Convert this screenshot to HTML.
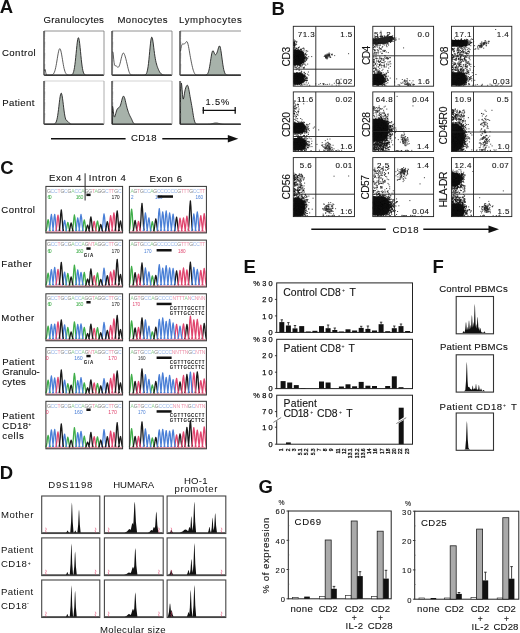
<!DOCTYPE html>
<html><head><meta charset="utf-8"><style>
html,body{margin:0;padding:0;background:#fff;}
body{width:520px;height:633px;overflow:hidden;}
svg{display:block;font-family:"Liberation Sans",sans-serif;filter:blur(0.3px);}
</style></head><body>
<svg width="520" height="633" viewBox="0 0 520 633" fill="#111">
<defs><clipPath id="cb00"><rect x="293.3" y="26.3" width="61.2" height="59.9"/></clipPath><clipPath id="cb01"><rect x="372.8" y="26.3" width="60.8" height="59.9"/></clipPath><clipPath id="cb02"><rect x="451.5" y="26.3" width="60.3" height="59.9"/></clipPath><clipPath id="cb10"><rect x="293.3" y="91.9" width="61.2" height="59.6"/></clipPath><clipPath id="cb11"><rect x="372.8" y="91.9" width="60.8" height="59.6"/></clipPath><clipPath id="cb12"><rect x="451.5" y="91.9" width="60.3" height="59.6"/></clipPath><clipPath id="cb20"><rect x="293.3" y="157.6" width="61.2" height="59"/></clipPath><clipPath id="cb21"><rect x="372.8" y="157.6" width="60.8" height="59"/></clipPath><clipPath id="cb22"><rect x="451.5" y="157.6" width="60.3" height="59"/></clipPath></defs>
<text x="-0.3" y="12.7" font-size="18.5" font-weight="bold">A</text><text x="43.4" y="22.8" font-size="9.6" textLength="60.5" stroke="#111" stroke-width="0.1">Granulocytes</text><text x="117.4" y="22.8" font-size="9.6" textLength="50.2" stroke="#111" stroke-width="0.1">Monocytes</text><text x="179" y="22.8" font-size="9.6" textLength="62.8" stroke="#111" stroke-width="0.1">Lymphocytes</text><text x="1.9" y="56.1" font-size="9.6" textLength="33.7" stroke="#111" stroke-width="0.1">Control</text><text x="2.2" y="105.8" font-size="9.6" textLength="32.2" stroke="#111" stroke-width="0.1">Patient</text><path d="M44.5 75.2 L44.5 75.2 L44.9 75.2 L45.3 75.2 L45.7 75.2 L46.1 75.2 L46.5 75.2 L46.9 75.2 L47.3 75.2 L47.7 75.2 L48.1 75.2 L48.5 75.2 L48.9 75.2 L49.3 75.2 L49.7 75.2 L50.1 75.2 L50.5 75.2 L50.9 75.2 L51.3 75.2 L51.7 75.2 L52.1 75.2 L52.5 75.2 L52.9 75.2 L53.3 75.2 L53.7 75.2 L54.1 75.2 L54.5 75.2 L54.9 75.2 L55.3 75.2 L55.7 75.2 L56.1 75.2 L56.5 75.2 L56.9 75.2 L57.3 75.2 L57.7 75.2 L58.1 75.2 L58.5 75.2 L58.9 75.2 L59.3 75.2 L59.7 75.2 L60.1 75.2 L60.5 75.2 L60.9 75.2 L61.3 75.2 L61.7 75.2 L62.1 75.2 L62.5 75.2 L62.9 75.2 L63.3 75.2 L63.7 75.2 L64.1 75.2 L64.5 75.2 L64.9 75.2 L65.3 75.2 L65.7 75.2 L66.1 75.2 L66.5 75.2 L66.9 75.2 L67.3 75.2 L67.7 75.2 L68.1 75.2 L68.5 75.2 L68.9 75.2 L69.3 75.2 L69.7 75.2 L70.1 75.2 L70.5 75.1 L70.9 75.1 L71.3 75 L71.7 74.8 L72.1 74.6 L72.5 74.2 L72.9 73.6 L73.3 72.6 L73.7 71.4 L74.1 69.6 L74.5 67.4 L74.9 64.6 L75.3 61.3 L75.7 57.5 L76.1 53.5 L76.5 49.4 L76.9 45.5 L77.3 42.1 L77.7 39.6 L78.1 38 L78.5 37.7 L78.9 38.7 L79.3 40.7 L79.7 43.7 L80.1 47.4 L80.5 51.4 L80.9 55.5 L81.3 59.5 L81.7 63 L82.1 66.1 L82.5 68.6 L82.9 70.6 L83.3 72.1 L83.7 73.1 L84.1 73.9 L84.5 74.4 L84.9 74.7 L85.3 74.9 L85.7 75 L86.1 75.1 L86.5 75.2 L86.9 75.2 L87.3 75.2 L87.7 75.2 L88.1 75.2 L88.5 75.2 L88.9 75.2 L89.3 75.2 L89.7 75.2 L90.1 75.2 L90.5 75.2 L90.9 75.2 L91.3 75.2 L91.7 75.2 L92.1 75.2 L92.5 75.2 L92.9 75.2 L93.3 75.2 L93.7 75.2 L94.1 75.2 L94.5 75.2 L94.9 75.2 L95.3 75.2 L95.7 75.2 L96.1 75.2 L96.5 75.2 L96.9 75.2 L97.3 75.2 L97.7 75.2 L98.1 75.2 L98.5 75.2 L98.9 75.2 L99.3 75.2 L99.7 75.2 L100.1 75.2 L100.5 75.2 L100.9 75.2 L101.3 75.2 L101.7 75.2 L102.1 75.2 L102.5 75.2 L102.9 75.2 L103.3 75.2 L103.3 75.2Z" fill="#a7b2aa" stroke="#222" stroke-width="0.9"/><path d="M44.5 71 L44.9 69.3 L45.3 69.9 L45.7 72.2 L46.1 74.1 L46.5 74.9 L46.9 75.2 L47.3 75.2 L47.7 75.2 L48.1 75.2 L48.5 75.2 L48.9 75.2 L49.3 75.2 L49.7 75.2 L50.1 75.2 L50.5 75.2 L50.9 75.1 L51.3 75.1 L51.7 75 L52.1 74.9 L52.5 74.7 L52.9 74.4 L53.3 74 L53.7 73.5 L54.1 72.8 L54.5 71.9 L54.9 70.7 L55.3 69.3 L55.7 67.6 L56.1 65.6 L56.5 63.4 L56.9 61 L57.3 58.5 L57.7 56.1 L58.1 53.8 L58.5 51.8 L58.9 50.2 L59.3 49.2 L59.7 48.7 L60.1 48.9 L60.5 49.6 L60.9 51 L61.3 52.8 L61.7 54.9 L62.1 57.3 L62.5 59.7 L62.9 62.2 L63.3 64.5 L63.7 66.6 L64.1 68.5 L64.5 70 L64.9 71.3 L65.3 72.4 L65.7 73.2 L66.1 73.8 L66.5 74.2 L66.9 74.6 L67.3 74.8 L67.7 74.9 L68.1 75 L68.5 75.1 L68.9 75.1 L69.3 75.2 L69.7 75.2 L70.1 75.2 L70.5 75.2 L70.9 75.2 L71.3 75.2 L71.7 75.2 L72.1 75.2 L72.5 75.2 L72.9 75.2 L73.3 75.2 L73.7 75.2 L74.1 75.2 L74.5 75.2 L74.9 75.2 L75.3 75.2 L75.7 75.2 L76.1 75.2 L76.5 75.2 L76.9 75.2 L77.3 75.2 L77.7 75.2 L78.1 75.2 L78.5 75.2 L78.9 75.2 L79.3 75.2 L79.7 75.2 L80.1 75.2 L80.5 75.2 L80.9 75.2 L81.3 75.2 L81.7 75.2 L82.1 75.2 L82.5 75.2 L82.9 75.2 L83.3 75.2 L83.7 75.2 L84.1 75.2 L84.5 75.2 L84.9 75.2 L85.3 75.2 L85.7 75.2 L86.1 75.2 L86.5 75.2 L86.9 75.2 L87.3 75.2 L87.7 75.2 L88.1 75.2 L88.5 75.2 L88.9 75.2 L89.3 75.2 L89.7 75.2 L90.1 75.2 L90.5 75.2 L90.9 75.2 L91.3 75.2 L91.7 75.2 L92.1 75.2 L92.5 75.2 L92.9 75.2 L93.3 75.2 L93.7 75.2 L94.1 75.2 L94.5 75.2 L94.9 75.2 L95.3 75.2 L95.7 75.2 L96.1 75.2 L96.5 75.2 L96.9 75.2 L97.3 75.2 L97.7 75.2 L98.1 75.2 L98.5 75.2 L98.9 75.2 L99.3 75.2 L99.7 75.2 L100.1 75.2 L100.5 75.2 L100.9 75.2 L101.3 75.2 L101.7 75.2 L102.1 75.2 L102.5 75.2 L102.9 75.2 L103.3 75.2" fill="none" stroke="#333" stroke-width="0.8"/><line x1="44" y1="31" x2="104" y2="31" stroke="#777" stroke-width="0.8"/><line x1="104" y1="31" x2="104" y2="75.2" stroke="#777" stroke-width="0.8"/><line x1="44" y1="75.2" x2="104" y2="75.2" stroke="#333" stroke-width="1.0"/><line x1="44" y1="31" x2="44" y2="75.2" stroke="#222" stroke-width="1.2"/><line x1="44" y1="75.2" x2="45.2" y2="75.2" stroke="#666" stroke-width="0.4"/><line x1="44" y1="71.9" x2="45.2" y2="71.9" stroke="#666" stroke-width="0.4"/><line x1="44" y1="69.9" x2="45.2" y2="69.9" stroke="#666" stroke-width="0.4"/><line x1="44" y1="68.6" x2="45.2" y2="68.6" stroke="#666" stroke-width="0.4"/><line x1="44" y1="67.5" x2="45.2" y2="67.5" stroke="#666" stroke-width="0.4"/><line x1="44" y1="66.6" x2="45.2" y2="66.6" stroke="#666" stroke-width="0.4"/><line x1="44" y1="65.8" x2="45.2" y2="65.8" stroke="#666" stroke-width="0.4"/><line x1="44" y1="65.3" x2="45.2" y2="65.3" stroke="#666" stroke-width="0.4"/><line x1="44" y1="64.7" x2="45.2" y2="64.7" stroke="#666" stroke-width="0.4"/><line x1="44" y1="64.2" x2="45.2" y2="64.2" stroke="#666" stroke-width="0.4"/><line x1="44" y1="60.8" x2="45.2" y2="60.8" stroke="#666" stroke-width="0.4"/><line x1="44" y1="58.8" x2="45.2" y2="58.8" stroke="#666" stroke-width="0.4"/><line x1="44" y1="57.5" x2="45.2" y2="57.5" stroke="#666" stroke-width="0.4"/><line x1="44" y1="56.4" x2="45.2" y2="56.4" stroke="#666" stroke-width="0.4"/><line x1="44" y1="55.5" x2="45.2" y2="55.5" stroke="#666" stroke-width="0.4"/><line x1="44" y1="54.8" x2="45.2" y2="54.8" stroke="#666" stroke-width="0.4"/><line x1="44" y1="54.2" x2="45.2" y2="54.2" stroke="#666" stroke-width="0.4"/><line x1="44" y1="53.7" x2="45.2" y2="53.7" stroke="#666" stroke-width="0.4"/><line x1="44" y1="53.1" x2="45.2" y2="53.1" stroke="#666" stroke-width="0.4"/><line x1="44" y1="49.8" x2="45.2" y2="49.8" stroke="#666" stroke-width="0.4"/><line x1="44" y1="47.8" x2="45.2" y2="47.8" stroke="#666" stroke-width="0.4"/><line x1="44" y1="46.5" x2="45.2" y2="46.5" stroke="#666" stroke-width="0.4"/><line x1="44" y1="45.4" x2="45.2" y2="45.4" stroke="#666" stroke-width="0.4"/><line x1="44" y1="44.5" x2="45.2" y2="44.5" stroke="#666" stroke-width="0.4"/><line x1="44" y1="43.7" x2="45.2" y2="43.7" stroke="#666" stroke-width="0.4"/><line x1="44" y1="43.2" x2="45.2" y2="43.2" stroke="#666" stroke-width="0.4"/><line x1="44" y1="42.6" x2="45.2" y2="42.6" stroke="#666" stroke-width="0.4"/><line x1="44" y1="42" x2="45.2" y2="42" stroke="#666" stroke-width="0.4"/><line x1="44" y1="38.7" x2="45.2" y2="38.7" stroke="#666" stroke-width="0.4"/><line x1="44" y1="36.7" x2="45.2" y2="36.7" stroke="#666" stroke-width="0.4"/><line x1="44" y1="35.4" x2="45.2" y2="35.4" stroke="#666" stroke-width="0.4"/><line x1="44" y1="34.3" x2="45.2" y2="34.3" stroke="#666" stroke-width="0.4"/><line x1="44" y1="33.4" x2="45.2" y2="33.4" stroke="#666" stroke-width="0.4"/><line x1="44" y1="32.7" x2="45.2" y2="32.7" stroke="#666" stroke-width="0.4"/><line x1="44" y1="32.1" x2="45.2" y2="32.1" stroke="#666" stroke-width="0.4"/><line x1="44" y1="31.6" x2="45.2" y2="31.6" stroke="#666" stroke-width="0.4"/><path d="M112.5 75.2 L112.5 75.2 L112.9 75.2 L113.3 75.2 L113.7 75.2 L114.1 75.2 L114.5 75.2 L114.9 75.2 L115.3 75.2 L115.7 75.2 L116.1 75.2 L116.5 75.2 L116.9 75.2 L117.3 75.2 L117.7 75.2 L118.1 75.2 L118.5 75.2 L118.9 75.2 L119.3 75.2 L119.7 75.2 L120.1 75.2 L120.5 75.2 L120.9 75.2 L121.3 75.2 L121.7 75.2 L122.1 75.2 L122.5 75.2 L122.9 75.2 L123.3 75.2 L123.7 75.2 L124.1 75.2 L124.5 75.2 L124.9 75.2 L125.3 75.2 L125.7 75.2 L126.1 75.2 L126.5 75.2 L126.9 75.2 L127.3 75.2 L127.7 75.2 L128.1 75.2 L128.5 75.2 L128.9 75.2 L129.3 75.2 L129.7 75.2 L130.1 75.2 L130.5 75.2 L130.9 75.2 L131.3 75.2 L131.7 75.2 L132.1 75.2 L132.5 75.2 L132.9 75.2 L133.3 75.2 L133.7 75.2 L134.1 75.2 L134.5 75.2 L134.9 75.2 L135.3 75.2 L135.7 75.2 L136.1 75.2 L136.5 75.2 L136.9 75.2 L137.3 75.2 L137.7 75.2 L138.1 75.2 L138.5 75.2 L138.9 75.2 L139.3 75.2 L139.7 75.2 L140.1 75.2 L140.5 75.2 L140.9 75.2 L141.3 75.2 L141.7 75.2 L142.1 75.2 L142.5 75.2 L142.9 75.2 L143.3 75.2 L143.7 75.1 L144.1 75.1 L144.5 75 L144.9 74.9 L145.3 74.8 L145.7 74.5 L146.1 74 L146.5 73.4 L146.9 72.4 L147.3 70.9 L147.7 69 L148.1 66.5 L148.5 63.4 L148.9 59.7 L149.3 55.6 L149.7 51.3 L150.1 47.1 L150.5 43.2 L150.9 40.1 L151.3 38.1 L151.7 37.2 L152.1 37.5 L152.5 38.9 L152.9 41.1 L153.3 44 L153.7 47.2 L154.1 50.4 L154.5 53.5 L154.9 56.2 L155.3 58.6 L155.7 60.7 L156.1 62.5 L156.5 64 L156.9 65.4 L157.3 66.6 L157.7 67.7 L158.1 68.7 L158.5 69.6 L158.9 70.5 L159.3 71.3 L159.7 72 L160.1 72.6 L160.5 73.1 L160.9 73.6 L161.3 73.9 L161.7 74.2 L162.1 74.5 L162.5 74.7 L162.9 74.8 L163.3 74.9 L163.7 75 L164.1 75.1 L164.5 75.1 L164.9 75.1 L165.3 75.2 L165.7 75.2 L166.1 75.2 L166.5 75.2 L166.9 75.2 L167.3 75.2 L167.7 75.2 L168.1 75.2 L168.5 75.2 L168.9 75.2 L169.3 75.2 L169.7 75.2 L170.1 75.2 L170.5 75.2 L170.9 75.2 L171.3 75.2 L171.3 75.2Z" fill="#a7b2aa" stroke="#222" stroke-width="0.9"/><path d="M112.5 51.8 L112.9 51.8 L113.3 54.9 L113.7 59.2 L114.1 62.8 L114.5 64.8 L114.9 65.6 L115.3 65.7 L115.7 65.8 L116.1 65.9 L116.5 66.2 L116.9 66.5 L117.3 66.9 L117.7 67.2 L118.1 67.3 L118.5 67.1 L118.9 66.6 L119.3 65.8 L119.7 64.7 L120.1 63.3 L120.5 61.7 L120.9 59.9 L121.3 58.2 L121.7 56.6 L122.1 55.2 L122.5 54.1 L122.9 53.3 L123.3 53 L123.7 53.2 L124.1 53.7 L124.5 54.5 L124.9 55.6 L125.3 56.9 L125.7 58.3 L126.1 59.8 L126.5 61.5 L126.9 63.2 L127.3 64.9 L127.7 66.7 L128.1 68.4 L128.5 69.9 L128.9 71.3 L129.3 72.4 L129.7 73.3 L130.1 73.9 L130.5 74.4 L130.9 74.7 L131.3 74.9 L131.7 75 L132.1 75.1 L132.5 75.1 L132.9 75.2 L133.3 75.2 L133.7 75.2 L134.1 75.2 L134.5 75.2 L134.9 75.2 L135.3 75.2 L135.7 75.2 L136.1 75.2 L136.5 75.2 L136.9 75.2 L137.3 75.2 L137.7 75.2 L138.1 75.2 L138.5 75.2 L138.9 75.2 L139.3 75.2 L139.7 75.2 L140.1 75.2 L140.5 75.2 L140.9 75.2 L141.3 75.2 L141.7 75.2 L142.1 75.2 L142.5 75.2 L142.9 75.2 L143.3 75.2 L143.7 75.2 L144.1 75.2 L144.5 75.2 L144.9 75.2 L145.3 75.2 L145.7 75.2 L146.1 75.2 L146.5 75.2 L146.9 75.2 L147.3 75.2 L147.7 75.2 L148.1 75.2 L148.5 75.2 L148.9 75.2 L149.3 75.2 L149.7 75.2 L150.1 75.2 L150.5 75.2 L150.9 75.2 L151.3 75.2 L151.7 75.2 L152.1 75.2 L152.5 75.2 L152.9 75.2 L153.3 75.2 L153.7 75.2 L154.1 75.2 L154.5 75.2 L154.9 75.2 L155.3 75.2 L155.7 75.2 L156.1 75.2 L156.5 75.2 L156.9 75.2 L157.3 75.2 L157.7 75.2 L158.1 75.2 L158.5 75.2 L158.9 75.2 L159.3 75.2 L159.7 75.2 L160.1 75.2 L160.5 75.2 L160.9 75.2 L161.3 75.2 L161.7 75.2 L162.1 75.2 L162.5 75.2 L162.9 75.2 L163.3 75.2 L163.7 75.2 L164.1 75.2 L164.5 75.2 L164.9 75.2 L165.3 75.2 L165.7 75.2 L166.1 75.2 L166.5 75.2 L166.9 75.2 L167.3 75.2 L167.7 75.2 L168.1 75.2 L168.5 75.2 L168.9 75.2 L169.3 75.2 L169.7 75.2 L170.1 75.2 L170.5 75.2 L170.9 75.2 L171.3 75.2" fill="none" stroke="#333" stroke-width="0.8"/><line x1="112" y1="31" x2="172" y2="31" stroke="#777" stroke-width="0.8"/><line x1="172" y1="31" x2="172" y2="75.2" stroke="#777" stroke-width="0.8"/><line x1="112" y1="75.2" x2="172" y2="75.2" stroke="#333" stroke-width="1.0"/><line x1="112" y1="31" x2="112" y2="75.2" stroke="#222" stroke-width="1.2"/><line x1="112" y1="75.2" x2="113.2" y2="75.2" stroke="#666" stroke-width="0.4"/><line x1="112" y1="71.9" x2="113.2" y2="71.9" stroke="#666" stroke-width="0.4"/><line x1="112" y1="69.9" x2="113.2" y2="69.9" stroke="#666" stroke-width="0.4"/><line x1="112" y1="68.6" x2="113.2" y2="68.6" stroke="#666" stroke-width="0.4"/><line x1="112" y1="67.5" x2="113.2" y2="67.5" stroke="#666" stroke-width="0.4"/><line x1="112" y1="66.6" x2="113.2" y2="66.6" stroke="#666" stroke-width="0.4"/><line x1="112" y1="65.8" x2="113.2" y2="65.8" stroke="#666" stroke-width="0.4"/><line x1="112" y1="65.3" x2="113.2" y2="65.3" stroke="#666" stroke-width="0.4"/><line x1="112" y1="64.7" x2="113.2" y2="64.7" stroke="#666" stroke-width="0.4"/><line x1="112" y1="64.2" x2="113.2" y2="64.2" stroke="#666" stroke-width="0.4"/><line x1="112" y1="60.8" x2="113.2" y2="60.8" stroke="#666" stroke-width="0.4"/><line x1="112" y1="58.8" x2="113.2" y2="58.8" stroke="#666" stroke-width="0.4"/><line x1="112" y1="57.5" x2="113.2" y2="57.5" stroke="#666" stroke-width="0.4"/><line x1="112" y1="56.4" x2="113.2" y2="56.4" stroke="#666" stroke-width="0.4"/><line x1="112" y1="55.5" x2="113.2" y2="55.5" stroke="#666" stroke-width="0.4"/><line x1="112" y1="54.8" x2="113.2" y2="54.8" stroke="#666" stroke-width="0.4"/><line x1="112" y1="54.2" x2="113.2" y2="54.2" stroke="#666" stroke-width="0.4"/><line x1="112" y1="53.7" x2="113.2" y2="53.7" stroke="#666" stroke-width="0.4"/><line x1="112" y1="53.1" x2="113.2" y2="53.1" stroke="#666" stroke-width="0.4"/><line x1="112" y1="49.8" x2="113.2" y2="49.8" stroke="#666" stroke-width="0.4"/><line x1="112" y1="47.8" x2="113.2" y2="47.8" stroke="#666" stroke-width="0.4"/><line x1="112" y1="46.5" x2="113.2" y2="46.5" stroke="#666" stroke-width="0.4"/><line x1="112" y1="45.4" x2="113.2" y2="45.4" stroke="#666" stroke-width="0.4"/><line x1="112" y1="44.5" x2="113.2" y2="44.5" stroke="#666" stroke-width="0.4"/><line x1="112" y1="43.7" x2="113.2" y2="43.7" stroke="#666" stroke-width="0.4"/><line x1="112" y1="43.2" x2="113.2" y2="43.2" stroke="#666" stroke-width="0.4"/><line x1="112" y1="42.6" x2="113.2" y2="42.6" stroke="#666" stroke-width="0.4"/><line x1="112" y1="42" x2="113.2" y2="42" stroke="#666" stroke-width="0.4"/><line x1="112" y1="38.7" x2="113.2" y2="38.7" stroke="#666" stroke-width="0.4"/><line x1="112" y1="36.7" x2="113.2" y2="36.7" stroke="#666" stroke-width="0.4"/><line x1="112" y1="35.4" x2="113.2" y2="35.4" stroke="#666" stroke-width="0.4"/><line x1="112" y1="34.3" x2="113.2" y2="34.3" stroke="#666" stroke-width="0.4"/><line x1="112" y1="33.4" x2="113.2" y2="33.4" stroke="#666" stroke-width="0.4"/><line x1="112" y1="32.7" x2="113.2" y2="32.7" stroke="#666" stroke-width="0.4"/><line x1="112" y1="32.1" x2="113.2" y2="32.1" stroke="#666" stroke-width="0.4"/><line x1="112" y1="31.6" x2="113.2" y2="31.6" stroke="#666" stroke-width="0.4"/><path d="M180.5 75.2 L180.5 75.2 L180.9 75.2 L181.3 75.2 L181.7 75.2 L182.1 75.2 L182.5 75.2 L182.9 75.2 L183.3 75.2 L183.7 75.2 L184.1 75.2 L184.5 75.2 L184.9 75.2 L185.3 75.2 L185.7 75.2 L186.1 75.2 L186.5 75.2 L186.9 75.2 L187.3 75.2 L187.7 75.2 L188.1 75.2 L188.5 75.2 L188.9 75.2 L189.3 75.2 L189.7 75.2 L190.1 75.2 L190.5 75.2 L190.9 75.2 L191.3 75.2 L191.7 75.2 L192.1 75.2 L192.5 75.2 L192.9 75.2 L193.3 75.2 L193.7 75.2 L194.1 75.2 L194.5 75.2 L194.9 75.2 L195.3 75.2 L195.7 75.2 L196.1 75.2 L196.5 75.2 L196.9 75.2 L197.3 75.2 L197.7 75.2 L198.1 75.2 L198.5 75.2 L198.9 75.2 L199.3 75.2 L199.7 75.2 L200.1 75.2 L200.5 75.2 L200.9 75.2 L201.3 75.2 L201.7 75.2 L202.1 75.2 L202.5 75.2 L202.9 75.2 L203.3 75.2 L203.7 75.2 L204.1 75.2 L204.5 75.2 L204.9 75.2 L205.3 75.1 L205.7 75.1 L206.1 75 L206.5 74.8 L206.9 74.5 L207.3 74.1 L207.7 73.6 L208.1 72.8 L208.5 71.6 L208.9 70.2 L209.3 68.4 L209.7 66.3 L210.1 63.9 L210.5 61.3 L210.9 58.6 L211.3 56.1 L211.7 53.9 L212.1 52.2 L212.5 51.1 L212.9 50.7 L213.3 51 L213.7 51.7 L214.1 52.6 L214.5 53.6 L214.9 54.4 L215.3 54.7 L215.7 54.7 L216.1 54.4 L216.5 53.7 L216.9 52.9 L217.3 51.8 L217.7 50.5 L218.1 49.1 L218.5 47.8 L218.9 46.6 L219.3 46 L219.7 46 L220.1 46.8 L220.5 48.3 L220.9 50.5 L221.3 53.1 L221.7 56.1 L222.1 59.1 L222.5 62.1 L222.9 64.8 L223.3 67.2 L223.7 69.3 L224.1 70.9 L224.5 72.2 L224.9 73.2 L225.3 73.9 L225.7 74.3 L226.1 74.7 L226.5 74.9 L226.9 75 L227.3 75.1 L227.7 75.1 L228.1 75.2 L228.5 75.2 L228.9 75.2 L229.3 75.2 L229.7 75.2 L230.1 75.2 L230.5 75.2 L230.9 75.2 L231.3 75.2 L231.7 75.2 L232.1 75.2 L232.5 75.2 L232.9 75.2 L233.3 75.2 L233.7 75.2 L234.1 75.2 L234.5 75.2 L234.9 75.2 L235.3 75.2 L235.7 75.2 L236.1 75.2 L236.5 75.2 L236.9 75.2 L237.3 75.2 L237.7 75.2 L238.1 75.2 L238.5 75.2 L238.9 75.2 L239.3 75.2 L239.7 75.2 L240.1 75.2 L240.5 75.2 L240.5 75.2Z" fill="#a7b2aa" stroke="#222" stroke-width="0.9"/><path d="M180.5 51.3 L180.9 48.7 L181.3 46.7 L181.7 45.3 L182.1 44.4 L182.5 44 L182.9 43.9 L183.3 44 L183.7 44 L184.1 44 L184.5 43.9 L184.9 43.5 L185.3 43.1 L185.7 42.5 L186.1 42 L186.5 41.6 L186.9 41.6 L187.3 42.1 L187.7 43.1 L188.1 44.5 L188.5 46.4 L188.9 48.5 L189.3 50.8 L189.7 53.1 L190.1 55.5 L190.5 57.7 L190.9 59.8 L191.3 61.9 L191.7 63.8 L192.1 65.7 L192.5 67.4 L192.9 69 L193.3 70.3 L193.7 71.5 L194.1 72.5 L194.5 73.3 L194.9 73.9 L195.3 74.4 L195.7 74.7 L196.1 74.9 L196.5 75 L196.9 75.1 L197.3 75.1 L197.7 75.2 L198.1 75.2 L198.5 75.2 L198.9 75.2 L199.3 75.2 L199.7 75.2 L200.1 75.2 L200.5 75.2 L200.9 75.2 L201.3 75.2 L201.7 75.2 L202.1 75.2 L202.5 75.2 L202.9 75.2 L203.3 75.2 L203.7 75.2 L204.1 75.2 L204.5 75.2 L204.9 75.2 L205.3 75.2 L205.7 75.2 L206.1 75.2 L206.5 75.2 L206.9 75.2 L207.3 75.2 L207.7 75.2 L208.1 75.2 L208.5 75.2 L208.9 75.2 L209.3 75.2 L209.7 75.2 L210.1 75.2 L210.5 75.2 L210.9 75.2 L211.3 75.2 L211.7 75.2 L212.1 75.2 L212.5 75.2 L212.9 75.2 L213.3 75.2 L213.7 75.2 L214.1 75.2 L214.5 75.2 L214.9 75.2 L215.3 75.2 L215.7 75.2 L216.1 75.2 L216.5 75.2 L216.9 75.2 L217.3 75.2 L217.7 75.2 L218.1 75.2 L218.5 75.2 L218.9 75.2 L219.3 75.2 L219.7 75.2 L220.1 75.2 L220.5 75.2 L220.9 75.2 L221.3 75.2 L221.7 75.2 L222.1 75.2 L222.5 75.2 L222.9 75.2 L223.3 75.2 L223.7 75.2 L224.1 75.2 L224.5 75.2 L224.9 75.2 L225.3 75.2 L225.7 75.2 L226.1 75.2 L226.5 75.2 L226.9 75.2 L227.3 75.2 L227.7 75.2 L228.1 75.2 L228.5 75.2 L228.9 75.2 L229.3 75.2 L229.7 75.2 L230.1 75.2 L230.5 75.2 L230.9 75.2 L231.3 75.2 L231.7 75.2 L232.1 75.2 L232.5 75.2 L232.9 75.2 L233.3 75.2 L233.7 75.2 L234.1 75.2 L234.5 75.2 L234.9 75.2 L235.3 75.2 L235.7 75.2 L236.1 75.2 L236.5 75.2 L236.9 75.2 L237.3 75.2 L237.7 75.2 L238.1 75.2 L238.5 75.2 L238.9 75.2 L239.3 75.2 L239.7 75.2 L240.1 75.2 L240.5 75.2" fill="none" stroke="#333" stroke-width="0.8"/><line x1="180" y1="31" x2="241" y2="31" stroke="#777" stroke-width="0.8"/><line x1="180" y1="75.2" x2="241" y2="75.2" stroke="#333" stroke-width="1.0"/><line x1="180" y1="31" x2="180" y2="75.2" stroke="#222" stroke-width="1.2"/><line x1="180" y1="75.2" x2="181.2" y2="75.2" stroke="#666" stroke-width="0.4"/><line x1="180" y1="71.9" x2="181.2" y2="71.9" stroke="#666" stroke-width="0.4"/><line x1="180" y1="69.9" x2="181.2" y2="69.9" stroke="#666" stroke-width="0.4"/><line x1="180" y1="68.6" x2="181.2" y2="68.6" stroke="#666" stroke-width="0.4"/><line x1="180" y1="67.5" x2="181.2" y2="67.5" stroke="#666" stroke-width="0.4"/><line x1="180" y1="66.6" x2="181.2" y2="66.6" stroke="#666" stroke-width="0.4"/><line x1="180" y1="65.8" x2="181.2" y2="65.8" stroke="#666" stroke-width="0.4"/><line x1="180" y1="65.3" x2="181.2" y2="65.3" stroke="#666" stroke-width="0.4"/><line x1="180" y1="64.7" x2="181.2" y2="64.7" stroke="#666" stroke-width="0.4"/><line x1="180" y1="64.2" x2="181.2" y2="64.2" stroke="#666" stroke-width="0.4"/><line x1="180" y1="60.8" x2="181.2" y2="60.8" stroke="#666" stroke-width="0.4"/><line x1="180" y1="58.8" x2="181.2" y2="58.8" stroke="#666" stroke-width="0.4"/><line x1="180" y1="57.5" x2="181.2" y2="57.5" stroke="#666" stroke-width="0.4"/><line x1="180" y1="56.4" x2="181.2" y2="56.4" stroke="#666" stroke-width="0.4"/><line x1="180" y1="55.5" x2="181.2" y2="55.5" stroke="#666" stroke-width="0.4"/><line x1="180" y1="54.8" x2="181.2" y2="54.8" stroke="#666" stroke-width="0.4"/><line x1="180" y1="54.2" x2="181.2" y2="54.2" stroke="#666" stroke-width="0.4"/><line x1="180" y1="53.7" x2="181.2" y2="53.7" stroke="#666" stroke-width="0.4"/><line x1="180" y1="53.1" x2="181.2" y2="53.1" stroke="#666" stroke-width="0.4"/><line x1="180" y1="49.8" x2="181.2" y2="49.8" stroke="#666" stroke-width="0.4"/><line x1="180" y1="47.8" x2="181.2" y2="47.8" stroke="#666" stroke-width="0.4"/><line x1="180" y1="46.5" x2="181.2" y2="46.5" stroke="#666" stroke-width="0.4"/><line x1="180" y1="45.4" x2="181.2" y2="45.4" stroke="#666" stroke-width="0.4"/><line x1="180" y1="44.5" x2="181.2" y2="44.5" stroke="#666" stroke-width="0.4"/><line x1="180" y1="43.7" x2="181.2" y2="43.7" stroke="#666" stroke-width="0.4"/><line x1="180" y1="43.2" x2="181.2" y2="43.2" stroke="#666" stroke-width="0.4"/><line x1="180" y1="42.6" x2="181.2" y2="42.6" stroke="#666" stroke-width="0.4"/><line x1="180" y1="42" x2="181.2" y2="42" stroke="#666" stroke-width="0.4"/><line x1="180" y1="38.7" x2="181.2" y2="38.7" stroke="#666" stroke-width="0.4"/><line x1="180" y1="36.7" x2="181.2" y2="36.7" stroke="#666" stroke-width="0.4"/><line x1="180" y1="35.4" x2="181.2" y2="35.4" stroke="#666" stroke-width="0.4"/><line x1="180" y1="34.3" x2="181.2" y2="34.3" stroke="#666" stroke-width="0.4"/><line x1="180" y1="33.4" x2="181.2" y2="33.4" stroke="#666" stroke-width="0.4"/><line x1="180" y1="32.7" x2="181.2" y2="32.7" stroke="#666" stroke-width="0.4"/><line x1="180" y1="32.1" x2="181.2" y2="32.1" stroke="#666" stroke-width="0.4"/><line x1="180" y1="31.6" x2="181.2" y2="31.6" stroke="#666" stroke-width="0.4"/><path d="M44.5 124.2 L44.5 124.2 L44.9 124.2 L45.3 124.2 L45.7 124.2 L46.1 124.2 L46.5 124.2 L46.9 124.2 L47.3 124.2 L47.7 124.2 L48.1 124.2 L48.5 124.2 L48.9 124.2 L49.3 124.2 L49.7 124.2 L50.1 124.2 L50.5 124.2 L50.9 124.2 L51.3 124.2 L51.7 124.2 L52.1 124.2 L52.5 124.2 L52.9 124.2 L53.3 124.2 L53.7 124.1 L54.1 124 L54.5 123.9 L54.9 123.7 L55.3 123.3 L55.7 122.8 L56.1 122.1 L56.5 121 L56.9 119.6 L57.3 117.8 L57.7 115.5 L58.1 112.7 L58.5 109.6 L58.9 106.3 L59.3 102.8 L59.7 99.6 L60.1 96.8 L60.5 94.7 L60.9 93.5 L61.3 93.2 L61.7 94 L62.1 95.7 L62.5 98.2 L62.9 101.2 L63.3 104.5 L63.7 107.8 L64.1 111 L64.5 113.8 L64.9 116.1 L65.3 117.9 L65.7 119.2 L66.1 120 L66.5 120.5 L66.9 120.8 L67.3 121.1 L67.7 121.3 L68.1 121.7 L68.5 122.1 L68.9 122.5 L69.3 122.9 L69.7 123.3 L70.1 123.6 L70.5 123.9 L70.9 124 L71.3 124.1 L71.7 124.2 L72.1 124.2 L72.5 124.2 L72.9 124.2 L73.3 124.2 L73.7 124.2 L74.1 124.2 L74.5 124.2 L74.9 124.2 L75.3 124.2 L75.7 124.2 L76.1 124.2 L76.5 124.2 L76.9 124.2 L77.3 124.2 L77.7 124.2 L78.1 124.2 L78.5 124.2 L78.9 124.2 L79.3 124.2 L79.7 124.2 L80.1 124.2 L80.5 124.2 L80.9 124.2 L81.3 124.2 L81.7 124.2 L82.1 124.2 L82.5 124.2 L82.9 124.2 L83.3 124.2 L83.7 124.2 L84.1 124.2 L84.5 124.2 L84.9 124.2 L85.3 124.2 L85.7 124.2 L86.1 124.2 L86.5 124.2 L86.9 124.2 L87.3 124.2 L87.7 124.2 L88.1 124.2 L88.5 124.2 L88.9 124.2 L89.3 124.2 L89.7 124.2 L90.1 124.2 L90.5 124.2 L90.9 124.2 L91.3 124.2 L91.7 124.2 L92.1 124.2 L92.5 124.2 L92.9 124.2 L93.3 124.2 L93.7 124.2 L94.1 124.2 L94.5 124.2 L94.9 124.2 L95.3 124.2 L95.7 124.2 L96.1 124.2 L96.5 124.2 L96.9 124.2 L97.3 124.2 L97.7 124.2 L98.1 124.2 L98.5 124.2 L98.9 124.2 L99.3 124.2 L99.7 124.2 L100.1 124.2 L100.5 124.2 L100.9 124.2 L101.3 124.2 L101.7 124.2 L102.1 124.2 L102.5 124.2 L102.9 124.2 L103.3 124.2 L103.3 124.2Z" fill="#a7b2aa" stroke="#222" stroke-width="0.9"/><line x1="44" y1="81" x2="104" y2="81" stroke="#c8c8c8" stroke-width="0.8"/><line x1="104" y1="81" x2="104" y2="124.2" stroke="#999" stroke-width="0.8"/><line x1="44" y1="124.2" x2="104" y2="124.2" stroke="#333" stroke-width="1.0"/><line x1="44" y1="81" x2="44" y2="124.2" stroke="#222" stroke-width="1.2"/><line x1="44" y1="124.2" x2="45.2" y2="124.2" stroke="#666" stroke-width="0.4"/><line x1="44" y1="121" x2="45.2" y2="121" stroke="#666" stroke-width="0.4"/><line x1="44" y1="119" x2="45.2" y2="119" stroke="#666" stroke-width="0.4"/><line x1="44" y1="117.7" x2="45.2" y2="117.7" stroke="#666" stroke-width="0.4"/><line x1="44" y1="116.6" x2="45.2" y2="116.6" stroke="#666" stroke-width="0.4"/><line x1="44" y1="115.8" x2="45.2" y2="115.8" stroke="#666" stroke-width="0.4"/><line x1="44" y1="115" x2="45.2" y2="115" stroke="#666" stroke-width="0.4"/><line x1="44" y1="114.5" x2="45.2" y2="114.5" stroke="#666" stroke-width="0.4"/><line x1="44" y1="113.9" x2="45.2" y2="113.9" stroke="#666" stroke-width="0.4"/><line x1="44" y1="113.4" x2="45.2" y2="113.4" stroke="#666" stroke-width="0.4"/><line x1="44" y1="110.2" x2="45.2" y2="110.2" stroke="#666" stroke-width="0.4"/><line x1="44" y1="108.2" x2="45.2" y2="108.2" stroke="#666" stroke-width="0.4"/><line x1="44" y1="106.9" x2="45.2" y2="106.9" stroke="#666" stroke-width="0.4"/><line x1="44" y1="105.8" x2="45.2" y2="105.8" stroke="#666" stroke-width="0.4"/><line x1="44" y1="105" x2="45.2" y2="105" stroke="#666" stroke-width="0.4"/><line x1="44" y1="104.2" x2="45.2" y2="104.2" stroke="#666" stroke-width="0.4"/><line x1="44" y1="103.7" x2="45.2" y2="103.7" stroke="#666" stroke-width="0.4"/><line x1="44" y1="103.1" x2="45.2" y2="103.1" stroke="#666" stroke-width="0.4"/><line x1="44" y1="102.6" x2="45.2" y2="102.6" stroke="#666" stroke-width="0.4"/><line x1="44" y1="99.4" x2="45.2" y2="99.4" stroke="#666" stroke-width="0.4"/><line x1="44" y1="97.4" x2="45.2" y2="97.4" stroke="#666" stroke-width="0.4"/><line x1="44" y1="96.1" x2="45.2" y2="96.1" stroke="#666" stroke-width="0.4"/><line x1="44" y1="95" x2="45.2" y2="95" stroke="#666" stroke-width="0.4"/><line x1="44" y1="94.2" x2="45.2" y2="94.2" stroke="#666" stroke-width="0.4"/><line x1="44" y1="93.4" x2="45.2" y2="93.4" stroke="#666" stroke-width="0.4"/><line x1="44" y1="92.9" x2="45.2" y2="92.9" stroke="#666" stroke-width="0.4"/><line x1="44" y1="92.3" x2="45.2" y2="92.3" stroke="#666" stroke-width="0.4"/><line x1="44" y1="91.8" x2="45.2" y2="91.8" stroke="#666" stroke-width="0.4"/><line x1="44" y1="88.6" x2="45.2" y2="88.6" stroke="#666" stroke-width="0.4"/><line x1="44" y1="86.6" x2="45.2" y2="86.6" stroke="#666" stroke-width="0.4"/><line x1="44" y1="85.3" x2="45.2" y2="85.3" stroke="#666" stroke-width="0.4"/><line x1="44" y1="84.2" x2="45.2" y2="84.2" stroke="#666" stroke-width="0.4"/><line x1="44" y1="83.4" x2="45.2" y2="83.4" stroke="#666" stroke-width="0.4"/><line x1="44" y1="82.6" x2="45.2" y2="82.6" stroke="#666" stroke-width="0.4"/><line x1="44" y1="82.1" x2="45.2" y2="82.1" stroke="#666" stroke-width="0.4"/><line x1="44" y1="81.5" x2="45.2" y2="81.5" stroke="#666" stroke-width="0.4"/><path d="M112.5 124.2 L112.5 106 L112.9 107.7 L113.3 111.2 L113.7 114.6 L114.1 116.6 L114.5 117.1 L114.9 116.4 L115.3 115.1 L115.7 113.7 L116.1 112.2 L116.5 110.9 L116.9 109.8 L117.3 109 L117.7 108.4 L118.1 108 L118.5 107.8 L118.9 107.6 L119.3 107.3 L119.7 106.8 L120.1 106.1 L120.5 105.1 L120.9 103.8 L121.3 102.3 L121.7 100.7 L122.1 99.1 L122.5 97.8 L122.9 96.8 L123.3 96.2 L123.7 96.2 L124.1 96.7 L124.5 97.6 L124.9 98.9 L125.3 100.5 L125.7 102.3 L126.1 104.1 L126.5 105.8 L126.9 107.3 L127.3 108.8 L127.7 110.1 L128.1 111.3 L128.5 112.5 L128.9 113.5 L129.3 114.5 L129.7 115.4 L130.1 116.2 L130.5 117 L130.9 117.7 L131.3 118.5 L131.7 119.3 L132.1 120.3 L132.5 121.2 L132.9 122.1 L133.3 122.8 L133.7 123.3 L134.1 123.7 L134.5 123.9 L134.9 124 L135.3 124.1 L135.7 124.2 L136.1 124.2 L136.5 124.2 L136.9 124.2 L137.3 124.2 L137.7 124.2 L138.1 124.2 L138.5 124.2 L138.9 124.2 L139.3 124.2 L139.7 124.2 L140.1 124.2 L140.5 124.2 L140.9 124.2 L141.3 124.2 L141.7 124.2 L142.1 124.2 L142.5 124.2 L142.9 124.2 L143.3 124.2 L143.7 124.2 L144.1 124.2 L144.5 124.2 L144.9 124.2 L145.3 124.2 L145.7 124.2 L146.1 124.2 L146.5 124.2 L146.9 124.2 L147.3 124.2 L147.7 124.2 L148.1 124.2 L148.5 124.2 L148.9 124.2 L149.3 124.2 L149.7 124.2 L150.1 124.2 L150.5 124.2 L150.9 124.2 L151.3 124.2 L151.7 124.2 L152.1 124.2 L152.5 124.2 L152.9 124.2 L153.3 124.2 L153.7 124.2 L154.1 124.2 L154.5 124.2 L154.9 124.2 L155.3 124.2 L155.7 124.2 L156.1 124.2 L156.5 124.2 L156.9 124.2 L157.3 124.2 L157.7 124.2 L158.1 124.2 L158.5 124.2 L158.9 124.2 L159.3 124.2 L159.7 124.2 L160.1 124.2 L160.5 124.2 L160.9 124.2 L161.3 124.2 L161.7 124.2 L162.1 124.2 L162.5 124.2 L162.9 124.2 L163.3 124.2 L163.7 124.2 L164.1 124.2 L164.5 124.2 L164.9 124.2 L165.3 124.2 L165.7 124.2 L166.1 124.2 L166.5 124.2 L166.9 124.2 L167.3 124.2 L167.7 124.2 L168.1 124.2 L168.5 124.2 L168.9 124.2 L169.3 124.2 L169.7 124.2 L170.1 124.2 L170.5 124.2 L170.9 124.2 L171.3 124.2 L171.3 124.2Z" fill="#a7b2aa" stroke="#222" stroke-width="0.9"/><line x1="112" y1="81" x2="172" y2="81" stroke="#c8c8c8" stroke-width="0.8"/><line x1="172" y1="81" x2="172" y2="124.2" stroke="#999" stroke-width="0.8"/><line x1="112" y1="124.2" x2="172" y2="124.2" stroke="#333" stroke-width="1.0"/><line x1="112" y1="81" x2="112" y2="124.2" stroke="#222" stroke-width="1.2"/><line x1="112" y1="124.2" x2="113.2" y2="124.2" stroke="#666" stroke-width="0.4"/><line x1="112" y1="121" x2="113.2" y2="121" stroke="#666" stroke-width="0.4"/><line x1="112" y1="119" x2="113.2" y2="119" stroke="#666" stroke-width="0.4"/><line x1="112" y1="117.7" x2="113.2" y2="117.7" stroke="#666" stroke-width="0.4"/><line x1="112" y1="116.6" x2="113.2" y2="116.6" stroke="#666" stroke-width="0.4"/><line x1="112" y1="115.8" x2="113.2" y2="115.8" stroke="#666" stroke-width="0.4"/><line x1="112" y1="115" x2="113.2" y2="115" stroke="#666" stroke-width="0.4"/><line x1="112" y1="114.5" x2="113.2" y2="114.5" stroke="#666" stroke-width="0.4"/><line x1="112" y1="113.9" x2="113.2" y2="113.9" stroke="#666" stroke-width="0.4"/><line x1="112" y1="113.4" x2="113.2" y2="113.4" stroke="#666" stroke-width="0.4"/><line x1="112" y1="110.2" x2="113.2" y2="110.2" stroke="#666" stroke-width="0.4"/><line x1="112" y1="108.2" x2="113.2" y2="108.2" stroke="#666" stroke-width="0.4"/><line x1="112" y1="106.9" x2="113.2" y2="106.9" stroke="#666" stroke-width="0.4"/><line x1="112" y1="105.8" x2="113.2" y2="105.8" stroke="#666" stroke-width="0.4"/><line x1="112" y1="105" x2="113.2" y2="105" stroke="#666" stroke-width="0.4"/><line x1="112" y1="104.2" x2="113.2" y2="104.2" stroke="#666" stroke-width="0.4"/><line x1="112" y1="103.7" x2="113.2" y2="103.7" stroke="#666" stroke-width="0.4"/><line x1="112" y1="103.1" x2="113.2" y2="103.1" stroke="#666" stroke-width="0.4"/><line x1="112" y1="102.6" x2="113.2" y2="102.6" stroke="#666" stroke-width="0.4"/><line x1="112" y1="99.4" x2="113.2" y2="99.4" stroke="#666" stroke-width="0.4"/><line x1="112" y1="97.4" x2="113.2" y2="97.4" stroke="#666" stroke-width="0.4"/><line x1="112" y1="96.1" x2="113.2" y2="96.1" stroke="#666" stroke-width="0.4"/><line x1="112" y1="95" x2="113.2" y2="95" stroke="#666" stroke-width="0.4"/><line x1="112" y1="94.2" x2="113.2" y2="94.2" stroke="#666" stroke-width="0.4"/><line x1="112" y1="93.4" x2="113.2" y2="93.4" stroke="#666" stroke-width="0.4"/><line x1="112" y1="92.9" x2="113.2" y2="92.9" stroke="#666" stroke-width="0.4"/><line x1="112" y1="92.3" x2="113.2" y2="92.3" stroke="#666" stroke-width="0.4"/><line x1="112" y1="91.8" x2="113.2" y2="91.8" stroke="#666" stroke-width="0.4"/><line x1="112" y1="88.6" x2="113.2" y2="88.6" stroke="#666" stroke-width="0.4"/><line x1="112" y1="86.6" x2="113.2" y2="86.6" stroke="#666" stroke-width="0.4"/><line x1="112" y1="85.3" x2="113.2" y2="85.3" stroke="#666" stroke-width="0.4"/><line x1="112" y1="84.2" x2="113.2" y2="84.2" stroke="#666" stroke-width="0.4"/><line x1="112" y1="83.4" x2="113.2" y2="83.4" stroke="#666" stroke-width="0.4"/><line x1="112" y1="82.6" x2="113.2" y2="82.6" stroke="#666" stroke-width="0.4"/><line x1="112" y1="82.1" x2="113.2" y2="82.1" stroke="#666" stroke-width="0.4"/><line x1="112" y1="81.5" x2="113.2" y2="81.5" stroke="#666" stroke-width="0.4"/><path d="M180.5 124.2 L180.5 92 L180.9 85.6 L181.3 83.1 L181.7 84.9 L182.1 89.5 L182.5 94.5 L182.9 98 L183.3 99.1 L183.7 98 L184.1 95.8 L184.5 93.2 L184.9 91 L185.3 89.2 L185.7 87.8 L186.1 86.8 L186.5 86 L186.9 85.4 L187.3 85.2 L187.7 85.5 L188.1 86.3 L188.5 87.8 L188.9 89.7 L189.3 91.9 L189.7 94.3 L190.1 96.7 L190.5 98.9 L190.9 101.1 L191.3 103.2 L191.7 105.4 L192.1 107.7 L192.5 110.2 L192.9 112.8 L193.3 115.3 L193.7 117.6 L194.1 119.5 L194.5 121.1 L194.9 122.2 L195.3 123 L195.7 123.5 L196.1 123.8 L196.5 124 L196.9 124.1 L197.3 124.1 L197.7 124.2 L198.1 124.2 L198.5 124.2 L198.9 124.2 L199.3 124.2 L199.7 124.2 L200.1 124.2 L200.5 124.2 L200.9 124.2 L201.3 124.2 L201.7 124.2 L202.1 124.2 L202.5 124.2 L202.9 124.2 L203.3 124.2 L203.7 124.2 L204.1 124.2 L204.5 124.2 L204.9 124.2 L205.3 124.2 L205.7 124.2 L206.1 124.2 L206.5 124.2 L206.9 124.2 L207.3 124.2 L207.7 124.2 L208.1 124.2 L208.5 124.1 L208.9 124.1 L209.3 124.1 L209.7 124.1 L210.1 124 L210.5 124 L210.9 123.9 L211.3 123.8 L211.7 123.8 L212.1 123.7 L212.5 123.6 L212.9 123.5 L213.3 123.4 L213.7 123.3 L214.1 123.2 L214.5 123.1 L214.9 123.1 L215.3 123 L215.7 123 L216.1 123 L216.5 123 L216.9 123.1 L217.3 123.1 L217.7 123.2 L218.1 123.3 L218.5 123.4 L218.9 123.4 L219.3 123.5 L219.7 123.6 L220.1 123.7 L220.5 123.8 L220.9 123.9 L221.3 123.9 L221.7 124 L222.1 124 L222.5 124.1 L222.9 124.1 L223.3 124.1 L223.7 124.2 L224.1 124.2 L224.5 124.2 L224.9 124.2 L225.3 124.2 L225.7 124.2 L226.1 124.2 L226.5 124.2 L226.9 124.2 L227.3 124.2 L227.7 124.2 L228.1 124.2 L228.5 124.2 L228.9 124.2 L229.3 124.2 L229.7 124.2 L230.1 124.2 L230.5 124.2 L230.9 124.2 L231.3 124.2 L231.7 124.2 L232.1 124.2 L232.5 124.2 L232.9 124.2 L233.3 124.2 L233.7 124.2 L234.1 124.2 L234.5 124.2 L234.9 124.2 L235.3 124.2 L235.7 124.2 L236.1 124.2 L236.5 124.2 L236.9 124.2 L237.3 124.2 L237.7 124.2 L238.1 124.2 L238.5 124.2 L238.9 124.2 L239.3 124.2 L239.7 124.2 L240.1 124.2 L240.5 124.2 L240.5 124.2Z" fill="#a7b2aa" stroke="#222" stroke-width="0.9"/><line x1="180" y1="124.2" x2="241" y2="124.2" stroke="#333" stroke-width="1.0"/><line x1="180" y1="81" x2="180" y2="124.2" stroke="#222" stroke-width="1.2"/><line x1="180" y1="124.2" x2="181.2" y2="124.2" stroke="#666" stroke-width="0.4"/><line x1="180" y1="121" x2="181.2" y2="121" stroke="#666" stroke-width="0.4"/><line x1="180" y1="119" x2="181.2" y2="119" stroke="#666" stroke-width="0.4"/><line x1="180" y1="117.7" x2="181.2" y2="117.7" stroke="#666" stroke-width="0.4"/><line x1="180" y1="116.6" x2="181.2" y2="116.6" stroke="#666" stroke-width="0.4"/><line x1="180" y1="115.8" x2="181.2" y2="115.8" stroke="#666" stroke-width="0.4"/><line x1="180" y1="115" x2="181.2" y2="115" stroke="#666" stroke-width="0.4"/><line x1="180" y1="114.5" x2="181.2" y2="114.5" stroke="#666" stroke-width="0.4"/><line x1="180" y1="113.9" x2="181.2" y2="113.9" stroke="#666" stroke-width="0.4"/><line x1="180" y1="113.4" x2="181.2" y2="113.4" stroke="#666" stroke-width="0.4"/><line x1="180" y1="110.2" x2="181.2" y2="110.2" stroke="#666" stroke-width="0.4"/><line x1="180" y1="108.2" x2="181.2" y2="108.2" stroke="#666" stroke-width="0.4"/><line x1="180" y1="106.9" x2="181.2" y2="106.9" stroke="#666" stroke-width="0.4"/><line x1="180" y1="105.8" x2="181.2" y2="105.8" stroke="#666" stroke-width="0.4"/><line x1="180" y1="105" x2="181.2" y2="105" stroke="#666" stroke-width="0.4"/><line x1="180" y1="104.2" x2="181.2" y2="104.2" stroke="#666" stroke-width="0.4"/><line x1="180" y1="103.7" x2="181.2" y2="103.7" stroke="#666" stroke-width="0.4"/><line x1="180" y1="103.1" x2="181.2" y2="103.1" stroke="#666" stroke-width="0.4"/><line x1="180" y1="102.6" x2="181.2" y2="102.6" stroke="#666" stroke-width="0.4"/><line x1="180" y1="99.4" x2="181.2" y2="99.4" stroke="#666" stroke-width="0.4"/><line x1="180" y1="97.4" x2="181.2" y2="97.4" stroke="#666" stroke-width="0.4"/><line x1="180" y1="96.1" x2="181.2" y2="96.1" stroke="#666" stroke-width="0.4"/><line x1="180" y1="95" x2="181.2" y2="95" stroke="#666" stroke-width="0.4"/><line x1="180" y1="94.2" x2="181.2" y2="94.2" stroke="#666" stroke-width="0.4"/><line x1="180" y1="93.4" x2="181.2" y2="93.4" stroke="#666" stroke-width="0.4"/><line x1="180" y1="92.9" x2="181.2" y2="92.9" stroke="#666" stroke-width="0.4"/><line x1="180" y1="92.3" x2="181.2" y2="92.3" stroke="#666" stroke-width="0.4"/><line x1="180" y1="91.8" x2="181.2" y2="91.8" stroke="#666" stroke-width="0.4"/><line x1="180" y1="88.6" x2="181.2" y2="88.6" stroke="#666" stroke-width="0.4"/><line x1="180" y1="86.6" x2="181.2" y2="86.6" stroke="#666" stroke-width="0.4"/><line x1="180" y1="85.3" x2="181.2" y2="85.3" stroke="#666" stroke-width="0.4"/><line x1="180" y1="84.2" x2="181.2" y2="84.2" stroke="#666" stroke-width="0.4"/><line x1="180" y1="83.4" x2="181.2" y2="83.4" stroke="#666" stroke-width="0.4"/><line x1="180" y1="82.6" x2="181.2" y2="82.6" stroke="#666" stroke-width="0.4"/><line x1="180" y1="82.1" x2="181.2" y2="82.1" stroke="#666" stroke-width="0.4"/><line x1="180" y1="81.5" x2="181.2" y2="81.5" stroke="#666" stroke-width="0.4"/><text x="205.4" y="104.8" font-size="9.3" textLength="23.8" stroke="#111" stroke-width="0.1">1.5%</text><line x1="202.7" y1="110.4" x2="235.8" y2="110.4" stroke="#111" stroke-width="1.3"/><line x1="203.3" y1="107" x2="203.3" y2="113.8" stroke="#111" stroke-width="1.3"/><line x1="235.2" y1="107" x2="235.2" y2="113.8" stroke="#111" stroke-width="1.3"/><line x1="51" y1="138.7" x2="125.6" y2="138.7" stroke="#111" stroke-width="1.5"/><text x="131" y="141.3" font-size="9.6" textLength="25.5" stroke="#111" stroke-width="0.1">CD18</text><line x1="162.3" y1="138.7" x2="228.8" y2="138.7" stroke="#111" stroke-width="1.5"/><path d="M227.8 135 L238.3 138.7 L227.8 142.4Z" fill="#111"/><text x="271.4" y="14.6" font-size="18.5" font-weight="bold">B</text><rect x="281.5" y="50.1" width="22.8" height="15.1" rx="6.1" fill="#111" clip-path="url(#cb00)"/><rect x="282" y="72.8" width="21.8" height="11.6" rx="4.7" fill="#111" clip-path="url(#cb00)"/><path transform="scale(.1)" stroke="#111" stroke-width="7.5" stroke-linecap="square" d="M2943 400h1M2950 408h1M2950 412h1M2967 414h1M2949 415h1M2942 417h1M2966 422h1M2939 423h1M2943 424h1M2942 425h1M2942 426h1M2945 429h1M2962 430h1M2938 432h1M2946 432h1M2940 435h1M2944 436h1M2944 437h1M2951 439h1M2941 441h1M2940 443h1M2941 444h1M2965 446h1M2942 448h1M2940 449h1M2954 449h1M2954 449h1M2943 453h1M2939 455h1M2944 455h1M2940 456h1M2946 459h1M2946 462h1M2944 468h1M2993 470h1M2943 472h1M2986 475h1M2958 477h1M2983 477h1M2941 479h1M2939 480h1M2940 481h1M3033 481h1M2967 483h1M3038 483h1M2959 485h1M2967 485h1M3022 486h1M2967 488h1M2967 489h1M2983 490h1M3007 491h1M3041 492h1M2941 493h1M2949 493h1M2939 494h1M2987 494h1M3006 495h1M3014 495h1M2955 496h1M2978 496h1M2956 499h1M2972 500h1M2939 501h1M2999 502h1M3002 502h1M2945 503h1M2958 503h1M2950 504h1M2979 505h1M3062 505h1M2965 506h1M3015 506h1M2988 507h1M2993 507h1M2951 509h1M3039 509h1M2962 510h1M2990 510h1M2976 511h1M2979 511h1M3019 511h1M3028 512h1M3076 512h1M2973 513h1M2998 513h1M2997 514h1M2999 514h1M2944 515h1M2961 515h1M3003 515h1M3016 515h1M2975 516h1M2991 516h1M3017 516h1M2975 517h1M3006 517h1M3006 517h1M2988 518h1M3022 519h1M3062 519h1M2944 520h1M2955 520h1M2990 520h1M3015 520h1M2979 521h1M3017 521h1M2943 522h1M2989 522h1M2998 522h1M2939 523h1M3019 523h1M2982 524h1M3029 525h1M3032 525h1M2989 526h1M3022 526h1M2951 527h1M3003 527h1M3030 527h1M2987 528h1M2993 528h1M2946 529h1M2949 529h1M2954 529h1M2959 529h1M3026 529h1M3031 529h1M3018 530h1M3020 530h1M2948 531h1M2985 531h1M3009 531h1M3019 531h1M2947 532h1M2949 532h1M2955 532h1M2958 532h1M2959 533h1M2993 533h1M3025 533h1M3050 533h1M2995 534h1M3004 534h1M2975 535h1M2954 536h1M2961 536h1M2962 536h1M3002 536h1M3003 536h1M3013 536h1M3023 536h1M3030 536h1M2940 537h1M2978 537h1M2995 537h1M3485 537h1M2944 538h1M2949 538h1M2972 538h1M3013 538h1M3015 538h1M3015 538h1M2990 539h1M2997 539h1M2997 539h1M3003 539h1M3030 539h1M3034 539h1M3051 539h1M3056 539h1M2946 540h1M2981 540h1M3007 540h1M2956 541h1M2982 541h1M2986 541h1M3009 541h1M2957 542h1M2960 542h1M2966 542h1M2990 542h1M3020 542h1M3026 542h1M2972 543h1M2982 543h1M2992 544h1M3049 544h1M2940 545h1M2970 545h1M2993 545h1M3002 545h1M3002 545h1M3034 545h1M2940 546h1M2985 546h1M2995 546h1M3009 546h1M3068 546h1M2940 547h1M2962 547h1M2986 547h1M2986 547h1M2994 547h1M3003 547h1M3009 547h1M3009 547h1M3026 547h1M2944 548h1M2972 548h1M2984 548h1M2990 548h1M3002 548h1M3010 548h1M3012 548h1M3018 548h1M3050 548h1M2984 549h1M2995 549h1M2995 549h1M3027 549h1M2951 550h1M2953 550h1M2993 550h1M2998 550h1M3005 550h1M3013 550h1M3020 550h1M3047 550h1M2939 551h1M2960 551h1M2993 551h1M3011 551h1M3016 551h1M3028 551h1M2943 552h1M3064 552h1M2972 553h1M3024 553h1M2979 554h1M2985 554h1M2989 554h1M2994 554h1M2998 554h1M3001 554h1M3021 554h1M3022 554h1M2951 555h1M2979 555h1M2991 555h1M2998 555h1M3002 555h1M2948 556h1M2970 556h1M2994 556h1M2995 556h1M2997 556h1M2998 556h1M3011 556h1M3025 556h1M3028 556h1M3037 556h1M3040 556h1M2939 557h1M2966 557h1M2992 557h1M2993 557h1M3011 557h1M2976 558h1M2979 558h1M2981 558h1M3027 558h1M2944 559h1M2987 559h1M2995 559h1M3015 559h1M2941 560h1M2955 560h1M2967 560h1M2997 560h1M3000 560h1M2945 561h1M2945 561h1M2962 561h1M2966 561h1M2970 561h1M2971 561h1M2979 561h1M2984 561h1M2994 561h1M3041 561h1M2965 562h1M2966 562h1M2974 562h1M2976 562h1M2978 562h1M2998 562h1M3002 562h1M3006 562h1M3025 562h1M2947 563h1M2984 563h1M2988 563h1M2999 563h1M3022 563h1M3036 563h1M2973 564h1M2974 564h1M2984 564h1M3023 564h1M3033 564h1M2943 565h1M2950 565h1M2954 565h1M2977 565h1M3013 565h1M2943 566h1M2958 566h1M2972 566h1M2977 566h1M2978 566h1M2991 566h1M2999 566h1M3116 566h1M2941 567h1M2960 567h1M2975 567h1M2985 567h1M2986 567h1M2988 567h1M2995 567h1M2997 567h1M3024 567h1M3031 567h1M3052 567h1M3086 567h1M2943 568h1M2965 568h1M2983 568h1M2984 568h1M2993 568h1M3001 568h1M3009 568h1M2944 569h1M2969 569h1M2992 569h1M3007 569h1M3053 569h1M2976 570h1M2986 570h1M2994 570h1M3032 570h1M2952 571h1M2965 571h1M2966 571h1M2973 571h1M2992 571h1M3010 571h1M3013 571h1M3023 571h1M2994 572h1M3000 572h1M3014 572h1M3027 572h1M3049 572h1M3052 572h1M3067 572h1M2939 573h1M2952 573h1M2952 573h1M2956 573h1M2957 573h1M2968 573h1M2985 573h1M2993 573h1M3014 573h1M3036 573h1M3043 573h1M3045 573h1M2941 574h1M2950 574h1M2968 574h1M2970 574h1M2974 574h1M2988 574h1M2989 574h1M3000 574h1M3006 574h1M2940 575h1M2967 575h1M2969 575h1M2989 575h1M3019 575h1M3020 575h1M3036 575h1M3063 575h1M2945 576h1M2997 576h1M3001 576h1M2959 577h1M2991 577h1M2996 577h1M2997 577h1M3001 577h1M3018 577h1M3027 577h1M3033 577h1M2964 578h1M2976 578h1M2983 578h1M2984 578h1M3035 578h1M2945 579h1M2973 579h1M2993 579h1M3004 579h1M3008 579h1M3013 579h1M3044 579h1M3050 579h1M2945 580h1M2957 580h1M2964 580h1M2968 580h1M2984 580h1M2988 580h1M3040 580h1M2981 581h1M2996 581h1M3016 581h1M3026 581h1M3030 581h1M3050 581h1M2946 582h1M2981 582h1M3030 582h1M3068 582h1M2942 583h1M2960 583h1M2988 583h1M2989 583h1M2994 583h1M2995 583h1M3041 583h1M3076 583h1M2940 584h1M2993 584h1M3036 584h1M3048 584h1M2941 585h1M2946 585h1M2954 585h1M2957 585h1M2960 585h1M2993 585h1M3004 585h1M3008 585h1M3021 585h1M3032 585h1M3043 585h1M2990 586h1M2994 586h1M3029 586h1M2957 587h1M2959 587h1M2960 587h1M2986 587h1M3003 587h1M3020 587h1M3034 587h1M2972 588h1M3000 588h1M3043 588h1M3048 588h1M3065 588h1M2967 589h1M2968 589h1M2977 589h1M2991 589h1M2996 589h1M3001 589h1M3003 589h1M3050 589h1M2971 590h1M3019 590h1M3024 590h1M3026 590h1M3058 590h1M2943 591h1M2945 591h1M2961 591h1M2963 591h1M2977 591h1M2981 591h1M2993 591h1M2996 591h1M2999 591h1M3012 591h1M3018 591h1M2987 592h1M2998 592h1M3002 592h1M3017 592h1M2941 593h1M2964 593h1M2974 593h1M2984 593h1M2994 593h1M3002 593h1M3043 593h1M3067 593h1M2988 594h1M2988 594h1M3016 594h1M3016 594h1M2993 595h1M2998 595h1M3025 595h1M2963 596h1M2989 596h1M2999 596h1M3020 596h1M2978 597h1M2997 597h1M3016 597h1M2991 598h1M3013 598h1M3016 598h1M3017 598h1M3062 598h1M2945 599h1M2946 599h1M2971 599h1M2982 599h1M2993 599h1M2964 600h1M2964 600h1M2983 600h1M3015 600h1M3034 600h1M3034 600h1M2956 601h1M3004 601h1M3019 601h1M2960 602h1M2963 602h1M2989 602h1M3004 602h1M3005 602h1M3007 602h1M3046 602h1M3065 602h1M2947 603h1M2956 603h1M2975 603h1M2989 603h1M3004 603h1M3009 603h1M3012 603h1M3024 603h1M3037 603h1M2943 604h1M2947 604h1M2987 604h1M2940 605h1M2958 605h1M2963 605h1M2971 605h1M2997 605h1M3007 605h1M3013 605h1M3040 605h1M2971 606h1M2986 606h1M3004 606h1M3009 606h1M2953 607h1M2955 607h1M2958 607h1M2983 607h1M3001 607h1M3028 607h1M2941 608h1M2941 608h1M2945 608h1M2961 608h1M2972 608h1M2982 608h1M2984 608h1M3023 608h1M2995 609h1M3037 609h1M3055 609h1M2992 610h1M3006 610h1M3006 610h1M2982 611h1M2940 612h1M2962 612h1M2993 612h1M2994 612h1M3007 612h1M3009 612h1M3013 612h1M3035 612h1M3048 612h1M2990 613h1M2991 613h1M2999 613h1M3008 613h1M3045 613h1M2942 614h1M2968 614h1M2981 614h1M2982 614h1M3005 614h1M2964 615h1M2977 615h1M3050 615h1M2960 616h1M2973 617h1M2983 617h1M3026 617h1M2983 618h1M2989 618h1M3003 618h1M3027 618h1M2957 619h1M2960 619h1M2968 619h1M2988 619h1M2993 619h1M3008 619h1M3016 619h1M3030 619h1M3009 620h1M2994 621h1M3003 622h1M3027 622h1M2942 623h1M2942 623h1M2942 623h1M2943 623h1M2976 623h1M3033 623h1M2964 624h1M2980 624h1M2994 624h1M2999 624h1M2941 625h1M2960 625h1M2970 625h1M2978 625h1M2992 625h1M3014 625h1M2966 626h1M2982 626h1M2994 626h1M3006 626h1M2973 627h1M3030 627h1M2973 628h1M3031 628h1M3032 628h1M3037 628h1M2994 629h1M2990 630h1M2995 630h1M3047 630h1M2978 631h1M2993 631h1M2985 632h1M2950 633h1M2981 633h1M2994 633h1M3009 633h1M3013 634h1M2940 635h1M2942 635h1M2978 635h1M2988 635h1M2981 636h1M2988 637h1M2959 638h1M2941 639h1M2980 640h1M2994 640h1M2940 641h1M3034 641h1M3076 641h1M2947 642h1M2991 642h1M3025 643h1M2940 646h1M2949 646h1M3011 646h1M3048 646h1M3003 647h1M2988 648h1M2997 648h1M2956 649h1M2987 649h1M2990 649h1M3023 650h1M2993 652h1M3057 652h1M2954 653h1M2946 655h1M2974 657h1M3019 657h1M2997 658h1M2999 659h1M3003 659h1M3004 659h1M2939 660h1M3008 660h1M2975 662h1M2949 669h1M3018 670h1M2941 671h1M2963 671h1M3044 671h1M2954 672h1M2997 676h1M2962 677h1M3034 677h1M2990 678h1M2981 679h1M3043 680h1M3035 681h1M2971 687h1M2991 692h1M2962 697h1M2991 705h1M3012 711h1M3016 716h1M3084 720h1M3042 722h1M2973 725h1M2965 726h1M2999 726h1M3015 726h1M3042 726h1M2990 727h1M3004 731h1M3007 731h1M2942 733h1M3008 733h1M2946 734h1M2977 735h1M3054 735h1M2944 736h1M2996 736h1M3000 737h1M3018 737h1M3008 738h1M2983 739h1M2979 740h1M3003 740h1M3046 740h1M2970 741h1M2973 741h1M3020 741h1M3029 741h1M2945 742h1M2958 742h1M2991 742h1M2993 742h1M3019 742h1M3026 742h1M3074 742h1M2944 743h1M2950 743h1M3018 743h1M2945 744h1M2989 744h1M2974 745h1M2969 746h1M2973 746h1M2987 746h1M2975 747h1M2982 748h1M3009 748h1M3023 748h1M2957 749h1M2968 749h1M2995 749h1M2997 749h1M3041 749h1M2952 750h1M2953 750h1M2960 750h1M3033 750h1M2950 751h1M2961 751h1M3011 751h1M3086 751h1M2951 752h1M2966 752h1M3004 752h1M3044 752h1M3052 752h1M2943 753h1M2959 753h1M2989 753h1M3013 753h1M3019 753h1M3033 753h1M2978 754h1M2997 754h1M3026 754h1M2945 755h1M2988 755h1M2990 755h1M3005 755h1M3012 755h1M2943 756h1M3016 756h1M3026 756h1M3032 756h1M3044 756h1M2941 757h1M2968 757h1M2987 757h1M3002 757h1M3003 757h1M3015 757h1M2978 758h1M2983 758h1M2990 758h1M2963 759h1M2993 759h1M2949 760h1M3015 760h1M3028 760h1M2941 761h1M2944 761h1M2949 761h1M2970 761h1M2999 761h1M3016 761h1M3018 761h1M3049 761h1M2948 762h1M2949 762h1M2956 762h1M2973 762h1M2992 762h1M3003 762h1M3003 762h1M3028 762h1M3032 762h1M3041 762h1M2971 763h1M2980 763h1M3016 763h1M3036 763h1M3044 763h1M3047 763h1M2940 764h1M2940 764h1M2942 764h1M2975 764h1M2981 764h1M3004 764h1M3007 764h1M3034 764h1M3035 764h1M2971 765h1M2989 765h1M3022 765h1M3032 765h1M3036 765h1M3047 765h1M2981 766h1M2998 766h1M2969 767h1M3022 767h1M3031 767h1M2946 768h1M2947 768h1M2979 768h1M3004 768h1M3005 768h1M3056 768h1M3058 768h1M2979 769h1M2980 769h1M2998 769h1M3003 769h1M3018 769h1M2956 770h1M2985 770h1M2986 770h1M3002 770h1M3007 770h1M3020 770h1M2999 771h1M3019 771h1M2968 772h1M2983 772h1M2989 772h1M2990 772h1M3025 772h1M3044 772h1M2939 773h1M2963 773h1M2974 773h1M2983 773h1M3017 773h1M3070 773h1M2952 774h1M2961 774h1M2967 774h1M2984 774h1M2984 774h1M2992 774h1M3020 774h1M3021 774h1M3025 774h1M3028 774h1M2955 775h1M2980 775h1M2992 775h1M2993 775h1M3001 775h1M3010 775h1M3017 775h1M3043 775h1M2967 776h1M2975 776h1M3022 776h1M3028 776h1M3062 776h1M2943 777h1M2959 777h1M2966 777h1M2986 777h1M2988 777h1M3003 777h1M3008 777h1M3012 777h1M3016 777h1M2959 778h1M2960 778h1M2964 778h1M2964 778h1M2985 778h1M2989 778h1M2991 778h1M2997 778h1M2997 778h1M3003 778h1M3013 778h1M3021 778h1M2938 779h1M2943 779h1M2968 779h1M2985 779h1M2987 779h1M3041 779h1M2971 780h1M2980 780h1M3017 780h1M3031 780h1M3067 780h1M2944 781h1M2952 781h1M2966 781h1M2979 781h1M2980 781h1M2986 781h1M2988 781h1M2996 781h1M2947 782h1M2966 782h1M2979 782h1M2989 782h1M2993 782h1M3055 782h1M3068 782h1M2968 783h1M3015 783h1M3015 783h1M2956 784h1M2995 784h1M2995 784h1M3000 784h1M3020 784h1M3055 784h1M3023 785h1M3031 785h1M2953 786h1M2979 786h1M2987 786h1M2990 786h1M2998 786h1M3018 786h1M3070 786h1M2939 787h1M2941 787h1M2945 787h1M2963 787h1M2977 787h1M2987 787h1M2990 787h1M2967 788h1M2978 788h1M2982 788h1M3018 788h1M3034 788h1M3047 788h1M2961 789h1M2963 789h1M2975 789h1M2982 789h1M2996 789h1M3001 789h1M3006 789h1M3008 789h1M3028 789h1M3040 789h1M2945 790h1M2991 790h1M3003 790h1M3009 790h1M3068 790h1M2942 791h1M2943 791h1M2948 791h1M2960 791h1M2962 791h1M2992 791h1M3002 791h1M3029 791h1M3033 791h1M3035 791h1M2990 792h1M3016 792h1M3028 792h1M3410 792h1M2982 793h1M3000 793h1M3051 793h1M2961 794h1M2965 794h1M2973 794h1M3005 794h1M3017 794h1M3041 794h1M2957 795h1M2974 795h1M2984 795h1M3007 795h1M3009 795h1M3022 795h1M3023 795h1M3027 795h1M2961 796h1M2990 796h1M3028 796h1M2958 797h1M2975 797h1M2980 797h1M2993 797h1M3038 797h1M3050 797h1M2950 798h1M2951 798h1M2964 798h1M2984 798h1M3004 798h1M3005 798h1M3008 798h1M3028 798h1M2952 799h1M2977 799h1M2998 799h1M3035 799h1M2973 801h1M2980 801h1M2992 801h1M3015 801h1M3031 801h1M3039 801h1M3047 801h1M3068 801h1M2941 802h1M2955 802h1M2977 802h1M3000 802h1M3023 802h1M2977 803h1M2979 803h1M2988 803h1M3002 803h1M3013 803h1M3021 803h1M2974 804h1M2997 804h1M3063 804h1M2978 805h1M3001 805h1M3006 805h1M3007 805h1M3051 805h1M3061 805h1M2960 806h1M2995 806h1M3004 806h1M3007 806h1M3045 806h1M3052 806h1M3074 806h1M3010 807h1M3011 807h1M3027 807h1M2947 808h1M2954 808h1M2956 808h1M2985 808h1M2989 808h1M2996 808h1M2941 809h1M2968 809h1M2975 809h1M3044 809h1M2939 810h1M2968 810h1M3030 810h1M3063 810h1M2943 811h1M2997 811h1M3007 811h1M3018 811h1M2953 812h1M2968 812h1M3013 812h1M3034 812h1M2958 813h1M2978 813h1M2999 813h1M2970 814h1M2982 814h1M2997 814h1M3003 814h1M2940 815h1M2962 815h1M3000 815h1M2942 816h1M2952 816h1M2958 816h1M3002 816h1M3005 816h1M3010 816h1M2944 817h1M2961 817h1M3031 817h1M3037 817h1M3043 817h1M2954 818h1M2983 818h1M2969 819h1M2976 819h1M2987 819h1M2961 820h1M2964 820h1M2978 820h1M3005 821h1M3033 821h1M2955 822h1M2964 822h1M2964 822h1M2977 822h1M2957 823h1M2970 823h1M2996 823h1M2996 823h1M3031 823h1M2940 824h1M2980 824h1M2984 824h1M2962 825h1M2953 826h1M3002 826h1M2950 827h1M2970 827h1M2984 827h1M3023 827h1M2982 828h1M3062 828h1M2976 829h1M2990 830h1M2996 830h1M2957 831h1M2977 831h1M3084 831h1M2943 832h1M2960 832h1M2969 832h1M2975 832h1M2977 832h1M2983 832h1M2998 833h1M2987 834h1M3013 834h1M2944 835h1M2945 835h1M2972 835h1M2960 836h1M2962 836h1M2989 837h1M2993 838h1M2986 839h1M2969 840h1M3018 840h1M3038 841h1M3000 842h1M3049 843h1M2948 844h1M2975 844h1M2956 845h1M2970 845h1M2994 845h1M3016 846h1M2976 847h1M3071 848h1M2943 849h1M2950 852h1M3006 852h1M3020 852h1M3096 853h1"/><path transform="scale(.1)" stroke="#262626" stroke-width="7.5" stroke-linecap="square" d="M3291 529h1M3282 537h1M3297 538h1M3270 541h1M3322 541h1M3295 542h1M3288 544h1M3316 544h1M3289 545h1M3277 548h1M3285 548h1M3291 548h1M3316 548h1M3270 549h1M3271 549h1M3293 549h1M3323 549h1M3253 550h1M3263 551h1M3280 551h1M3290 551h1M3293 551h1M3289 552h1M3293 552h1M3252 553h1M3271 556h1M3274 556h1M3292 556h1M3346 556h1M3267 557h1M3290 558h1M3255 559h1M3258 559h1M3288 559h1M3289 559h1M3245 560h1M3300 560h1M3268 561h1M3250 562h1M3282 562h1M3260 564h1M3271 564h1M3242 565h1M3257 566h1M3258 567h1M3260 568h1M3299 568h1M3270 570h1M3273 570h1M3267 571h1M3290 571h1M3267 572h1M3303 572h1M3255 574h1M3262 574h1M3306 575h1M3257 576h1M3259 578h1M3276 579h1M3269 581h1M3270 583h1M3260 584h1M3270 590h1M3397 824h1M3393 832h1M3343 833h1M3204 836h1M3229 837h1M3401 837h1M3459 837h1M3389 838h1M3157 839h1M3233 839h1M3241 839h1M3235 840h1M3295 841h1M3188 844h1M3275 844h1M3258 845h1M3236 846h1M3320 850h1M3363 852h1M3389 852h1"/><rect x="293.3" y="26.3" width="61.2" height="59.9" fill="none" stroke="#222" stroke-width="0.9"/><line x1="315.8" y1="26.3" x2="315.8" y2="86.2" stroke="#222" stroke-width="0.9"/><line x1="293.3" y1="69.2" x2="354.5" y2="69.2" stroke="#222" stroke-width="0.9"/><text transform="translate(290.1,66.4) rotate(-90)" font-size="10.3" textLength="19.6" stroke="#111" stroke-width="0.1">CD3</text><text x="297.8" y="36.5" font-size="8" textLength="16.8" stroke="#111" stroke-width="0.1">71.3</text><text x="352.3" y="36.5" font-size="8" text-anchor="end" textLength="12.0" stroke="#111" stroke-width="0.1">1.5</text><text x="352.3" y="83.5" font-size="8" text-anchor="end" textLength="16.8" stroke="#111" stroke-width="0.1">0.02</text><path d="M370.8 38.5 L383 38 L392 35.8 L393.5 37.5 L392 41.5 L383 43.8 L370.8 44.5Z" fill="#111" clip-path="url(#cb01)"/><rect x="360.5" y="73.9" width="23.8" height="11.4" rx="4.7" fill="#111" clip-path="url(#cb01)"/><path transform="scale(.1)" stroke="#111" stroke-width="7.5" stroke-linecap="square" d="M3809 312h1M3796 436h1M3873 436h1M3773 440h1M3759 447h1M3756 448h1M3764 449h1M3752 450h1M3780 450h1M3843 450h1M3885 451h1M3793 452h1M3804 452h1M3864 457h1M3760 462h1M3826 464h1M3743 465h1M3748 467h1M3869 467h1M3773 471h1M3793 471h1M3750 473h1M3736 474h1M3821 474h1M3734 478h1M4035 479h1M3794 480h1M3805 485h1M3792 490h1M3814 490h1M3735 493h1M3809 494h1M3747 495h1M3772 497h1M3777 502h1M3830 503h1M3848 503h1M3748 504h1M3749 504h1M3852 506h1M3785 508h1M3747 509h1M3830 511h1M3841 512h1M3842 512h1M3843 512h1M3807 519h1M3862 520h1M3776 522h1M3786 522h1M3752 523h1M3744 526h1M3883 526h1M3764 528h1M3763 530h1M3823 533h1M3817 536h1M3781 538h1M3741 539h1M3751 539h1M3738 540h1M3761 546h1M3848 556h1M3851 561h1M3759 565h1M3798 567h1M3737 568h1M3738 570h1M3866 573h1M3848 575h1M3872 575h1M3899 576h1M3901 577h1M3797 578h1M3760 579h1M3881 580h1M3801 583h1M3812 583h1M3867 583h1M3771 584h1M3816 584h1M3759 585h1M3831 585h1M3851 585h1M3767 587h1M3868 587h1M3880 587h1M3883 587h1M3875 589h1M3790 590h1M3811 590h1M3740 592h1M3736 594h1M3818 594h1M3739 595h1M3839 595h1M3742 602h1M3766 602h1M3831 603h1M3838 604h1M3808 607h1M3785 608h1M3733 609h1M3778 612h1M3805 612h1M3736 613h1M3785 613h1M3902 613h1M3740 615h1M3850 616h1M3803 617h1M3793 618h1M3764 619h1M3788 620h1M3880 620h1M3897 620h1M3737 622h1M3838 623h1M3735 624h1M3792 624h1M3815 624h1M3746 626h1M3824 626h1M3841 630h1M3755 635h1M3867 638h1M3907 638h1M3736 640h1M3772 640h1M3805 640h1M3889 641h1M3749 642h1M3755 643h1M3799 643h1M3795 644h1M3791 646h1M3795 646h1M3843 648h1M3867 649h1M3883 649h1M3812 651h1M3844 653h1M3738 654h1M3818 654h1M3796 655h1M3831 655h1M3798 657h1M3734 659h1M3740 659h1M3765 659h1M3843 662h1M3903 664h1M3781 668h1M3839 669h1M3863 669h1M3786 670h1M3816 671h1M3848 671h1M3749 679h1M3742 680h1M3764 681h1M3886 681h1M3737 683h1M3755 684h1M3736 685h1M3797 686h1M3754 692h1M3829 693h1M3764 697h1M3759 698h1M3779 699h1M3768 703h1M3751 704h1M3791 704h1M3877 705h1M3820 706h1M3741 712h1M3772 712h1M3794 714h1M3785 715h1M3735 716h1M3743 718h1M3784 718h1M3802 718h1M3770 720h1M3876 720h1M3748 723h1M3771 723h1M3883 723h1M3793 725h1M3810 725h1M3784 726h1M3786 726h1M3800 727h1M3831 728h1M3812 729h1M3774 731h1M3861 731h1M3747 732h1M3803 732h1M3814 732h1M3815 732h1M3798 733h1M3746 734h1M3784 735h1M3801 735h1M3865 735h1M3778 736h1M3762 737h1M3793 738h1M3809 738h1M3775 739h1M3782 740h1M3797 740h1M3807 740h1M3760 741h1M3792 741h1M3809 741h1M3850 741h1M3803 742h1M3820 742h1M3750 743h1M3804 743h1M3844 743h1M3734 745h1M3832 746h1M3761 747h1M3841 747h1M3781 748h1M3843 748h1M3859 748h1M3841 749h1M3858 749h1M3749 750h1M3783 750h1M3807 750h1M3784 751h1M3788 751h1M3790 751h1M3820 751h1M3799 752h1M3810 752h1M3783 753h1M3830 753h1M3783 754h1M3793 754h1M3824 754h1M3848 754h1M3764 755h1M3824 755h1M3805 756h1M3809 757h1M3744 758h1M3759 758h1M3771 758h1M3792 758h1M3829 758h1M3785 759h1M3786 759h1M3795 759h1M3797 759h1M3816 759h1M3848 759h1M3771 760h1M3774 760h1M3803 760h1M3810 760h1M3851 760h1M3737 761h1M3741 761h1M3760 761h1M3761 761h1M3769 761h1M3772 761h1M3785 761h1M3744 762h1M3757 762h1M3814 762h1M3821 762h1M3881 762h1M3767 763h1M3824 763h1M3862 763h1M3757 764h1M3818 764h1M3754 765h1M3773 765h1M3776 765h1M3816 765h1M3736 766h1M3770 766h1M3809 766h1M3836 766h1M3856 766h1M3735 767h1M3749 767h1M3755 767h1M3775 767h1M3807 767h1M3807 767h1M3814 767h1M3775 768h1M3793 768h1M3793 768h1M3794 768h1M3861 768h1M3764 769h1M3778 769h1M3783 769h1M3789 769h1M3781 770h1M3831 770h1M3858 770h1M3743 771h1M3780 771h1M3798 771h1M3818 771h1M3738 772h1M3783 772h1M3814 772h1M3827 772h1M3769 773h1M3809 773h1M3832 773h1M3734 774h1M3754 774h1M3776 774h1M3778 774h1M3824 774h1M3825 774h1M3773 775h1M3775 775h1M3784 775h1M3751 776h1M3756 776h1M3762 776h1M3793 776h1M3773 777h1M3808 777h1M3739 778h1M3766 778h1M3790 778h1M3813 778h1M3809 779h1M3811 779h1M3811 779h1M3813 779h1M3840 779h1M3853 779h1M3765 780h1M3797 780h1M3807 780h1M3818 780h1M3819 780h1M3848 780h1M3784 781h1M3822 781h1M3828 781h1M3902 781h1M3747 782h1M3773 782h1M3778 782h1M3782 782h1M3793 782h1M3799 782h1M3799 782h1M3819 782h1M3870 782h1M3754 783h1M3780 783h1M3791 783h1M3814 783h1M3840 783h1M3842 783h1M3740 784h1M3763 784h1M3772 784h1M3783 784h1M3797 784h1M3805 784h1M3816 784h1M3820 784h1M3821 784h1M3826 784h1M3826 784h1M3827 784h1M3827 784h1M3835 784h1M3741 785h1M3769 785h1M3816 785h1M3821 785h1M3764 786h1M3764 786h1M3765 786h1M3773 786h1M3779 786h1M3782 786h1M3805 786h1M3812 786h1M3820 786h1M3845 786h1M3856 786h1M3735 787h1M3800 787h1M3734 788h1M3738 788h1M3779 788h1M3818 788h1M3836 788h1M3873 788h1M3734 789h1M3735 789h1M3783 789h1M3783 789h1M3786 789h1M3814 789h1M3832 789h1M3837 789h1M3966 789h1M3757 790h1M3770 790h1M3792 790h1M3825 790h1M3829 790h1M3778 791h1M3791 791h1M3810 791h1M3871 791h1M3734 792h1M3764 792h1M3815 792h1M3836 792h1M3843 792h1M3762 793h1M3770 793h1M3781 793h1M3791 793h1M3804 793h1M3812 793h1M3738 794h1M3740 794h1M3740 794h1M3761 794h1M3763 794h1M3770 794h1M3782 794h1M3784 794h1M3807 794h1M3821 794h1M3829 794h1M3834 794h1M3851 794h1M3752 795h1M3806 795h1M3816 795h1M3819 795h1M3827 795h1M3737 796h1M3769 796h1M3783 796h1M3802 796h1M3808 796h1M3826 796h1M3831 796h1M3837 796h1M3879 796h1M3738 797h1M3741 797h1M3782 797h1M3789 797h1M3806 797h1M3836 797h1M3837 797h1M3742 798h1M3773 798h1M3855 798h1M3739 799h1M3751 799h1M3769 799h1M3787 799h1M3793 799h1M3804 799h1M3804 799h1M3831 799h1M3855 799h1M3738 800h1M3751 800h1M3771 800h1M3786 800h1M3818 800h1M3849 800h1M3747 801h1M3753 801h1M3759 801h1M3786 801h1M3795 801h1M3810 801h1M3833 801h1M3747 802h1M3789 802h1M3799 802h1M3811 802h1M3747 803h1M3776 803h1M3782 803h1M3828 803h1M3838 803h1M3765 804h1M3776 804h1M3779 804h1M3792 804h1M3795 804h1M3797 804h1M3809 804h1M3837 804h1M3840 804h1M3752 805h1M3756 805h1M3770 805h1M3801 805h1M3801 805h1M3878 805h1M3736 806h1M3738 806h1M3757 806h1M3762 806h1M3778 806h1M3785 806h1M3798 806h1M3807 806h1M3824 806h1M3831 806h1M3835 806h1M3880 806h1M3780 807h1M3782 807h1M3847 807h1M3760 808h1M3765 808h1M3802 808h1M3824 808h1M3741 809h1M3776 809h1M3782 809h1M3791 809h1M3796 809h1M3821 809h1M3849 809h1M3747 810h1M3763 810h1M3790 810h1M3806 810h1M3822 810h1M3825 810h1M3745 811h1M3758 811h1M3762 811h1M3764 811h1M3806 811h1M3814 811h1M3817 811h1M3832 811h1M3838 811h1M3860 811h1M3777 812h1M3793 812h1M3800 812h1M3821 812h1M3850 812h1M3733 813h1M3740 813h1M3740 813h1M3766 813h1M3767 813h1M3772 813h1M3783 813h1M3808 813h1M3816 813h1M3821 813h1M3835 813h1M3848 813h1M3858 813h1M3860 813h1M3862 813h1M3736 814h1M3737 814h1M3739 814h1M3748 814h1M3759 814h1M3796 814h1M3766 815h1M3787 815h1M3742 816h1M3798 816h1M3816 816h1M3853 816h1M3734 817h1M3781 817h1M3819 817h1M3740 818h1M3770 818h1M3788 818h1M3839 818h1M3845 818h1M3750 819h1M3751 819h1M3784 819h1M3794 819h1M3802 819h1M3816 819h1M3821 819h1M3828 819h1M3832 819h1M3757 820h1M3776 820h1M3784 820h1M3795 820h1M3839 820h1M3945 820h1M3784 821h1M3814 821h1M3815 821h1M3816 821h1M3830 821h1M3782 822h1M3788 822h1M3812 822h1M3815 822h1M3817 822h1M3818 822h1M3827 822h1M3845 822h1M3768 823h1M3778 823h1M3786 823h1M3794 823h1M3794 823h1M3796 823h1M3804 823h1M3807 823h1M3763 824h1M3770 824h1M3777 824h1M3847 824h1M3753 825h1M3753 825h1M3758 825h1M3802 825h1M3773 827h1M3776 827h1M3783 827h1M3784 827h1M3791 827h1M3743 828h1M3777 828h1M3778 828h1M3877 828h1M3753 829h1M3781 829h1M3833 829h1M3821 830h1M3795 831h1M3807 831h1M3761 832h1M3788 832h1M3794 832h1M3826 832h1M3779 833h1M3796 833h1M3800 833h1M3861 833h1M3735 834h1M3740 834h1M3746 834h1M3777 834h1M3787 834h1M3804 835h1M3841 835h1M3749 836h1M3769 836h1M3771 836h1M3811 836h1M3789 837h1M3812 837h1M3733 838h1M3734 838h1M3813 838h1M3816 838h1M3739 839h1M3741 839h1M3800 839h1M3774 841h1M3775 841h1M3760 842h1M3767 842h1M3752 843h1M3760 843h1M3836 843h1M3808 844h1M3846 844h1M3761 845h1M3837 845h1M3745 846h1M3734 847h1M3820 847h1M3735 848h1M3846 848h1M3786 849h1M3802 849h1M3777 850h1M3817 850h1M3823 850h1M3767 851h1M3783 851h1M3825 851h1M4132 851h1M3772 853h1M3782 853h1M3858 853h1M3843 854h1"/><path transform="scale(.1)" stroke="#262626" stroke-width="7.5" stroke-linecap="square" d="M3878 347h1M3882 351h1M3875 353h1M3872 355h1M3842 357h1M3926 357h1M3809 360h1M3823 361h1M3859 363h1M3804 364h1M3820 364h1M3903 364h1M3772 365h1M3843 365h1M3826 366h1M3893 366h1M3780 367h1M3824 367h1M3862 368h1M3900 368h1M3867 369h1M3910 371h1M3919 371h1M3803 372h1M3896 372h1M3746 373h1M3810 373h1M3870 373h1M3875 373h1M3876 373h1M3882 373h1M3772 374h1M3823 374h1M3854 374h1M3942 375h1M3756 376h1M3813 376h1M3831 376h1M3843 376h1M3844 376h1M3851 376h1M3776 377h1M3852 377h1M3874 377h1M3841 378h1M3843 378h1M3851 378h1M3854 378h1M3779 379h1M3785 379h1M3844 379h1M3850 379h1M3856 379h1M3858 379h1M3861 379h1M3878 379h1M3892 379h1M3826 380h1M3849 380h1M3924 380h1M3959 380h1M3820 381h1M3839 381h1M3844 381h1M3864 381h1M3877 381h1M3757 382h1M3823 382h1M3824 382h1M3879 382h1M3739 383h1M3829 383h1M3883 383h1M3934 383h1M3936 383h1M3809 384h1M3816 384h1M3823 384h1M3830 384h1M3893 384h1M3815 385h1M3823 385h1M3858 385h1M3875 385h1M3803 386h1M3831 386h1M3897 386h1M3920 386h1M3756 387h1M3790 387h1M3841 387h1M3933 387h1M3815 388h1M3821 388h1M3864 388h1M3873 388h1M3873 388h1M3912 388h1M3920 388h1M3931 388h1M3797 389h1M3826 389h1M3830 389h1M3840 389h1M3859 389h1M3907 389h1M3801 390h1M3805 390h1M3816 390h1M3845 390h1M3857 390h1M3866 390h1M3882 390h1M3953 390h1M3990 390h1M3812 391h1M3817 391h1M3819 391h1M3855 391h1M3866 391h1M3876 391h1M3888 391h1M3890 391h1M3902 391h1M3769 392h1M3769 392h1M3793 392h1M3795 392h1M3797 392h1M3841 392h1M3849 392h1M3851 392h1M3879 392h1M3879 392h1M3928 392h1M3757 393h1M3760 393h1M3833 393h1M3838 393h1M3847 393h1M3850 393h1M3877 393h1M3938 393h1M3736 394h1M3764 394h1M3767 394h1M3795 394h1M3817 394h1M3822 394h1M3833 394h1M3896 394h1M3819 395h1M3828 395h1M3832 395h1M3834 395h1M3844 395h1M3856 395h1M3859 395h1M3860 395h1M3892 395h1M3934 395h1M3780 396h1M3810 396h1M3814 396h1M3816 396h1M3818 396h1M3825 396h1M3843 396h1M3856 396h1M3870 396h1M3873 396h1M3877 396h1M3960 396h1M3773 397h1M3812 397h1M3875 397h1M3880 397h1M3889 397h1M3773 398h1M3804 398h1M3850 398h1M3851 398h1M3854 398h1M3865 398h1M3873 398h1M3874 398h1M3792 399h1M3794 399h1M3815 399h1M3878 399h1M3879 399h1M3888 399h1M3926 399h1M3745 400h1M3798 400h1M3805 400h1M3826 400h1M3839 400h1M3860 400h1M3793 401h1M3805 401h1M3831 401h1M3883 401h1M3898 401h1M3747 402h1M3807 402h1M3817 402h1M3825 402h1M3829 402h1M3837 402h1M3857 402h1M3868 402h1M3876 402h1M3795 403h1M3821 403h1M3841 403h1M3869 403h1M3881 403h1M3798 404h1M3805 404h1M3825 404h1M3831 404h1M3863 404h1M3881 404h1M3957 404h1M3745 405h1M3802 405h1M3811 405h1M3812 405h1M3826 405h1M3835 405h1M3865 405h1M3911 405h1M3788 406h1M3800 406h1M3816 406h1M3821 406h1M3831 406h1M3831 406h1M3833 406h1M3840 406h1M3854 406h1M3861 406h1M3775 407h1M3780 407h1M3785 407h1M3789 408h1M3838 408h1M3839 408h1M3765 409h1M3799 409h1M3832 409h1M3840 409h1M3877 409h1M3755 410h1M3789 410h1M3819 410h1M3829 410h1M3829 410h1M3847 410h1M3868 410h1M3878 410h1M3918 410h1M3835 411h1M3854 411h1M3885 411h1M3766 412h1M3774 412h1M3809 412h1M3810 412h1M3819 412h1M3831 412h1M3849 412h1M3760 413h1M3782 413h1M3798 413h1M3813 413h1M3844 413h1M3857 413h1M3866 413h1M3933 413h1M3738 414h1M3771 414h1M3794 414h1M3797 414h1M3821 414h1M3831 414h1M3838 414h1M3921 414h1M3747 415h1M3784 415h1M3868 415h1M3797 416h1M3800 416h1M3802 416h1M3807 416h1M3910 416h1M3912 416h1M3739 417h1M3758 417h1M3819 417h1M3840 417h1M3868 417h1M3873 417h1M3779 418h1M3793 418h1M3871 418h1M3794 419h1M3797 419h1M3838 419h1M3862 419h1M3739 420h1M3759 420h1M3799 420h1M3815 420h1M3846 420h1M3848 420h1M3855 420h1M3858 420h1M3738 421h1M3797 421h1M3797 421h1M3846 421h1M3760 422h1M3776 423h1M3846 423h1M3905 423h1M3737 424h1M3841 425h1M3871 425h1M3904 425h1M3824 426h1M3836 426h1M3851 426h1M3865 426h1M3878 426h1M3740 427h1M3763 427h1M3815 427h1M3803 428h1M3818 428h1M3834 428h1M3858 428h1M3764 429h1M3774 429h1M3822 429h1M3844 429h1M3763 430h1M3776 430h1M3826 430h1M3737 431h1M3833 431h1M3872 431h1M3791 432h1M3827 432h1M3838 432h1M3854 434h1M3736 435h1M3848 435h1M3868 435h1M3754 436h1M3796 436h1M3807 436h1M3834 436h1M3842 436h1M3740 437h1M3767 438h1M3806 438h1M3852 438h1M3884 439h1M3766 440h1M3777 441h1M3830 445h1M3868 445h1M3736 449h1M3767 450h1M3734 457h1M3775 458h1M4071 785h1M4023 795h1M4047 800h1M4074 801h1M4046 803h1M4097 806h1M4049 807h1M4130 808h1M4041 809h1M4065 809h1M4051 812h1M4060 812h1M4042 816h1M4074 819h1M4027 823h1M4056 824h1M4008 829h1M4074 829h1M4083 830h1M4117 830h1M4041 832h1M4072 834h1M4018 835h1M4088 835h1M4075 838h1M4097 839h1M4067 840h1M4046 842h1M4056 842h1M4059 842h1M4066 842h1M4135 842h1M4052 843h1M4069 844h1M4103 844h1M4083 846h1M4131 846h1M4144 846h1M3981 847h1M4099 847h1M4087 848h1M4129 848h1M4074 849h1M4089 849h1M3992 850h1M3997 851h1M4074 852h1M4088 852h1M4108 852h1M4084 853h1M4103 853h1"/><rect x="372.8" y="26.3" width="60.8" height="59.9" fill="none" stroke="#222" stroke-width="0.9"/><line x1="394.6" y1="26.3" x2="394.6" y2="86.2" stroke="#222" stroke-width="0.9"/><line x1="372.8" y1="55.8" x2="433.6" y2="55.8" stroke="#222" stroke-width="0.9"/><text transform="translate(369.6,65) rotate(-90)" font-size="10.3" textLength="19.3" stroke="#111" stroke-width="0.1">CD4</text><text x="374" y="36.5" font-size="8" textLength="16.8" stroke="#111" stroke-width="0.1">51.2</text><text x="429.4" y="36.5" font-size="8" text-anchor="end" textLength="12.0" stroke="#111" stroke-width="0.1">0.0</text><text x="429.8" y="83.5" font-size="8" text-anchor="end" textLength="12.0" stroke="#111" stroke-width="0.1">1.6</text><rect x="435" y="40" width="32.3" height="6.6" rx="2.7" fill="#111" clip-path="url(#cb02)"/><rect x="436.5" y="72.2" width="29.4" height="13.2" rx="5.4" fill="#111" clip-path="url(#cb02)"/><path transform="scale(.1)" stroke="#111" stroke-width="7.5" stroke-linecap="square" d="M4956 295h1M4545 380h1M4716 389h1M4615 391h1M4613 392h1M4614 392h1M4664 393h1M4676 395h1M4726 395h1M4554 397h1M4646 398h1M4669 398h1M4708 398h1M4560 399h1M4649 399h1M4521 401h1M4586 401h1M4606 401h1M4608 401h1M4642 401h1M4528 402h1M4577 403h1M4580 403h1M4586 403h1M4672 403h1M4575 404h1M4600 404h1M4623 404h1M4658 404h1M4543 405h1M4648 405h1M4650 405h1M4663 405h1M4667 405h1M4645 406h1M4522 407h1M4619 407h1M4659 407h1M4671 407h1M4531 408h1M4553 408h1M4559 408h1M4575 408h1M4576 408h1M4616 408h1M4537 409h1M4550 409h1M4573 409h1M4596 409h1M4611 409h1M4585 410h1M4609 410h1M4682 410h1M4698 410h1M4685 411h1M4573 412h1M4629 412h1M4635 412h1M4573 413h1M4576 413h1M4661 413h1M4662 413h1M4700 413h1M4520 414h1M4553 414h1M4560 414h1M4576 414h1M4600 414h1M4616 414h1M4618 414h1M4555 415h1M4602 415h1M4630 415h1M4674 415h1M4594 416h1M4605 416h1M4661 416h1M4674 416h1M4735 416h1M4594 417h1M4603 417h1M4619 417h1M4626 417h1M4630 417h1M4652 417h1M4548 418h1M4551 418h1M4582 418h1M4587 418h1M4595 418h1M4613 418h1M4617 418h1M4623 418h1M4629 418h1M4527 419h1M4536 419h1M4568 419h1M4599 419h1M4618 419h1M4623 419h1M4626 419h1M4642 419h1M4644 419h1M4575 420h1M4581 420h1M4584 420h1M4585 420h1M4593 420h1M4606 420h1M4612 420h1M4625 420h1M4627 420h1M4642 420h1M4563 421h1M4601 421h1M4608 421h1M4617 421h1M4637 421h1M4699 421h1M4549 422h1M4553 422h1M4560 422h1M4589 422h1M4594 422h1M4600 422h1M4603 422h1M4608 422h1M4612 422h1M4627 422h1M4658 422h1M4561 423h1M4569 423h1M4577 423h1M4579 423h1M4587 423h1M4600 423h1M4611 423h1M4614 423h1M4625 423h1M4632 423h1M4667 423h1M4672 423h1M4536 424h1M4552 424h1M4559 424h1M4567 424h1M4583 424h1M4591 424h1M4612 424h1M4618 424h1M4625 424h1M4628 424h1M4710 424h1M4714 424h1M4528 425h1M4598 425h1M4645 425h1M4645 425h1M4679 425h1M4525 426h1M4537 426h1M4609 426h1M4707 426h1M4718 426h1M4533 427h1M4539 427h1M4550 427h1M4568 427h1M4579 427h1M4585 427h1M4607 427h1M4619 427h1M4620 427h1M4621 427h1M4639 427h1M4644 427h1M4662 427h1M4525 428h1M4567 428h1M4568 428h1M4602 428h1M4620 428h1M4674 428h1M4679 428h1M4698 428h1M4526 429h1M4562 429h1M4581 429h1M4608 429h1M4615 429h1M4621 429h1M4631 429h1M4636 429h1M4654 429h1M4687 429h1M4561 430h1M4568 430h1M4588 430h1M4591 430h1M4608 430h1M4625 430h1M4641 430h1M4521 431h1M4527 431h1M4551 431h1M4565 431h1M4590 431h1M4609 431h1M4613 431h1M4617 431h1M4654 431h1M4542 432h1M4595 432h1M4614 432h1M4629 432h1M4630 432h1M4657 432h1M4675 432h1M4525 433h1M4542 433h1M4557 433h1M4558 433h1M4572 433h1M4574 433h1M4595 433h1M4597 433h1M4614 433h1M4623 433h1M4688 433h1M4581 434h1M4622 434h1M4634 434h1M4643 434h1M4661 434h1M4522 435h1M4522 435h1M4591 435h1M4592 435h1M4605 435h1M4609 435h1M4616 435h1M4621 435h1M4626 435h1M4648 435h1M4654 435h1M4700 435h1M4523 436h1M4527 436h1M4612 436h1M4620 436h1M4657 436h1M4662 436h1M4667 436h1M4669 436h1M4707 436h1M4571 437h1M4595 437h1M4596 437h1M4603 437h1M4619 437h1M4631 437h1M4632 437h1M4653 437h1M4653 437h1M4668 437h1M4525 438h1M4594 438h1M4604 438h1M4614 438h1M4617 438h1M4627 438h1M4631 438h1M4668 438h1M4552 439h1M4559 439h1M4583 439h1M4590 439h1M4627 439h1M4632 439h1M4658 439h1M4528 440h1M4544 440h1M4565 440h1M4566 440h1M4592 440h1M4599 440h1M4607 440h1M4615 440h1M4628 440h1M4666 440h1M4526 441h1M4544 441h1M4547 441h1M4580 441h1M4586 441h1M4588 441h1M4590 441h1M4592 441h1M4614 441h1M4616 441h1M4687 441h1M4523 442h1M4536 442h1M4584 442h1M4602 442h1M4608 442h1M4629 442h1M4644 442h1M4554 443h1M4585 443h1M4593 443h1M4612 443h1M4621 443h1M4691 443h1M4524 444h1M4529 444h1M4540 444h1M4579 444h1M4582 444h1M4582 444h1M4585 444h1M4630 444h1M4663 444h1M4688 444h1M4526 445h1M4588 445h1M4603 445h1M4606 445h1M4621 445h1M4625 445h1M4637 445h1M4639 445h1M4649 445h1M4652 445h1M4670 445h1M4588 446h1M4598 446h1M4602 446h1M4606 446h1M4612 446h1M4617 446h1M4650 446h1M4523 447h1M4547 447h1M4552 447h1M4571 447h1M4587 447h1M4587 447h1M4663 447h1M4694 447h1M4598 448h1M4640 448h1M4640 448h1M4650 448h1M4695 448h1M4523 449h1M4548 449h1M4559 449h1M4569 449h1M4609 449h1M4681 449h1M4530 450h1M4534 450h1M4541 450h1M4602 450h1M4553 451h1M4564 451h1M4577 451h1M4592 451h1M4619 451h1M4678 451h1M4523 452h1M4553 452h1M4557 452h1M4588 452h1M4623 452h1M4627 452h1M4660 452h1M4666 452h1M4561 453h1M4565 453h1M4602 453h1M4670 453h1M4526 454h1M4526 454h1M4585 454h1M4600 454h1M4631 454h1M4664 454h1M4526 455h1M4551 455h1M4627 455h1M4574 456h1M4545 457h1M4629 457h1M4642 457h1M4658 457h1M4707 457h1M4745 457h1M4545 458h1M4629 458h1M4656 458h1M4615 459h1M4659 459h1M4532 460h1M4560 460h1M4576 460h1M4588 461h1M4611 461h1M4657 461h1M4616 462h1M4595 463h1M4600 463h1M4609 463h1M4621 463h1M4562 464h1M4604 464h1M4625 464h1M4615 465h1M4527 466h1M4594 469h1M4620 470h1M4577 472h1M4592 473h1M4609 473h1M4609 474h1M4668 474h1M4639 475h1M4652 479h1M4586 480h1M4619 482h1M4646 482h1M4689 482h1M4545 483h1M4576 483h1M4608 484h1M4522 486h1M4521 487h1M4525 487h1M4573 488h1M4621 488h1M4688 488h1M4585 489h1M4535 490h1M4532 491h1M4619 491h1M4635 492h1M4528 493h1M4674 493h1M4589 494h1M4651 494h1M4522 496h1M4573 496h1M4700 496h1M4537 497h1M4657 501h1M4525 502h1M4574 502h1M4590 502h1M4626 503h1M4540 504h1M4582 504h1M4605 506h1M4599 507h1M4625 508h1M4568 509h1M4581 510h1M4538 511h1M4589 512h1M4635 512h1M4684 512h1M4686 513h1M4692 513h1M4640 514h1M4676 514h1M4616 515h1M4544 516h1M4534 518h1M4625 518h1M4614 519h1M4638 521h1M4655 521h1M4581 522h1M4617 522h1M4632 522h1M4587 523h1M4605 523h1M4693 523h1M4582 525h1M4632 526h1M4576 527h1M4601 527h1M4651 528h1M4665 528h1M4591 530h1M4573 531h1M4674 532h1M4547 534h1M4652 534h1M4665 534h1M4679 536h1M4663 537h1M4601 538h1M4576 539h1M4687 539h1M4542 540h1M4632 540h1M4556 541h1M4595 542h1M4610 542h1M4609 543h1M4624 543h1M4668 543h1M4525 545h1M4592 546h1M4609 546h1M4550 548h1M4521 551h1M4576 552h1M4528 553h1M4616 553h1M4577 556h1M4673 557h1M4628 558h1M4572 559h1M4651 559h1M4523 560h1M4607 560h1M4612 560h1M4564 562h1M4579 562h1M4653 562h1M4537 563h1M4635 563h1M4586 564h1M4605 566h1M4536 567h1M4574 567h1M4662 567h1M4541 568h1M4557 568h1M4531 569h1M4697 569h1M4607 570h1M4656 571h1M4607 572h1M4646 572h1M4689 573h1M4647 574h1M4668 574h1M4537 575h1M4602 575h1M4520 576h1M4524 577h1M4529 577h1M4566 578h1M4522 579h1M4589 581h1M4520 583h1M4585 583h1M4604 583h1M4648 583h1M4587 585h1M4644 585h1M4692 585h1M4559 586h1M4644 586h1M4562 587h1M4563 587h1M4644 587h1M4586 590h1M4630 590h1M4523 592h1M4526 592h1M4581 592h1M4597 592h1M4607 592h1M4614 592h1M4537 593h1M4647 593h1M4545 594h1M4623 595h1M4607 596h1M4658 596h1M4553 597h1M4585 597h1M4648 598h1M4700 598h1M4563 599h1M4600 599h1M4643 599h1M4618 600h1M4521 601h1M4552 601h1M4562 601h1M4602 605h1M4653 605h1M4664 607h1M4625 608h1M4525 610h1M4630 611h1M4637 613h1M4590 616h1M4686 616h1M4612 617h1M4528 618h1M4655 618h1M4613 619h1M4666 619h1M4674 620h1M4604 622h1M4548 625h1M4610 627h1M4661 628h1M4531 629h1M4581 629h1M4592 629h1M4686 629h1M4671 630h1M4603 631h1M4682 632h1M4579 633h1M4695 633h1M4673 634h1M4555 635h1M4592 636h1M4527 637h1M4547 638h1M4572 640h1M4545 641h1M4593 641h1M4609 642h1M4690 642h1M4537 643h1M4652 643h1M4660 643h1M4708 643h1M4544 644h1M4556 645h1M4583 646h1M4606 647h1M4633 647h1M4697 648h1M4596 649h1M4598 649h1M4693 650h1M4533 651h1M4589 651h1M4635 651h1M4660 651h1M4656 652h1M4523 657h1M4565 657h1M4594 657h1M4538 658h1M4592 658h1M4675 658h1M4652 660h1M4520 661h1M4564 662h1M4618 662h1M4581 665h1M4666 665h1M4741 665h1M4600 666h1M4615 666h1M4655 666h1M4708 666h1M4605 667h1M4656 667h1M4527 668h1M4638 668h1M4553 669h1M4669 670h1M4673 670h1M4568 671h1M4521 673h1M4529 673h1M4582 673h1M4522 674h1M4623 674h1M4524 676h1M4558 676h1M4551 677h1M4553 677h1M4661 677h1M4555 678h1M4562 678h1M4533 680h1M4575 680h1M4627 684h1M4652 685h1M4578 687h1M4614 687h1M4698 687h1M4561 688h1M4537 689h1M4604 689h1M4616 692h1M4667 692h1M4602 693h1M4525 694h1M4603 694h1M4671 694h1M4526 696h1M4540 696h1M4575 696h1M4636 696h1M4550 697h1M4584 697h1M4612 697h1M4620 697h1M4525 698h1M4552 699h1M4608 699h1M4640 699h1M4563 700h1M4703 700h1M4550 701h1M4605 701h1M4633 701h1M4635 701h1M4529 702h1M4563 702h1M4621 702h1M4557 703h1M4622 705h1M4606 706h1M4734 706h1M4580 707h1M4581 707h1M4584 709h1M4639 709h1M4663 709h1M4688 709h1M4680 710h1M4578 711h1M4588 711h1M4679 711h1M4520 712h1M4579 712h1M4675 712h1M4595 713h1M4613 714h1M4619 714h1M4630 715h1M4533 717h1M4588 719h1M4602 719h1M4631 719h1M4671 719h1M4523 720h1M4601 720h1M4540 722h1M4586 723h1M4524 724h1M4687 724h1M4615 725h1M4651 725h1M4679 725h1M4594 727h1M4632 727h1M4685 727h1M4722 727h1M4610 728h1M4629 728h1M4525 729h1M4578 729h1M4576 730h1M4665 730h1M4526 731h1M4597 731h1M4527 732h1M4606 732h1M4618 732h1M4671 732h1M4590 733h1M4598 733h1M4611 733h1M4635 733h1M4649 733h1M4591 734h1M4631 735h1M4644 735h1M4555 736h1M4578 736h1M4612 736h1M4632 736h1M4660 736h1M4663 736h1M4527 737h1M4544 737h1M4678 737h1M4535 739h1M4549 739h1M4589 739h1M4639 739h1M4541 740h1M4609 740h1M4645 740h1M4538 741h1M4643 741h1M4545 742h1M4570 742h1M4586 742h1M4690 743h1M4540 744h1M4558 744h1M4592 744h1M4592 744h1M4602 744h1M4613 744h1M4528 745h1M4530 745h1M4550 745h1M4604 745h1M4615 745h1M4759 745h1M4521 746h1M4528 746h1M4550 746h1M4632 746h1M4613 747h1M4616 747h1M4635 747h1M4641 747h1M4541 748h1M4573 748h1M4577 748h1M4578 748h1M4580 748h1M4582 748h1M4614 748h1M4627 748h1M4659 748h1M4536 749h1M4585 749h1M4611 749h1M4527 750h1M4607 750h1M4550 751h1M4635 751h1M4647 751h1M4541 752h1M4566 752h1M4572 752h1M4583 752h1M4588 752h1M4601 752h1M4613 752h1M4633 752h1M4546 753h1M4559 753h1M4584 753h1M4615 753h1M4520 754h1M4524 754h1M4579 754h1M4591 754h1M4614 754h1M4617 754h1M4576 755h1M4604 755h1M4729 755h1M4523 756h1M4601 756h1M4612 756h1M4612 756h1M4656 756h1M4521 757h1M4627 757h1M4667 757h1M4551 758h1M4568 758h1M4573 758h1M4588 758h1M4590 758h1M4650 758h1M4527 759h1M4548 759h1M4584 759h1M4604 759h1M4628 759h1M4637 759h1M4650 759h1M4520 760h1M4523 760h1M4547 760h1M4549 760h1M4624 760h1M4563 761h1M4563 761h1M4572 761h1M4580 761h1M4586 761h1M4605 761h1M4608 761h1M4628 761h1M4647 761h1M4552 762h1M4587 762h1M4589 762h1M4631 762h1M4647 762h1M4528 763h1M4530 763h1M4574 763h1M4579 763h1M4584 763h1M4590 763h1M4592 763h1M4620 763h1M4644 763h1M4539 764h1M4556 764h1M4564 764h1M4571 764h1M4593 764h1M4604 764h1M4615 764h1M4629 764h1M4533 765h1M4562 765h1M4618 765h1M4628 765h1M4641 765h1M4565 766h1M4571 766h1M4590 766h1M4602 766h1M4611 766h1M4611 766h1M4614 766h1M4663 766h1M4683 766h1M4548 767h1M4578 767h1M4581 767h1M4643 767h1M4664 767h1M4713 767h1M4526 768h1M4537 768h1M4555 768h1M4577 768h1M4584 768h1M4590 768h1M4590 768h1M4592 768h1M4593 768h1M4597 768h1M4679 768h1M4521 769h1M4585 769h1M4609 769h1M4628 769h1M4705 769h1M4547 770h1M4570 770h1M4606 770h1M4610 770h1M4616 770h1M4639 770h1M4538 771h1M4626 771h1M4630 771h1M4632 771h1M4655 771h1M4523 772h1M4523 772h1M4550 772h1M4603 772h1M4641 772h1M4578 773h1M4582 773h1M4609 773h1M4610 773h1M4546 774h1M4575 774h1M4606 774h1M4623 774h1M4634 774h1M4635 774h1M4645 774h1M4539 775h1M4610 775h1M4615 775h1M4616 775h1M4630 775h1M4650 775h1M4660 775h1M4696 775h1M4556 776h1M4562 776h1M4566 776h1M4568 776h1M4583 776h1M4583 776h1M4594 776h1M4604 776h1M4619 776h1M4671 776h1M4540 777h1M4568 777h1M4588 777h1M4589 777h1M4617 777h1M4619 777h1M4640 777h1M4523 778h1M4525 778h1M4557 778h1M4568 778h1M4570 778h1M4590 778h1M4594 778h1M4597 778h1M4598 778h1M4696 778h1M4527 779h1M4554 779h1M4572 779h1M4575 779h1M4583 779h1M4607 779h1M4610 779h1M4621 779h1M4622 779h1M4658 779h1M4524 780h1M4527 780h1M4528 780h1M4566 780h1M4580 780h1M4594 780h1M4594 780h1M4597 780h1M4598 780h1M4622 780h1M4631 780h1M4569 781h1M4576 781h1M4604 781h1M4616 781h1M4638 781h1M4638 781h1M4703 781h1M4535 782h1M4572 782h1M4607 782h1M4611 782h1M4619 782h1M4621 782h1M4623 782h1M4642 782h1M4649 782h1M4659 782h1M4662 782h1M4711 782h1M4540 783h1M4568 783h1M4584 783h1M4588 783h1M4590 783h1M4620 783h1M4676 783h1M4679 783h1M4539 784h1M4558 784h1M4564 784h1M4604 784h1M4606 784h1M4627 784h1M4665 784h1M4665 784h1M4551 785h1M4556 785h1M4556 785h1M4578 785h1M4602 785h1M4627 785h1M4527 786h1M4532 786h1M4574 786h1M4594 786h1M4600 786h1M4617 786h1M4643 786h1M4652 786h1M4524 787h1M4592 787h1M4622 787h1M4628 787h1M4634 787h1M4642 787h1M4655 787h1M4567 788h1M4611 788h1M4626 788h1M4699 788h1M4718 788h1M4582 789h1M4587 789h1M4599 789h1M4600 789h1M4639 789h1M4528 790h1M4574 790h1M4579 790h1M4582 790h1M4600 790h1M4626 790h1M4641 790h1M4528 791h1M4583 791h1M4586 791h1M4590 791h1M4591 791h1M4601 791h1M4610 791h1M4569 792h1M4577 792h1M4579 792h1M4592 792h1M4593 792h1M4597 792h1M4598 792h1M4606 792h1M4608 792h1M4628 792h1M4637 792h1M4523 793h1M4569 793h1M4578 793h1M4588 793h1M4591 793h1M4593 793h1M4599 793h1M4602 793h1M4604 793h1M4605 793h1M4618 793h1M4620 793h1M4631 793h1M4640 793h1M4645 793h1M4646 793h1M4647 793h1M4657 793h1M4691 793h1M4695 793h1M4521 794h1M4536 794h1M4564 794h1M4578 794h1M4701 794h1M4525 795h1M4533 795h1M4567 795h1M4579 795h1M4586 795h1M4592 795h1M4612 795h1M4613 795h1M4625 795h1M4644 795h1M4543 796h1M4550 796h1M4576 796h1M4577 796h1M4593 796h1M4604 796h1M4619 796h1M4634 796h1M4643 796h1M4648 796h1M4655 796h1M4674 796h1M4522 797h1M4537 797h1M4565 797h1M4578 797h1M4611 797h1M4641 797h1M4661 797h1M4661 797h1M4535 798h1M4585 798h1M4586 798h1M4602 798h1M4626 798h1M4632 798h1M4632 798h1M4667 798h1M4523 799h1M4561 799h1M4584 799h1M4585 799h1M4585 799h1M4586 799h1M4587 799h1M4589 799h1M4595 799h1M4606 799h1M4608 799h1M4618 799h1M4651 799h1M4660 799h1M4666 799h1M4526 800h1M4535 800h1M4565 800h1M4595 800h1M4605 800h1M4621 800h1M4545 801h1M4567 801h1M4596 801h1M4602 801h1M4606 801h1M4606 801h1M4609 801h1M4619 801h1M4624 801h1M4632 801h1M4641 801h1M4665 801h1M4691 801h1M4526 802h1M4539 802h1M4561 802h1M4587 802h1M4598 802h1M4627 802h1M4630 802h1M4656 802h1M4532 803h1M4536 803h1M4537 803h1M4574 803h1M4608 803h1M4621 803h1M4630 803h1M4747 803h1M4523 804h1M4565 804h1M4570 804h1M4615 804h1M4628 804h1M4653 804h1M4551 805h1M4599 805h1M4601 805h1M4606 805h1M4629 805h1M4537 806h1M4562 806h1M4620 806h1M4622 806h1M4636 806h1M4527 807h1M4531 807h1M4556 807h1M4577 807h1M4591 807h1M4600 807h1M4605 807h1M4606 807h1M4619 807h1M4665 807h1M4523 808h1M4543 808h1M4610 808h1M4617 808h1M4631 808h1M4636 808h1M4716 808h1M4580 809h1M4582 809h1M4590 809h1M4598 809h1M4652 809h1M4657 809h1M4562 810h1M4566 810h1M4575 810h1M4598 810h1M4601 810h1M4616 810h1M4620 810h1M4624 810h1M4667 810h1M4679 810h1M4532 811h1M4577 811h1M4592 811h1M4619 811h1M4625 811h1M4627 811h1M4647 811h1M4648 811h1M4656 811h1M4685 811h1M4577 812h1M4580 812h1M4595 812h1M4597 812h1M4638 812h1M4655 812h1M4588 813h1M4611 813h1M4622 813h1M4627 813h1M4531 814h1M4532 814h1M4533 814h1M4559 814h1M4562 814h1M4573 814h1M4628 814h1M4560 815h1M4588 815h1M4616 815h1M4648 815h1M4521 816h1M4546 816h1M4552 816h1M4587 816h1M4590 816h1M4602 816h1M4608 816h1M4647 816h1M4524 817h1M4546 817h1M4556 817h1M4580 817h1M4522 818h1M4527 818h1M4536 818h1M4557 818h1M4582 818h1M4583 818h1M4593 818h1M4619 818h1M4627 818h1M4644 818h1M4525 819h1M4526 819h1M4540 819h1M4559 819h1M4572 819h1M4580 819h1M4584 819h1M4601 819h1M4606 819h1M4614 819h1M4636 819h1M4652 819h1M4561 820h1M4573 820h1M4583 820h1M4590 820h1M4621 820h1M4621 820h1M4643 820h1M4657 820h1M4569 821h1M4649 821h1M4650 821h1M4599 822h1M4605 822h1M4624 822h1M4634 822h1M4580 823h1M4583 823h1M4603 823h1M4608 823h1M4615 823h1M4662 823h1M4662 823h1M4665 823h1M4552 824h1M4525 825h1M4526 825h1M4527 825h1M4561 825h1M4582 825h1M4593 825h1M4597 825h1M4601 825h1M4525 826h1M4526 826h1M4597 826h1M4598 826h1M4607 826h1M4520 827h1M4526 827h1M4527 827h1M4616 827h1M4625 827h1M4648 827h1M4525 828h1M4536 828h1M4558 828h1M4561 828h1M4650 828h1M4657 828h1M4561 829h1M4645 829h1M4526 830h1M4559 830h1M4562 830h1M4607 830h1M4625 830h1M4647 830h1M4523 831h1M4569 831h1M4573 831h1M4651 831h1M4605 832h1M4612 832h1M4559 833h1M4564 833h1M4594 833h1M4635 833h1M4545 834h1M4559 834h1M4566 834h1M4587 834h1M4624 834h1M4687 834h1M4546 835h1M4629 835h1M4555 836h1M4572 836h1M4634 836h1M4524 837h1M4569 837h1M4606 837h1M4638 837h1M4526 838h1M4535 839h1M4565 839h1M4611 839h1M4648 839h1M4660 839h1M4688 839h1M4556 840h1M4594 840h1M4643 840h1M4621 841h1M4665 841h1M4580 842h1M4592 842h1M4593 842h1M4604 842h1M4658 842h1M4557 843h1M4593 843h1M4568 844h1M4575 844h1M4636 844h1M4695 844h1M4522 845h1M4645 846h1M4645 846h1M4521 847h1M4538 847h1M4556 847h1M4567 847h1M4579 847h1M4600 847h1M4688 847h1M4653 848h1M4613 849h1M4617 850h1M4641 850h1M4527 851h1M4551 851h1M4563 852h1M4630 852h1M4568 853h1M4570 853h1M4595 854h1M4584 856h1M4591 856h1M4607 856h1M4632 856h1"/><path transform="scale(.1)" stroke="#262626" stroke-width="7.5" stroke-linecap="square" d="M4855 407h1M4848 409h1M4888 411h1M4889 415h1M4888 418h1M4817 419h1M4860 420h1M4879 421h1M4849 422h1M4859 422h1M4843 425h1M4837 427h1M4845 427h1M4818 428h1M4859 429h1M4837 430h1M4858 431h1M4826 433h1M4844 433h1M4885 433h1M4803 434h1M4814 434h1M4836 435h1M4842 435h1M4835 436h1M4842 436h1M4863 436h1M4868 436h1M4837 440h1M4840 440h1M4861 441h1M4831 442h1M4837 442h1M4847 443h1M4812 446h1M4812 447h1M4832 448h1M4809 450h1M4820 450h1M4835 450h1M4820 451h1M4792 453h1M4784 454h1M4806 454h1M4808 454h1M4819 456h1M4787 457h1M4794 457h1M4812 457h1M4815 457h1M4861 457h1M4864 457h1M4802 459h1M4805 459h1M4816 459h1M4775 463h1M4796 464h1M4817 464h1M4802 465h1M4821 467h1M4813 468h1M4804 470h1M4794 473h1M4816 474h1M4776 477h1M4808 477h1M4836 482h1M4757 488h1M4778 489h1M4787 490h1M4752 491h1M4740 494h1M4900 841h1M4981 841h1M4824 843h1M4773 845h1M5025 848h1M4753 850h1M4913 850h1M4728 852h1M4814 852h1M4956 852h1M4876 853h1M4922 853h1M4970 854h1M4819 855h1M5009 856h1"/><rect x="451.5" y="26.3" width="60.3" height="59.9" fill="none" stroke="#222" stroke-width="0.9"/><line x1="473.5" y1="26.3" x2="473.5" y2="86.2" stroke="#222" stroke-width="0.9"/><line x1="451.5" y1="55.8" x2="511.8" y2="55.8" stroke="#222" stroke-width="0.9"/><text transform="translate(447.8,66) rotate(-90)" font-size="10.3" textLength="19.5" stroke="#111" stroke-width="0.1">CD8</text><text x="454.6" y="36.5" font-size="8" textLength="16.8" stroke="#111" stroke-width="0.1">17.1</text><text x="508.8" y="36.5" font-size="8" text-anchor="end" textLength="12.0" stroke="#111" stroke-width="0.1">1.4</text><text x="509.6" y="83.5" font-size="8" text-anchor="end" textLength="16.8" stroke="#111" stroke-width="0.1">0.03</text><rect x="281" y="122.7" width="23.8" height="10.7" rx="4.3" fill="#111" clip-path="url(#cb10)"/><rect x="280" y="138.1" width="25.6" height="12.1" rx="4.9" fill="#111" clip-path="url(#cb10)"/><path transform="scale(.1)" stroke="#111" stroke-width="7.5" stroke-linecap="square" d="M2991 998h1M2946 1009h1M2955 1011h1M2945 1020h1M2941 1032h1M3036 1038h1M2952 1041h1M2976 1042h1M2980 1046h1M2983 1047h1M2959 1049h1M2980 1049h1M2950 1055h1M2953 1062h1M2942 1065h1M2984 1068h1M2939 1073h1M2967 1076h1M2959 1077h1M2939 1081h1M2947 1085h1M2952 1088h1M2949 1089h1M2962 1089h1M2989 1091h1M2944 1101h1M2940 1110h1M2982 1110h1M2986 1114h1M2941 1116h1M2954 1116h1M2978 1117h1M2964 1127h1M2984 1128h1M2944 1132h1M2938 1134h1M2943 1134h1M2942 1135h1M2971 1143h1M2947 1144h1M2971 1147h1M2980 1152h1M2951 1157h1M2964 1164h1M2939 1165h1M2964 1166h1M2957 1171h1M3006 1185h1M2960 1187h1M2975 1187h1M2940 1193h1M2950 1196h1M3020 1198h1M2960 1205h1M2975 1213h1M3012 1217h1M2981 1219h1M2941 1220h1M2991 1220h1M3038 1220h1M2952 1223h1M3022 1223h1M2943 1224h1M3030 1224h1M3019 1226h1M3044 1226h1M3004 1227h1M3021 1228h1M2986 1229h1M3013 1229h1M3038 1229h1M2947 1230h1M2958 1230h1M2945 1231h1M2989 1232h1M3020 1232h1M2949 1233h1M2992 1233h1M3001 1233h1M3022 1234h1M3029 1235h1M2962 1236h1M3019 1236h1M3096 1237h1M2973 1238h1M3004 1238h1M3009 1238h1M3030 1238h1M3031 1239h1M2966 1240h1M2997 1240h1M3000 1240h1M2939 1242h1M2999 1242h1M2999 1242h1M2939 1243h1M2977 1243h1M3023 1243h1M3029 1243h1M3038 1243h1M3067 1243h1M3019 1244h1M3031 1244h1M2982 1245h1M2946 1246h1M2974 1246h1M2996 1246h1M3017 1246h1M2975 1247h1M3004 1247h1M3035 1247h1M3067 1247h1M3001 1248h1M3021 1248h1M3033 1248h1M3087 1248h1M2991 1249h1M2991 1249h1M2955 1250h1M2995 1250h1M3015 1250h1M3025 1250h1M3033 1250h1M3074 1250h1M2975 1251h1M2979 1251h1M3009 1251h1M3014 1251h1M3044 1251h1M3047 1251h1M3010 1252h1M2942 1253h1M2984 1253h1M3002 1253h1M3020 1253h1M2954 1254h1M3024 1254h1M2979 1255h1M2952 1256h1M2954 1256h1M2957 1256h1M2977 1256h1M2981 1256h1M3000 1256h1M3018 1256h1M2992 1257h1M2996 1257h1M2988 1258h1M2994 1258h1M3026 1258h1M3045 1258h1M2979 1259h1M2981 1259h1M3008 1259h1M3010 1259h1M3036 1259h1M3041 1259h1M3050 1259h1M2960 1260h1M2982 1260h1M2989 1260h1M3003 1260h1M3042 1260h1M2962 1261h1M2985 1261h1M3018 1261h1M3030 1261h1M3067 1261h1M2940 1262h1M2981 1262h1M3017 1262h1M2946 1263h1M2955 1263h1M3001 1263h1M3004 1263h1M3026 1263h1M2941 1264h1M2976 1264h1M2980 1264h1M2990 1264h1M2997 1264h1M2999 1264h1M3027 1264h1M3047 1264h1M3056 1264h1M2939 1265h1M3053 1265h1M2948 1266h1M2996 1266h1M3009 1266h1M3014 1266h1M3022 1266h1M3030 1266h1M2943 1267h1M2943 1267h1M2970 1267h1M2978 1267h1M2983 1267h1M2985 1267h1M2990 1267h1M3023 1267h1M3031 1267h1M3033 1267h1M3083 1267h1M2988 1268h1M2997 1268h1M3036 1268h1M3037 1268h1M3045 1268h1M2940 1269h1M2943 1269h1M2948 1269h1M2950 1269h1M2963 1269h1M2966 1269h1M2981 1269h1M2995 1269h1M3015 1269h1M3027 1269h1M2967 1270h1M2987 1270h1M3012 1270h1M3018 1270h1M3144 1270h1M2941 1271h1M2952 1271h1M2971 1271h1M2973 1271h1M2980 1271h1M2983 1271h1M3007 1271h1M3011 1271h1M3024 1271h1M3035 1271h1M3042 1271h1M3047 1271h1M2942 1272h1M2972 1272h1M2978 1272h1M2982 1272h1M2988 1272h1M3001 1272h1M3003 1272h1M3014 1272h1M3019 1272h1M3021 1272h1M3077 1272h1M2941 1273h1M2972 1273h1M2980 1273h1M2985 1273h1M3006 1273h1M3048 1273h1M3071 1273h1M2945 1274h1M2950 1274h1M2972 1274h1M2974 1274h1M2992 1274h1M2993 1274h1M3015 1274h1M3019 1274h1M3050 1274h1M3062 1274h1M2941 1275h1M2977 1275h1M2978 1275h1M2987 1275h1M2990 1275h1M2995 1275h1M3000 1275h1M3000 1275h1M3019 1275h1M3044 1275h1M3048 1275h1M2942 1276h1M2961 1276h1M2964 1276h1M2970 1276h1M2984 1276h1M2997 1276h1M3012 1276h1M3030 1276h1M2938 1277h1M2976 1277h1M2996 1277h1M3014 1277h1M3041 1277h1M2968 1278h1M2971 1278h1M2987 1278h1M3002 1278h1M3002 1278h1M3036 1278h1M3038 1278h1M3058 1278h1M3006 1279h1M3017 1279h1M3044 1279h1M3046 1279h1M3054 1279h1M2974 1280h1M3040 1280h1M3040 1280h1M3054 1280h1M2949 1281h1M2954 1281h1M2971 1281h1M2972 1281h1M2980 1281h1M3046 1281h1M3133 1281h1M2996 1282h1M3008 1282h1M3009 1282h1M3011 1282h1M3024 1282h1M3025 1282h1M2942 1283h1M2953 1283h1M2954 1283h1M2958 1283h1M2962 1283h1M2979 1283h1M2982 1283h1M2990 1283h1M2942 1284h1M2986 1284h1M2997 1284h1M3018 1284h1M3023 1284h1M2944 1285h1M2944 1285h1M2965 1285h1M2975 1285h1M2992 1285h1M3002 1285h1M3017 1285h1M3020 1285h1M3023 1285h1M3025 1285h1M3039 1285h1M3044 1285h1M3077 1285h1M2976 1286h1M2980 1286h1M2989 1286h1M3022 1286h1M3038 1286h1M3044 1286h1M3048 1286h1M3053 1286h1M3088 1286h1M2942 1287h1M2973 1287h1M2998 1287h1M3027 1287h1M3033 1287h1M2940 1288h1M2942 1288h1M2986 1288h1M2993 1288h1M2996 1288h1M2997 1288h1M3007 1288h1M3008 1288h1M3046 1288h1M3062 1288h1M2990 1289h1M3049 1289h1M3064 1289h1M2943 1290h1M2969 1290h1M2969 1290h1M2979 1290h1M2984 1290h1M3008 1290h1M3025 1290h1M3040 1290h1M2971 1291h1M2979 1291h1M2997 1291h1M2999 1291h1M3006 1291h1M3024 1291h1M3043 1291h1M2941 1292h1M2951 1292h1M2960 1292h1M2962 1292h1M2967 1292h1M2995 1292h1M2998 1292h1M3007 1292h1M3024 1292h1M3028 1292h1M2972 1293h1M2979 1293h1M2994 1293h1M3013 1293h1M3014 1293h1M3019 1293h1M3065 1293h1M2945 1294h1M2949 1294h1M3000 1294h1M3002 1294h1M2939 1295h1M2959 1295h1M2974 1295h1M2991 1295h1M2992 1295h1M3010 1295h1M3080 1295h1M2985 1296h1M3000 1296h1M3010 1296h1M3013 1296h1M3052 1296h1M3066 1296h1M2939 1297h1M2942 1297h1M2995 1297h1M3018 1297h1M3057 1297h1M3016 1298h1M3044 1298h1M3082 1298h1M2989 1299h1M2989 1299h1M3005 1299h1M3025 1299h1M3186 1299h1M2946 1300h1M2968 1300h1M2996 1300h1M2949 1301h1M2987 1301h1M3021 1301h1M3061 1301h1M2941 1302h1M2948 1302h1M2951 1302h1M3007 1302h1M3016 1302h1M3006 1303h1M3018 1304h1M3032 1304h1M2943 1305h1M2945 1305h1M2946 1305h1M2949 1305h1M2964 1305h1M2991 1305h1M2998 1305h1M3029 1305h1M2943 1306h1M2952 1306h1M2989 1306h1M3028 1306h1M3047 1306h1M3066 1306h1M2982 1307h1M3004 1307h1M3048 1307h1M3093 1307h1M2971 1308h1M2984 1308h1M2967 1309h1M2987 1309h1M3002 1309h1M3029 1309h1M3031 1309h1M2945 1310h1M2970 1310h1M2977 1310h1M3002 1310h1M3020 1311h1M3021 1311h1M3050 1311h1M3062 1311h1M3069 1311h1M3017 1312h1M2950 1313h1M2976 1313h1M2982 1313h1M3047 1313h1M2976 1314h1M2996 1314h1M3000 1314h1M3034 1314h1M3037 1314h1M3048 1314h1M2940 1315h1M2958 1315h1M2972 1315h1M3009 1315h1M3059 1315h1M2959 1316h1M2989 1316h1M3031 1316h1M3047 1316h1M2986 1317h1M3067 1317h1M2939 1318h1M2964 1318h1M2975 1318h1M2997 1318h1M3003 1318h1M3015 1318h1M2989 1319h1M3006 1320h1M2940 1321h1M2966 1321h1M2972 1321h1M2975 1321h1M3001 1321h1M2997 1322h1M3003 1322h1M2959 1323h1M2960 1323h1M2984 1323h1M2990 1323h1M2945 1324h1M2988 1324h1M3006 1324h1M3026 1324h1M3046 1324h1M2976 1325h1M3018 1325h1M2992 1326h1M3059 1326h1M3065 1327h1M3067 1327h1M3014 1328h1M3026 1328h1M2989 1329h1M2993 1329h1M3083 1329h1M3002 1330h1M2995 1331h1M3016 1331h1M2983 1332h1M2970 1334h1M3025 1334h1M3048 1334h1M2981 1335h1M2957 1336h1M2942 1339h1M2957 1339h1M2944 1341h1M2957 1341h1M3011 1341h1M2972 1344h1M3003 1344h1M3084 1345h1M2982 1350h1M2963 1352h1M3042 1353h1M3042 1355h1M3067 1355h1M2980 1356h1M3038 1356h1M3033 1362h1M3002 1363h1M3007 1363h1M2974 1364h1M2952 1366h1M3026 1366h1M3042 1366h1M2973 1367h1M2991 1367h1M2990 1369h1M3063 1369h1M2977 1370h1M2979 1370h1M2987 1370h1M2989 1370h1M3012 1372h1M3050 1373h1M2998 1374h1M2997 1375h1M2999 1375h1M3015 1375h1M2978 1377h1M3021 1377h1M3006 1379h1M3016 1379h1M2984 1380h1M2989 1380h1M3092 1380h1M3058 1381h1M2991 1382h1M3042 1382h1M2975 1384h1M2949 1385h1M3018 1387h1M3061 1387h1M3075 1387h1M2976 1388h1M3010 1388h1M3110 1388h1M2940 1389h1M2946 1389h1M2972 1389h1M2990 1389h1M3035 1389h1M3045 1389h1M2957 1390h1M3026 1390h1M2957 1391h1M2963 1391h1M3043 1391h1M2939 1392h1M2989 1392h1M3000 1393h1M3034 1393h1M2992 1394h1M2966 1395h1M3010 1395h1M3016 1395h1M3026 1395h1M2976 1396h1M2996 1396h1M3004 1396h1M3010 1396h1M2978 1397h1M2982 1397h1M2990 1397h1M3026 1397h1M3028 1397h1M2943 1398h1M2996 1399h1M2946 1400h1M3000 1400h1M3003 1400h1M3008 1400h1M3036 1400h1M3038 1400h1M3060 1400h1M2986 1401h1M2997 1401h1M3057 1401h1M3008 1402h1M3014 1402h1M3016 1402h1M3060 1402h1M2952 1403h1M2985 1403h1M3000 1403h1M3045 1403h1M2959 1404h1M2965 1404h1M3048 1404h1M2964 1405h1M3000 1405h1M2951 1406h1M2955 1406h1M2975 1406h1M2977 1406h1M2979 1406h1M3038 1406h1M2971 1407h1M3011 1407h1M2992 1408h1M3023 1408h1M3048 1408h1M3052 1408h1M2998 1409h1M3050 1409h1M2955 1410h1M2965 1410h1M2978 1410h1M2987 1410h1M2993 1410h1M3006 1410h1M2944 1411h1M3005 1411h1M3052 1411h1M2950 1412h1M2982 1412h1M3014 1412h1M3032 1412h1M3040 1412h1M3118 1412h1M2951 1413h1M2969 1413h1M2998 1413h1M3019 1413h1M2981 1414h1M2990 1414h1M3001 1414h1M3074 1414h1M3088 1414h1M2942 1415h1M2990 1415h1M3012 1415h1M3019 1415h1M3027 1415h1M3029 1415h1M3029 1415h1M3056 1415h1M2946 1416h1M2968 1416h1M2970 1416h1M2995 1416h1M3007 1416h1M3012 1416h1M3023 1416h1M3037 1416h1M2941 1417h1M2944 1417h1M2961 1417h1M2983 1417h1M2992 1417h1M3023 1417h1M3036 1417h1M3069 1417h1M2954 1418h1M3002 1418h1M3018 1418h1M2938 1419h1M2947 1419h1M2978 1419h1M3011 1419h1M3011 1419h1M3029 1419h1M3045 1419h1M3087 1419h1M2940 1420h1M2951 1420h1M2996 1420h1M3007 1420h1M3024 1420h1M3063 1420h1M2964 1421h1M2994 1421h1M2994 1421h1M3015 1421h1M2984 1422h1M2999 1422h1M3009 1422h1M3015 1422h1M3026 1422h1M3041 1422h1M3092 1422h1M2938 1423h1M2985 1423h1M2993 1423h1M3005 1423h1M3036 1423h1M3049 1423h1M3049 1423h1M2968 1424h1M2993 1424h1M3036 1424h1M2963 1425h1M2971 1425h1M2991 1425h1M2994 1425h1M3027 1425h1M3035 1425h1M2942 1426h1M2956 1426h1M2957 1426h1M2973 1426h1M2974 1426h1M2990 1426h1M3015 1426h1M3023 1426h1M3032 1426h1M2964 1427h1M2974 1427h1M2976 1427h1M3020 1427h1M3034 1427h1M3047 1427h1M3061 1427h1M2965 1428h1M3001 1428h1M3007 1428h1M3012 1428h1M3018 1428h1M3018 1428h1M3060 1428h1M2945 1429h1M3001 1429h1M3019 1429h1M3051 1429h1M2941 1430h1M2962 1430h1M2962 1430h1M2968 1430h1M2971 1430h1M2978 1430h1M2986 1430h1M2987 1430h1M3063 1430h1M2945 1431h1M2949 1431h1M2973 1431h1M3022 1431h1M2941 1432h1M2947 1432h1M2949 1432h1M2968 1432h1M2985 1432h1M2992 1432h1M2994 1432h1M2998 1432h1M3033 1432h1M3058 1432h1M2940 1433h1M2954 1433h1M2956 1433h1M2983 1433h1M3001 1433h1M3013 1433h1M3013 1433h1M3016 1433h1M3028 1433h1M2940 1434h1M2954 1434h1M2969 1434h1M2973 1434h1M2980 1434h1M2981 1434h1M2995 1434h1M3014 1434h1M3046 1434h1M3076 1434h1M2981 1435h1M3000 1435h1M3001 1435h1M3032 1435h1M3039 1435h1M3063 1435h1M2968 1436h1M2971 1436h1M2974 1436h1M2992 1436h1M3006 1436h1M3032 1436h1M3055 1436h1M2944 1437h1M2973 1437h1M2981 1437h1M2996 1437h1M3012 1437h1M3030 1437h1M3115 1437h1M2979 1438h1M2994 1438h1M3000 1438h1M3059 1438h1M2943 1439h1M2966 1439h1M3026 1439h1M3043 1439h1M3026 1440h1M2940 1441h1M2973 1441h1M3004 1441h1M3012 1441h1M3014 1441h1M3037 1441h1M3038 1441h1M3043 1441h1M2940 1442h1M2945 1442h1M3017 1442h1M3025 1442h1M3052 1442h1M3083 1442h1M2950 1443h1M2971 1443h1M3004 1443h1M3019 1443h1M3027 1443h1M3030 1443h1M3046 1443h1M3062 1443h1M3065 1443h1M3096 1443h1M2939 1444h1M2947 1444h1M2968 1444h1M2982 1444h1M3009 1444h1M3011 1444h1M3075 1444h1M3169 1444h1M2971 1445h1M2971 1445h1M2973 1445h1M2992 1445h1M3010 1445h1M3035 1445h1M2959 1446h1M2985 1446h1M2985 1446h1M2990 1446h1M2992 1446h1M2992 1446h1M3008 1446h1M3026 1446h1M3028 1446h1M2939 1447h1M2955 1447h1M2960 1447h1M2991 1447h1M2992 1447h1M3032 1447h1M3071 1447h1M2939 1448h1M2940 1448h1M2959 1448h1M2983 1448h1M2984 1448h1M2986 1448h1M3039 1448h1M2965 1449h1M2979 1449h1M2992 1449h1M2994 1449h1M3010 1449h1M3011 1449h1M3013 1449h1M3021 1449h1M3022 1449h1M3037 1449h1M3039 1449h1M3052 1449h1M3062 1449h1M2940 1450h1M2958 1450h1M3007 1450h1M3035 1450h1M3050 1450h1M3082 1450h1M2942 1451h1M2975 1451h1M3031 1451h1M3033 1451h1M3096 1451h1M2944 1452h1M2945 1452h1M2948 1452h1M2958 1452h1M2979 1452h1M2982 1452h1M2983 1452h1M3011 1452h1M3025 1452h1M3039 1452h1M3043 1452h1M3049 1452h1M3216 1452h1M2977 1453h1M2983 1453h1M2984 1453h1M2985 1453h1M2997 1453h1M2999 1453h1M3000 1453h1M3049 1453h1M3072 1453h1M2962 1454h1M2977 1454h1M3004 1454h1M3007 1454h1M3019 1454h1M3036 1454h1M2996 1455h1M3009 1455h1M3047 1455h1M3056 1455h1M2945 1456h1M2967 1456h1M2986 1456h1M2986 1456h1M3007 1456h1M3088 1456h1M2944 1457h1M3005 1457h1M3042 1457h1M3043 1457h1M3087 1457h1M2940 1458h1M2943 1458h1M3012 1458h1M3079 1458h1M2945 1459h1M2998 1459h1M3009 1459h1M2955 1460h1M2985 1460h1M2987 1460h1M2992 1460h1M3018 1460h1M3019 1460h1M3020 1460h1M3026 1460h1M2942 1461h1M2982 1461h1M2985 1461h1M3001 1461h1M3003 1461h1M3064 1461h1M2954 1462h1M2986 1462h1M2992 1462h1M3021 1462h1M3021 1462h1M2942 1463h1M2997 1463h1M3012 1463h1M3047 1463h1M2961 1464h1M2985 1464h1M3022 1464h1M3024 1464h1M2966 1465h1M2967 1465h1M2984 1465h1M2991 1465h1M2995 1465h1M3012 1465h1M3018 1465h1M3036 1465h1M2975 1466h1M2987 1466h1M3020 1466h1M3041 1466h1M3119 1466h1M2986 1467h1M3004 1467h1M3012 1467h1M3018 1467h1M3026 1467h1M3099 1467h1M2940 1468h1M2972 1468h1M2986 1468h1M2986 1468h1M3017 1468h1M2992 1469h1M3003 1469h1M3006 1469h1M3015 1469h1M3031 1469h1M3036 1469h1M3054 1469h1M2959 1470h1M3025 1470h1M3027 1470h1M3051 1470h1M2970 1471h1M3018 1471h1M3027 1471h1M2960 1472h1M2989 1472h1M3003 1472h1M3048 1472h1M3072 1472h1M3083 1472h1M2942 1473h1M2978 1473h1M2978 1473h1M2985 1473h1M3004 1473h1M3025 1474h1M3042 1474h1M3075 1474h1M2955 1475h1M2980 1475h1M2995 1475h1M3016 1475h1M3018 1475h1M2991 1476h1M2997 1476h1M3008 1476h1M3008 1477h1M3032 1477h1M2970 1478h1M2973 1478h1M2994 1478h1M2998 1478h1M3007 1478h1M3072 1478h1M3082 1478h1M2939 1479h1M2939 1479h1M2997 1479h1M3037 1479h1M2939 1480h1M2959 1480h1M2963 1480h1M3025 1480h1M3033 1480h1M3052 1480h1M3000 1481h1M3013 1481h1M3019 1481h1M3023 1481h1M3043 1481h1M2945 1482h1M2941 1483h1M2944 1483h1M2984 1483h1M3015 1483h1M2987 1484h1M3002 1484h1M3037 1484h1M2943 1485h1M2968 1485h1M3004 1485h1M2997 1486h1M3045 1486h1M3059 1486h1M2957 1487h1M2957 1487h1M3015 1487h1M3038 1487h1M3051 1487h1M2946 1488h1M2963 1488h1M2979 1488h1M3027 1488h1M3004 1489h1M3017 1489h1M3003 1490h1M3007 1490h1M3042 1490h1M3061 1490h1M2965 1491h1M2979 1492h1M3034 1492h1M2979 1494h1M2989 1496h1M3014 1496h1M3030 1496h1M2938 1497h1M3006 1497h1M2963 1498h1M2948 1499h1M3013 1499h1M3021 1499h1M3063 1499h1M2960 1500h1M3045 1500h1M3062 1500h1M2944 1502h1M2983 1502h1M3043 1502h1M3053 1502h1M3022 1503h1M3046 1503h1M2980 1504h1M3110 1505h1M3020 1506h1M2958 1507h1M2982 1507h1M3011 1507h1M2953 1508h1M3008 1509h1"/><path transform="scale(.1)" stroke="#262626" stroke-width="7.5" stroke-linecap="square" d="M3299 1390h1M3274 1392h1M3253 1406h1M3283 1423h1M3274 1424h1M3222 1426h1M3261 1431h1M3287 1434h1M3260 1436h1M3298 1438h1M3280 1439h1M3294 1439h1M3288 1440h1M3250 1446h1M3305 1446h1M3228 1447h1M3269 1449h1M3255 1450h1M3283 1450h1M3291 1450h1M3274 1453h1M3330 1453h1M3222 1455h1M3275 1456h1M3269 1457h1M3296 1459h1M3254 1460h1M3281 1460h1M3307 1460h1M3284 1462h1M3265 1464h1M3278 1464h1M3292 1464h1M3227 1466h1M3237 1468h1M3297 1469h1M3248 1471h1M3261 1471h1M3270 1471h1M3296 1472h1M3291 1473h1M3239 1474h1M3292 1474h1M3259 1475h1M3320 1476h1M3284 1477h1M3312 1477h1M3263 1478h1M3274 1480h1M3287 1480h1M3249 1481h1M3258 1481h1M3304 1481h1M3254 1482h1M3262 1482h1M3256 1483h1M3269 1484h1M3296 1484h1M3248 1486h1M3273 1486h1M3288 1486h1M3295 1486h1M3298 1488h1M3340 1488h1M3306 1490h1M3285 1491h1M3297 1491h1M3326 1491h1M3302 1492h1M3258 1493h1M3291 1494h1M3271 1495h1M3320 1495h1M3298 1498h1M3284 1500h1M3380 1501h1M3194 1502h1M3235 1502h1M3276 1502h1M3243 1503h1M3416 1504h1M3281 1505h1M3319 1505h1M3358 1505h1M3296 1507h1M3311 1507h1M3332 1507h1M3366 1507h1M3392 1507h1M3251 1508h1M3271 1508h1M3299 1508h1"/><rect x="293.3" y="91.9" width="61.2" height="59.6" fill="none" stroke="#222" stroke-width="0.9"/><line x1="315.8" y1="91.9" x2="315.8" y2="151.5" stroke="#222" stroke-width="0.9"/><line x1="293.3" y1="136.5" x2="354.5" y2="136.5" stroke="#222" stroke-width="0.9"/><text transform="translate(290.1,137) rotate(-90)" font-size="10.3" textLength="25.0" stroke="#111" stroke-width="0.1">CD20</text><text x="297" y="102.1" font-size="8" textLength="16.2" stroke="#111" stroke-width="0.1">11.6</text><text x="352.3" y="102.1" font-size="8" text-anchor="end" textLength="16.8" stroke="#111" stroke-width="0.1">0.02</text><text x="352.3" y="148.8" font-size="8" text-anchor="end" textLength="12.0" stroke="#111" stroke-width="0.1">1.6</text><rect x="357" y="118.8" width="31.3" height="23" rx="9.4" fill="#111" clip-path="url(#cb11)"/><path transform="scale(.1)" stroke="#111" stroke-width="7.5" stroke-linecap="square" d="M3971 964h1M4131 1020h1M4129 1059h1M3792 1060h1M3852 1062h1M3736 1068h1M3735 1070h1M3841 1070h1M3746 1071h1M3740 1074h1M3781 1074h1M3764 1076h1M3792 1077h1M3792 1081h1M3734 1083h1M3753 1083h1M3806 1086h1M3739 1087h1M3777 1087h1M3822 1087h1M3740 1088h1M3800 1091h1M3867 1091h1M3812 1092h1M3736 1099h1M3738 1100h1M3793 1100h1M3742 1102h1M3771 1102h1M3756 1103h1M3835 1103h1M3761 1105h1M3789 1106h1M3790 1110h1M3769 1112h1M3776 1112h1M3778 1112h1M3772 1113h1M3758 1118h1M3734 1120h1M3839 1120h1M3778 1123h1M3799 1124h1M3768 1125h1M3751 1127h1M3840 1128h1M3820 1129h1M3829 1132h1M3843 1133h1M3794 1136h1M3735 1138h1M3841 1139h1M3763 1140h1M3882 1141h1M3801 1142h1M3814 1142h1M3854 1143h1M3876 1143h1M3804 1146h1M3798 1150h1M3855 1150h1M3783 1151h1M3854 1154h1M3736 1155h1M3796 1155h1M3848 1156h1M3881 1158h1M3816 1159h1M3857 1159h1M3743 1161h1M3767 1161h1M3842 1161h1M3818 1162h1M3832 1163h1M3861 1165h1M3804 1166h1M3874 1167h1M3747 1169h1M3805 1169h1M3790 1174h1M3809 1175h1M3815 1177h1M3813 1178h1M3857 1178h1M3865 1178h1M3781 1179h1M3812 1179h1M3830 1180h1M3762 1181h1M3877 1181h1M3788 1182h1M3839 1182h1M3796 1184h1M3798 1184h1M3816 1185h1M3851 1186h1M3875 1186h1M3754 1187h1M3799 1188h1M3842 1188h1M3785 1189h1M3807 1189h1M3817 1189h1M3857 1189h1M3875 1189h1M3781 1190h1M3792 1191h1M3824 1191h1M3819 1192h1M3819 1192h1M3759 1193h1M3814 1193h1M3815 1193h1M3819 1194h1M3769 1195h1M3775 1195h1M3817 1195h1M3858 1195h1M3824 1196h1M3812 1197h1M3787 1198h1M3798 1198h1M3815 1199h1M3841 1199h1M3880 1199h1M3825 1200h1M3780 1201h1M3831 1201h1M3840 1202h1M3756 1203h1M3797 1204h1M3876 1204h1M3739 1205h1M3777 1205h1M3811 1205h1M3819 1205h1M3841 1205h1M3754 1206h1M3765 1206h1M3848 1207h1M3854 1207h1M3769 1208h1M3778 1208h1M3815 1208h1M3838 1208h1M3805 1210h1M3838 1210h1M3841 1210h1M3855 1211h1M3863 1211h1M3863 1211h1M3864 1211h1M3829 1213h1M3829 1213h1M3841 1214h1M3875 1214h1M3851 1215h1M3868 1215h1M3916 1215h1M3772 1216h1M3836 1216h1M3860 1217h1M3873 1217h1M3873 1217h1M3883 1217h1M3869 1218h1M3833 1219h1M3862 1219h1M3878 1219h1M3771 1220h1M3798 1220h1M3779 1221h1M3806 1221h1M3850 1221h1M3862 1221h1M3882 1221h1M3734 1222h1M3800 1222h1M3806 1222h1M3897 1222h1M3737 1223h1M3822 1223h1M3888 1223h1M3793 1224h1M3817 1224h1M3826 1224h1M3837 1224h1M3739 1225h1M3747 1225h1M3804 1225h1M3843 1225h1M3849 1225h1M3868 1225h1M3845 1226h1M3866 1226h1M3893 1226h1M3740 1227h1M3806 1227h1M3808 1227h1M3824 1227h1M3825 1227h1M3860 1227h1M3872 1227h1M3905 1227h1M3820 1228h1M3837 1228h1M3842 1228h1M3916 1228h1M3757 1229h1M3788 1229h1M3819 1229h1M3839 1229h1M3841 1229h1M3787 1230h1M3797 1230h1M3808 1230h1M3830 1230h1M3858 1230h1M3758 1231h1M3773 1231h1M3808 1231h1M3851 1231h1M3872 1231h1M3740 1232h1M3767 1232h1M3795 1232h1M3846 1232h1M3761 1233h1M3783 1233h1M3799 1233h1M3806 1233h1M3819 1233h1M3829 1233h1M3837 1233h1M3841 1233h1M3750 1234h1M3830 1234h1M3832 1234h1M3865 1234h1M3884 1234h1M3943 1234h1M3802 1235h1M3887 1235h1M3734 1236h1M3787 1236h1M3802 1236h1M3876 1236h1M3785 1237h1M3802 1237h1M3807 1237h1M3815 1237h1M3812 1238h1M3860 1238h1M3874 1238h1M3878 1238h1M3741 1239h1M3759 1239h1M3761 1239h1M3777 1239h1M3787 1239h1M3789 1239h1M3793 1239h1M3810 1239h1M3823 1239h1M3848 1239h1M3857 1239h1M3881 1239h1M3884 1239h1M3754 1240h1M3784 1240h1M3789 1240h1M3792 1240h1M3833 1240h1M3845 1240h1M3780 1241h1M3783 1241h1M3786 1241h1M3827 1241h1M3829 1241h1M3848 1241h1M3762 1242h1M3737 1243h1M3768 1243h1M3779 1243h1M3827 1243h1M3839 1243h1M3855 1243h1M3877 1243h1M3760 1244h1M3779 1244h1M3791 1244h1M3806 1244h1M3830 1244h1M3840 1244h1M3868 1244h1M3735 1245h1M3738 1245h1M3740 1245h1M3796 1245h1M3806 1245h1M3834 1245h1M3849 1245h1M3835 1246h1M3756 1247h1M3770 1247h1M3784 1247h1M3808 1247h1M3811 1247h1M3854 1247h1M3879 1247h1M3935 1247h1M3822 1248h1M3836 1248h1M3846 1248h1M3848 1248h1M3851 1248h1M3927 1248h1M3815 1249h1M3842 1249h1M3854 1249h1M3855 1249h1M3860 1249h1M3783 1250h1M3817 1250h1M3819 1250h1M3836 1250h1M3865 1250h1M3876 1250h1M3885 1250h1M3759 1251h1M3792 1251h1M3811 1251h1M3822 1251h1M3823 1251h1M3824 1251h1M3763 1252h1M3780 1252h1M3786 1252h1M3792 1252h1M3802 1252h1M3813 1252h1M3819 1252h1M3820 1252h1M3825 1252h1M3765 1253h1M3775 1253h1M3801 1253h1M3810 1253h1M3846 1253h1M3900 1253h1M3742 1254h1M3763 1254h1M3817 1254h1M3827 1254h1M3842 1254h1M3890 1254h1M3762 1255h1M3793 1255h1M3803 1255h1M3810 1255h1M3815 1255h1M3838 1255h1M3839 1255h1M3846 1255h1M3852 1255h1M3863 1255h1M3777 1256h1M3819 1256h1M3847 1256h1M3757 1257h1M3797 1257h1M3804 1257h1M3826 1257h1M3871 1257h1M3753 1258h1M3756 1258h1M3790 1258h1M3790 1258h1M3793 1258h1M3795 1258h1M3816 1258h1M3822 1258h1M3841 1258h1M3853 1258h1M3896 1258h1M3758 1259h1M3769 1259h1M3769 1259h1M3784 1259h1M3815 1259h1M3834 1259h1M3878 1259h1M3903 1259h1M3907 1259h1M3911 1259h1M3921 1259h1M3751 1260h1M3770 1260h1M3818 1260h1M3863 1260h1M3874 1260h1M3905 1260h1M3919 1260h1M3736 1261h1M3739 1261h1M3779 1261h1M3812 1261h1M3824 1261h1M3829 1261h1M3735 1262h1M3781 1262h1M3805 1262h1M3818 1262h1M3819 1262h1M3847 1262h1M3883 1262h1M3774 1263h1M3788 1263h1M3791 1263h1M3795 1263h1M3808 1263h1M3819 1263h1M3825 1263h1M3878 1263h1M3888 1263h1M3925 1263h1M3736 1264h1M3756 1264h1M3763 1264h1M3806 1264h1M3848 1264h1M3849 1264h1M3862 1264h1M3902 1264h1M3734 1265h1M3797 1265h1M3803 1265h1M3839 1265h1M3839 1265h1M3859 1265h1M3861 1265h1M3791 1266h1M3794 1266h1M3862 1266h1M3866 1266h1M3891 1266h1M3905 1266h1M3927 1266h1M3736 1267h1M3737 1267h1M3743 1267h1M3766 1267h1M3774 1267h1M3776 1267h1M3816 1267h1M3830 1267h1M3871 1267h1M3874 1267h1M3740 1268h1M3743 1268h1M3807 1268h1M3823 1268h1M3840 1268h1M3853 1268h1M3861 1268h1M3793 1269h1M3797 1269h1M3801 1269h1M3813 1269h1M3822 1269h1M3825 1269h1M3827 1269h1M3840 1269h1M3738 1270h1M3761 1270h1M3805 1270h1M3746 1271h1M3754 1271h1M3806 1271h1M3816 1271h1M3832 1271h1M3833 1271h1M3890 1271h1M3742 1272h1M3777 1272h1M3784 1272h1M3787 1272h1M3876 1272h1M3897 1272h1M3734 1273h1M3751 1273h1M3788 1273h1M3828 1273h1M3851 1273h1M3745 1274h1M3839 1274h1M3854 1274h1M3864 1274h1M3865 1274h1M3870 1274h1M3905 1274h1M3791 1275h1M3821 1275h1M3830 1275h1M3834 1275h1M3852 1275h1M3853 1275h1M3857 1275h1M3869 1275h1M3881 1275h1M3781 1276h1M3789 1276h1M3801 1276h1M3814 1276h1M3862 1276h1M3940 1276h1M3757 1277h1M3811 1277h1M3816 1277h1M3820 1277h1M3824 1277h1M3829 1277h1M3833 1277h1M3845 1277h1M3854 1277h1M3873 1277h1M3890 1277h1M3909 1277h1M3755 1278h1M3756 1278h1M3783 1278h1M3801 1278h1M3810 1278h1M3811 1278h1M3830 1278h1M3750 1279h1M3757 1279h1M3806 1279h1M3806 1279h1M3825 1279h1M3836 1279h1M3890 1279h1M3749 1280h1M3753 1280h1M3762 1280h1M3781 1280h1M3791 1280h1M3794 1280h1M3798 1280h1M3813 1280h1M3814 1280h1M3835 1280h1M3835 1280h1M3879 1280h1M3929 1280h1M3957 1280h1M3734 1281h1M3782 1281h1M3822 1281h1M3842 1281h1M3870 1281h1M3787 1282h1M3814 1282h1M3816 1282h1M3840 1282h1M3842 1282h1M3846 1282h1M3852 1282h1M3857 1282h1M3739 1283h1M3754 1283h1M3784 1283h1M3785 1283h1M3798 1283h1M3802 1283h1M3813 1283h1M3826 1283h1M3832 1283h1M3856 1283h1M3864 1283h1M3911 1283h1M3743 1284h1M3778 1284h1M3801 1284h1M3827 1284h1M3828 1284h1M3830 1284h1M3847 1284h1M3883 1284h1M3736 1285h1M3795 1285h1M3809 1285h1M3827 1285h1M3828 1285h1M3844 1285h1M3891 1285h1M3761 1286h1M3766 1286h1M3836 1286h1M3860 1286h1M3866 1286h1M3734 1287h1M3748 1287h1M3780 1287h1M3783 1287h1M3806 1287h1M3806 1287h1M3811 1287h1M3821 1287h1M3824 1287h1M3855 1287h1M3861 1287h1M3927 1287h1M3738 1288h1M3761 1288h1M3765 1288h1M3780 1288h1M3800 1288h1M3805 1288h1M3810 1288h1M3824 1288h1M3840 1288h1M3861 1288h1M3876 1288h1M3797 1289h1M3797 1289h1M3801 1289h1M3819 1289h1M3848 1289h1M3793 1290h1M3799 1290h1M3843 1290h1M3847 1290h1M3856 1290h1M3909 1290h1M3935 1290h1M3746 1291h1M3776 1291h1M3786 1291h1M3793 1291h1M3795 1291h1M3812 1291h1M3813 1291h1M3825 1291h1M3826 1291h1M3834 1291h1M3878 1291h1M3913 1291h1M3812 1292h1M3825 1292h1M3831 1292h1M3853 1292h1M3857 1292h1M3861 1292h1M3863 1292h1M3875 1292h1M3880 1292h1M3796 1293h1M3796 1293h1M3798 1293h1M3802 1293h1M3825 1293h1M3846 1293h1M3848 1293h1M3896 1293h1M3902 1293h1M3758 1294h1M3823 1294h1M3823 1294h1M3826 1294h1M3828 1294h1M3835 1294h1M3838 1294h1M3844 1294h1M3847 1294h1M3892 1294h1M3893 1294h1M3738 1295h1M3740 1295h1M3782 1295h1M3787 1295h1M3806 1295h1M3817 1295h1M3838 1295h1M3839 1295h1M3859 1295h1M3864 1295h1M3872 1295h1M3875 1295h1M3893 1295h1M3741 1296h1M3775 1296h1M3783 1296h1M3784 1296h1M3820 1296h1M3825 1296h1M3834 1296h1M3844 1296h1M3846 1296h1M3851 1296h1M3852 1296h1M3861 1296h1M3864 1296h1M3871 1296h1M3907 1296h1M3914 1296h1M3916 1296h1M3736 1297h1M3755 1297h1M3784 1297h1M3791 1297h1M3802 1297h1M3821 1297h1M3827 1297h1M3858 1297h1M3876 1297h1M3752 1298h1M3755 1298h1M3760 1298h1M3774 1298h1M3798 1298h1M3869 1298h1M3888 1298h1M3766 1299h1M3774 1299h1M3789 1299h1M3796 1299h1M3812 1299h1M3815 1299h1M3815 1299h1M3820 1299h1M3824 1299h1M3842 1299h1M3851 1299h1M3740 1300h1M3770 1300h1M3772 1300h1M3806 1300h1M3822 1300h1M3824 1300h1M3873 1300h1M3916 1300h1M3926 1300h1M3961 1300h1M3736 1301h1M3751 1301h1M3772 1301h1M3776 1301h1M3807 1301h1M3829 1301h1M3832 1301h1M3851 1301h1M3868 1301h1M3868 1301h1M3870 1301h1M3882 1301h1M3920 1301h1M3747 1302h1M3796 1302h1M3823 1302h1M3827 1302h1M3853 1302h1M3866 1302h1M3746 1303h1M3788 1303h1M3818 1303h1M3819 1303h1M3831 1303h1M3832 1303h1M3849 1303h1M3918 1303h1M3751 1304h1M3769 1304h1M3782 1304h1M3792 1304h1M3801 1304h1M3867 1304h1M3871 1304h1M3907 1304h1M3734 1305h1M3763 1305h1M3796 1305h1M3816 1305h1M3820 1305h1M3826 1305h1M3832 1305h1M3839 1305h1M3842 1305h1M3862 1305h1M3872 1305h1M3873 1305h1M3894 1305h1M3734 1306h1M3755 1306h1M3763 1306h1M3794 1306h1M3841 1306h1M3862 1306h1M3869 1306h1M3902 1306h1M3912 1306h1M3735 1307h1M3754 1307h1M3765 1307h1M3795 1307h1M3797 1307h1M3800 1307h1M3803 1307h1M3807 1307h1M3808 1307h1M3820 1307h1M3827 1307h1M3896 1307h1M3755 1308h1M3762 1308h1M3781 1308h1M3785 1308h1M3798 1308h1M3805 1308h1M3820 1308h1M3827 1308h1M3830 1308h1M3841 1308h1M3854 1308h1M3896 1308h1M3916 1308h1M3740 1309h1M3741 1309h1M3774 1309h1M3779 1309h1M3808 1309h1M3819 1309h1M3820 1309h1M3822 1309h1M3824 1309h1M3826 1309h1M3852 1309h1M3738 1310h1M3780 1310h1M3827 1310h1M3831 1310h1M3850 1310h1M3864 1310h1M3735 1311h1M3745 1311h1M3775 1311h1M3801 1311h1M3808 1311h1M3810 1311h1M3832 1311h1M3863 1311h1M3876 1311h1M3878 1311h1M3790 1312h1M3803 1312h1M3805 1312h1M3823 1312h1M3735 1313h1M3750 1313h1M3778 1313h1M3831 1313h1M3844 1313h1M3849 1313h1M3849 1313h1M3860 1313h1M3864 1313h1M3879 1313h1M3921 1313h1M3743 1314h1M3751 1314h1M3757 1314h1M3762 1314h1M3778 1314h1M3819 1314h1M3824 1314h1M3846 1314h1M3901 1314h1M3751 1315h1M3770 1315h1M3844 1315h1M3847 1315h1M3859 1315h1M3762 1316h1M3786 1316h1M3787 1316h1M3787 1316h1M3794 1316h1M3797 1316h1M3813 1316h1M3819 1316h1M3836 1316h1M3850 1316h1M3857 1316h1M3871 1316h1M3872 1316h1M3882 1316h1M3737 1317h1M3744 1317h1M3782 1317h1M3797 1317h1M3803 1317h1M3817 1317h1M3826 1317h1M3830 1317h1M3842 1317h1M3845 1317h1M3940 1317h1M3735 1318h1M3770 1318h1M3793 1318h1M3810 1318h1M3816 1318h1M3835 1318h1M3908 1318h1M3952 1318h1M3741 1319h1M3788 1319h1M3830 1319h1M3840 1319h1M3848 1319h1M3848 1319h1M3870 1319h1M3899 1319h1M3809 1320h1M3822 1320h1M3831 1320h1M3849 1320h1M3890 1320h1M3891 1320h1M3912 1320h1M3955 1320h1M3736 1321h1M3744 1321h1M3746 1321h1M3777 1321h1M3781 1321h1M3783 1321h1M3798 1321h1M3821 1321h1M3828 1321h1M3843 1321h1M3850 1321h1M3857 1321h1M3859 1321h1M3866 1321h1M3870 1321h1M3887 1321h1M3735 1322h1M3777 1322h1M3801 1322h1M3805 1322h1M3812 1322h1M3816 1322h1M3830 1322h1M3833 1322h1M3838 1322h1M3840 1322h1M3885 1322h1M3749 1323h1M3750 1323h1M3762 1323h1M3765 1323h1M3812 1323h1M3818 1323h1M3819 1323h1M3831 1323h1M3843 1323h1M3845 1323h1M3874 1323h1M3802 1324h1M3812 1324h1M3820 1324h1M3823 1324h1M3885 1324h1M3781 1325h1M3783 1325h1M3816 1325h1M3841 1325h1M3846 1325h1M3862 1325h1M3871 1325h1M3735 1326h1M3753 1326h1M3757 1326h1M3768 1326h1M3775 1326h1M3777 1326h1M3824 1326h1M3860 1326h1M3863 1326h1M3892 1326h1M3804 1327h1M3808 1327h1M3816 1327h1M3821 1327h1M3856 1327h1M3858 1327h1M3859 1327h1M3872 1327h1M3811 1328h1M3826 1328h1M3829 1328h1M3835 1328h1M3842 1328h1M3947 1328h1M3748 1329h1M3754 1329h1M3778 1329h1M3796 1329h1M3799 1329h1M3807 1329h1M3811 1329h1M3816 1329h1M3830 1329h1M3835 1329h1M3854 1329h1M3854 1329h1M3857 1329h1M3738 1330h1M3741 1330h1M3786 1330h1M3804 1330h1M3823 1330h1M3824 1330h1M3842 1330h1M3740 1331h1M3764 1331h1M3766 1331h1M3774 1331h1M3774 1331h1M3782 1331h1M3807 1331h1M3819 1331h1M3820 1331h1M3823 1331h1M3874 1331h1M3893 1331h1M3782 1332h1M3785 1332h1M3802 1332h1M3810 1332h1M3812 1332h1M3843 1332h1M3856 1332h1M3863 1332h1M3740 1333h1M3778 1333h1M3793 1333h1M3806 1333h1M3809 1333h1M3822 1333h1M3838 1333h1M3861 1333h1M3865 1333h1M3923 1333h1M3771 1334h1M3791 1334h1M3815 1334h1M3819 1334h1M3819 1334h1M3829 1334h1M3837 1334h1M3848 1334h1M3748 1335h1M3786 1335h1M3807 1335h1M3809 1335h1M3837 1335h1M3765 1336h1M3770 1336h1M3793 1336h1M3827 1336h1M3836 1336h1M3851 1336h1M3887 1336h1M3739 1337h1M3772 1337h1M3775 1337h1M3784 1337h1M3786 1337h1M3815 1337h1M3821 1337h1M3832 1337h1M3836 1337h1M3849 1337h1M3850 1337h1M3769 1338h1M3785 1338h1M3799 1338h1M3801 1338h1M3811 1338h1M3819 1338h1M3846 1338h1M3877 1338h1M3902 1338h1M3734 1339h1M3737 1339h1M3748 1339h1M3770 1339h1M3780 1339h1M3790 1339h1M3797 1339h1M3811 1339h1M3813 1339h1M3764 1340h1M3816 1340h1M3817 1340h1M3826 1340h1M3830 1340h1M3905 1340h1M3739 1341h1M3798 1341h1M3818 1341h1M3820 1341h1M3774 1342h1M3790 1342h1M3801 1342h1M3828 1342h1M3842 1342h1M3855 1342h1M3860 1342h1M3894 1342h1M3922 1342h1M3735 1343h1M3807 1343h1M3817 1343h1M3851 1343h1M3797 1344h1M3808 1344h1M3816 1344h1M3735 1345h1M3828 1345h1M3911 1345h1M3787 1346h1M3793 1346h1M3798 1346h1M3801 1346h1M3808 1346h1M3812 1346h1M3834 1346h1M3836 1346h1M3836 1346h1M3842 1346h1M3857 1346h1M3762 1347h1M3790 1347h1M3800 1347h1M3820 1347h1M3827 1347h1M3845 1347h1M3895 1347h1M3905 1347h1M3733 1348h1M3764 1348h1M3792 1348h1M3798 1348h1M3798 1348h1M3802 1348h1M3826 1348h1M3827 1348h1M3925 1348h1M3769 1349h1M3905 1349h1M3760 1350h1M3781 1350h1M3782 1350h1M3803 1350h1M3809 1350h1M3853 1350h1M3857 1350h1M3797 1351h1M3818 1351h1M3739 1352h1M3748 1352h1M3760 1352h1M3865 1352h1M3775 1353h1M3807 1353h1M3809 1353h1M3823 1353h1M3834 1353h1M3867 1353h1M3884 1353h1M3738 1354h1M3739 1354h1M3769 1354h1M3801 1354h1M3804 1354h1M3811 1354h1M3819 1354h1M3827 1354h1M3737 1355h1M3749 1355h1M3790 1355h1M3821 1355h1M3827 1355h1M3828 1355h1M3830 1355h1M3874 1355h1M3912 1355h1M3815 1356h1M3752 1357h1M3763 1357h1M3775 1357h1M3789 1357h1M3797 1357h1M3878 1357h1M3889 1357h1M3774 1358h1M3791 1358h1M3840 1358h1M3842 1358h1M3854 1358h1M3859 1358h1M3867 1358h1M3739 1359h1M3788 1359h1M3807 1359h1M3834 1359h1M3847 1359h1M3860 1359h1M3752 1360h1M3808 1360h1M3811 1360h1M3816 1360h1M3775 1361h1M3784 1361h1M3796 1361h1M3798 1361h1M3816 1361h1M3857 1361h1M3861 1361h1M3789 1362h1M3863 1362h1M3906 1362h1M3757 1363h1M3811 1363h1M3824 1363h1M3846 1363h1M3733 1364h1M3765 1364h1M3778 1364h1M3792 1364h1M3797 1364h1M3806 1364h1M3807 1364h1M3809 1364h1M3853 1364h1M3856 1364h1M3735 1365h1M3793 1365h1M3794 1365h1M3806 1365h1M3812 1365h1M3824 1365h1M3902 1365h1M3764 1366h1M3809 1366h1M3813 1366h1M3814 1366h1M3819 1366h1M3820 1366h1M3850 1366h1M3857 1366h1M3902 1366h1M3775 1367h1M3782 1367h1M3799 1367h1M3851 1367h1M3852 1367h1M3771 1368h1M3793 1368h1M3813 1368h1M3851 1368h1M3851 1368h1M3858 1368h1M3878 1368h1M3773 1369h1M3806 1369h1M3808 1369h1M3739 1370h1M3826 1370h1M3843 1370h1M3893 1370h1M3738 1371h1M3777 1371h1M3790 1371h1M3835 1371h1M3856 1371h1M3908 1371h1M3819 1372h1M3836 1372h1M3840 1372h1M3851 1372h1M3873 1372h1M3742 1373h1M3746 1373h1M3770 1373h1M3795 1373h1M3809 1373h1M3832 1373h1M3847 1373h1M3734 1374h1M3780 1374h1M3808 1374h1M3820 1374h1M3842 1374h1M3843 1374h1M3865 1374h1M3746 1375h1M3784 1375h1M3859 1375h1M3814 1376h1M3816 1376h1M3816 1376h1M3830 1377h1M3843 1377h1M3808 1378h1M3860 1378h1M3771 1379h1M3848 1379h1M3954 1379h1M3740 1380h1M3793 1380h1M3765 1381h1M3807 1381h1M3865 1381h1M3865 1381h1M3866 1381h1M3900 1381h1M3798 1382h1M3810 1382h1M3811 1382h1M3816 1382h1M3774 1383h1M3782 1383h1M3794 1383h1M3825 1383h1M3833 1383h1M3856 1383h1M3888 1383h1M3784 1384h1M3809 1384h1M3839 1384h1M3846 1384h1M3795 1385h1M3873 1385h1M3907 1385h1M3736 1386h1M3776 1386h1M3812 1386h1M3819 1386h1M3831 1386h1M3806 1387h1M3734 1388h1M3744 1388h1M3771 1388h1M3834 1388h1M3847 1388h1M3753 1389h1M3789 1389h1M3805 1389h1M3866 1389h1M3763 1390h1M3812 1390h1M3831 1390h1M3839 1390h1M3778 1391h1M3802 1391h1M3862 1391h1M3754 1392h1M3763 1392h1M3835 1392h1M3837 1392h1M3901 1392h1M3750 1393h1M3771 1393h1M3780 1393h1M3791 1393h1M3797 1393h1M3866 1394h1M3776 1395h1M3807 1395h1M3865 1395h1M3799 1396h1M3812 1396h1M3822 1396h1M3834 1396h1M3861 1396h1M3736 1397h1M3831 1397h1M3840 1397h1M3850 1397h1M3832 1398h1M3844 1399h1M3800 1400h1M3802 1400h1M3869 1400h1M3768 1401h1M3793 1401h1M3837 1401h1M3853 1401h1M3868 1401h1M3795 1402h1M3807 1402h1M3819 1402h1M3840 1402h1M3867 1402h1M3764 1403h1M3801 1403h1M3806 1403h1M3831 1403h1M3863 1403h1M3870 1403h1M3918 1403h1M3772 1404h1M3780 1404h1M3852 1405h1M3872 1405h1M3774 1407h1M3825 1407h1M3860 1407h1M3854 1408h1M3752 1409h1M3800 1409h1M3841 1409h1M3825 1410h1M3844 1410h1M3856 1410h1M3880 1410h1M3889 1410h1M3790 1411h1M3792 1411h1M3857 1411h1M3735 1412h1M3769 1412h1M3805 1412h1M3819 1412h1M3828 1412h1M3845 1412h1M3772 1413h1M3809 1413h1M3739 1414h1M3780 1415h1M3818 1415h1M3771 1417h1M3825 1417h1M3738 1418h1M3789 1418h1M3743 1419h1M3769 1419h1M3783 1419h1M3791 1420h1M3824 1420h1M3828 1420h1M3889 1420h1M3913 1421h1M3770 1422h1M3795 1422h1M3798 1422h1M3795 1423h1M3802 1423h1M3876 1423h1M3733 1424h1M3795 1424h1M3808 1424h1M3870 1424h1M3891 1424h1M3795 1425h1M3803 1425h1M3813 1425h1M3816 1425h1M3804 1426h1M3808 1426h1M3840 1426h1M3893 1426h1M3754 1427h1M3821 1427h1M3879 1427h1M3762 1428h1M3766 1428h1M3776 1428h1M3797 1428h1M3798 1428h1M3820 1428h1M3846 1428h1M3857 1428h1M3875 1428h1M3888 1428h1M3770 1429h1M3882 1429h1M3752 1430h1M3778 1430h1M3783 1430h1M3859 1430h1M3874 1430h1M3891 1430h1M3733 1431h1M3798 1431h1M3845 1431h1M3864 1431h1M3873 1431h1M3771 1432h1M3770 1433h1M3842 1433h1M3861 1433h1M3867 1433h1M3751 1434h1M3782 1434h1M3831 1434h1M3848 1434h1M3753 1435h1M3822 1435h1M3834 1435h1M3756 1436h1M3808 1436h1M3821 1436h1M3828 1436h1M3871 1436h1M3875 1436h1M3786 1437h1M3813 1437h1M3849 1437h1M3852 1437h1M3752 1438h1M3794 1438h1M3846 1438h1M3861 1438h1M3881 1439h1M3765 1440h1M3770 1440h1M3817 1440h1M3824 1440h1M3876 1440h1M3734 1441h1M3801 1441h1M3862 1441h1M3872 1441h1M3742 1442h1M3746 1442h1M3758 1442h1M3764 1442h1M3775 1442h1M3810 1442h1M3833 1442h1M3865 1442h1M3776 1443h1M3827 1443h1M3827 1443h1M3841 1443h1M3741 1444h1M3768 1444h1M3780 1444h1M3809 1444h1M3736 1445h1M3782 1445h1M3844 1445h1M3863 1445h1M3892 1445h1M3741 1446h1M3746 1446h1M3764 1446h1M3760 1447h1M3785 1447h1M3808 1447h1M3848 1447h1M3739 1448h1M3765 1448h1M3776 1448h1M3844 1448h1M3860 1448h1M3926 1448h1M3786 1449h1M3793 1449h1M3801 1449h1M3809 1449h1M3762 1450h1M3795 1450h1M3812 1450h1M3844 1450h1M3737 1451h1M3754 1451h1M3761 1451h1M3757 1452h1M3769 1452h1M3777 1453h1M3800 1453h1M3851 1453h1M3874 1453h1M3746 1454h1M3813 1454h1M3778 1455h1M3804 1455h1M3838 1455h1M3841 1455h1M3865 1455h1M3799 1456h1M3817 1456h1M3862 1456h1M3793 1457h1M3836 1457h1M3734 1458h1M3789 1458h1M3854 1458h1M3744 1459h1M3790 1459h1M3806 1459h1M3814 1459h1M3829 1459h1M3792 1460h1M3811 1460h1M3859 1460h1M3770 1461h1M3799 1461h1M3825 1461h1M3829 1461h1M3855 1461h1M3751 1462h1M3775 1462h1M3870 1462h1M3758 1463h1M3796 1463h1M3898 1463h1M3743 1464h1M3868 1464h1M3828 1465h1M3801 1466h1M3811 1466h1M3893 1466h1M3779 1467h1M3795 1467h1M3808 1467h1M3740 1468h1M3740 1468h1M3769 1468h1M3835 1468h1M3843 1469h1M3747 1470h1M3747 1470h1M3773 1470h1M3841 1470h1M3835 1471h1M3763 1472h1M3832 1472h1M3762 1473h1M3828 1473h1M3836 1473h1M3899 1473h1M3760 1474h1M3741 1475h1M3856 1475h1M3881 1475h1M3881 1475h1M3781 1476h1M3806 1476h1M3754 1477h1M3762 1477h1M3782 1477h1M3849 1477h1M3735 1478h1M3792 1478h1M3809 1478h1M3808 1479h1M3822 1479h1M3882 1479h1M3739 1480h1M3783 1480h1M3833 1480h1M3833 1481h1M3741 1482h1M3746 1482h1M3801 1482h1M3833 1482h1M3870 1482h1M3871 1482h1M3785 1484h1M3750 1485h1M3795 1485h1M3740 1486h1M3815 1486h1M3857 1486h1M3862 1486h1M3739 1487h1M3765 1487h1M3776 1488h1M3811 1488h1M3828 1488h1M3765 1489h1M3852 1489h1M3828 1490h1M3858 1490h1M3741 1491h1M3737 1492h1M3766 1492h1M3787 1492h1M3818 1492h1M3821 1492h1M3737 1493h1M3751 1493h1M3790 1493h1M3800 1493h1M3814 1493h1M3826 1493h1M3743 1494h1M3774 1494h1M3780 1494h1M3815 1494h1M3834 1494h1M3750 1495h1M3827 1495h1M3760 1496h1M3885 1496h1M3756 1497h1M3771 1497h1M3891 1497h1M3768 1498h1M3783 1498h1M3804 1499h1M3827 1499h1M3828 1499h1M3811 1500h1M3824 1500h1M3829 1500h1M3874 1500h1M3889 1500h1M3749 1501h1M3753 1501h1M3759 1501h1M3836 1502h1M3786 1503h1M3808 1504h1M3783 1505h1M3830 1505h1M3847 1505h1M3737 1507h1M3789 1507h1M3743 1508h1M3854 1508h1M3864 1508h1"/><path transform="scale(.1)" stroke="#262626" stroke-width="7.5" stroke-linecap="square" d="M4039 1321h1M4041 1340h1M4045 1343h1M4018 1346h1M4030 1352h1M4038 1356h1M4015 1358h1M4022 1359h1M4011 1361h1M4055 1365h1M4042 1371h1M4052 1371h1M4015 1374h1M4029 1374h1M4030 1376h1M4075 1377h1M4011 1378h1M4076 1378h1M4043 1380h1M4026 1381h1M4036 1381h1M4043 1384h1M4026 1387h1M4059 1387h1M4024 1391h1M4070 1391h1M4048 1392h1M4081 1392h1M4055 1394h1M3983 1396h1M4013 1397h1M4025 1397h1M4033 1398h1M4044 1398h1M4046 1398h1M4025 1399h1M4062 1399h1M4023 1400h1M4057 1401h1M4076 1402h1M4051 1403h1M4032 1405h1M4058 1405h1M4040 1408h1M4050 1410h1M4062 1410h1M4027 1412h1M4086 1412h1M4026 1414h1M4053 1414h1M4029 1415h1M4039 1416h1M4034 1419h1M4004 1421h1M4069 1421h1M4025 1423h1M4040 1425h1M4051 1426h1M4050 1427h1M4036 1430h1M4070 1431h1M4055 1433h1M4032 1434h1M4031 1436h1M4092 1436h1M4044 1439h1M4080 1441h1M4068 1447h1M4052 1448h1M4049 1450h1M4052 1457h1M4060 1457h1M4073 1502h1M4059 1503h1M4117 1504h1M3967 1505h1M4017 1506h1M4071 1506h1M3828 1507h1M3959 1507h1M3974 1507h1M4014 1507h1M4054 1507h1M4085 1507h1M3980 1508h1M3988 1508h1M4010 1508h1"/><rect x="372.8" y="91.9" width="60.8" height="59.6" fill="none" stroke="#222" stroke-width="0.9"/><line x1="394.6" y1="91.9" x2="394.6" y2="151.5" stroke="#222" stroke-width="0.9"/><line x1="372.8" y1="131.5" x2="433.6" y2="131.5" stroke="#222" stroke-width="0.9"/><text transform="translate(369.6,137) rotate(-90)" font-size="10.3" textLength="25.0" stroke="#111" stroke-width="0.1">CD28</text><text x="375.8" y="102.1" font-size="8" textLength="16.8" stroke="#111" stroke-width="0.1">64.8</text><text x="429" y="102.1" font-size="8" text-anchor="end" textLength="16.8" stroke="#111" stroke-width="0.1">0.04</text><text x="429" y="148.8" font-size="8" text-anchor="end" textLength="12.0" stroke="#111" stroke-width="0.1">1.4</text><rect x="438" y="123.2" width="25.6" height="28.5" rx="10.1" fill="#111" clip-path="url(#cb12)"/><path transform="scale(.1)" stroke="#111" stroke-width="7.5" stroke-linecap="square" d="M4553 1089h1M4552 1095h1M4531 1099h1M4524 1100h1M4526 1100h1M4525 1101h1M4532 1102h1M4542 1102h1M4575 1102h1M4634 1102h1M4641 1102h1M4919 1103h1M4535 1106h1M4560 1106h1M4626 1108h1M4533 1111h1M4596 1111h1M4535 1112h1M4601 1112h1M4594 1113h1M4549 1114h1M4572 1115h1M4606 1117h1M4533 1118h1M4643 1119h1M4525 1120h1M4521 1121h1M4525 1121h1M4597 1121h1M4566 1122h1M4646 1122h1M4525 1124h1M4531 1124h1M4533 1124h1M4596 1125h1M4598 1126h1M4596 1127h1M4620 1127h1M4570 1128h1M4583 1128h1M4525 1129h1M4532 1131h1M4619 1131h1M4640 1131h1M4541 1132h1M4525 1133h1M4528 1137h1M4551 1137h1M4590 1138h1M4636 1141h1M4575 1142h1M4531 1143h1M4568 1144h1M4525 1145h1M4564 1145h1M4533 1146h1M4556 1147h1M4563 1147h1M4610 1147h1M4614 1147h1M4561 1149h1M4584 1149h1M4559 1151h1M4537 1152h1M4575 1152h1M4555 1153h1M4559 1153h1M4562 1153h1M4596 1153h1M4611 1153h1M4580 1154h1M4618 1154h1M4638 1157h1M4639 1157h1M4555 1159h1M4644 1159h1M4542 1161h1M4628 1161h1M4543 1162h1M4620 1162h1M4522 1163h1M4589 1163h1M4599 1163h1M4557 1164h1M4523 1165h1M4552 1166h1M4572 1166h1M4606 1167h1M4631 1167h1M4550 1168h1M4638 1168h1M4563 1170h1M4608 1170h1M4577 1171h1M4622 1171h1M4541 1173h1M4531 1174h1M4532 1174h1M4553 1174h1M4524 1175h1M4535 1175h1M4684 1177h1M4527 1178h1M4536 1178h1M4557 1178h1M4562 1180h1M4556 1181h1M4592 1181h1M4612 1183h1M4537 1185h1M4540 1186h1M4589 1186h1M4562 1187h1M4526 1188h1M4639 1188h1M4536 1189h1M4560 1189h1M4570 1190h1M4585 1190h1M4579 1191h1M4592 1192h1M4553 1193h1M4601 1193h1M4536 1194h1M4536 1194h1M4567 1194h1M4599 1194h1M4607 1194h1M4604 1195h1M4603 1196h1M4614 1196h1M4523 1197h1M4528 1197h1M4590 1197h1M4607 1198h1M4522 1201h1M4529 1203h1M4600 1203h1M4630 1204h1M4635 1204h1M4623 1205h1M4565 1206h1M4588 1209h1M4654 1209h1M4626 1210h1M4649 1211h1M4599 1216h1M4632 1216h1M4619 1218h1M4583 1221h1M4591 1221h1M4537 1222h1M4575 1222h1M4527 1223h1M4556 1225h1M4557 1226h1M4597 1226h1M4540 1227h1M4562 1227h1M4626 1227h1M4600 1228h1M4526 1229h1M4568 1229h1M4588 1229h1M4590 1229h1M4594 1230h1M4589 1231h1M4653 1232h1M4594 1234h1M4600 1234h1M4556 1235h1M4609 1235h1M4615 1237h1M4523 1238h1M4575 1238h1M4571 1239h1M4564 1240h1M4537 1241h1M4563 1241h1M4557 1242h1M4587 1242h1M4609 1242h1M4533 1243h1M4541 1243h1M4617 1243h1M4606 1244h1M4630 1244h1M4682 1245h1M4556 1246h1M4574 1246h1M4580 1246h1M4591 1246h1M4614 1246h1M4664 1246h1M4615 1249h1M4635 1249h1M4578 1250h1M4635 1250h1M4532 1251h1M4615 1251h1M4543 1252h1M4544 1252h1M4564 1252h1M4571 1252h1M4598 1253h1M4520 1254h1M4529 1254h1M4537 1254h1M4558 1254h1M4560 1254h1M4623 1255h1M4522 1256h1M4538 1256h1M4630 1256h1M4655 1256h1M4606 1257h1M4615 1259h1M4577 1260h1M4617 1260h1M4625 1260h1M4520 1261h1M4521 1261h1M4622 1261h1M4633 1261h1M4562 1262h1M4586 1262h1M4637 1262h1M4521 1263h1M4548 1263h1M4620 1264h1M4646 1264h1M4577 1265h1M4522 1266h1M4577 1266h1M4608 1266h1M4528 1267h1M4555 1267h1M4560 1267h1M4586 1267h1M4630 1267h1M4572 1268h1M4619 1268h1M4534 1269h1M4648 1269h1M4588 1270h1M4607 1270h1M4587 1271h1M4593 1271h1M4603 1271h1M4522 1272h1M4534 1272h1M4542 1272h1M4569 1272h1M4572 1272h1M4587 1272h1M4610 1272h1M4522 1273h1M4566 1273h1M4589 1273h1M4595 1273h1M4603 1273h1M4571 1274h1M4633 1274h1M4656 1274h1M4527 1275h1M4565 1275h1M4582 1276h1M4596 1276h1M4542 1277h1M4553 1277h1M4556 1277h1M4563 1277h1M4568 1277h1M4568 1277h1M4616 1277h1M4539 1278h1M4569 1278h1M4575 1278h1M4580 1278h1M4587 1278h1M4588 1278h1M4606 1278h1M4541 1279h1M4556 1279h1M4560 1279h1M4616 1279h1M4629 1279h1M4652 1279h1M4564 1280h1M4613 1280h1M4565 1281h1M4597 1281h1M4563 1282h1M4584 1282h1M4591 1282h1M4522 1283h1M4553 1283h1M4555 1283h1M4590 1283h1M4635 1283h1M4558 1284h1M4589 1284h1M4605 1284h1M4613 1284h1M4582 1285h1M4587 1285h1M4593 1285h1M4605 1285h1M4550 1286h1M4564 1286h1M4549 1287h1M4548 1288h1M4584 1288h1M4637 1288h1M4689 1288h1M4543 1289h1M4554 1289h1M4589 1289h1M4590 1289h1M4599 1289h1M4604 1289h1M4618 1289h1M4639 1289h1M4522 1290h1M4559 1290h1M4575 1290h1M4577 1290h1M4601 1290h1M4623 1290h1M4666 1290h1M4522 1291h1M4533 1291h1M4595 1291h1M4619 1291h1M4624 1291h1M4625 1291h1M4540 1292h1M4560 1292h1M4571 1292h1M4599 1292h1M4624 1292h1M4626 1292h1M4522 1293h1M4588 1293h1M4594 1293h1M4544 1294h1M4598 1294h1M4605 1294h1M4524 1295h1M4564 1295h1M4594 1295h1M4598 1295h1M4524 1296h1M4556 1296h1M4557 1296h1M4561 1296h1M4565 1296h1M4622 1296h1M4647 1296h1M4572 1297h1M4580 1297h1M4596 1297h1M4605 1297h1M4553 1298h1M4566 1298h1M4617 1298h1M4547 1299h1M4571 1299h1M4583 1299h1M4589 1299h1M4599 1299h1M4620 1299h1M4523 1300h1M4524 1300h1M4548 1300h1M4565 1300h1M4576 1300h1M4617 1300h1M4631 1300h1M4555 1302h1M4573 1302h1M4592 1302h1M4597 1302h1M4601 1302h1M4601 1302h1M4624 1302h1M4526 1303h1M4553 1303h1M4602 1303h1M4628 1303h1M4520 1304h1M4547 1304h1M4555 1304h1M4565 1304h1M4568 1304h1M4572 1304h1M4590 1304h1M4593 1304h1M4592 1305h1M4640 1305h1M4540 1306h1M4555 1306h1M4520 1307h1M4563 1307h1M4567 1307h1M4591 1307h1M4592 1307h1M4593 1307h1M4619 1307h1M4627 1307h1M4636 1307h1M4522 1308h1M4576 1308h1M4601 1308h1M4615 1308h1M4624 1308h1M4651 1308h1M4527 1309h1M4573 1309h1M4583 1309h1M4589 1309h1M4598 1309h1M4610 1309h1M4623 1309h1M4627 1309h1M4653 1309h1M4537 1310h1M4588 1310h1M4623 1310h1M4639 1310h1M4565 1311h1M4570 1311h1M4583 1311h1M4612 1311h1M4628 1311h1M4543 1312h1M4594 1312h1M4620 1312h1M4622 1312h1M4544 1313h1M4553 1313h1M4558 1313h1M4576 1313h1M4653 1313h1M4544 1314h1M4572 1314h1M4573 1314h1M4540 1315h1M4547 1315h1M4661 1315h1M4689 1315h1M4522 1316h1M4576 1316h1M4616 1316h1M4548 1317h1M4552 1317h1M4577 1317h1M4585 1317h1M4586 1317h1M4589 1317h1M4597 1317h1M4559 1318h1M4577 1318h1M4579 1318h1M4636 1318h1M4563 1319h1M4575 1319h1M4578 1319h1M4552 1320h1M4580 1320h1M4605 1320h1M4619 1320h1M4631 1320h1M4644 1320h1M4535 1321h1M4552 1321h1M4628 1321h1M4641 1321h1M4647 1321h1M4534 1322h1M4562 1322h1M4568 1322h1M4571 1322h1M4571 1322h1M4576 1322h1M4580 1322h1M4587 1322h1M4622 1322h1M4641 1322h1M4652 1322h1M4525 1323h1M4528 1323h1M4579 1323h1M4583 1323h1M4586 1323h1M4593 1323h1M4613 1323h1M4620 1323h1M4635 1323h1M4640 1323h1M4660 1323h1M4569 1324h1M4572 1324h1M4579 1324h1M4597 1324h1M4620 1324h1M4521 1325h1M4521 1325h1M4526 1325h1M4582 1325h1M4591 1325h1M4600 1325h1M4605 1325h1M4662 1325h1M4528 1326h1M4553 1326h1M4573 1326h1M4593 1326h1M4596 1326h1M4613 1326h1M4547 1327h1M4572 1327h1M4573 1327h1M4599 1327h1M4602 1327h1M4616 1327h1M4535 1328h1M4563 1328h1M4569 1328h1M4569 1328h1M4581 1328h1M4586 1328h1M4587 1328h1M4596 1328h1M4598 1328h1M4609 1328h1M4610 1328h1M4632 1328h1M4537 1329h1M4543 1329h1M4572 1329h1M4576 1329h1M4589 1329h1M4633 1329h1M4570 1330h1M4587 1330h1M4596 1330h1M4598 1330h1M4635 1330h1M4640 1330h1M4555 1331h1M4605 1331h1M4618 1331h1M4643 1331h1M4549 1332h1M4558 1332h1M4524 1333h1M4589 1333h1M4599 1333h1M4639 1333h1M4644 1333h1M4556 1334h1M4570 1334h1M4575 1334h1M4581 1334h1M4586 1334h1M4617 1334h1M4628 1334h1M4632 1334h1M4520 1335h1M4528 1335h1M4530 1335h1M4567 1335h1M4607 1335h1M4628 1335h1M4707 1335h1M4529 1336h1M4543 1336h1M4545 1336h1M4554 1336h1M4556 1336h1M4560 1336h1M4561 1336h1M4566 1336h1M4571 1336h1M4592 1336h1M4593 1336h1M4595 1336h1M4615 1336h1M4615 1336h1M4559 1337h1M4574 1337h1M4593 1337h1M4599 1337h1M4623 1337h1M4628 1337h1M4632 1337h1M4647 1337h1M4544 1338h1M4554 1338h1M4555 1338h1M4599 1338h1M4608 1338h1M4613 1338h1M4623 1338h1M4637 1338h1M4523 1339h1M4527 1339h1M4535 1339h1M4548 1339h1M4549 1339h1M4557 1339h1M4584 1339h1M4595 1339h1M4622 1339h1M4548 1340h1M4553 1340h1M4556 1340h1M4569 1340h1M4580 1340h1M4612 1340h1M4532 1341h1M4550 1341h1M4607 1341h1M4533 1342h1M4539 1342h1M4555 1342h1M4569 1342h1M4575 1342h1M4603 1342h1M4610 1342h1M4650 1342h1M4528 1343h1M4576 1343h1M4603 1343h1M4616 1343h1M4619 1343h1M4641 1343h1M4529 1344h1M4546 1344h1M4556 1344h1M4572 1344h1M4574 1344h1M4588 1344h1M4589 1344h1M4591 1344h1M4607 1344h1M4626 1344h1M4630 1344h1M4631 1344h1M4632 1344h1M4651 1344h1M4651 1344h1M4523 1345h1M4553 1345h1M4563 1345h1M4573 1345h1M4609 1345h1M4522 1346h1M4585 1346h1M4588 1346h1M4627 1346h1M4526 1347h1M4535 1347h1M4586 1347h1M4592 1347h1M4595 1347h1M4596 1347h1M4598 1347h1M4611 1347h1M4670 1347h1M4520 1348h1M4523 1348h1M4534 1348h1M4550 1348h1M4555 1348h1M4577 1348h1M4584 1348h1M4594 1348h1M4608 1348h1M4545 1349h1M4553 1349h1M4569 1349h1M4570 1349h1M4584 1349h1M4596 1349h1M4619 1349h1M4566 1350h1M4575 1350h1M4580 1350h1M4616 1350h1M4633 1350h1M4718 1350h1M4558 1351h1M4560 1351h1M4570 1351h1M4636 1351h1M4532 1352h1M4538 1352h1M4588 1352h1M4588 1352h1M4591 1352h1M4603 1352h1M4604 1352h1M4620 1352h1M4621 1352h1M4529 1353h1M4546 1353h1M4552 1353h1M4558 1353h1M4559 1353h1M4565 1353h1M4567 1353h1M4575 1353h1M4580 1353h1M4593 1353h1M4648 1353h1M4651 1353h1M4520 1354h1M4545 1354h1M4554 1354h1M4556 1354h1M4560 1354h1M4561 1354h1M4632 1354h1M4539 1355h1M4572 1355h1M4578 1355h1M4586 1355h1M4598 1355h1M4602 1355h1M4612 1355h1M4629 1355h1M4526 1356h1M4570 1356h1M4603 1356h1M4631 1356h1M4658 1356h1M4523 1357h1M4569 1357h1M4578 1357h1M4580 1357h1M4594 1357h1M4599 1357h1M4607 1357h1M4622 1357h1M4545 1358h1M4551 1358h1M4562 1358h1M4564 1358h1M4591 1358h1M4595 1358h1M4620 1358h1M4630 1358h1M4647 1358h1M4657 1358h1M4521 1359h1M4523 1359h1M4525 1359h1M4532 1359h1M4533 1359h1M4560 1359h1M4605 1359h1M4607 1359h1M4616 1359h1M4625 1359h1M4524 1360h1M4551 1360h1M4576 1360h1M4582 1360h1M4600 1360h1M4635 1360h1M4639 1360h1M4645 1360h1M4521 1361h1M4576 1361h1M4577 1361h1M4588 1361h1M4598 1361h1M4598 1361h1M4600 1361h1M4650 1361h1M4535 1362h1M4573 1362h1M4611 1362h1M4563 1363h1M4585 1363h1M4585 1363h1M4598 1363h1M4651 1363h1M4522 1364h1M4534 1364h1M4557 1364h1M4569 1364h1M4585 1364h1M4610 1364h1M4657 1364h1M4566 1365h1M4572 1365h1M4579 1365h1M4592 1365h1M4620 1365h1M4652 1365h1M4529 1366h1M4532 1366h1M4561 1366h1M4593 1366h1M4598 1366h1M4631 1366h1M4652 1366h1M4555 1367h1M4633 1367h1M4680 1367h1M4560 1368h1M4575 1368h1M4594 1368h1M4612 1368h1M4521 1369h1M4538 1369h1M4539 1369h1M4556 1369h1M4567 1369h1M4571 1369h1M4581 1369h1M4581 1369h1M4591 1369h1M4594 1369h1M4596 1369h1M4599 1369h1M4621 1369h1M4669 1369h1M4547 1370h1M4549 1370h1M4578 1370h1M4611 1370h1M4523 1371h1M4525 1371h1M4528 1371h1M4555 1371h1M4560 1371h1M4564 1371h1M4574 1371h1M4599 1371h1M4623 1371h1M4633 1371h1M4637 1371h1M4564 1372h1M4567 1372h1M4571 1372h1M4602 1372h1M4637 1372h1M4525 1373h1M4528 1373h1M4550 1373h1M4581 1373h1M4593 1373h1M4604 1373h1M4620 1373h1M4627 1373h1M4645 1373h1M4648 1373h1M4527 1374h1M4572 1374h1M4572 1374h1M4575 1374h1M4594 1374h1M4639 1374h1M4575 1375h1M4587 1375h1M4600 1375h1M4601 1375h1M4609 1375h1M4646 1375h1M4542 1376h1M4561 1376h1M4573 1376h1M4588 1376h1M4598 1376h1M4609 1376h1M4615 1376h1M4634 1376h1M4525 1377h1M4556 1377h1M4585 1377h1M4594 1377h1M4628 1377h1M4541 1378h1M4547 1378h1M4617 1378h1M4648 1378h1M4521 1379h1M4528 1379h1M4549 1379h1M4551 1379h1M4590 1379h1M4600 1379h1M4605 1379h1M4688 1379h1M4693 1379h1M4532 1380h1M4541 1380h1M4542 1380h1M4582 1380h1M4583 1380h1M4600 1380h1M4668 1380h1M4581 1381h1M4598 1381h1M4600 1381h1M4609 1381h1M4618 1381h1M4641 1381h1M4526 1382h1M4548 1382h1M4585 1382h1M4599 1382h1M4609 1382h1M4614 1382h1M4528 1383h1M4559 1383h1M4561 1383h1M4570 1383h1M4571 1383h1M4607 1383h1M4614 1383h1M4621 1383h1M4633 1383h1M4636 1383h1M4641 1383h1M4649 1383h1M4546 1384h1M4548 1384h1M4549 1384h1M4550 1384h1M4568 1384h1M4575 1384h1M4578 1384h1M4605 1384h1M4617 1384h1M4645 1384h1M4682 1384h1M4531 1385h1M4559 1385h1M4562 1385h1M4583 1385h1M4599 1385h1M4607 1385h1M4610 1385h1M4610 1385h1M4619 1385h1M4521 1386h1M4533 1386h1M4549 1386h1M4564 1386h1M4582 1386h1M4585 1386h1M4587 1386h1M4616 1386h1M4565 1387h1M4571 1387h1M4587 1387h1M4589 1387h1M4603 1387h1M4615 1387h1M4663 1387h1M4526 1388h1M4560 1388h1M4569 1388h1M4570 1388h1M4583 1388h1M4622 1388h1M4642 1388h1M4656 1388h1M4535 1389h1M4565 1389h1M4595 1389h1M4622 1389h1M4627 1389h1M4631 1389h1M4696 1389h1M4539 1390h1M4568 1390h1M4570 1390h1M4571 1390h1M4521 1391h1M4571 1391h1M4573 1391h1M4592 1391h1M4595 1391h1M4611 1391h1M4616 1391h1M4672 1391h1M4528 1392h1M4530 1392h1M4564 1392h1M4583 1392h1M4588 1392h1M4603 1392h1M4605 1392h1M4632 1392h1M4552 1393h1M4567 1393h1M4569 1393h1M4606 1393h1M4618 1393h1M4624 1393h1M4544 1394h1M4546 1394h1M4574 1394h1M4574 1394h1M4583 1394h1M4617 1394h1M4628 1394h1M4521 1395h1M4526 1395h1M4574 1395h1M4581 1395h1M4627 1395h1M4631 1395h1M4552 1396h1M4563 1396h1M4569 1396h1M4609 1396h1M4611 1396h1M4615 1396h1M4641 1396h1M4521 1397h1M4534 1397h1M4535 1397h1M4536 1397h1M4556 1397h1M4556 1397h1M4559 1397h1M4584 1397h1M4592 1397h1M4603 1397h1M4617 1397h1M4633 1397h1M4638 1397h1M4652 1397h1M4527 1398h1M4543 1398h1M4557 1398h1M4566 1398h1M4587 1398h1M4612 1398h1M4636 1398h1M4526 1399h1M4578 1399h1M4591 1399h1M4527 1400h1M4548 1400h1M4555 1400h1M4567 1400h1M4578 1400h1M4585 1400h1M4602 1400h1M4605 1400h1M4612 1400h1M4576 1401h1M4577 1401h1M4592 1401h1M4595 1401h1M4603 1401h1M4629 1401h1M4631 1401h1M4635 1401h1M4578 1402h1M4581 1402h1M4583 1402h1M4608 1402h1M4610 1402h1M4621 1402h1M4629 1402h1M4524 1403h1M4526 1403h1M4548 1403h1M4574 1403h1M4574 1403h1M4577 1403h1M4644 1403h1M4527 1404h1M4530 1404h1M4584 1404h1M4641 1404h1M4641 1404h1M4644 1404h1M4646 1404h1M4523 1405h1M4535 1405h1M4553 1405h1M4528 1406h1M4534 1406h1M4558 1406h1M4574 1406h1M4574 1406h1M4579 1406h1M4524 1407h1M4538 1407h1M4544 1407h1M4560 1407h1M4562 1407h1M4583 1407h1M4588 1407h1M4599 1407h1M4613 1407h1M4634 1407h1M4635 1407h1M4670 1407h1M4551 1408h1M4561 1408h1M4565 1408h1M4566 1408h1M4568 1408h1M4594 1408h1M4595 1408h1M4596 1408h1M4602 1408h1M4589 1409h1M4590 1409h1M4600 1409h1M4606 1409h1M4637 1409h1M4643 1409h1M4590 1410h1M4591 1410h1M4593 1410h1M4600 1410h1M4607 1410h1M4612 1410h1M4619 1410h1M4636 1410h1M4536 1411h1M4539 1411h1M4600 1411h1M4613 1411h1M4522 1412h1M4550 1412h1M4570 1412h1M4571 1412h1M4577 1412h1M4582 1412h1M4593 1412h1M4602 1412h1M4621 1412h1M4521 1413h1M4579 1413h1M4585 1413h1M4594 1413h1M4606 1413h1M4524 1414h1M4524 1414h1M4525 1414h1M4527 1414h1M4539 1414h1M4529 1415h1M4536 1415h1M4557 1415h1M4575 1415h1M4585 1415h1M4588 1415h1M4641 1415h1M4524 1416h1M4525 1416h1M4553 1416h1M4604 1416h1M4606 1416h1M4618 1416h1M4654 1416h1M4561 1417h1M4569 1417h1M4575 1417h1M4579 1417h1M4584 1417h1M4603 1417h1M4619 1417h1M4652 1417h1M4661 1417h1M4521 1418h1M4522 1418h1M4539 1418h1M4548 1418h1M4569 1418h1M4600 1418h1M4612 1418h1M4569 1419h1M4573 1419h1M4579 1419h1M4592 1419h1M4604 1419h1M4613 1419h1M4694 1419h1M4527 1420h1M4576 1420h1M4601 1420h1M4643 1420h1M4644 1420h1M4550 1421h1M4576 1421h1M4587 1421h1M4612 1421h1M4526 1422h1M4544 1422h1M4548 1422h1M4552 1422h1M4571 1422h1M4601 1422h1M4526 1423h1M4533 1423h1M4537 1423h1M4538 1423h1M4555 1423h1M4572 1423h1M4594 1423h1M4597 1423h1M4616 1423h1M4525 1424h1M4557 1424h1M4564 1424h1M4596 1424h1M4642 1424h1M4646 1424h1M4524 1425h1M4526 1425h1M4570 1425h1M4583 1425h1M4521 1426h1M4522 1426h1M4525 1426h1M4533 1426h1M4539 1426h1M4549 1426h1M4562 1426h1M4569 1426h1M4575 1426h1M4594 1426h1M4629 1426h1M4636 1426h1M4520 1427h1M4550 1427h1M4582 1427h1M4520 1428h1M4540 1428h1M4583 1428h1M4613 1428h1M4617 1428h1M4632 1428h1M4523 1429h1M4547 1429h1M4589 1429h1M4647 1429h1M4526 1430h1M4531 1430h1M4554 1430h1M4561 1430h1M4581 1430h1M4617 1430h1M4646 1430h1M4588 1431h1M4589 1431h1M4604 1431h1M4611 1431h1M4559 1432h1M4580 1432h1M4591 1432h1M4548 1433h1M4549 1433h1M4577 1433h1M4599 1433h1M4548 1434h1M4567 1434h1M4597 1434h1M4639 1434h1M4642 1434h1M4652 1434h1M4562 1435h1M4587 1435h1M4561 1436h1M4564 1436h1M4594 1436h1M4614 1436h1M4615 1436h1M4525 1437h1M4544 1437h1M4578 1437h1M4585 1437h1M4612 1437h1M4622 1437h1M4528 1438h1M4529 1438h1M4537 1438h1M4539 1438h1M4561 1438h1M4573 1438h1M4603 1438h1M4673 1438h1M4526 1439h1M4528 1439h1M4569 1439h1M4600 1439h1M4604 1439h1M4641 1439h1M4556 1440h1M4559 1440h1M4560 1440h1M4567 1440h1M4568 1440h1M4569 1440h1M4582 1440h1M4593 1440h1M4638 1440h1M4546 1441h1M4557 1441h1M4562 1441h1M4570 1441h1M4606 1441h1M4656 1441h1M4532 1442h1M4581 1442h1M4625 1442h1M4522 1443h1M4529 1443h1M4553 1443h1M4563 1443h1M4586 1443h1M4597 1443h1M4650 1443h1M4528 1444h1M4549 1444h1M4553 1444h1M4568 1444h1M4583 1444h1M4598 1444h1M4599 1444h1M4618 1444h1M4619 1444h1M4627 1444h1M4523 1445h1M4523 1445h1M4542 1445h1M4552 1445h1M4565 1445h1M4616 1445h1M4643 1445h1M4652 1445h1M4659 1445h1M4552 1446h1M4554 1446h1M4557 1446h1M4598 1446h1M4607 1446h1M4616 1446h1M4526 1447h1M4548 1447h1M4600 1447h1M4610 1447h1M4571 1448h1M4609 1448h1M4625 1448h1M4577 1449h1M4581 1449h1M4594 1449h1M4619 1449h1M4535 1450h1M4570 1450h1M4623 1450h1M4551 1451h1M4566 1451h1M4574 1451h1M4590 1451h1M4595 1451h1M4595 1451h1M4608 1451h1M4634 1451h1M4558 1452h1M4559 1452h1M4585 1452h1M4606 1452h1M4663 1452h1M4674 1452h1M4547 1453h1M4550 1453h1M4550 1453h1M4597 1453h1M4600 1453h1M4536 1454h1M4540 1454h1M4567 1454h1M4578 1454h1M4613 1454h1M4615 1454h1M4535 1455h1M4541 1455h1M4602 1455h1M4550 1456h1M4583 1456h1M4599 1456h1M4554 1457h1M4577 1457h1M4630 1457h1M4525 1458h1M4583 1458h1M4560 1459h1M4568 1459h1M4585 1459h1M4626 1459h1M4921 1459h1M4527 1460h1M4580 1460h1M4595 1460h1M4633 1460h1M4524 1461h1M4609 1461h1M4635 1461h1M4549 1462h1M4551 1462h1M4573 1462h1M4648 1462h1M4662 1462h1M4552 1463h1M4616 1463h1M4632 1463h1M4521 1464h1M4539 1464h1M4545 1464h1M4558 1464h1M4559 1464h1M4576 1464h1M4619 1464h1M4649 1464h1M4551 1465h1M4567 1465h1M4611 1465h1M4552 1466h1M4579 1466h1M4581 1466h1M4586 1466h1M4568 1467h1M4574 1467h1M4590 1467h1M4619 1467h1M4636 1467h1M4591 1468h1M4674 1468h1M4681 1468h1M4559 1469h1M4583 1469h1M4611 1469h1M4624 1469h1M4560 1470h1M4565 1470h1M4587 1470h1M4607 1470h1M4614 1470h1M4537 1471h1M4583 1471h1M4555 1472h1M4567 1472h1M4595 1472h1M4525 1473h1M4548 1474h1M4552 1474h1M4562 1474h1M4582 1474h1M4594 1474h1M4609 1475h1M4568 1476h1M4597 1476h1M4626 1476h1M4520 1477h1M4526 1477h1M4562 1477h1M4663 1477h1M4529 1478h1M4587 1478h1M4574 1479h1M4591 1479h1M4602 1479h1M4667 1479h1M4542 1480h1M4554 1480h1M4612 1481h1M4629 1481h1M4525 1482h1M4554 1482h1M4568 1482h1M4605 1482h1M4554 1483h1M4600 1483h1M4528 1484h1M4536 1485h1M4603 1485h1M4535 1486h1M4602 1486h1M4586 1487h1M4615 1487h1M4550 1489h1M4521 1490h1M4548 1490h1M4608 1490h1M4641 1490h1M4532 1491h1M4543 1491h1M4618 1491h1M4569 1492h1M4618 1492h1M4618 1493h1M4632 1493h1M4572 1494h1M4588 1494h1M4539 1495h1M4628 1495h1M4633 1495h1M4542 1496h1M4556 1498h1M4587 1498h1M4538 1499h1M4582 1499h1M4606 1499h1M4627 1499h1M4605 1500h1M4627 1500h1M4533 1501h1M4548 1501h1M4550 1501h1M4573 1501h1M4614 1501h1M4628 1502h1M4611 1503h1M4611 1503h1M4565 1505h1M4587 1505h1M4566 1506h1M4524 1507h1M4560 1507h1M4652 1507h1M4562 1508h1M4588 1508h1M4597 1508h1M4624 1508h1M4565 1509h1"/><path transform="scale(.1)" stroke="#262626" stroke-width="7.5" stroke-linecap="square" d="M4850 1102h1M4861 1114h1M4816 1134h1M4815 1135h1M4830 1141h1M4837 1142h1M4865 1158h1M4823 1160h1M4856 1167h1M4845 1184h1M4857 1188h1M4824 1193h1M4876 1195h1M4854 1196h1M4818 1197h1M4886 1198h1M4789 1200h1M4863 1200h1M4830 1204h1M4896 1205h1M4837 1210h1M4849 1218h1M4860 1223h1M4834 1226h1M4846 1227h1M4832 1228h1M4850 1228h1M4823 1232h1M4844 1232h1M4815 1234h1M4873 1234h1M4806 1242h1M4846 1243h1M4859 1243h1M4848 1244h1M4806 1246h1M4811 1247h1M4822 1252h1M4874 1252h1M4839 1253h1M4859 1253h1M4841 1263h1M4835 1267h1M4877 1267h1M4874 1268h1M4870 1281h1M4881 1284h1M4816 1287h1M4812 1294h1M4847 1299h1M4849 1303h1M4846 1310h1M4803 1311h1M4820 1313h1M4850 1313h1M4833 1314h1M4845 1316h1M4900 1317h1M4858 1319h1M4844 1322h1M4855 1325h1M4856 1326h1M4848 1328h1M4821 1333h1M4826 1338h1M4808 1349h1M4865 1353h1M4814 1354h1M4861 1355h1M4860 1357h1M4869 1357h1M4897 1361h1M4837 1367h1M4836 1368h1M4853 1368h1M4842 1371h1M4849 1374h1M4883 1374h1M4831 1376h1M4829 1377h1M4844 1377h1M4831 1378h1M4855 1379h1M4821 1380h1M4839 1386h1M4825 1387h1M4836 1387h1M4864 1387h1M4876 1387h1M4810 1388h1M4827 1390h1M4862 1390h1M4811 1393h1M4870 1393h1M4824 1394h1M4855 1395h1M4866 1395h1M4869 1395h1M4894 1396h1M4799 1400h1M4864 1400h1M4866 1404h1M4887 1406h1M4860 1407h1M4845 1408h1M4876 1411h1M4853 1416h1M4869 1416h1M4845 1417h1M4893 1417h1M4848 1418h1M4877 1419h1M4858 1420h1M4872 1421h1M4843 1422h1M4841 1424h1M4833 1425h1M4857 1426h1M4800 1427h1M4832 1429h1M4859 1429h1M4793 1431h1M4805 1432h1M4871 1435h1M4855 1436h1M4867 1437h1M4837 1438h1M4816 1439h1M4809 1440h1M4906 1442h1M4829 1445h1M4848 1447h1M4845 1448h1M4852 1448h1M4807 1452h1M4845 1455h1M4869 1456h1M4836 1458h1M4848 1459h1M4832 1470h1M4804 1471h1M4863 1471h1M4889 1471h1M4793 1476h1M4856 1477h1M4852 1479h1M4849 1488h1M4854 1490h1M4834 1493h1M4800 1494h1M4815 1495h1M4824 1495h1M4848 1497h1M4940 1498h1M4717 1499h1M4841 1499h1M4961 1499h1M4770 1500h1M4796 1500h1M5085 1500h1M4764 1503h1M4823 1503h1M4904 1503h1M4817 1504h1M4828 1504h1M4851 1506h1M4876 1506h1M4903 1506h1M4949 1508h1M4811 1509h1"/><rect x="451.5" y="91.9" width="60.3" height="59.6" fill="none" stroke="#222" stroke-width="0.9"/><line x1="473.5" y1="91.9" x2="473.5" y2="151.5" stroke="#222" stroke-width="0.9"/><line x1="451.5" y1="132" x2="511.8" y2="132" stroke="#222" stroke-width="0.9"/><text transform="translate(446.5,144.6) rotate(-90)" font-size="10.3" textLength="38.1" stroke="#111" stroke-width="0.1">CD45R0</text><text x="454.6" y="102.1" font-size="8" textLength="16.8" stroke="#111" stroke-width="0.1">10.9</text><text x="508.8" y="102.1" font-size="8" text-anchor="end" textLength="12.0" stroke="#111" stroke-width="0.1">0.5</text><text x="509.4" y="148.8" font-size="8" text-anchor="end" textLength="12.0" stroke="#111" stroke-width="0.1">1.0</text><rect x="280.8" y="197.4" width="23.8" height="20.2" rx="8.2" fill="#111" clip-path="url(#cb20)"/><path transform="scale(.1)" stroke="#111" stroke-width="7.5" stroke-linecap="square" d="M2940 1732h1M2993 1740h1M2954 1742h1M2998 1742h1M3014 1742h1M2960 1745h1M2954 1747h1M2963 1748h1M3009 1748h1M3018 1748h1M2944 1750h1M2992 1750h1M2938 1752h1M3010 1752h1M2949 1754h1M2983 1754h1M2991 1754h1M2988 1755h1M3022 1756h1M2941 1757h1M2941 1759h1M2968 1759h1M2939 1760h1M3025 1760h1M3486 1760h1M2973 1761h1M2971 1762h1M2976 1762h1M3340 1762h1M3009 1764h1M2949 1765h1M2939 1768h1M3000 1768h1M3024 1768h1M2971 1769h1M2976 1769h1M3015 1769h1M2999 1770h1M3027 1770h1M2943 1772h1M2940 1773h1M2945 1773h1M2973 1773h1M2955 1774h1M2981 1774h1M2977 1775h1M3042 1776h1M2957 1780h1M2962 1780h1M3019 1781h1M2963 1782h1M2942 1783h1M2939 1785h1M2946 1786h1M2998 1787h1M2980 1788h1M3041 1789h1M2974 1790h1M2943 1791h1M2958 1791h1M3009 1791h1M3032 1791h1M3000 1792h1M2946 1793h1M3006 1793h1M2951 1795h1M2953 1795h1M2976 1796h1M2944 1798h1M2961 1799h1M2973 1800h1M3034 1800h1M2945 1801h1M2946 1801h1M2982 1802h1M2984 1802h1M3007 1806h1M2942 1808h1M2993 1808h1M3011 1808h1M2993 1810h1M2961 1812h1M3012 1812h1M2970 1813h1M2989 1816h1M3004 1820h1M2951 1822h1M2947 1823h1M3001 1823h1M2945 1824h1M2952 1824h1M2959 1827h1M2964 1828h1M2941 1829h1M2942 1831h1M2997 1831h1M3045 1831h1M2952 1832h1M2944 1833h1M3011 1834h1M2971 1836h1M2944 1839h1M2947 1839h1M2980 1840h1M3007 1841h1M2940 1842h1M2949 1844h1M3009 1844h1M2960 1845h1M2978 1846h1M2945 1847h1M2971 1847h1M2996 1847h1M2967 1849h1M2969 1850h1M2949 1852h1M3012 1852h1M2948 1853h1M3019 1853h1M2954 1854h1M3008 1854h1M2970 1858h1M3018 1858h1M2988 1859h1M3017 1859h1M3040 1859h1M2944 1860h1M3004 1860h1M2949 1863h1M3002 1867h1M3008 1870h1M2985 1871h1M2993 1872h1M3028 1872h1M3000 1873h1M2997 1875h1M3007 1875h1M2977 1877h1M3021 1877h1M3002 1878h1M2978 1882h1M2941 1883h1M2942 1884h1M2948 1887h1M2983 1888h1M3008 1888h1M3015 1888h1M3043 1888h1M3025 1889h1M3032 1892h1M2976 1893h1M2996 1893h1M2958 1894h1M2953 1896h1M2998 1896h1M2942 1897h1M2947 1898h1M2951 1900h1M2970 1900h1M2989 1900h1M3008 1901h1M2974 1902h1M2976 1902h1M2990 1903h1M3035 1903h1M2985 1904h1M2994 1904h1M3029 1904h1M3035 1905h1M2962 1906h1M2950 1907h1M2974 1907h1M3030 1907h1M2940 1908h1M2983 1908h1M3040 1911h1M2942 1912h1M2982 1913h1M2944 1914h1M2946 1914h1M2980 1914h1M2942 1916h1M2981 1916h1M3022 1917h1M2945 1920h1M2955 1922h1M3042 1922h1M2984 1923h1M3010 1924h1M2982 1925h1M2994 1925h1M3011 1926h1M2979 1927h1M2989 1929h1M3028 1930h1M2943 1931h1M2960 1931h1M2985 1932h1M2946 1933h1M2946 1933h1M2997 1933h1M2971 1935h1M2992 1936h1M2961 1942h1M3054 1943h1M3011 1945h1M2975 1946h1M3050 1946h1M2947 1947h1M2966 1947h1M2947 1948h1M3021 1949h1M3052 1949h1M2946 1950h1M2953 1950h1M3016 1950h1M2938 1951h1M2957 1951h1M2996 1951h1M2967 1952h1M2941 1953h1M2963 1953h1M2945 1954h1M3057 1954h1M2945 1957h1M2943 1959h1M2990 1959h1M3001 1959h1M3017 1960h1M3088 1961h1M3016 1962h1M3067 1962h1M2973 1963h1M2984 1963h1M3046 1964h1M2986 1966h1M3020 1966h1M2964 1969h1M3068 1969h1M3027 1970h1M3066 1970h1M2981 1973h1M3009 1973h1M3028 1973h1M2970 1974h1M2979 1975h1M3028 1975h1M2977 1976h1M2990 1976h1M3032 1976h1M3056 1976h1M2955 1978h1M2981 1978h1M2988 1979h1M3043 1979h1M3018 1980h1M3130 1982h1M3038 1983h1M2980 1984h1M2944 1985h1M2971 1985h1M2981 1985h1M3009 1985h1M3028 1985h1M3018 1987h1M2957 1988h1M2992 1988h1M3036 1988h1M2938 1990h1M2964 1990h1M3017 1990h1M3021 1991h1M3030 1991h1M2983 1993h1M3010 1993h1M3067 1994h1M3078 1995h1M2959 1996h1M2942 1998h1M3008 1998h1M3014 1998h1M3048 1998h1M3062 1998h1M3051 1999h1M2989 2000h1M3072 2000h1M2964 2001h1M2966 2001h1M2984 2001h1M2942 2002h1M2944 2002h1M2959 2002h1M2973 2002h1M2972 2003h1M3003 2003h1M3071 2003h1M2967 2004h1M2981 2004h1M2974 2006h1M2979 2006h1M3000 2006h1M3022 2006h1M3028 2006h1M3048 2006h1M2959 2007h1M2961 2007h1M2986 2007h1M2992 2007h1M3038 2007h1M2945 2008h1M2947 2008h1M2997 2009h1M3061 2009h1M2941 2010h1M2942 2010h1M3004 2010h1M3019 2010h1M3037 2010h1M2940 2011h1M2995 2011h1M3040 2011h1M3040 2011h1M2970 2012h1M2944 2013h1M3015 2013h1M3018 2013h1M3025 2013h1M2981 2014h1M3040 2014h1M2944 2015h1M2949 2015h1M2963 2015h1M2966 2015h1M2969 2015h1M2996 2015h1M3024 2015h1M3051 2015h1M2964 2016h1M2978 2016h1M2992 2016h1M3001 2016h1M3020 2016h1M3026 2016h1M3031 2016h1M3032 2016h1M3004 2017h1M3012 2017h1M3027 2017h1M3044 2017h1M3071 2017h1M2952 2018h1M2962 2018h1M2992 2018h1M2997 2018h1M3016 2018h1M3035 2018h1M3057 2018h1M2985 2019h1M2996 2019h1M3002 2019h1M3007 2019h1M3051 2019h1M3039 2020h1M2976 2021h1M3011 2021h1M3035 2021h1M3006 2022h1M3009 2022h1M3034 2022h1M3045 2022h1M2960 2023h1M2960 2023h1M2965 2023h1M2984 2023h1M2996 2023h1M3004 2023h1M3005 2023h1M3043 2023h1M2955 2024h1M2974 2024h1M3038 2024h1M2966 2025h1M3037 2025h1M3089 2025h1M2947 2026h1M2981 2026h1M3031 2026h1M2952 2027h1M2985 2027h1M3055 2027h1M2994 2028h1M3001 2028h1M2964 2029h1M2973 2029h1M2984 2029h1M3013 2029h1M2960 2030h1M2971 2030h1M2973 2030h1M2984 2030h1M2998 2030h1M3054 2030h1M3061 2030h1M2957 2031h1M2967 2031h1M2970 2031h1M3019 2031h1M2972 2032h1M2979 2032h1M2996 2032h1M3021 2032h1M3031 2032h1M2945 2033h1M2989 2033h1M3006 2033h1M2942 2034h1M3007 2034h1M3032 2034h1M3041 2034h1M2950 2035h1M2987 2035h1M3014 2035h1M3026 2035h1M2951 2036h1M2959 2036h1M2990 2036h1M3026 2036h1M2980 2037h1M2989 2037h1M3006 2037h1M2939 2038h1M2956 2038h1M2964 2038h1M2987 2038h1M3019 2038h1M3042 2038h1M2992 2039h1M2995 2039h1M2998 2039h1M3010 2039h1M3037 2039h1M2961 2040h1M2986 2040h1M2994 2040h1M2994 2040h1M3003 2040h1M3003 2040h1M3006 2040h1M3018 2040h1M3024 2040h1M3024 2040h1M3043 2040h1M2962 2041h1M2970 2041h1M2973 2041h1M2978 2041h1M2982 2041h1M2989 2041h1M3005 2041h1M3009 2041h1M3020 2041h1M3038 2041h1M3045 2041h1M2951 2042h1M2970 2042h1M2974 2042h1M2983 2042h1M2993 2042h1M2994 2042h1M3033 2042h1M3065 2042h1M2946 2043h1M2961 2043h1M2964 2043h1M2979 2043h1M2988 2043h1M2995 2043h1M2998 2043h1M2964 2044h1M3001 2044h1M3006 2044h1M3007 2044h1M3014 2044h1M3031 2044h1M3049 2044h1M3056 2044h1M2951 2045h1M2974 2045h1M2989 2045h1M2992 2045h1M3013 2045h1M3038 2045h1M3049 2045h1M3060 2045h1M2955 2046h1M2968 2046h1M2984 2046h1M2984 2046h1M3000 2046h1M3021 2046h1M3064 2046h1M2939 2047h1M2948 2047h1M2965 2047h1M2974 2047h1M2993 2047h1M2994 2047h1M3000 2047h1M3001 2047h1M3006 2047h1M3007 2047h1M3010 2047h1M2948 2048h1M2977 2048h1M2993 2048h1M3027 2048h1M2946 2049h1M2988 2049h1M2999 2049h1M3002 2049h1M3017 2049h1M2984 2050h1M2986 2050h1M2994 2050h1M3005 2050h1M2946 2051h1M2973 2051h1M2974 2051h1M2976 2051h1M3013 2051h1M3019 2051h1M3039 2051h1M3063 2051h1M3077 2051h1M2961 2052h1M2970 2052h1M2977 2052h1M2980 2052h1M2991 2052h1M3011 2052h1M3034 2052h1M3040 2052h1M3045 2052h1M2960 2053h1M2966 2053h1M2971 2053h1M3011 2053h1M3013 2053h1M3017 2053h1M3017 2053h1M3025 2053h1M3045 2053h1M2987 2054h1M3007 2054h1M3031 2054h1M3034 2054h1M3039 2054h1M3052 2054h1M2970 2055h1M2990 2055h1M2999 2055h1M3003 2055h1M3008 2055h1M3026 2055h1M3049 2055h1M2965 2056h1M2966 2056h1M2988 2056h1M2990 2056h1M3010 2056h1M3012 2056h1M3031 2056h1M2958 2057h1M2959 2057h1M2962 2057h1M2967 2057h1M2968 2057h1M2978 2057h1M2987 2057h1M3004 2057h1M3034 2057h1M2939 2058h1M3013 2058h1M3020 2058h1M3024 2058h1M3039 2058h1M2942 2059h1M2946 2059h1M2955 2059h1M2962 2059h1M2992 2059h1M2992 2059h1M3004 2059h1M3012 2059h1M3036 2059h1M2940 2060h1M2958 2060h1M3000 2060h1M3000 2060h1M3003 2060h1M3012 2060h1M2949 2061h1M2952 2061h1M2956 2061h1M2970 2061h1M2976 2061h1M2989 2061h1M2993 2061h1M2994 2061h1M2998 2061h1M3021 2061h1M3035 2061h1M3039 2061h1M3064 2061h1M2940 2062h1M2941 2062h1M2943 2062h1M2981 2062h1M2987 2062h1M3017 2062h1M2943 2063h1M2958 2063h1M2984 2063h1M2991 2063h1M3003 2063h1M3004 2063h1M2945 2064h1M2975 2064h1M2979 2064h1M3020 2064h1M2952 2065h1M2976 2065h1M2993 2065h1M2993 2065h1M3034 2065h1M3034 2065h1M3046 2065h1M2969 2066h1M2975 2066h1M2983 2066h1M3005 2066h1M3013 2066h1M3034 2066h1M3061 2066h1M2970 2067h1M2976 2067h1M2996 2067h1M2998 2067h1M3029 2067h1M3040 2067h1M3045 2067h1M2956 2068h1M2963 2068h1M2993 2068h1M3023 2068h1M3068 2068h1M2973 2069h1M3002 2069h1M3007 2069h1M3021 2069h1M3025 2069h1M2952 2070h1M2964 2070h1M2973 2070h1M2975 2070h1M2987 2070h1M2990 2070h1M2991 2070h1M2994 2070h1M2994 2070h1M2998 2070h1M3001 2070h1M3003 2070h1M3006 2070h1M3013 2070h1M3019 2070h1M2947 2071h1M2953 2071h1M2980 2071h1M3035 2071h1M3040 2071h1M2945 2072h1M2974 2072h1M2980 2072h1M2986 2072h1M2986 2072h1M2996 2072h1M3023 2072h1M3033 2072h1M3044 2072h1M3053 2072h1M2964 2073h1M2970 2073h1M2977 2073h1M2993 2073h1M2970 2074h1M2996 2074h1M3009 2074h1M3025 2074h1M3037 2074h1M2962 2075h1M2978 2075h1M2988 2075h1M3011 2075h1M3023 2075h1M3024 2075h1M3061 2075h1M2942 2076h1M2946 2076h1M2984 2076h1M2988 2076h1M3029 2076h1M3038 2076h1M2942 2077h1M3003 2077h1M3018 2077h1M3022 2077h1M2983 2078h1M2985 2078h1M2988 2078h1M2995 2078h1M2998 2078h1M3020 2078h1M3023 2078h1M2942 2079h1M2961 2079h1M2976 2079h1M2986 2079h1M2988 2079h1M2992 2079h1M2993 2079h1M2996 2079h1M2997 2079h1M3008 2079h1M3008 2079h1M3036 2079h1M2944 2080h1M2964 2080h1M2986 2080h1M2991 2080h1M3000 2080h1M3002 2080h1M3010 2080h1M3034 2080h1M2943 2081h1M2990 2081h1M2994 2081h1M2998 2081h1M3019 2081h1M3032 2081h1M2940 2082h1M2956 2082h1M2964 2082h1M2994 2082h1M3005 2082h1M3029 2082h1M3031 2082h1M3047 2082h1M3047 2082h1M2964 2083h1M3009 2083h1M3016 2083h1M3020 2083h1M3021 2083h1M3024 2083h1M3026 2083h1M2995 2084h1M2998 2084h1M3008 2084h1M3024 2084h1M3040 2084h1M3041 2084h1M3048 2084h1M2948 2085h1M2954 2085h1M2954 2085h1M2964 2085h1M2975 2085h1M2983 2085h1M3008 2085h1M3018 2085h1M3024 2086h1M3044 2086h1M2944 2087h1M2949 2087h1M2957 2087h1M2974 2087h1M2985 2087h1M2940 2088h1M2958 2088h1M2992 2088h1M2994 2088h1M3014 2088h1M3051 2088h1M2938 2089h1M2976 2089h1M3025 2089h1M3087 2089h1M2958 2090h1M2994 2090h1M3014 2090h1M3024 2090h1M3032 2090h1M3040 2090h1M3051 2090h1M3086 2090h1M2941 2091h1M2943 2091h1M2968 2091h1M2970 2091h1M2987 2091h1M3014 2091h1M3024 2091h1M3042 2091h1M3062 2091h1M2941 2092h1M2970 2092h1M3000 2092h1M3009 2092h1M3014 2092h1M3032 2092h1M3122 2092h1M2940 2093h1M2943 2093h1M2951 2093h1M2959 2093h1M2977 2093h1M2977 2093h1M3029 2093h1M3038 2093h1M2939 2094h1M2940 2094h1M2943 2094h1M2945 2094h1M2967 2094h1M2991 2094h1M2994 2094h1M3002 2094h1M3011 2094h1M3031 2094h1M2945 2095h1M2967 2095h1M2987 2095h1M2948 2096h1M2951 2096h1M2952 2096h1M2961 2096h1M2968 2096h1M3009 2096h1M3036 2096h1M2942 2097h1M2961 2097h1M2968 2097h1M2975 2097h1M2980 2097h1M2986 2097h1M2990 2097h1M3006 2097h1M3019 2097h1M3040 2097h1M2942 2098h1M2969 2098h1M2973 2098h1M2995 2098h1M2996 2098h1M2999 2098h1M3003 2098h1M3003 2098h1M3003 2098h1M3022 2098h1M2961 2099h1M2983 2099h1M2983 2099h1M3042 2099h1M2943 2100h1M2968 2100h1M2991 2100h1M2995 2100h1M3000 2100h1M3002 2100h1M3024 2100h1M3038 2100h1M2941 2101h1M2948 2101h1M2970 2101h1M2973 2101h1M2978 2101h1M2986 2101h1M2986 2101h1M2997 2101h1M2942 2102h1M2993 2102h1M3464 2102h1M2996 2103h1M3000 2103h1M3004 2103h1M3054 2103h1M2945 2104h1M2955 2104h1M2974 2104h1M2986 2104h1M2989 2104h1M2991 2104h1M3032 2104h1M2949 2105h1M2972 2105h1M2983 2105h1M2997 2105h1M3019 2105h1M2944 2106h1M3005 2106h1M3007 2106h1M3063 2106h1M2944 2108h1M2950 2108h1M2996 2108h1M3005 2108h1M3010 2108h1M3012 2108h1M3050 2108h1M2962 2109h1M2979 2109h1M2998 2109h1M3026 2109h1M3048 2109h1M2943 2110h1M2972 2110h1M2985 2110h1M2988 2110h1M2993 2110h1M2995 2110h1M2941 2111h1M2993 2111h1M2998 2111h1M2961 2112h1M2969 2112h1M2973 2112h1M2975 2112h1M3002 2112h1M3014 2112h1M2990 2113h1M2995 2113h1M2945 2114h1M2957 2114h1M2948 2115h1M2966 2115h1M2983 2115h1M2993 2115h1M3008 2115h1M3018 2115h1M3070 2115h1M2948 2116h1M2974 2116h1M2986 2116h1M2999 2116h1M3004 2116h1M3005 2116h1M3010 2116h1M3025 2116h1M3045 2116h1M2994 2117h1M2999 2117h1M2962 2118h1M2988 2118h1M3005 2118h1M3011 2118h1M3013 2118h1M3019 2118h1M3020 2118h1M3029 2118h1M2969 2119h1M2986 2119h1M3019 2119h1M3020 2119h1M2959 2120h1M2988 2120h1M3007 2120h1M3010 2120h1M3016 2120h1M2965 2121h1M2991 2121h1M2993 2121h1M3007 2121h1M2988 2122h1M2990 2122h1M2995 2122h1M3022 2122h1M3025 2122h1M2968 2123h1M2985 2123h1M3051 2123h1M3055 2123h1M2968 2124h1M2975 2124h1M3007 2124h1M3050 2124h1M2944 2125h1M2949 2125h1M2990 2125h1M3007 2125h1M3013 2125h1M3037 2125h1M2940 2126h1M2951 2126h1M3023 2126h1M2946 2127h1M2964 2127h1M2974 2127h1M2993 2127h1M2994 2127h1M3001 2127h1M3031 2127h1M2940 2128h1M2943 2128h1M2961 2128h1M3007 2128h1M3027 2128h1M2978 2129h1M2992 2129h1M3000 2129h1M3048 2129h1M3096 2129h1M2979 2130h1M3007 2130h1M2987 2131h1M2992 2131h1M3057 2131h1M2990 2132h1M2995 2132h1M3001 2132h1M2995 2133h1M3006 2133h1M3011 2133h1M3020 2133h1M3033 2133h1M2948 2134h1M2988 2134h1M2997 2134h1M3000 2134h1M3014 2134h1M3256 2134h1M2995 2135h1M3027 2135h1M3028 2135h1M3043 2135h1M3074 2135h1M2981 2136h1M2986 2136h1M3013 2136h1M3037 2136h1M3063 2136h1M2942 2137h1M2974 2137h1M2976 2137h1M3007 2137h1M2983 2138h1M2992 2138h1M2943 2139h1M2951 2139h1M3005 2139h1M3007 2139h1M3010 2139h1M3027 2139h1M2943 2140h1M2969 2140h1M2986 2140h1M3003 2140h1M2943 2141h1M2980 2141h1M2939 2142h1M2943 2142h1M2985 2142h1M3006 2142h1M3032 2142h1M2960 2143h1M2956 2144h1M3004 2144h1M3049 2144h1M2957 2145h1M3043 2145h1M2987 2146h1M3015 2146h1M3027 2146h1M2971 2147h1M2993 2147h1M3001 2147h1M3030 2147h1M2943 2148h1M2986 2148h1M3048 2148h1M2939 2149h1M2975 2149h1M3004 2149h1M3025 2149h1M2943 2150h1M2970 2151h1M2979 2151h1M2985 2152h1M3023 2152h1M2955 2153h1M2978 2153h1M2996 2153h1M3037 2153h1M2994 2154h1M3027 2154h1M3052 2154h1M3023 2155h1M3072 2155h1M2944 2156h1M2939 2157h1M2977 2158h1M3057 2158h1M3005 2160h1"/><path transform="scale(.1)" stroke="#262626" stroke-width="7.5" stroke-linecap="square" d="M3306 2026h1M3286 2027h1M3329 2039h1M3236 2040h1M3288 2042h1M3243 2043h1M3290 2045h1M3337 2045h1M3308 2046h1M3278 2049h1M3287 2051h1M3322 2051h1M3269 2054h1M3268 2055h1M3259 2057h1M3327 2057h1M3315 2061h1M3287 2062h1M3313 2062h1M3278 2063h1M3262 2064h1M3282 2064h1M3282 2064h1M3322 2065h1M3261 2067h1M3268 2067h1M3252 2068h1M3281 2068h1M3284 2068h1M3289 2069h1M3326 2072h1M3246 2073h1M3262 2075h1M3260 2080h1M3285 2081h1M3296 2082h1M3312 2082h1M3328 2082h1M3279 2083h1M3243 2084h1M3254 2084h1M3327 2085h1M3228 2086h1M3262 2086h1M3324 2086h1M3263 2087h1M3307 2087h1M3355 2087h1M3263 2088h1M3265 2088h1M3286 2088h1M3227 2090h1M3240 2090h1M3266 2090h1M3276 2090h1M3266 2091h1M3274 2091h1M3275 2092h1M3289 2093h1M3296 2093h1M3271 2094h1M3312 2095h1M3288 2096h1M3239 2097h1M3303 2097h1M3252 2098h1M3265 2098h1M3280 2098h1M3257 2099h1M3259 2100h1M3295 2100h1M3258 2102h1M3240 2103h1M3257 2103h1M3267 2104h1M3309 2104h1M3313 2105h1M3278 2106h1M3320 2106h1M3301 2110h1M3283 2111h1M3284 2112h1M3270 2113h1M3294 2113h1M3306 2113h1M3278 2114h1M3321 2114h1M3331 2114h1M3293 2115h1M3312 2115h1M3271 2116h1M3278 2117h1M3257 2124h1M3288 2127h1M3299 2127h1M3294 2128h1M3310 2134h1M3335 2138h1M3231 2141h1M3236 2152h1M3339 2152h1M3328 2153h1M3391 2155h1M3230 2157h1M3267 2157h1M3344 2157h1M3297 2158h1M3283 2159h1M3284 2159h1M3312 2159h1M3325 2159h1M3233 2160h1"/><rect x="293.3" y="157.6" width="61.2" height="59" fill="none" stroke="#222" stroke-width="0.9"/><line x1="315.8" y1="157.6" x2="315.8" y2="216.6" stroke="#222" stroke-width="0.9"/><line x1="293.3" y1="194.2" x2="354.5" y2="194.2" stroke="#222" stroke-width="0.9"/><text transform="translate(289.6,199.6) rotate(-90)" font-size="10.3" textLength="25.6" stroke="#111" stroke-width="0.1">CD56</text><text x="299.8" y="167.8" font-size="8" textLength="12.0" stroke="#111" stroke-width="0.1">5.6</text><text x="352.3" y="167.8" font-size="8" text-anchor="end" textLength="16.8" stroke="#111" stroke-width="0.1">0.01</text><text x="352.3" y="213.9" font-size="8" text-anchor="end" textLength="12.0" stroke="#111" stroke-width="0.1">1.6</text><rect x="354.5" y="196.3" width="35.1" height="19.3" rx="7.9" fill="#111" clip-path="url(#cb21)"/><path transform="scale(.1)" stroke="#111" stroke-width="7.5" stroke-linecap="square" d="M3886 1663h1M3832 1666h1M3865 1673h1M3787 1674h1M3792 1677h1M3747 1681h1M3774 1682h1M3814 1684h1M3888 1684h1M3829 1685h1M3825 1686h1M3880 1692h1M3748 1694h1M3875 1694h1M3809 1695h1M3830 1696h1M3785 1699h1M3853 1699h1M3734 1700h1M3743 1700h1M3831 1700h1M3832 1706h1M3860 1706h1M4075 1706h1M3775 1708h1M3746 1709h1M3759 1709h1M3793 1709h1M3750 1710h1M3796 1710h1M3773 1711h1M3751 1712h1M3799 1712h1M3751 1714h1M3821 1717h1M3762 1720h1M3786 1721h1M3802 1722h1M3844 1725h1M3821 1726h1M3884 1726h1M3747 1731h1M3785 1731h1M3759 1732h1M3768 1734h1M3801 1734h1M3772 1735h1M3855 1735h1M3884 1736h1M3822 1737h1M3813 1742h1M3843 1742h1M3783 1745h1M3850 1745h1M3742 1748h1M3802 1753h1M3751 1754h1M3844 1754h1M3819 1755h1M3819 1756h1M3781 1757h1M3737 1760h1M3796 1761h1M3791 1763h1M3855 1764h1M3752 1767h1M3754 1768h1M3866 1769h1M3748 1770h1M3744 1773h1M3785 1774h1M4244 1777h1M3768 1778h1M3796 1778h1M3810 1778h1M3787 1782h1M3809 1782h1M3827 1788h1M3734 1789h1M3872 1791h1M3789 1794h1M3824 1795h1M3886 1797h1M3848 1803h1M3848 1805h1M3786 1806h1M3826 1808h1M3771 1810h1M3789 1811h1M3738 1812h1M3734 1813h1M3848 1814h1M3831 1815h1M3736 1818h1M3807 1818h1M3787 1819h1M3852 1819h1M3771 1821h1M3836 1821h1M3785 1823h1M3841 1823h1M3763 1827h1M3742 1828h1M3827 1829h1M3756 1830h1M3814 1833h1M3803 1834h1M3880 1834h1M3816 1835h1M3749 1836h1M3830 1837h1M3788 1838h1M3794 1838h1M4200 1839h1M3785 1841h1M3746 1844h1M3889 1848h1M3760 1850h1M3768 1853h1M3774 1859h1M3808 1866h1M3806 1867h1M3896 1868h1M3815 1870h1M3823 1870h1M3765 1872h1M3738 1873h1M3772 1873h1M3774 1873h1M3811 1877h1M3752 1878h1M3806 1880h1M3819 1882h1M3746 1884h1M3865 1885h1M3896 1888h1M3767 1890h1M3848 1900h1M3736 1906h1M3739 1906h1M3754 1906h1M3880 1907h1M3735 1908h1M3740 1908h1M3933 1908h1M3822 1909h1M3780 1911h1M3876 1914h1M3812 1915h1M3786 1916h1M3873 1917h1M3735 1918h1M3833 1918h1M3794 1919h1M3770 1920h1M3841 1920h1M3855 1920h1M3776 1921h1M3822 1923h1M3735 1924h1M3880 1925h1M3825 1928h1M3759 1931h1M3941 1931h1M3766 1932h1M3920 1932h1M3785 1934h1M3785 1935h1M3795 1938h1M3891 1938h1M3795 1940h1M3888 1941h1M3745 1943h1M3765 1944h1M3774 1945h1M3787 1945h1M3733 1947h1M3831 1947h1M3778 1948h1M3808 1948h1M3827 1948h1M3859 1948h1M3847 1949h1M3885 1949h1M3798 1951h1M3796 1952h1M3797 1953h1M3802 1953h1M3826 1953h1M3835 1953h1M3768 1955h1M3851 1956h1M3827 1957h1M3795 1958h1M3810 1958h1M3844 1958h1M3902 1958h1M3908 1958h1M3806 1961h1M3787 1963h1M3813 1963h1M3831 1963h1M3858 1963h1M3742 1965h1M3887 1965h1M3735 1966h1M3736 1966h1M3787 1966h1M3790 1967h1M3782 1968h1M3882 1968h1M3819 1969h1M3866 1969h1M3740 1970h1M3821 1970h1M3834 1970h1M3835 1970h1M3757 1971h1M3781 1971h1M3814 1971h1M3815 1971h1M3837 1971h1M3877 1972h1M3821 1974h1M3889 1974h1M3898 1974h1M3797 1975h1M3806 1975h1M3852 1976h1M3893 1976h1M3749 1977h1M3814 1977h1M3833 1977h1M3835 1977h1M3838 1977h1M3817 1978h1M3829 1978h1M3767 1979h1M3784 1979h1M3808 1979h1M3828 1979h1M3876 1979h1M3795 1980h1M3810 1980h1M3809 1981h1M3818 1981h1M3823 1981h1M3874 1981h1M3899 1981h1M3828 1982h1M3823 1983h1M3830 1983h1M3741 1984h1M3780 1984h1M3887 1984h1M3761 1985h1M3811 1985h1M3881 1985h1M3788 1986h1M3806 1986h1M3808 1986h1M3786 1987h1M3789 1987h1M3798 1987h1M3819 1987h1M3889 1987h1M3793 1988h1M3808 1988h1M3853 1988h1M3745 1989h1M3778 1989h1M3784 1989h1M3827 1989h1M3845 1989h1M3851 1989h1M3965 1989h1M3767 1990h1M3747 1991h1M3804 1991h1M3832 1991h1M3839 1991h1M3872 1991h1M3736 1992h1M3779 1992h1M3785 1992h1M3890 1992h1M3914 1992h1M3738 1993h1M3818 1993h1M3834 1993h1M3771 1994h1M3773 1994h1M3816 1994h1M3886 1994h1M3942 1994h1M3779 1995h1M3818 1995h1M3833 1995h1M3837 1995h1M3861 1995h1M3774 1996h1M3868 1996h1M3900 1996h1M3803 1997h1M3842 1997h1M3894 1997h1M3901 1997h1M3784 1998h1M3819 1998h1M3896 1998h1M3765 1999h1M3820 1999h1M3836 1999h1M3862 1999h1M3884 1999h1M3927 1999h1M3933 1999h1M3741 2000h1M3749 2000h1M3777 2000h1M3789 2000h1M3815 2000h1M3818 2000h1M3819 2000h1M3841 2000h1M3868 2000h1M3877 2000h1M3877 2000h1M3785 2001h1M3792 2001h1M3816 2001h1M3816 2001h1M3833 2001h1M3837 2001h1M3849 2001h1M3741 2002h1M3823 2002h1M3837 2002h1M3862 2002h1M3929 2002h1M3738 2003h1M3786 2003h1M3792 2003h1M3943 2003h1M3739 2004h1M3768 2004h1M3786 2005h1M3797 2005h1M3801 2005h1M3861 2005h1M3863 2005h1M3735 2006h1M3751 2006h1M3842 2006h1M4098 2006h1M3770 2007h1M3798 2007h1M3819 2007h1M3819 2007h1M3828 2007h1M3862 2007h1M3748 2008h1M3766 2008h1M3781 2008h1M3788 2008h1M3793 2008h1M3804 2008h1M3840 2008h1M3857 2008h1M3775 2010h1M3791 2010h1M3808 2010h1M3837 2010h1M3842 2010h1M3847 2010h1M3862 2010h1M3740 2011h1M3769 2011h1M3809 2011h1M3830 2011h1M3846 2011h1M3785 2012h1M3886 2012h1M3772 2013h1M3828 2013h1M3837 2013h1M3847 2013h1M3875 2013h1M3895 2013h1M3838 2014h1M3839 2014h1M3841 2014h1M3843 2014h1M3856 2014h1M3857 2014h1M3754 2015h1M3771 2015h1M3816 2015h1M3920 2015h1M3968 2015h1M3743 2016h1M3788 2016h1M3848 2016h1M3857 2016h1M3972 2016h1M3765 2017h1M3788 2017h1M3790 2017h1M3793 2017h1M3817 2017h1M3831 2017h1M3919 2017h1M3932 2017h1M3734 2018h1M3802 2018h1M3828 2018h1M3859 2018h1M3859 2018h1M3771 2019h1M3783 2019h1M3815 2019h1M3824 2019h1M3825 2019h1M3825 2019h1M3832 2019h1M3968 2019h1M3770 2020h1M3792 2020h1M3802 2020h1M3823 2020h1M3832 2020h1M3841 2020h1M3869 2020h1M3876 2020h1M3903 2020h1M3905 2020h1M3734 2021h1M3774 2021h1M3794 2021h1M3797 2021h1M3801 2021h1M3850 2021h1M3866 2021h1M3877 2021h1M3755 2022h1M3764 2022h1M3791 2022h1M3793 2022h1M3820 2022h1M3821 2022h1M3826 2022h1M3840 2022h1M3862 2022h1M3864 2022h1M3865 2022h1M3896 2022h1M3899 2022h1M3737 2023h1M3759 2023h1M3777 2023h1M3805 2023h1M3812 2023h1M3815 2023h1M3821 2023h1M3833 2023h1M3841 2023h1M3862 2023h1M3892 2023h1M3893 2023h1M3912 2023h1M3736 2024h1M3753 2024h1M3772 2024h1M3854 2024h1M3906 2024h1M3736 2025h1M3738 2025h1M3760 2025h1M3773 2025h1M3826 2025h1M3831 2025h1M3832 2025h1M3835 2025h1M3842 2025h1M3866 2025h1M3893 2025h1M3923 2025h1M3961 2025h1M3733 2026h1M3736 2026h1M3802 2026h1M3805 2026h1M3807 2026h1M3750 2027h1M3766 2027h1M3783 2027h1M3797 2027h1M3802 2027h1M3816 2027h1M3837 2027h1M3892 2027h1M3959 2027h1M3735 2028h1M3735 2028h1M3761 2028h1M3782 2028h1M3794 2028h1M3798 2028h1M3804 2028h1M3828 2028h1M3848 2028h1M3881 2028h1M3737 2029h1M3767 2029h1M3787 2029h1M3807 2029h1M3904 2029h1M3781 2030h1M3784 2030h1M3792 2030h1M3800 2030h1M3810 2030h1M3813 2030h1M3838 2030h1M3847 2030h1M3852 2030h1M3755 2031h1M3763 2031h1M3766 2031h1M3771 2031h1M3788 2031h1M3796 2031h1M3815 2031h1M3831 2031h1M3843 2031h1M3867 2031h1M3734 2032h1M3737 2032h1M3738 2032h1M3739 2032h1M3810 2032h1M3836 2032h1M3740 2033h1M3795 2033h1M3796 2033h1M3796 2033h1M3801 2033h1M3813 2033h1M3740 2034h1M3775 2034h1M3796 2034h1M3798 2034h1M3814 2034h1M3817 2034h1M3837 2034h1M3770 2035h1M3798 2035h1M3803 2035h1M3815 2035h1M3829 2035h1M3837 2035h1M3872 2035h1M3873 2035h1M3880 2035h1M3917 2035h1M3948 2035h1M3751 2036h1M3758 2036h1M3767 2036h1M3781 2036h1M3804 2036h1M3824 2036h1M3841 2036h1M3845 2036h1M3848 2036h1M3906 2036h1M3917 2036h1M3752 2037h1M3764 2037h1M3803 2037h1M3821 2037h1M3822 2037h1M3825 2037h1M3850 2037h1M3735 2038h1M3739 2038h1M3760 2038h1M3774 2038h1M3790 2038h1M3795 2038h1M3798 2038h1M3801 2038h1M3809 2038h1M3822 2038h1M3831 2038h1M3858 2038h1M3862 2038h1M3863 2038h1M3871 2038h1M3934 2038h1M3759 2039h1M3790 2039h1M3797 2039h1M3801 2039h1M3809 2039h1M3825 2039h1M3840 2039h1M3863 2039h1M3872 2039h1M3916 2039h1M3734 2040h1M3741 2040h1M3778 2040h1M3785 2040h1M3809 2040h1M3835 2040h1M3839 2040h1M3895 2040h1M3909 2040h1M3810 2041h1M3820 2041h1M3829 2041h1M3833 2041h1M3852 2041h1M3856 2041h1M3879 2041h1M3736 2042h1M3737 2042h1M3851 2042h1M3934 2042h1M3944 2042h1M3793 2043h1M3807 2043h1M3821 2043h1M3852 2043h1M3852 2043h1M3863 2043h1M3883 2043h1M3899 2043h1M3735 2044h1M3738 2044h1M3751 2044h1M3768 2044h1M3780 2044h1M3811 2044h1M3824 2044h1M3831 2044h1M3837 2044h1M3854 2044h1M3858 2044h1M3861 2044h1M3893 2044h1M3739 2045h1M3749 2045h1M3777 2045h1M3800 2045h1M3826 2045h1M3866 2045h1M3907 2045h1M3809 2046h1M3839 2046h1M3840 2046h1M3873 2046h1M3879 2046h1M3895 2046h1M3759 2047h1M3828 2047h1M3831 2047h1M3848 2047h1M3849 2047h1M3852 2047h1M3910 2047h1M3738 2048h1M3810 2048h1M3813 2048h1M3815 2048h1M3816 2048h1M3824 2048h1M3825 2048h1M3832 2048h1M3836 2048h1M3847 2048h1M3866 2048h1M3867 2048h1M3882 2048h1M3908 2048h1M3911 2048h1M3736 2049h1M3754 2049h1M3785 2049h1M3796 2049h1M3801 2049h1M3823 2049h1M3847 2049h1M3851 2049h1M3853 2049h1M3884 2049h1M3892 2049h1M3736 2050h1M3736 2050h1M3738 2050h1M3740 2050h1M3743 2050h1M3813 2050h1M3841 2050h1M3857 2050h1M3862 2050h1M3873 2050h1M3763 2051h1M3766 2051h1M3791 2051h1M3800 2051h1M3824 2051h1M3830 2051h1M3840 2051h1M3841 2051h1M3852 2051h1M3924 2051h1M3932 2051h1M3736 2052h1M3790 2052h1M3796 2052h1M3797 2052h1M3805 2052h1M3807 2052h1M3810 2052h1M3815 2052h1M3817 2052h1M3818 2052h1M3843 2052h1M3865 2052h1M3886 2052h1M3899 2052h1M3922 2052h1M3940 2052h1M3753 2053h1M3801 2053h1M3816 2053h1M3873 2053h1M3878 2053h1M3881 2053h1M3735 2054h1M3750 2054h1M3761 2054h1M3790 2054h1M3818 2054h1M3819 2054h1M3819 2054h1M3820 2054h1M3830 2054h1M3835 2054h1M3871 2054h1M3904 2054h1M3749 2055h1M3789 2055h1M3881 2055h1M3928 2055h1M3756 2056h1M3784 2056h1M3787 2056h1M3789 2056h1M3789 2056h1M3792 2056h1M3840 2056h1M3844 2056h1M3862 2056h1M3882 2056h1M3886 2056h1M3892 2056h1M3913 2056h1M3947 2056h1M3787 2057h1M3820 2057h1M3827 2057h1M3847 2057h1M3857 2057h1M3861 2057h1M3869 2057h1M3898 2057h1M3736 2058h1M3762 2058h1M3767 2058h1M3778 2058h1M3778 2058h1M3785 2058h1M3790 2058h1M3793 2058h1M3799 2058h1M3812 2058h1M3893 2058h1M3988 2058h1M3771 2059h1M3803 2059h1M3818 2059h1M3830 2059h1M3834 2059h1M3849 2059h1M3862 2059h1M3878 2059h1M3885 2059h1M3902 2059h1M3736 2060h1M3739 2060h1M3789 2060h1M3806 2060h1M3813 2060h1M3814 2060h1M3863 2060h1M3867 2060h1M3878 2060h1M3909 2060h1M3789 2061h1M3794 2061h1M3797 2061h1M3807 2061h1M3809 2061h1M3817 2061h1M3832 2061h1M3841 2061h1M3848 2061h1M3959 2061h1M3739 2062h1M3756 2062h1M3766 2062h1M3782 2062h1M3802 2062h1M3847 2062h1M3854 2062h1M3859 2062h1M3881 2062h1M3910 2062h1M3751 2063h1M3775 2063h1M3800 2063h1M3829 2063h1M3857 2063h1M3868 2063h1M3874 2063h1M3885 2063h1M3925 2063h1M3734 2064h1M3760 2064h1M3763 2064h1M3768 2064h1M3780 2064h1M3800 2064h1M3827 2064h1M3828 2064h1M3834 2064h1M3854 2064h1M3877 2064h1M3887 2064h1M3739 2065h1M3739 2065h1M3772 2065h1M3773 2065h1M3795 2065h1M3801 2065h1M3810 2065h1M3823 2065h1M3825 2065h1M3828 2065h1M3845 2065h1M3850 2065h1M3857 2065h1M3863 2065h1M3901 2065h1M3908 2065h1M3737 2066h1M3738 2066h1M3745 2066h1M3753 2066h1M3792 2066h1M3803 2066h1M3834 2066h1M3840 2066h1M3848 2066h1M3873 2066h1M3879 2066h1M3904 2066h1M3914 2066h1M3914 2066h1M3931 2066h1M3935 2066h1M3763 2067h1M3793 2067h1M3797 2067h1M3797 2067h1M3818 2067h1M3835 2067h1M3843 2067h1M3857 2067h1M3882 2067h1M3900 2067h1M3756 2068h1M3758 2068h1M3771 2068h1M3785 2068h1M3800 2068h1M3832 2068h1M3832 2068h1M3835 2068h1M3843 2068h1M3886 2068h1M3904 2068h1M3917 2068h1M3939 2068h1M3736 2069h1M3779 2069h1M3791 2069h1M3798 2069h1M3805 2069h1M3824 2069h1M3855 2069h1M3859 2069h1M3893 2069h1M3900 2069h1M3753 2070h1M3812 2070h1M3818 2070h1M3828 2070h1M3833 2070h1M3857 2070h1M3878 2070h1M3888 2070h1M3737 2071h1M3797 2071h1M3834 2071h1M3865 2071h1M3882 2071h1M3917 2071h1M3738 2072h1M3786 2072h1M3794 2072h1M3803 2072h1M3820 2072h1M3828 2072h1M3828 2072h1M3840 2072h1M3854 2072h1M3733 2073h1M3766 2073h1M3769 2073h1M3776 2073h1M3794 2073h1M3805 2073h1M3811 2073h1M3818 2073h1M3859 2073h1M3888 2073h1M3889 2073h1M3902 2073h1M3942 2073h1M3762 2074h1M3763 2074h1M3801 2074h1M3805 2074h1M3812 2074h1M3818 2074h1M3848 2074h1M3865 2074h1M3909 2074h1M3781 2075h1M3805 2075h1M3805 2075h1M3817 2075h1M3843 2075h1M3876 2075h1M3885 2075h1M3911 2075h1M3914 2075h1M3740 2076h1M3784 2076h1M3798 2076h1M3830 2076h1M3883 2076h1M3740 2077h1M3749 2077h1M3778 2077h1M3792 2077h1M3814 2077h1M3818 2077h1M3824 2077h1M3827 2077h1M3852 2077h1M3886 2077h1M3896 2077h1M3942 2077h1M3733 2078h1M3740 2078h1M3795 2078h1M3796 2078h1M3831 2078h1M3839 2078h1M3840 2078h1M3850 2078h1M3854 2078h1M3867 2078h1M3874 2078h1M3897 2078h1M3902 2078h1M3734 2079h1M3741 2079h1M3766 2079h1M3791 2079h1M3812 2079h1M3843 2079h1M3851 2079h1M3891 2079h1M3806 2080h1M3815 2080h1M3817 2080h1M3826 2080h1M3837 2080h1M3847 2080h1M3849 2080h1M3852 2080h1M3869 2080h1M3887 2080h1M3889 2080h1M3900 2080h1M3915 2080h1M3734 2081h1M3752 2081h1M3773 2081h1M3795 2081h1M3804 2081h1M3809 2081h1M3838 2081h1M3890 2081h1M3747 2082h1M3842 2082h1M3848 2082h1M3857 2082h1M3874 2082h1M3921 2082h1M3783 2083h1M3817 2083h1M3828 2083h1M3842 2083h1M3842 2083h1M3854 2083h1M3856 2083h1M3865 2083h1M3872 2083h1M3890 2083h1M3896 2083h1M3783 2084h1M3784 2084h1M3784 2084h1M3813 2084h1M3861 2084h1M3790 2085h1M3791 2085h1M3802 2085h1M3823 2085h1M3823 2085h1M3734 2086h1M3757 2086h1M3771 2086h1M3790 2086h1M3791 2086h1M3791 2086h1M3805 2086h1M3812 2086h1M3822 2086h1M3837 2086h1M3846 2086h1M3875 2086h1M3879 2086h1M3882 2086h1M3925 2086h1M3734 2087h1M3746 2087h1M3820 2087h1M3843 2087h1M3849 2087h1M3864 2087h1M3869 2087h1M3916 2087h1M3741 2088h1M3784 2088h1M3803 2088h1M3810 2088h1M3814 2088h1M3826 2088h1M3828 2088h1M3848 2088h1M3861 2088h1M3752 2089h1M3790 2089h1M3791 2089h1M3823 2089h1M3842 2089h1M3879 2089h1M3748 2090h1M3751 2090h1M3763 2090h1M3818 2090h1M3819 2090h1M3825 2090h1M3853 2090h1M3735 2091h1M3792 2091h1M3821 2091h1M3829 2091h1M3736 2092h1M3784 2092h1M3785 2092h1M3803 2092h1M3826 2092h1M3859 2092h1M3866 2092h1M3868 2092h1M3782 2093h1M3784 2093h1M3788 2093h1M3804 2093h1M3820 2093h1M3834 2093h1M3843 2093h1M3845 2093h1M3861 2093h1M3775 2094h1M3791 2094h1M3827 2094h1M3833 2094h1M3833 2094h1M3856 2094h1M3920 2094h1M3920 2094h1M3740 2095h1M3764 2095h1M3776 2095h1M3778 2095h1M3780 2095h1M3793 2095h1M3802 2095h1M3835 2095h1M3839 2095h1M3848 2095h1M3850 2095h1M3870 2095h1M3881 2095h1M3758 2096h1M3775 2096h1M3802 2096h1M3828 2096h1M3831 2096h1M3835 2096h1M3854 2096h1M3866 2096h1M3885 2096h1M3919 2096h1M3926 2096h1M3734 2097h1M3744 2097h1M3747 2097h1M3779 2097h1M3858 2097h1M3881 2097h1M3943 2097h1M3735 2098h1M3737 2098h1M3739 2098h1M3772 2098h1M3787 2098h1M3811 2098h1M3821 2098h1M3896 2098h1M3736 2099h1M3782 2099h1M3819 2099h1M3903 2099h1M3737 2100h1M3741 2100h1M3747 2100h1M3753 2100h1M3812 2100h1M3821 2100h1M3830 2100h1M3861 2100h1M3879 2100h1M3755 2101h1M3778 2101h1M3814 2101h1M3817 2101h1M3843 2101h1M3848 2101h1M3890 2101h1M3908 2101h1M3739 2102h1M3739 2102h1M3765 2102h1M3770 2102h1M3782 2102h1M3796 2102h1M3798 2102h1M3803 2102h1M3816 2102h1M3853 2102h1M3893 2102h1M3799 2103h1M3800 2103h1M3815 2103h1M3819 2103h1M3820 2103h1M3825 2103h1M3899 2103h1M3752 2104h1M3784 2104h1M3791 2104h1M3794 2104h1M3897 2104h1M3906 2104h1M3933 2104h1M3808 2105h1M3809 2105h1M3836 2105h1M3840 2105h1M3847 2105h1M3865 2105h1M3735 2106h1M3742 2106h1M3756 2106h1M3789 2106h1M3811 2106h1M3822 2106h1M3831 2106h1M3840 2106h1M3850 2106h1M3737 2107h1M3801 2107h1M3803 2107h1M3808 2107h1M3809 2107h1M3826 2107h1M3831 2107h1M3877 2107h1M3888 2107h1M3954 2107h1M3740 2108h1M3760 2108h1M3795 2108h1M3797 2108h1M3817 2108h1M3838 2108h1M3876 2108h1M3754 2109h1M3771 2109h1M3809 2109h1M3815 2109h1M3819 2109h1M3823 2109h1M3830 2109h1M3853 2109h1M3879 2109h1M3902 2109h1M3935 2109h1M3767 2110h1M3794 2110h1M3801 2110h1M3804 2110h1M3812 2110h1M3796 2111h1M3798 2111h1M3814 2111h1M3814 2111h1M3840 2111h1M3891 2111h1M3920 2111h1M3934 2111h1M3777 2112h1M3814 2112h1M3823 2112h1M3825 2112h1M3829 2112h1M3833 2112h1M3850 2112h1M3775 2113h1M3776 2113h1M3812 2113h1M3825 2113h1M3827 2113h1M3847 2113h1M3875 2113h1M3885 2113h1M3740 2114h1M3773 2114h1M3809 2114h1M3825 2114h1M3862 2114h1M3944 2114h1M3742 2115h1M3749 2115h1M3779 2115h1M3816 2115h1M3820 2115h1M3830 2115h1M3832 2115h1M3833 2115h1M3872 2115h1M3885 2115h1M3919 2115h1M3975 2115h1M3756 2116h1M3759 2116h1M3815 2116h1M3847 2116h1M3870 2116h1M3910 2116h1M3757 2117h1M3760 2117h1M3776 2117h1M3794 2117h1M3796 2117h1M3797 2117h1M3808 2117h1M3809 2117h1M3824 2117h1M3828 2117h1M3844 2117h1M3908 2117h1M3789 2118h1M3830 2118h1M3841 2118h1M3860 2118h1M3876 2118h1M3792 2119h1M3799 2119h1M3859 2119h1M3734 2120h1M3738 2120h1M3829 2120h1M3830 2120h1M3844 2120h1M3945 2120h1M3795 2121h1M3826 2121h1M3833 2121h1M3835 2121h1M3839 2121h1M3782 2122h1M3796 2122h1M3804 2122h1M3844 2122h1M3854 2122h1M3855 2122h1M3766 2123h1M3796 2123h1M3819 2123h1M3912 2123h1M3915 2123h1M3764 2124h1M3793 2124h1M3825 2124h1M3859 2124h1M3907 2124h1M3808 2125h1M3828 2125h1M3841 2125h1M3842 2125h1M3891 2125h1M3753 2126h1M3779 2126h1M3795 2126h1M3822 2126h1M3852 2126h1M3738 2127h1M3769 2127h1M3827 2127h1M3855 2127h1M3876 2127h1M3888 2127h1M3761 2128h1M3796 2128h1M3761 2129h1M3858 2129h1M3877 2129h1M3793 2130h1M3804 2130h1M3814 2130h1M3828 2130h1M3866 2130h1M3875 2130h1M3819 2131h1M3860 2131h1M3878 2131h1M3784 2132h1M3829 2132h1M3832 2132h1M3849 2132h1M3914 2132h1M3733 2133h1M3789 2133h1M3802 2133h1M3839 2133h1M3860 2133h1M3893 2133h1M3762 2134h1M3766 2134h1M3767 2134h1M3775 2134h1M3832 2134h1M3870 2134h1M3788 2135h1M3808 2135h1M3857 2135h1M3808 2136h1M3733 2137h1M3784 2137h1M3823 2137h1M3863 2137h1M3764 2138h1M3832 2138h1M3840 2138h1M3895 2138h1M3774 2141h1M3862 2141h1M3770 2142h1M3784 2142h1M3814 2142h1M3854 2142h1M3873 2142h1M3819 2143h1M3868 2143h1M3880 2143h1M3772 2144h1M3815 2144h1M3888 2144h1M3774 2145h1M3965 2145h1M3739 2146h1M3783 2146h1M3804 2146h1M3831 2146h1M3835 2146h1M3917 2146h1M3773 2148h1M3776 2148h1M3887 2149h1M3782 2150h1M3789 2150h1M3807 2150h1M3867 2150h1M3869 2150h1M3782 2152h1M3792 2152h1M3831 2153h1M3838 2153h1M3774 2154h1M3812 2154h1M3833 2154h1M3855 2154h1M3751 2157h1M3815 2157h1M3898 2157h1M3774 2158h1M3776 2158h1M3804 2158h1M3902 2158h1M3898 2159h1"/><path transform="scale(.1)" stroke="#262626" stroke-width="7.5" stroke-linecap="square" d="M4035 1676h1M4052 1683h1M4016 1687h1M4025 1687h1M4055 1687h1M4027 1688h1M4080 1690h1M3977 1691h1M4022 1691h1M4012 1693h1M4000 1695h1M4045 1695h1M4083 1696h1M4023 1697h1M4039 1698h1M4048 1698h1M4031 1699h1M4050 1699h1M4013 1700h1M4045 1700h1M4026 1701h1M4029 1701h1M4054 1701h1M4013 1704h1M4027 1704h1M3977 1705h1M4023 1705h1M4043 1705h1M4059 1705h1M4030 1706h1M4024 1707h1M4031 1707h1M4022 1708h1M4030 1709h1M4011 1711h1M4038 1711h1M4043 1712h1M4044 1712h1M4010 1713h1M4043 1713h1M4074 1713h1M3991 1715h1M4018 1715h1M4025 1715h1M4026 1716h1M4030 1716h1M4053 1716h1M3958 1717h1M4043 1717h1M4055 1717h1M4011 1718h1M4057 1718h1M4073 1718h1M4074 1719h1M4005 1722h1M4029 1722h1M4012 1724h1M4046 1724h1M4039 1725h1M4002 1726h1M4003 1726h1M4014 1726h1M4073 1726h1M4012 1727h1M4028 1727h1M4029 1727h1M4030 1728h1M4019 1730h1M4011 1731h1M3993 1732h1M4042 1732h1M3986 1733h1M4043 1734h1M4004 1735h1M4040 1735h1M4074 1735h1M4033 1736h1M4011 1737h1M4040 1737h1M4042 1738h1M4047 1739h1M4077 1739h1M4031 1741h1M3977 1743h1M4043 1743h1M3974 1745h1M4070 1746h1M4006 1747h1M4013 1749h1M4046 1749h1M4000 1751h1M4017 1752h1M4063 1756h1M4015 1757h1M3959 1758h1M4037 1763h1M4034 1764h1M4003 1766h1M4015 1766h1M3979 1769h1M4014 1769h1M4010 1770h1M4049 1772h1M4022 1779h1M3998 1780h1M4004 1780h1M4007 1780h1M4057 1784h1M4036 1786h1M3985 1794h1M3995 1794h1M4032 1794h1M4000 1795h1M3973 1800h1M3975 1800h1M4040 1803h1M4031 1816h1M4020 2153h1M4107 2153h1M4059 2155h1M4124 2155h1M4047 2156h1M4063 2156h1M4020 2157h1M4035 2157h1M4040 2157h1M4141 2157h1M4106 2158h1M4217 2158h1M3954 2159h1M4152 2159h1"/><rect x="372.8" y="157.6" width="60.8" height="59" fill="none" stroke="#222" stroke-width="0.9"/><line x1="394.6" y1="157.6" x2="394.6" y2="216.6" stroke="#222" stroke-width="0.9"/><line x1="372.8" y1="194.2" x2="433.6" y2="194.2" stroke="#222" stroke-width="0.9"/><text transform="translate(368.8,199.6) rotate(-90)" font-size="10.3" textLength="24.6" stroke="#111" stroke-width="0.1">CD57</text><text x="377.1" y="167.8" font-size="8" textLength="12.0" stroke="#111" stroke-width="0.1">2.5</text><text x="429" y="167.8" font-size="8" text-anchor="end" textLength="12.0" stroke="#111" stroke-width="0.1">1.4</text><text x="429" y="213.9" font-size="8" text-anchor="end" textLength="16.8" stroke="#111" stroke-width="0.1">0.04</text><rect x="441.5" y="173.1" width="19" height="12.9" rx="5.2" fill="#111" clip-path="url(#cb22)"/><rect x="437.5" y="203.3" width="26.6" height="14.4" rx="5.8" fill="#111" clip-path="url(#cb22)"/><path transform="scale(.1)" stroke="#111" stroke-width="7.5" stroke-linecap="square" d="M4590 1696h1M4607 1699h1M4530 1702h1M4570 1708h1M4558 1713h1M4611 1713h1M4729 1715h1M4521 1718h1M4522 1718h1M4540 1718h1M4567 1720h1M4580 1720h1M4542 1722h1M4636 1723h1M4527 1724h1M4530 1727h1M4520 1728h1M4611 1728h1M4525 1729h1M4525 1729h1M4562 1729h1M4526 1730h1M4536 1730h1M4551 1731h1M4561 1731h1M4532 1732h1M4531 1733h1M4557 1734h1M4563 1734h1M4569 1734h1M4575 1734h1M4554 1735h1M4563 1735h1M4616 1735h1M4570 1736h1M4632 1736h1M4523 1737h1M4595 1737h1M4575 1738h1M4530 1739h1M4588 1739h1M4620 1739h1M4540 1740h1M4595 1740h1M4612 1740h1M4628 1740h1M4534 1741h1M4616 1741h1M4627 1741h1M4555 1742h1M4566 1742h1M4582 1742h1M4583 1742h1M4571 1743h1M4522 1744h1M4533 1744h1M4540 1744h1M4548 1744h1M4554 1744h1M4564 1744h1M4575 1744h1M4583 1745h1M4584 1745h1M4588 1745h1M4566 1746h1M4612 1746h1M4648 1746h1M4526 1747h1M4527 1747h1M4557 1747h1M4560 1747h1M4591 1747h1M4598 1747h1M4625 1747h1M4636 1747h1M4546 1748h1M4539 1749h1M4546 1749h1M4553 1749h1M4615 1749h1M4566 1750h1M4617 1750h1M4623 1750h1M4531 1751h1M4577 1751h1M4600 1751h1M4607 1751h1M4612 1751h1M4524 1752h1M4578 1752h1M4594 1752h1M4619 1752h1M4621 1752h1M4522 1753h1M4563 1753h1M4578 1753h1M4578 1753h1M4581 1753h1M4521 1754h1M4559 1754h1M4567 1754h1M4574 1754h1M4568 1755h1M4582 1755h1M4595 1755h1M4607 1755h1M4597 1756h1M4613 1756h1M4650 1756h1M4587 1757h1M4534 1758h1M4592 1758h1M4595 1758h1M4642 1758h1M4553 1759h1M4561 1759h1M4586 1759h1M4582 1760h1M4591 1760h1M4621 1760h1M4529 1761h1M4550 1761h1M4556 1761h1M4576 1761h1M4582 1761h1M4598 1761h1M4523 1762h1M4535 1762h1M4544 1762h1M4575 1762h1M4579 1762h1M4606 1762h1M4613 1762h1M4634 1762h1M4578 1763h1M4581 1763h1M4582 1763h1M4588 1763h1M4520 1764h1M4527 1764h1M4548 1764h1M4526 1765h1M4556 1765h1M4572 1765h1M4601 1765h1M4605 1765h1M4609 1765h1M4554 1766h1M4580 1766h1M4615 1766h1M4545 1767h1M4549 1767h1M4550 1767h1M4554 1767h1M4554 1767h1M4555 1767h1M4562 1767h1M4565 1767h1M4581 1767h1M4583 1767h1M4596 1767h1M4606 1767h1M4567 1768h1M4584 1768h1M4587 1768h1M4614 1768h1M4522 1769h1M4540 1769h1M4548 1769h1M4583 1769h1M4589 1769h1M4590 1769h1M4605 1769h1M4624 1769h1M4520 1770h1M4521 1770h1M4526 1770h1M4562 1770h1M4562 1770h1M4564 1770h1M4587 1770h1M4604 1770h1M4631 1770h1M4526 1771h1M4537 1771h1M4571 1771h1M4578 1771h1M4594 1771h1M4600 1771h1M4640 1771h1M4534 1772h1M4536 1772h1M4549 1772h1M4576 1772h1M4637 1772h1M4530 1773h1M4537 1773h1M4553 1773h1M4575 1773h1M4589 1773h1M4615 1773h1M4526 1774h1M4560 1774h1M4577 1774h1M4580 1774h1M4566 1775h1M4581 1775h1M4586 1775h1M4610 1775h1M4563 1776h1M4567 1776h1M4614 1776h1M4617 1776h1M4627 1776h1M4554 1777h1M4600 1777h1M4605 1777h1M4542 1778h1M4562 1778h1M4582 1778h1M4604 1778h1M4618 1778h1M4530 1779h1M4530 1779h1M4533 1779h1M4572 1779h1M4581 1779h1M4595 1779h1M4624 1779h1M4527 1780h1M4527 1780h1M4540 1780h1M4547 1780h1M4549 1780h1M4552 1780h1M4555 1780h1M4556 1780h1M4592 1780h1M4606 1780h1M4532 1781h1M4565 1781h1M4577 1781h1M4605 1781h1M4609 1782h1M4613 1782h1M4524 1783h1M4538 1783h1M4555 1783h1M4556 1783h1M4562 1783h1M4590 1783h1M4615 1783h1M4535 1784h1M4540 1784h1M4554 1784h1M4556 1784h1M4559 1784h1M4575 1784h1M4587 1784h1M4588 1784h1M4607 1784h1M4521 1785h1M4528 1785h1M4559 1785h1M4560 1785h1M4562 1785h1M4570 1785h1M4579 1785h1M4620 1785h1M4543 1786h1M4557 1786h1M4562 1786h1M4564 1786h1M4572 1786h1M4588 1786h1M4595 1786h1M4629 1786h1M4636 1786h1M4536 1787h1M4542 1787h1M4551 1787h1M4562 1787h1M4575 1787h1M4580 1787h1M4585 1787h1M4597 1787h1M4609 1787h1M4536 1788h1M4548 1788h1M4552 1788h1M4588 1788h1M4589 1788h1M4611 1788h1M4625 1788h1M4520 1789h1M4522 1789h1M4526 1789h1M4533 1789h1M4538 1789h1M4545 1789h1M4562 1789h1M4574 1789h1M4575 1789h1M4578 1789h1M4598 1789h1M4610 1789h1M4624 1789h1M4533 1790h1M4573 1790h1M4581 1790h1M4522 1791h1M4526 1791h1M4541 1791h1M4560 1791h1M4605 1791h1M4608 1791h1M4625 1791h1M4550 1792h1M4558 1792h1M4560 1792h1M4561 1792h1M4566 1792h1M4581 1792h1M4598 1792h1M4627 1792h1M4521 1793h1M4522 1793h1M4526 1793h1M4551 1793h1M4555 1793h1M4557 1793h1M4563 1793h1M4564 1793h1M4577 1793h1M4588 1793h1M4524 1794h1M4557 1794h1M4561 1794h1M4561 1794h1M4642 1794h1M4530 1795h1M4586 1795h1M4588 1795h1M4602 1795h1M4611 1795h1M4620 1795h1M4541 1796h1M4543 1796h1M4552 1796h1M4578 1796h1M4585 1796h1M4592 1796h1M4593 1796h1M4605 1796h1M4545 1797h1M4548 1797h1M4549 1797h1M4554 1797h1M4561 1797h1M4575 1797h1M4615 1797h1M4631 1797h1M4520 1798h1M4537 1798h1M4550 1798h1M4590 1798h1M4610 1798h1M4536 1799h1M4538 1799h1M4562 1799h1M4568 1799h1M4572 1799h1M4572 1799h1M4572 1799h1M4573 1799h1M4596 1799h1M4542 1800h1M4575 1800h1M4580 1800h1M4612 1800h1M4526 1801h1M4527 1801h1M4552 1801h1M4592 1801h1M4608 1801h1M4532 1802h1M4560 1802h1M4565 1802h1M4604 1802h1M4612 1802h1M4613 1802h1M4523 1803h1M4536 1803h1M4539 1803h1M4545 1803h1M4553 1803h1M4580 1803h1M4602 1803h1M4525 1804h1M4531 1804h1M4539 1804h1M4544 1804h1M4545 1804h1M4553 1804h1M4535 1805h1M4535 1805h1M4550 1805h1M4556 1805h1M4557 1805h1M4568 1805h1M4550 1806h1M4559 1806h1M4569 1806h1M4579 1806h1M4524 1807h1M4544 1807h1M4554 1807h1M4559 1807h1M4563 1807h1M4570 1807h1M4570 1807h1M4597 1807h1M4598 1807h1M4534 1808h1M4557 1808h1M4561 1808h1M4539 1809h1M4577 1809h1M4594 1809h1M4523 1810h1M4537 1810h1M4549 1810h1M4552 1810h1M4571 1810h1M4582 1810h1M4616 1810h1M4630 1810h1M4554 1811h1M4555 1811h1M4560 1811h1M4605 1811h1M4524 1812h1M4525 1812h1M4529 1812h1M4573 1812h1M4525 1813h1M4541 1813h1M4547 1813h1M4564 1813h1M4591 1813h1M4633 1813h1M4565 1814h1M4578 1814h1M4588 1814h1M4626 1814h1M4522 1815h1M4545 1815h1M4550 1815h1M4589 1815h1M4597 1815h1M4614 1815h1M4525 1816h1M4537 1816h1M4554 1816h1M4554 1816h1M4559 1816h1M4567 1816h1M4576 1816h1M4552 1817h1M4566 1817h1M4568 1817h1M4569 1817h1M4586 1817h1M4520 1818h1M4524 1818h1M4542 1818h1M4543 1818h1M4550 1818h1M4556 1818h1M4563 1818h1M4528 1819h1M4542 1819h1M4556 1819h1M4568 1819h1M4569 1819h1M4579 1819h1M4596 1819h1M4521 1820h1M4528 1820h1M4538 1820h1M4546 1820h1M4574 1820h1M4580 1820h1M4618 1820h1M4558 1821h1M4567 1821h1M4591 1821h1M4605 1821h1M4526 1822h1M4528 1822h1M4538 1822h1M4540 1822h1M4550 1822h1M4550 1822h1M4568 1822h1M4593 1822h1M4604 1822h1M4537 1823h1M4551 1823h1M4554 1823h1M4559 1823h1M4580 1823h1M4605 1823h1M4637 1823h1M4528 1824h1M4553 1824h1M4557 1824h1M4562 1824h1M4580 1824h1M4521 1825h1M4526 1825h1M4528 1825h1M4538 1825h1M4565 1825h1M4578 1825h1M4613 1825h1M4563 1826h1M4573 1826h1M4587 1826h1M4545 1827h1M4554 1827h1M4560 1827h1M4564 1827h1M4569 1827h1M4591 1827h1M4541 1828h1M4545 1828h1M4562 1828h1M4579 1828h1M4588 1828h1M4557 1829h1M4536 1830h1M4549 1830h1M4560 1830h1M4570 1830h1M4578 1830h1M4523 1831h1M4530 1831h1M4549 1831h1M4570 1831h1M4532 1832h1M4540 1832h1M4550 1832h1M4585 1832h1M4598 1832h1M4614 1832h1M4523 1833h1M4539 1833h1M4558 1833h1M4586 1833h1M4521 1834h1M4523 1834h1M4527 1834h1M4531 1834h1M4549 1834h1M4555 1834h1M4579 1834h1M4523 1835h1M4572 1835h1M4594 1835h1M4558 1836h1M4567 1836h1M4569 1836h1M4585 1836h1M4561 1837h1M4578 1837h1M4548 1838h1M4562 1838h1M4588 1838h1M4591 1838h1M4602 1838h1M4523 1839h1M4542 1839h1M4569 1839h1M4588 1839h1M4547 1840h1M4541 1841h1M4556 1841h1M4542 1842h1M4556 1842h1M4563 1842h1M4567 1842h1M4613 1843h1M4542 1844h1M4567 1844h1M4571 1844h1M4578 1844h1M4590 1844h1M4593 1844h1M4521 1845h1M4534 1846h1M4544 1846h1M4577 1846h1M4538 1847h1M4564 1847h1M4618 1847h1M4559 1848h1M4575 1848h1M4530 1849h1M4536 1849h1M4556 1849h1M4558 1849h1M4577 1849h1M4547 1850h1M4600 1850h1M4611 1850h1M4614 1850h1M4524 1851h1M4525 1851h1M4553 1851h1M4628 1851h1M4578 1852h1M4620 1852h1M4553 1853h1M4558 1853h1M4575 1853h1M4620 1853h1M4545 1854h1M4553 1854h1M4568 1854h1M4631 1854h1M4530 1855h1M4561 1855h1M4572 1855h1M4603 1855h1M4521 1856h1M4523 1856h1M4549 1858h1M4558 1858h1M4560 1858h1M4636 1858h1M4641 1858h1M4547 1859h1M4556 1859h1M4549 1860h1M4554 1860h1M4649 1860h1M4525 1861h1M4605 1861h1M4647 1861h1M4558 1862h1M4551 1863h1M4553 1863h1M4573 1863h1M4522 1864h1M4549 1864h1M4556 1864h1M4575 1864h1M4533 1865h1M4541 1866h1M4609 1866h1M4580 1867h1M4611 1867h1M4613 1868h1M4585 1869h1M4586 1869h1M4603 1869h1M4614 1869h1M4631 1869h1M4557 1870h1M4575 1870h1M4604 1870h1M4530 1871h1M4545 1872h1M4584 1872h1M4572 1873h1M4599 1874h1M4574 1875h1M4590 1875h1M4646 1875h1M4522 1877h1M4544 1877h1M4551 1877h1M4573 1877h1M4621 1877h1M4569 1878h1M4539 1879h1M4599 1880h1M4523 1881h1M4562 1882h1M4574 1882h1M4547 1883h1M4570 1885h1M4534 1886h1M4522 1887h1M4539 1887h1M4560 1887h1M4647 1887h1M4552 1888h1M4563 1888h1M4574 1889h1M4630 1889h1M4646 1889h1M4541 1891h1M4543 1891h1M4524 1892h1M4568 1892h1M4641 1898h1M4603 1901h1M4559 1902h1M4552 1903h1M4557 1904h1M4612 1905h1M4610 1906h1M4647 1906h1M4531 1909h1M4534 1909h1M5033 1909h1M4562 1910h1M4539 1912h1M4550 1912h1M4553 1912h1M4582 1912h1M4648 1917h1M4636 1918h1M4529 1922h1M4549 1922h1M4631 1922h1M4533 1923h1M4569 1923h1M4571 1923h1M4521 1924h1M4569 1924h1M4548 1927h1M4597 1927h1M4589 1928h1M4555 1930h1M4557 1930h1M4594 1931h1M4545 1933h1M4531 1937h1M4571 1943h1M4635 1946h1M4535 1949h1M4570 1951h1M4535 1953h1M4547 1956h1M4521 1958h1M4645 1958h1M4578 1960h1M4553 1961h1M4643 1963h1M4559 1964h1M4575 1965h1M4528 1966h1M4630 1967h1M4543 1968h1M4555 1970h1M4567 1971h1M4536 1972h1M4536 1972h1M4582 1973h1M4603 1973h1M4621 1973h1M4562 1974h1M4565 1974h1M4578 1974h1M4579 1974h1M4594 1974h1M4624 1974h1M4527 1977h1M4634 1977h1M4550 1978h1M4524 1979h1M4601 1979h1M4521 1980h1M4563 1980h1M4530 1982h1M4561 1982h1M4522 1984h1M4535 1984h1M4644 1985h1M4523 1986h1M4593 1986h1M4592 1988h1M4558 1989h1M4579 1989h1M4630 1990h1M4650 1990h1M4526 1991h1M4636 1991h1M4556 1992h1M4546 1993h1M4614 1993h1M4546 1994h1M4563 1994h1M4576 1995h1M4606 1995h1M4545 1996h1M4557 1996h1M4596 1996h1M4602 1996h1M4606 1996h1M4646 1996h1M4528 1997h1M4581 1997h1M4521 1998h1M4578 1998h1M4579 1998h1M4528 2000h1M4552 2000h1M4557 2001h1M4571 2001h1M4644 2002h1M4533 2003h1M4588 2004h1M4590 2004h1M4553 2005h1M4554 2005h1M4571 2005h1M4601 2005h1M4604 2005h1M4617 2005h1M4556 2006h1M4600 2006h1M4555 2007h1M4603 2007h1M4641 2008h1M4630 2010h1M4631 2010h1M4641 2010h1M4648 2010h1M4566 2012h1M4600 2012h1M4600 2012h1M4523 2013h1M4530 2013h1M4533 2013h1M4561 2013h1M4567 2014h1M4594 2014h1M4523 2015h1M4526 2015h1M4526 2016h1M4612 2016h1M4568 2017h1M4602 2017h1M4649 2017h1M4553 2018h1M4599 2018h1M4602 2018h1M4523 2019h1M4557 2020h1M4648 2020h1M4649 2020h1M4525 2021h1M4580 2021h1M4593 2021h1M4521 2022h1M4527 2022h1M4528 2022h1M4639 2022h1M4624 2023h1M4626 2024h1M4530 2025h1M4581 2025h1M4613 2025h1M4650 2025h1M4576 2026h1M4579 2026h1M4597 2026h1M4562 2027h1M4595 2027h1M4539 2028h1M4627 2028h1M4602 2029h1M4612 2029h1M4621 2029h1M4624 2029h1M4527 2030h1M4580 2030h1M4536 2031h1M4599 2031h1M4629 2032h1M4581 2033h1M4623 2033h1M4539 2034h1M4585 2034h1M4623 2034h1M4565 2035h1M4603 2037h1M4580 2038h1M4585 2038h1M4586 2038h1M4542 2039h1M4591 2039h1M4627 2039h1M4629 2039h1M4529 2040h1M4536 2042h1M4625 2042h1M4636 2042h1M4559 2043h1M4582 2043h1M4524 2044h1M4590 2044h1M4624 2044h1M4570 2045h1M4579 2045h1M4601 2045h1M4627 2045h1M4649 2045h1M4528 2046h1M4564 2046h1M4572 2046h1M4564 2047h1M4584 2048h1M4523 2049h1M4559 2049h1M4582 2049h1M4610 2049h1M4622 2049h1M4626 2049h1M4527 2050h1M4553 2050h1M4615 2050h1M4594 2051h1M4589 2052h1M4642 2052h1M4546 2053h1M4559 2053h1M4588 2053h1M4554 2054h1M4582 2054h1M4607 2054h1M4625 2054h1M4530 2055h1M4564 2055h1M4576 2055h1M4611 2055h1M4527 2056h1M4556 2056h1M4627 2056h1M4661 2056h1M4546 2057h1M4567 2057h1M4605 2057h1M4619 2057h1M4628 2057h1M4566 2058h1M4574 2058h1M4590 2058h1M4591 2058h1M4597 2058h1M4628 2058h1M4639 2058h1M4523 2059h1M4596 2059h1M4627 2059h1M4524 2060h1M4563 2060h1M4534 2061h1M4561 2061h1M4575 2061h1M4591 2061h1M4620 2061h1M4630 2061h1M4544 2062h1M4551 2062h1M4562 2062h1M4603 2062h1M4523 2063h1M4536 2063h1M4583 2063h1M4552 2064h1M4584 2064h1M4605 2064h1M4658 2064h1M4661 2064h1M4546 2065h1M4561 2065h1M4592 2065h1M4595 2065h1M4646 2065h1M4660 2065h1M4521 2066h1M4524 2066h1M4559 2066h1M4579 2066h1M4620 2066h1M4623 2066h1M4613 2067h1M4616 2067h1M4620 2067h1M4622 2067h1M4546 2068h1M4583 2068h1M4596 2068h1M4625 2068h1M4630 2068h1M4647 2068h1M4532 2069h1M4550 2069h1M4551 2069h1M4565 2069h1M4601 2069h1M4610 2069h1M4624 2069h1M4686 2069h1M4535 2070h1M4543 2070h1M4547 2070h1M4551 2070h1M4558 2070h1M4592 2070h1M4615 2070h1M4618 2070h1M4633 2070h1M4646 2070h1M4565 2071h1M4583 2071h1M4591 2071h1M4638 2071h1M4577 2072h1M4593 2072h1M4616 2072h1M4566 2073h1M4611 2073h1M4639 2073h1M4664 2073h1M4527 2074h1M4571 2074h1M4581 2074h1M4600 2074h1M4646 2074h1M4526 2075h1M4559 2075h1M4566 2075h1M4571 2075h1M4574 2075h1M4594 2075h1M4610 2075h1M4641 2075h1M4523 2076h1M4560 2076h1M4564 2076h1M4605 2076h1M4525 2077h1M4549 2077h1M4600 2077h1M4602 2077h1M4632 2077h1M4559 2078h1M4568 2078h1M4568 2078h1M4575 2078h1M4601 2078h1M4628 2078h1M4636 2078h1M4526 2079h1M4562 2079h1M4569 2079h1M4570 2079h1M4573 2079h1M4561 2080h1M4573 2080h1M4591 2080h1M4603 2080h1M4524 2081h1M4525 2081h1M4540 2081h1M4552 2081h1M4579 2081h1M4586 2081h1M4599 2081h1M4601 2081h1M4605 2081h1M4611 2081h1M4543 2082h1M4545 2082h1M4560 2082h1M4567 2082h1M4572 2082h1M4576 2082h1M4618 2082h1M4624 2082h1M4642 2082h1M4539 2083h1M4551 2083h1M4554 2083h1M4581 2083h1M4862 2083h1M4562 2084h1M4574 2084h1M4574 2084h1M4587 2084h1M4587 2084h1M4617 2084h1M4657 2084h1M4534 2085h1M4583 2085h1M4593 2085h1M4617 2085h1M4627 2085h1M4632 2085h1M4525 2086h1M4537 2086h1M4553 2086h1M4554 2086h1M4562 2086h1M4566 2086h1M4566 2086h1M4569 2086h1M4584 2086h1M4599 2086h1M4606 2086h1M4610 2086h1M4626 2086h1M4630 2086h1M4524 2087h1M4546 2087h1M4552 2087h1M4565 2087h1M4583 2087h1M4574 2088h1M4578 2088h1M4590 2088h1M4593 2088h1M4626 2088h1M4557 2089h1M4567 2089h1M4579 2089h1M4583 2089h1M4600 2089h1M4618 2089h1M4540 2090h1M4545 2090h1M4559 2090h1M4562 2090h1M4581 2090h1M4609 2090h1M4653 2090h1M4543 2091h1M4547 2091h1M4553 2091h1M4523 2092h1M4524 2092h1M4540 2092h1M4559 2092h1M4610 2092h1M4520 2093h1M4526 2093h1M4580 2093h1M4585 2093h1M4615 2093h1M4639 2093h1M4529 2094h1M4536 2094h1M4570 2094h1M4572 2094h1M4588 2094h1M4606 2094h1M4610 2094h1M4533 2095h1M4565 2095h1M4568 2095h1M4573 2095h1M4613 2095h1M4695 2095h1M4527 2096h1M4544 2096h1M4553 2096h1M4555 2096h1M4610 2096h1M4624 2096h1M4636 2096h1M4693 2096h1M4524 2097h1M4527 2097h1M4548 2097h1M4554 2097h1M4554 2097h1M4556 2097h1M4595 2097h1M4615 2097h1M4527 2098h1M4566 2098h1M4575 2098h1M4581 2098h1M4594 2098h1M4601 2098h1M4609 2098h1M4680 2098h1M4525 2099h1M4599 2099h1M4614 2099h1M4618 2099h1M4626 2099h1M4637 2099h1M4525 2100h1M4568 2100h1M4571 2100h1M4587 2100h1M4609 2100h1M4624 2100h1M4658 2100h1M4522 2101h1M4539 2101h1M4539 2101h1M4550 2101h1M4568 2101h1M4569 2101h1M4577 2101h1M4592 2101h1M4596 2101h1M4612 2101h1M4620 2101h1M4539 2102h1M4547 2102h1M4548 2102h1M4560 2102h1M4583 2102h1M4593 2102h1M4618 2102h1M4691 2102h1M4525 2103h1M4543 2103h1M4565 2103h1M4573 2103h1M4602 2103h1M4614 2103h1M4622 2103h1M4671 2103h1M4553 2104h1M4568 2104h1M4577 2104h1M4585 2104h1M4606 2104h1M4626 2104h1M4540 2105h1M4554 2105h1M4562 2105h1M4566 2105h1M4581 2105h1M4582 2105h1M4605 2105h1M4619 2105h1M4619 2105h1M4642 2105h1M4643 2105h1M4648 2105h1M4671 2105h1M4521 2106h1M4552 2106h1M4556 2106h1M4574 2106h1M4575 2106h1M4590 2106h1M4601 2106h1M4617 2106h1M4618 2106h1M4627 2106h1M4627 2106h1M4651 2106h1M4540 2107h1M4556 2107h1M4563 2107h1M4567 2107h1M4573 2107h1M4589 2107h1M4605 2107h1M4557 2108h1M4558 2108h1M4567 2108h1M4580 2108h1M4580 2108h1M4618 2108h1M4654 2108h1M4529 2109h1M4537 2109h1M4574 2109h1M4574 2109h1M4583 2109h1M4593 2109h1M4599 2109h1M4675 2109h1M4710 2109h1M4711 2109h1M4530 2110h1M4549 2110h1M4565 2110h1M4567 2110h1M4604 2110h1M4611 2110h1M4632 2110h1M4555 2111h1M4560 2111h1M4569 2111h1M4582 2111h1M4627 2111h1M4557 2112h1M4579 2112h1M4583 2112h1M4596 2112h1M4607 2112h1M4611 2112h1M4532 2113h1M4551 2113h1M4554 2113h1M4573 2113h1M4581 2113h1M4581 2113h1M4584 2113h1M4595 2113h1M4603 2113h1M4610 2113h1M4611 2113h1M4632 2113h1M4522 2114h1M4523 2114h1M4541 2114h1M4545 2114h1M4567 2114h1M4578 2114h1M4581 2114h1M4593 2114h1M4601 2114h1M4616 2114h1M4626 2114h1M4670 2114h1M4539 2115h1M4563 2115h1M4563 2115h1M4603 2115h1M4647 2115h1M4527 2116h1M4563 2116h1M4568 2116h1M4573 2116h1M4598 2116h1M4598 2116h1M4630 2116h1M4526 2117h1M4578 2117h1M4584 2117h1M4591 2117h1M4609 2117h1M4611 2117h1M4613 2117h1M4649 2117h1M4529 2118h1M4545 2118h1M4546 2118h1M4551 2118h1M4554 2118h1M4572 2118h1M4645 2118h1M4666 2118h1M4521 2119h1M4527 2119h1M4573 2119h1M4584 2119h1M4588 2119h1M4608 2119h1M4618 2119h1M4621 2119h1M4641 2119h1M4576 2120h1M4583 2120h1M4589 2120h1M4614 2120h1M4644 2120h1M4529 2121h1M4534 2121h1M4546 2121h1M4571 2121h1M4582 2121h1M4586 2121h1M4601 2121h1M4604 2121h1M4612 2121h1M4534 2122h1M4547 2122h1M4583 2122h1M4585 2122h1M4587 2122h1M4669 2122h1M4704 2122h1M4565 2123h1M4585 2123h1M4595 2123h1M4608 2123h1M4523 2124h1M4527 2124h1M4554 2124h1M4558 2124h1M4587 2124h1M4591 2124h1M4630 2124h1M4633 2124h1M4522 2125h1M4535 2125h1M4555 2125h1M4572 2125h1M4583 2125h1M4585 2125h1M4660 2125h1M4558 2126h1M4569 2126h1M4637 2126h1M4522 2127h1M4522 2127h1M4560 2127h1M4573 2127h1M4577 2127h1M4596 2127h1M4603 2127h1M4631 2127h1M4522 2128h1M4550 2128h1M4555 2128h1M4612 2128h1M4657 2128h1M4904 2128h1M4548 2129h1M4592 2129h1M4615 2129h1M4634 2129h1M4654 2129h1M4547 2130h1M4562 2130h1M4601 2130h1M4619 2130h1M4635 2130h1M4522 2131h1M4536 2131h1M4556 2131h1M4655 2131h1M4665 2131h1M4566 2132h1M4569 2132h1M4574 2132h1M4609 2132h1M4638 2132h1M4547 2133h1M4557 2133h1M4564 2133h1M4592 2133h1M4597 2133h1M4636 2133h1M4537 2134h1M4667 2134h1M4524 2135h1M4533 2135h1M4542 2135h1M4554 2135h1M4563 2135h1M4569 2135h1M4593 2135h1M4627 2135h1M4543 2136h1M4579 2136h1M4582 2136h1M4609 2136h1M4613 2136h1M4630 2136h1M4521 2137h1M4528 2137h1M4578 2137h1M4582 2137h1M4603 2137h1M4612 2137h1M4665 2137h1M4545 2138h1M4550 2138h1M4560 2138h1M4573 2138h1M4616 2138h1M4617 2138h1M4624 2138h1M4583 2139h1M4586 2140h1M4674 2140h1M4530 2141h1M4540 2141h1M4562 2141h1M4565 2142h1M4599 2142h1M4623 2142h1M4656 2142h1M4662 2142h1M4546 2143h1M4552 2143h1M4560 2143h1M4587 2143h1M4615 2143h1M4619 2143h1M4620 2143h1M4521 2144h1M4521 2144h1M4555 2144h1M4562 2144h1M4570 2144h1M4571 2144h1M4550 2145h1M4612 2145h1M4521 2146h1M4573 2146h1M4599 2146h1M4601 2146h1M4614 2146h1M4626 2146h1M4522 2147h1M4546 2147h1M4561 2147h1M4584 2147h1M4591 2147h1M4635 2147h1M4521 2148h1M4563 2148h1M4602 2148h1M4525 2149h1M4598 2149h1M4623 2149h1M4530 2150h1M4540 2150h1M4564 2150h1M4573 2150h1M4615 2150h1M4521 2151h1M4584 2151h1M4624 2151h1M4710 2151h1M4550 2152h1M4557 2152h1M4632 2152h1M4644 2152h1M4646 2152h1M4528 2153h1M4582 2153h1M4601 2153h1M4611 2153h1M4556 2154h1M4577 2154h1M4603 2154h1M4522 2155h1M4624 2155h1M4627 2155h1M4713 2155h1M4521 2157h1M4587 2157h1M4581 2158h1M4609 2158h1M4639 2158h1M4679 2158h1M4524 2159h1M4581 2160h1M4625 2160h1"/><path transform="scale(.1)" stroke="#262626" stroke-width="7.5" stroke-linecap="square" d="M4796 1977h1M4887 2014h1M4856 2035h1M4892 2035h1M4847 2039h1M4845 2041h1M4895 2045h1M4900 2049h1M4881 2050h1M4844 2051h1M4858 2052h1M4880 2052h1M4850 2056h1M4851 2056h1M4851 2056h1M4902 2056h1M4929 2058h1M4867 2059h1M4856 2060h1M4883 2061h1M4851 2062h1M4834 2063h1M4875 2064h1M4871 2065h1M4922 2065h1M4821 2066h1M4825 2066h1M4862 2066h1M4795 2067h1M4849 2068h1M4858 2068h1M4924 2068h1M4819 2070h1M4857 2070h1M4852 2071h1M4868 2071h1M4823 2072h1M4871 2073h1M4846 2074h1M4870 2075h1M4897 2075h1M4862 2076h1M4846 2077h1M4848 2077h1M4851 2078h1M4872 2078h1M4836 2079h1M4848 2080h1M4849 2080h1M4869 2080h1M4863 2081h1M4873 2081h1M4847 2082h1M4883 2082h1M4863 2083h1M4873 2083h1M4817 2084h1M4848 2084h1M4851 2084h1M4872 2085h1M4865 2086h1M4893 2086h1M4876 2089h1M4843 2090h1M4846 2090h1M4847 2090h1M4870 2092h1M4870 2092h1M4876 2092h1M4878 2092h1M4843 2093h1M4855 2093h1M4848 2094h1M4848 2094h1M4899 2094h1M4820 2095h1M4874 2095h1M4876 2095h1M4887 2095h1M4860 2096h1M4876 2096h1M4882 2096h1M4824 2098h1M4837 2100h1M4863 2103h1M4875 2104h1M4862 2105h1M4855 2106h1M4858 2106h1M4847 2107h1M4864 2107h1M4877 2110h1M4884 2111h1M4891 2111h1M4824 2112h1M4903 2112h1M4809 2114h1M4892 2117h1M4846 2118h1M4860 2118h1M4862 2118h1M4868 2118h1M4873 2118h1M4883 2118h1M4877 2122h1M4862 2125h1M4815 2129h1M4837 2151h1M4994 2151h1M4844 2156h1M4931 2156h1M4832 2157h1M4965 2157h1M4998 2157h1M4805 2158h1M4825 2158h1M4988 2158h1M4961 2159h1"/><rect x="451.5" y="157.6" width="60.3" height="59" fill="none" stroke="#222" stroke-width="0.9"/><line x1="473.5" y1="157.6" x2="473.5" y2="216.6" stroke="#222" stroke-width="0.9"/><line x1="451.5" y1="194.2" x2="511.8" y2="194.2" stroke="#222" stroke-width="0.9"/><text transform="translate(446.5,207.3) rotate(-90)" font-size="10.3" textLength="35.8" stroke="#111" stroke-width="0.1">HLA-DR</text><text x="454.6" y="167.8" font-size="8" textLength="16.8" stroke="#111" stroke-width="0.1">12.4</text><text x="508.8" y="167.8" font-size="8" text-anchor="end" textLength="16.8" stroke="#111" stroke-width="0.1">0.07</text><text x="509.4" y="213.9" font-size="8" text-anchor="end" textLength="12.0" stroke="#111" stroke-width="0.1">1.5</text><line x1="311.3" y1="229.3" x2="385.8" y2="229.3" stroke="#111" stroke-width="1.5"/><text x="392.5" y="232.7" font-size="9.6" textLength="26.0" stroke="#111" stroke-width="0.1">CD18</text><line x1="423.3" y1="229.3" x2="489.5" y2="229.3" stroke="#111" stroke-width="1.5"/><path d="M488.5 225.6 L499 229.3 L488.5 233Z" fill="#111"/><text x="0.2" y="173.9" font-size="18.5" font-weight="bold">C</text><text x="49.1" y="181.4" font-size="9.6" textLength="32.2" stroke="#111" stroke-width="0.1">Exon 4</text><text x="88.8" y="181.4" font-size="9.6" textLength="37.1" stroke="#111" stroke-width="0.1">Intron 4</text><text x="149.5" y="181.6" font-size="9.6" textLength="32.5" stroke="#111" stroke-width="0.1">Exon 6</text><line x1="85.1" y1="173.3" x2="85.1" y2="200.5" stroke="#111" stroke-width="0.9"/><text x="1.3" y="213" font-size="9.6" textLength="33.7" stroke="#111" stroke-width="0.1">Control</text><text x="1.3" y="267" font-size="9.6" textLength="30.5" stroke="#111" stroke-width="0.1">Father</text><text x="1.3" y="320.8" font-size="9.6" textLength="33.0" stroke="#111" stroke-width="0.1">Mother</text><text x="2.3" y="365" font-size="9.6" textLength="32.2" stroke="#111" stroke-width="0.1">Patient</text><text x="2.3" y="375" font-size="9.6" textLength="37.5" stroke="#111" stroke-width="0.1">Granulo-</text><text x="2.3" y="384.6" font-size="9.6" textLength="23.5" stroke="#111" stroke-width="0.1">cytes</text><text x="2.3" y="418.8" font-size="9.6" textLength="32.2" stroke="#111" stroke-width="0.1">Patient</text><text x="2.3" y="428.6" font-size="9.6" textLength="25.8" stroke="#111" stroke-width="0.1">CD18</text><text x="28.3" y="426.2" font-size="5.4">+</text><text x="2.3" y="438.8" font-size="9.6" textLength="21.5" stroke="#111" stroke-width="0.1">cells</text><line x1="46.4" y1="232" x2="122.1" y2="232" stroke="#c23a55" stroke-width="0.9"/><path d="M45.9 231.3 L46.4 229.9 L47.0 226.6 L47.5 222.0 L48.1 219.7 L48.7 222.0 L49.2 226.6 L49.8 229.9 L50.3 231.3 M65.6 231.4 L66.2 230.3 L66.7 227.7 L67.3 224.1 L67.8 222.3 L68.4 224.1 L68.9 227.7 L69.5 230.3 L70.1 231.4 M72.2 231.1 L72.8 229.2 L73.3 224.5 L73.9 218.2 L74.4 215.0 L75.0 218.2 L75.5 224.5 L76.1 229.2 L76.6 231.1 M82.1 231.3 L82.6 229.9 L83.2 226.6 L83.7 222.1 L84.3 219.8 L84.8 222.1 L85.4 226.6 L85.9 229.9 L86.5 231.3 M95.2 231.3 L95.8 230.1 L96.3 227.1 L96.9 223.0 L97.5 221.0 L98.0 223.0 L98.6 227.1 L99.1 230.1 L99.7 231.3" fill="none" stroke="#3fae49" stroke-width="1.3" stroke-linejoin="round"/><path d="M49.2 231.1 L49.7 229.1 L50.3 224.3 L50.8 217.8 L51.4 214.5 L51.9 217.8 L52.5 224.3 L53.0 229.1 L53.6 231.1 M52.5 231.1 L53.0 229.1 L53.6 224.3 L54.1 217.7 L54.7 214.4 L55.2 217.7 L55.8 224.3 L56.3 229.1 L56.9 231.1 M62.3 231.3 L62.9 230.0 L63.4 226.8 L64.0 222.5 L64.6 220.4 L65.1 222.5 L65.7 226.8 L66.2 230.0 L66.8 231.3 M75.5 231.2 L76.1 229.6 L76.6 225.8 L77.2 220.5 L77.7 217.9 L78.3 220.5 L78.8 225.8 L79.4 229.6 L79.9 231.2 M78.8 231.1 L79.3 229.1 L79.9 224.3 L80.4 217.8 L81.0 214.5 L81.6 217.8 L82.1 224.3 L82.7 229.1 L83.2 231.1 M101.8 231.1 L102.4 229.0 L102.9 224.1 L103.5 217.3 L104.0 213.9 L104.6 217.3 L105.1 224.1 L105.7 229.0 L106.2 231.1" fill="none" stroke="#4a7fd6" stroke-width="1.3" stroke-linejoin="round"/><path d="M55.8 231.1 L56.3 229.2 L56.9 224.6 L57.4 218.3 L58.0 215.2 L58.5 218.3 L59.1 224.6 L59.6 229.2 L60.2 231.1 M92.0 231.3 L92.5 230.1 L93.1 227.2 L93.6 223.3 L94.2 221.3 L94.7 223.3 L95.3 227.2 L95.8 230.1 L96.4 231.3 M108.4 231.2 L109.0 229.3 L109.5 224.8 L110.1 218.7 L110.6 215.6 L111.2 218.7 L111.7 224.8 L112.3 229.3 L112.8 231.2 M111.7 231.1 L112.2 228.9 L112.8 223.6 L113.4 216.4 L113.9 212.8 L114.5 216.4 L115.0 223.6 L115.6 228.9 L116.1 231.1" fill="none" stroke="#e0456e" stroke-width="1.3" stroke-linejoin="round"/><path d="M59.1 231.0 L59.6 228.4 L60.2 222.3 L60.7 214.1 L61.3 209.9 L61.8 214.1 L62.4 222.3 L62.9 228.4 L63.5 231.0 M68.9 231.4 L69.5 230.4 L70.0 227.9 L70.6 224.6 L71.1 222.9 L71.7 224.6 L72.2 227.9 L72.8 230.4 L73.3 231.4 M85.4 231.5 L85.9 230.7 L86.5 228.9 L87.0 226.4 L87.6 225.1 L88.1 226.4 L88.7 228.9 L89.2 230.7 L89.8 231.5 M88.7 231.2 L89.2 229.5 L89.8 225.3 L90.3 219.6 L90.9 216.8 L91.4 219.6 L92.0 225.3 L92.5 229.5 L93.1 231.2 M98.5 231.5 L99.1 230.6 L99.6 228.6 L100.2 225.8 L100.7 224.4 L101.3 225.8 L101.8 228.6 L102.4 230.6 L103.0 231.5 M105.1 231.4 L105.7 230.2 L106.2 227.4 L106.8 223.5 L107.3 221.6 L107.9 223.5 L108.4 227.4 L109.0 230.2 L109.5 231.4 M115.0 231.0 L115.5 228.6 L116.1 222.7 L116.6 214.8 L117.2 210.8 L117.7 214.8 L118.3 222.7 L118.9 228.6 L119.4 231.0 M118.3 231.3 L118.8 230.1 L119.4 227.1 L119.9 223.0 L120.5 220.9 L121.0 223.0 L121.6 227.1 L122.1 230.1 L122.7 231.3" fill="none" stroke="#1a1a1a" stroke-width="1.3" stroke-linejoin="round"/><text x="46.9" y="192.6" font-size="5.0" textLength="74.7" fill-opacity="0.6"><tspan fill="#1a1a1a">G</tspan><tspan fill="#4a7fd6">C</tspan><tspan fill="#4a7fd6">C</tspan><tspan fill="#e0456e">T</tspan><tspan fill="#1a1a1a">G</tspan><tspan fill="#4a7fd6">C</tspan><tspan fill="#1a1a1a">G</tspan><tspan fill="#3fae49">A</tspan><tspan fill="#4a7fd6">C</tspan><tspan fill="#4a7fd6">C</tspan><tspan fill="#3fae49">A</tspan><tspan fill="#1a1a1a">G</tspan><tspan fill="#1a1a1a">G</tspan><tspan fill="#e0456e">T</tspan><tspan fill="#3fae49">A</tspan><tspan fill="#1a1a1a">G</tspan><tspan fill="#1a1a1a">G</tspan><tspan fill="#4a7fd6">C</tspan><tspan fill="#e0456e">T</tspan><tspan fill="#e0456e">T</tspan><tspan fill="#1a1a1a">G</tspan><tspan fill="#4a7fd6">C</tspan></text><rect x="45.9" y="186.4" width="76.7" height="46.5" fill="none" stroke="#333" stroke-width="1.0"/><line x1="129.9" y1="232" x2="205.9" y2="232" stroke="#c23a55" stroke-width="0.9"/><path d="M129.4 230.9 L129.9 228.3 L130.5 222.0 L131.0 213.4 L131.6 209.1 L132.2 213.4 L132.7 222.0 L133.3 228.3 L133.8 230.9 M150.1 231.4 L150.7 230.2 L151.2 227.4 L151.8 223.6 L152.3 221.7 L152.9 223.6 L153.5 227.4 L154.0 230.2 L154.6 231.4" fill="none" stroke="#3fae49" stroke-width="1.3" stroke-linejoin="round"/><path d="M132.8 231.3 L133.4 230.0 L134.0 226.9 L134.5 222.6 L135.1 220.4 L135.6 222.6 L136.2 226.9 L136.7 230.0 L137.3 231.3 M139.8 230.7 L140.3 227.5 L140.9 219.5 L141.4 208.8 L142.0 203.4 L142.5 208.8 L143.1 219.5 L143.6 227.5 L144.2 230.7 M153.6 231.3 L154.1 229.8 L154.7 226.2 L155.3 221.4 L155.8 218.9 L156.4 221.4 L156.9 226.2 L157.5 229.8 L158.0 231.3 M174.3 231.2 L174.9 229.5 L175.4 225.5 L176.0 220.0 L176.6 217.2 L177.1 220.0 L177.7 225.5 L178.2 229.5 L178.8 231.2 M188.2 230.7 L188.7 227.1 L189.3 218.5 L189.8 206.8 L190.4 200.9 L190.9 206.8 L191.5 218.5 L192.0 227.1 L192.6 230.7" fill="none" stroke="#1a1a1a" stroke-width="1.3" stroke-linejoin="round"/><path d="M136.3 231.3 L136.9 230.2 L137.4 227.3 L138.0 223.4 L138.5 221.4 L139.1 223.4 L139.6 227.3 L140.2 230.2 L140.7 231.3 M177.8 231.2 L178.4 229.7 L178.9 225.8 L179.5 220.7 L180.0 218.1 L180.6 220.7 L181.1 225.8 L181.7 229.7 L182.2 231.2 M181.3 231.2 L181.8 229.6 L182.4 225.8 L182.9 220.5 L183.5 217.9 L184.0 220.5 L184.6 225.8 L185.1 229.6 L185.7 231.2 M184.7 231.2 L185.3 229.4 L185.8 225.0 L186.4 219.1 L186.9 216.1 L187.5 219.1 L188.0 225.0 L188.6 229.4 L189.1 231.2 M198.5 231.2 L199.1 229.3 L199.7 224.8 L200.2 218.8 L200.8 215.7 L201.3 218.8 L201.9 224.8 L202.4 229.3 L203.0 231.2 M202.0 231.1 L202.6 229.0 L203.1 224.0 L203.7 217.1 L204.2 213.7 L204.8 217.1 L205.3 224.0 L205.9 229.0 L206.4 231.1" fill="none" stroke="#e0456e" stroke-width="1.3" stroke-linejoin="round"/><path d="M143.2 231.1 L143.8 228.9 L144.3 223.6 L144.9 216.4 L145.4 212.9 L146.0 216.4 L146.5 223.6 L147.1 228.9 L147.6 231.1 M146.7 231.2 L147.2 229.6 L147.8 225.7 L148.3 220.5 L148.9 217.8 L149.4 220.5 L150.0 225.7 L150.5 229.6 L151.1 231.2 M157.1 230.9 L157.6 228.3 L158.2 221.8 L158.7 213.0 L159.3 208.6 L159.8 213.0 L160.4 221.8 L160.9 228.3 L161.5 230.9 M160.5 231.0 L161.1 228.7 L161.6 223.2 L162.2 215.6 L162.7 211.8 L163.3 215.6 L163.8 223.2 L164.4 228.7 L164.9 231.0 M164.0 231.0 L164.5 228.6 L165.1 222.8 L165.6 214.9 L166.2 211.0 L166.7 214.9 L167.3 222.8 L167.8 228.6 L168.4 231.0 M167.4 231.1 L168.0 228.9 L168.5 223.7 L169.1 216.6 L169.6 213.0 L170.2 216.6 L170.7 223.7 L171.3 228.9 L171.8 231.1 M170.9 231.1 L171.4 229.1 L172.0 224.2 L172.5 217.5 L173.1 214.2 L173.6 217.5 L174.2 224.2 L174.8 229.1 L175.3 231.1 M191.6 231.1 L192.2 229.1 L192.7 224.1 L193.3 217.4 L193.8 214.0 L194.4 217.4 L194.9 224.1 L195.5 229.1 L196.1 231.1 M195.1 231.0 L195.6 228.8 L196.2 223.2 L196.7 215.7 L197.3 212.0 L197.9 215.7 L198.4 223.2 L199.0 228.8 L199.5 231.0" fill="none" stroke="#4a7fd6" stroke-width="1.3" stroke-linejoin="round"/><text x="130.4" y="192.6" font-size="5.0" textLength="75" fill-opacity="0.6"><tspan fill="#3fae49">A</tspan><tspan fill="#1a1a1a">G</tspan><tspan fill="#e0456e">T</tspan><tspan fill="#1a1a1a">G</tspan><tspan fill="#4a7fd6">C</tspan><tspan fill="#4a7fd6">C</tspan><tspan fill="#3fae49">A</tspan><tspan fill="#1a1a1a">G</tspan><tspan fill="#4a7fd6">C</tspan><tspan fill="#4a7fd6">C</tspan><tspan fill="#4a7fd6">C</tspan><tspan fill="#4a7fd6">C</tspan><tspan fill="#4a7fd6">C</tspan><tspan fill="#4a7fd6">C</tspan><tspan fill="#1a1a1a">G</tspan><tspan fill="#e0456e">T</tspan><tspan fill="#e0456e">T</tspan><tspan fill="#e0456e">T</tspan><tspan fill="#1a1a1a">G</tspan><tspan fill="#4a7fd6">C</tspan><tspan fill="#4a7fd6">C</tspan><tspan fill="#e0456e">T</tspan><tspan fill="#e0456e">T</tspan></text><rect x="129.4" y="186.4" width="77" height="46.5" fill="none" stroke="#333" stroke-width="1.0"/><text x="47.6" y="198.9" font-size="5.2" fill="#3fae49" textLength="4.0">60</text><text x="75.8" y="198.9" font-size="5.2" fill="#3fae49" textLength="7.5">160</text><text x="111.6" y="198.9" font-size="5.2" fill="#222" textLength="8.0">170</text><rect x="86.4" y="193.6" width="4.2" height="2.5" fill="#111"/><text x="131" y="199" font-size="4.6" fill="#4a7fd6">2</text><text x="155" y="199" font-size="4.6" fill="#4a7fd6">150</text><text x="195.5" y="199" font-size="4.6" fill="#4a7fd6">160</text><rect x="157.5" y="195.3" width="15.5" height="2.5" fill="#111"/><line x1="46.4" y1="286.1" x2="122.1" y2="286.1" stroke="#c23a55" stroke-width="0.9"/><path d="M45.9 285.4 L46.4 283.9 L47.0 280.4 L47.5 275.6 L48.1 273.2 L48.7 275.6 L49.2 280.4 L49.8 283.9 L50.3 285.4 M65.6 285.4 L66.2 283.9 L66.7 280.5 L67.3 275.7 L67.8 273.4 L68.4 275.7 L68.9 280.5 L69.5 283.9 L70.1 285.4 M72.2 285.1 L72.8 282.7 L73.3 276.9 L73.9 269.1 L74.4 265.1 L75.0 269.1 L75.5 276.9 L76.1 282.7 L76.6 285.1 M82.1 285.3 L82.6 283.8 L83.2 280.1 L83.7 275.0 L84.3 272.5 L84.8 275.0 L85.4 280.1 L85.9 283.8 L86.5 285.3 M95.2 285.4 L95.8 283.9 L96.3 280.3 L96.9 275.5 L97.5 273.0 L98.0 275.5 L98.6 280.3 L99.1 283.9 L99.7 285.4" fill="none" stroke="#3fae49" stroke-width="1.3" stroke-linejoin="round"/><path d="M49.2 285.2 L49.7 283.4 L50.3 278.8 L50.8 272.7 L51.4 269.6 L51.9 272.7 L52.5 278.8 L53.0 283.4 L53.6 285.2 M52.5 285.2 L53.0 283.0 L53.6 277.9 L54.1 270.9 L54.7 267.3 L55.2 270.9 L55.8 277.9 L56.3 283.0 L56.9 285.2 M62.3 285.3 L62.9 283.8 L63.4 279.9 L64.0 274.7 L64.6 272.1 L65.1 274.7 L65.7 279.9 L66.2 283.8 L66.8 285.3 M75.5 285.3 L76.1 283.4 L76.6 279.0 L77.2 273.0 L77.7 270.0 L78.3 273.0 L78.8 279.0 L79.4 283.4 L79.9 285.3 M78.8 285.3 L79.3 283.8 L79.9 280.0 L80.4 274.9 L81.0 272.3 L81.6 274.9 L82.1 280.0 L82.7 283.8 L83.2 285.3 M101.8 285.2 L102.4 283.2 L102.9 278.2 L103.5 271.6 L104.0 268.2 L104.6 271.6 L105.1 278.2 L105.7 283.2 L106.2 285.2" fill="none" stroke="#4a7fd6" stroke-width="1.3" stroke-linejoin="round"/><path d="M55.8 285.2 L56.3 283.3 L56.9 278.8 L57.4 272.5 L58.0 269.4 L58.5 272.5 L59.1 278.8 L59.6 283.3 L60.2 285.2 M92.0 285.5 L92.5 284.3 L93.1 281.4 L93.6 277.5 L94.2 275.6 L94.7 277.5 L95.3 281.4 L95.8 284.3 L96.4 285.5 M108.4 285.3 L109.0 283.7 L109.5 279.8 L110.1 274.4 L110.6 271.8 L111.2 274.4 L111.7 279.8 L112.3 283.7 L112.8 285.3 M111.7 285.3 L112.2 283.5 L112.8 279.1 L113.4 273.1 L113.9 270.2 L114.5 273.1 L115.0 279.1 L115.6 283.5 L116.1 285.3" fill="none" stroke="#e0456e" stroke-width="1.3" stroke-linejoin="round"/><path d="M59.1 285.0 L59.6 282.3 L60.2 275.7 L60.7 266.7 L61.3 262.3 L61.8 266.7 L62.4 275.7 L62.9 282.3 L63.5 285.0 M68.9 285.5 L69.5 284.5 L70.0 282.0 L70.6 278.6 L71.1 276.9 L71.7 278.6 L72.2 282.0 L72.8 284.5 L73.3 285.5 M85.4 285.6 L85.9 284.8 L86.5 282.9 L87.0 280.3 L87.6 279.0 L88.1 280.3 L88.7 282.9 L89.2 284.8 L89.8 285.6 M88.7 285.2 L89.2 283.3 L89.8 278.6 L90.3 272.2 L90.9 269.0 L91.4 272.2 L92.0 278.6 L92.5 283.3 L93.1 285.2 M98.5 285.6 L99.1 284.8 L99.6 283.1 L100.2 280.6 L100.7 279.4 L101.3 280.6 L101.8 283.1 L102.4 284.8 L103.0 285.6 M105.1 285.5 L105.7 284.3 L106.2 281.4 L106.8 277.5 L107.3 275.6 L107.9 277.5 L108.4 281.4 L109.0 284.3 L109.5 285.5 M115.0 284.9 L115.5 281.8 L116.1 274.4 L116.6 264.3 L117.2 259.3 L117.7 264.3 L118.3 274.4 L118.9 281.8 L119.4 284.9 M118.3 285.4 L118.8 284.1 L119.4 280.9 L119.9 276.5 L120.5 274.3 L121.0 276.5 L121.6 280.9 L122.1 284.1 L122.7 285.4" fill="none" stroke="#1a1a1a" stroke-width="1.3" stroke-linejoin="round"/><text x="46.9" y="246.3" font-size="5.0" textLength="74.7" fill-opacity="0.6"><tspan fill="#1a1a1a">G</tspan><tspan fill="#4a7fd6">C</tspan><tspan fill="#4a7fd6">C</tspan><tspan fill="#e0456e">T</tspan><tspan fill="#1a1a1a">G</tspan><tspan fill="#4a7fd6">C</tspan><tspan fill="#1a1a1a">G</tspan><tspan fill="#3fae49">A</tspan><tspan fill="#4a7fd6">C</tspan><tspan fill="#4a7fd6">C</tspan><tspan fill="#3fae49">A</tspan><tspan fill="#1a1a1a">G</tspan><tspan fill="#e0456e">N</tspan><tspan fill="#e0456e">T</tspan><tspan fill="#3fae49">A</tspan><tspan fill="#1a1a1a">G</tspan><tspan fill="#1a1a1a">G</tspan><tspan fill="#4a7fd6">C</tspan><tspan fill="#e0456e">T</tspan><tspan fill="#e0456e">T</tspan><tspan fill="#1a1a1a">G</tspan><tspan fill="#4a7fd6">C</tspan></text><rect x="45.9" y="240.1" width="76.7" height="46.9" fill="none" stroke="#333" stroke-width="1.0"/><line x1="129.9" y1="286.1" x2="205.9" y2="286.1" stroke="#c23a55" stroke-width="0.9"/><path d="M129.4 285.1 L129.9 282.9 L130.5 277.5 L131.0 270.2 L131.6 266.5 L132.2 270.2 L132.7 277.5 L133.3 282.9 L133.8 285.1 M150.1 285.5 L150.7 284.3 L151.2 281.5 L151.8 277.7 L152.3 275.8 L152.9 277.7 L153.5 281.5 L154.0 284.3 L154.6 285.5" fill="none" stroke="#3fae49" stroke-width="1.3" stroke-linejoin="round"/><path d="M132.8 285.4 L133.4 283.8 L134.0 280.2 L134.5 275.2 L135.1 272.7 L135.6 275.2 L136.2 280.2 L136.7 283.8 L137.3 285.4 M139.8 285.0 L140.3 282.4 L140.9 276.0 L141.4 267.3 L142.0 263.0 L142.5 267.3 L143.1 276.0 L143.6 282.4 L144.2 285.0 M153.6 285.4 L154.1 284.3 L154.7 281.4 L155.3 277.4 L155.8 275.4 L156.4 277.4 L156.9 281.4 L157.5 284.3 L158.0 285.4 M174.3 285.3 L174.9 283.6 L175.4 279.4 L176.0 273.8 L176.6 270.9 L177.1 273.8 L177.7 279.4 L178.2 283.6 L178.8 285.3 M188.2 285.0 L188.7 282.3 L189.3 275.7 L189.8 266.7 L190.4 262.2 L190.9 266.7 L191.5 275.7 L192.0 282.3 L192.6 285.0" fill="none" stroke="#1a1a1a" stroke-width="1.3" stroke-linejoin="round"/><path d="M136.3 285.4 L136.9 284.1 L137.4 280.8 L138.0 276.3 L138.5 274.1 L139.1 276.3 L139.6 280.8 L140.2 284.1 L140.7 285.4 M177.8 285.3 L178.4 283.5 L178.9 279.1 L179.5 273.2 L180.0 270.3 L180.6 273.2 L181.1 279.1 L181.7 283.5 L182.2 285.3 M181.3 285.2 L181.8 283.1 L182.4 278.1 L182.9 271.4 L183.5 268.0 L184.0 271.4 L184.6 278.1 L185.1 283.1 L185.7 285.2 M184.7 285.3 L185.3 283.4 L185.8 278.9 L186.4 272.8 L186.9 269.8 L187.5 272.8 L188.0 278.9 L188.6 283.4 L189.1 285.3 M198.5 285.3 L199.1 283.5 L199.7 279.2 L200.2 273.3 L200.8 270.3 L201.3 273.3 L201.9 279.2 L202.4 283.5 L203.0 285.3 M202.0 285.2 L202.6 283.2 L203.1 278.3 L203.7 271.6 L204.2 268.3 L204.8 271.6 L205.3 278.3 L205.9 283.2 L206.4 285.2" fill="none" stroke="#e0456e" stroke-width="1.3" stroke-linejoin="round"/><path d="M143.2 285.2 L143.8 283.1 L144.3 278.1 L144.9 271.4 L145.4 268.0 L146.0 271.4 L146.5 278.1 L147.1 283.1 L147.6 285.2 M146.7 285.3 L147.2 283.7 L147.8 279.8 L148.3 274.4 L148.9 271.8 L149.4 274.4 L150.0 279.8 L150.5 283.7 L151.1 285.3 M157.1 285.1 L157.6 282.6 L158.2 276.7 L158.7 268.6 L159.3 264.6 L159.8 268.6 L160.4 276.7 L160.9 282.6 L161.5 285.1 M160.5 285.2 L161.1 283.2 L161.6 278.2 L162.2 271.5 L162.7 268.1 L163.3 271.5 L163.8 278.2 L164.4 283.2 L164.9 285.2 M164.0 285.1 L164.5 282.8 L165.1 277.1 L165.6 269.4 L166.2 265.6 L166.7 269.4 L167.3 277.1 L167.8 282.8 L168.4 285.1 M167.4 285.2 L168.0 283.1 L168.5 278.1 L169.1 271.2 L169.6 267.8 L170.2 271.2 L170.7 278.1 L171.3 283.1 L171.8 285.2 M170.9 285.2 L171.4 283.2 L172.0 278.4 L172.5 271.8 L173.1 268.5 L173.6 271.8 L174.2 278.4 L174.8 283.2 L175.3 285.2 M191.6 285.2 L192.2 283.0 L192.7 277.8 L193.3 270.8 L193.8 267.3 L194.4 270.8 L194.9 277.8 L195.5 283.0 L196.1 285.2 M195.1 285.2 L195.6 283.4 L196.2 278.8 L196.7 272.6 L197.3 269.5 L197.9 272.6 L198.4 278.8 L199.0 283.4 L199.5 285.2" fill="none" stroke="#4a7fd6" stroke-width="1.3" stroke-linejoin="round"/><text x="130.4" y="246.3" font-size="5.0" textLength="75" fill-opacity="0.6"><tspan fill="#3fae49">A</tspan><tspan fill="#1a1a1a">G</tspan><tspan fill="#e0456e">T</tspan><tspan fill="#1a1a1a">G</tspan><tspan fill="#4a7fd6">C</tspan><tspan fill="#4a7fd6">C</tspan><tspan fill="#3fae49">A</tspan><tspan fill="#1a1a1a">G</tspan><tspan fill="#4a7fd6">C</tspan><tspan fill="#4a7fd6">C</tspan><tspan fill="#4a7fd6">C</tspan><tspan fill="#4a7fd6">C</tspan><tspan fill="#4a7fd6">C</tspan><tspan fill="#4a7fd6">C</tspan><tspan fill="#1a1a1a">G</tspan><tspan fill="#e0456e">T</tspan><tspan fill="#e0456e">T</tspan><tspan fill="#e0456e">T</tspan><tspan fill="#1a1a1a">G</tspan><tspan fill="#4a7fd6">C</tspan><tspan fill="#4a7fd6">C</tspan><tspan fill="#e0456e">T</tspan><tspan fill="#e0456e">T</tspan></text><rect x="129.4" y="240.1" width="77" height="46.9" fill="none" stroke="#333" stroke-width="1.0"/><text x="47.6" y="252.6" font-size="5.2" fill="#3fae49" textLength="4.0">60</text><text x="75.8" y="252.6" font-size="5.2" fill="#3fae49" textLength="7.5">160</text><text x="111.6" y="252.6" font-size="5.2" fill="#222" textLength="8.0">170</text><rect x="86.4" y="247.3" width="4.2" height="2.5" fill="#111"/><text x="83.8" y="256.5" font-size="4.6" font-weight="bold" textLength="9.6">G/A</text><text x="144" y="252.7" font-size="4.6" fill="#4a7fd6">170</text><rect x="156.6" y="249" width="15" height="2.5" fill="#111"/><text x="178" y="252.7" font-size="4.6" fill="#e0456e">180</text><line x1="46.4" y1="339.9" x2="122.1" y2="339.9" stroke="#c23a55" stroke-width="0.9"/><path d="M45.9 339.1 L46.4 337.6 L47.0 333.8 L47.5 328.7 L48.1 326.2 L48.7 328.7 L49.2 333.8 L49.8 337.6 L50.3 339.1 M65.6 339.2 L66.2 337.8 L66.7 334.3 L67.3 329.6 L67.8 327.3 L68.4 329.6 L68.9 334.3 L69.5 337.8 L70.1 339.2 M72.2 339.0 L72.8 336.9 L73.3 332.0 L73.9 325.2 L74.4 321.8 L75.0 325.2 L75.5 332.0 L76.1 336.9 L76.6 339.0 M82.1 339.2 L82.6 337.8 L83.2 334.3 L83.7 329.6 L84.3 327.3 L84.8 329.6 L85.4 334.3 L85.9 337.8 L86.5 339.2 M95.2 339.2 L95.8 337.8 L96.3 334.4 L96.9 329.9 L97.5 327.6 L98.0 329.9 L98.6 334.4 L99.1 337.8 L99.7 339.2" fill="none" stroke="#3fae49" stroke-width="1.3" stroke-linejoin="round"/><path d="M49.2 339.1 L49.7 337.3 L50.3 333.1 L50.8 327.3 L51.4 324.4 L51.9 327.3 L52.5 333.1 L53.0 337.3 L53.6 339.1 M52.5 339.1 L53.0 337.3 L53.6 332.9 L54.1 327.0 L54.7 324.1 L55.2 327.0 L55.8 332.9 L56.3 337.3 L56.9 339.1 M62.3 339.1 L62.9 337.4 L63.4 333.2 L64.0 327.6 L64.6 324.8 L65.1 327.6 L65.7 333.2 L66.2 337.4 L66.8 339.1 M75.5 339.1 L76.1 337.3 L76.6 333.1 L77.2 327.4 L77.7 324.5 L78.3 327.4 L78.8 333.1 L79.4 337.3 L79.9 339.1 M78.8 339.1 L79.3 337.3 L79.9 332.9 L80.4 326.9 L81.0 324.0 L81.6 326.9 L82.1 332.9 L82.7 337.3 L83.2 339.1 M101.8 339.0 L102.4 337.1 L102.9 332.3 L103.5 325.8 L104.0 322.5 L104.6 325.8 L105.1 332.3 L105.7 337.1 L106.2 339.0" fill="none" stroke="#4a7fd6" stroke-width="1.3" stroke-linejoin="round"/><path d="M55.8 339.0 L56.3 336.9 L56.9 332.0 L57.4 325.2 L58.0 321.8 L58.5 325.2 L59.1 332.0 L59.6 336.9 L60.2 339.0 M92.0 339.2 L92.5 337.9 L93.1 334.7 L93.6 330.4 L94.2 328.3 L94.7 330.4 L95.3 334.7 L95.8 337.9 L96.4 339.2 M108.4 339.1 L109.0 337.5 L109.5 333.5 L110.1 328.2 L110.6 325.5 L111.2 328.2 L111.7 333.5 L112.3 337.5 L112.8 339.1 M111.7 338.9 L112.2 336.5 L112.8 330.8 L113.4 322.9 L113.9 319.0 L114.5 322.9 L115.0 330.8 L115.6 336.5 L116.1 338.9" fill="none" stroke="#e0456e" stroke-width="1.3" stroke-linejoin="round"/><path d="M59.1 338.9 L59.6 336.6 L60.2 331.1 L60.7 323.5 L61.3 319.8 L61.8 323.5 L62.4 331.1 L62.9 336.6 L63.5 338.9 M68.9 339.3 L69.5 338.4 L70.0 336.3 L70.6 333.4 L71.1 331.9 L71.7 333.4 L72.2 336.3 L72.8 338.4 L73.3 339.3 M85.4 339.4 L85.9 338.7 L86.5 337.0 L87.0 334.7 L87.6 333.5 L88.1 334.7 L88.7 337.0 L89.2 338.7 L89.8 339.4 M88.7 339.1 L89.2 337.3 L89.8 332.9 L90.3 327.0 L90.9 324.1 L91.4 327.0 L92.0 332.9 L92.5 337.3 L93.1 339.1 M98.5 339.4 L99.1 338.6 L99.6 336.7 L100.2 334.0 L100.7 332.7 L101.3 334.0 L101.8 336.7 L102.4 338.6 L103.0 339.4 M105.1 339.3 L105.7 338.2 L106.2 335.6 L106.8 332.1 L107.3 330.4 L107.9 332.1 L108.4 335.6 L109.0 338.2 L109.5 339.3 M115.0 338.8 L115.5 336.0 L116.1 329.2 L116.6 320.0 L117.2 315.4 L117.7 320.0 L118.3 329.2 L118.9 336.0 L119.4 338.8 M118.3 339.3 L118.8 338.1 L119.4 335.2 L119.9 331.4 L120.5 329.5 L121.0 331.4 L121.6 335.2 L122.1 338.1 L122.7 339.3" fill="none" stroke="#1a1a1a" stroke-width="1.3" stroke-linejoin="round"/><text x="46.9" y="300" font-size="5.0" textLength="74.7" fill-opacity="0.6"><tspan fill="#1a1a1a">G</tspan><tspan fill="#4a7fd6">C</tspan><tspan fill="#4a7fd6">C</tspan><tspan fill="#e0456e">T</tspan><tspan fill="#1a1a1a">G</tspan><tspan fill="#4a7fd6">C</tspan><tspan fill="#1a1a1a">G</tspan><tspan fill="#3fae49">A</tspan><tspan fill="#4a7fd6">C</tspan><tspan fill="#4a7fd6">C</tspan><tspan fill="#3fae49">A</tspan><tspan fill="#1a1a1a">G</tspan><tspan fill="#1a1a1a">G</tspan><tspan fill="#e0456e">T</tspan><tspan fill="#3fae49">A</tspan><tspan fill="#1a1a1a">G</tspan><tspan fill="#1a1a1a">G</tspan><tspan fill="#4a7fd6">C</tspan><tspan fill="#e0456e">T</tspan><tspan fill="#e0456e">T</tspan><tspan fill="#1a1a1a">G</tspan><tspan fill="#4a7fd6">C</tspan></text><rect x="45.9" y="293.8" width="76.7" height="47" fill="none" stroke="#333" stroke-width="1.0"/><line x1="129.9" y1="339.9" x2="205.9" y2="339.9" stroke="#c23a55" stroke-width="0.9"/><path d="M129.4 339.0 L129.9 336.8 L130.5 331.5 L131.0 324.4 L131.6 320.8 L132.2 324.4 L132.7 331.5 L133.3 336.8 L133.8 339.0 M150.1 339.3 L150.7 338.4 L151.2 336.2 L151.8 333.3 L152.3 331.8 L152.9 333.3 L153.5 336.2 L154.0 338.4 L154.6 339.3" fill="none" stroke="#3fae49" stroke-width="1.3" stroke-linejoin="round"/><path d="M132.8 339.2 L133.4 337.9 L134.0 334.6 L134.5 330.1 L135.1 327.9 L135.6 330.1 L136.2 334.6 L136.7 337.9 L137.3 339.2 M139.8 338.9 L140.3 336.3 L140.9 330.2 L141.4 321.9 L142.0 317.8 L142.5 321.9 L143.1 330.2 L143.6 336.3 L144.2 338.9 M153.6 339.2 L154.1 337.7 L154.7 334.2 L155.3 329.5 L155.8 327.1 L156.4 329.5 L156.9 334.2 L157.5 337.7 L158.0 339.2 M184.7 339.1 L185.3 337.3 L185.8 333.1 L186.4 327.3 L186.9 324.5 L187.5 327.3 L188.0 333.1 L188.6 337.3 L189.1 339.1 M202.0 339.0 L202.6 337.2 L203.1 332.7 L203.7 326.5 L204.2 323.4 L204.8 326.5 L205.3 332.7 L205.9 337.2 L206.4 339.0" fill="none" stroke="#1a1a1a" stroke-width="1.3" stroke-linejoin="round"/><path d="M136.3 339.2 L136.9 337.8 L137.4 334.3 L138.0 329.7 L138.5 327.3 L139.1 329.7 L139.6 334.3 L140.2 337.8 L140.7 339.2 M174.3 339.1 L174.9 337.3 L175.4 333.0 L176.0 327.2 L176.6 324.3 L177.1 327.2 L177.7 333.0 L178.2 337.3 L178.8 339.1 M181.3 339.1 L181.8 337.2 L182.4 332.8 L182.9 326.8 L183.5 323.8 L184.0 326.8 L184.6 332.8 L185.1 337.2 L185.7 339.1 M188.2 338.8 L188.7 336.1 L189.3 329.5 L189.8 320.6 L190.4 316.1 L190.9 320.6 L191.5 329.5 L192.0 336.1 L192.6 338.8 M191.6 338.9 L192.2 336.6 L192.7 331.1 L193.3 323.6 L193.8 319.8 L194.4 323.6 L194.9 331.1 L195.5 336.6 L196.1 338.9 M195.1 338.9 L195.6 336.6 L196.2 331.0 L196.7 323.3 L197.3 319.5 L197.9 323.3 L198.4 331.0 L199.0 336.6 L199.5 338.9 M198.5 339.1 L199.1 337.4 L199.7 333.4 L200.2 327.9 L200.8 325.1 L201.3 327.9 L201.9 333.4 L202.4 337.4 L203.0 339.1" fill="none" stroke="#e0456e" stroke-width="1.3" stroke-linejoin="round"/><path d="M143.2 338.9 L143.8 336.7 L144.3 331.2 L144.9 323.7 L145.4 319.9 L146.0 323.7 L146.5 331.2 L147.1 336.7 L147.6 338.9 M146.7 339.1 L147.2 337.6 L147.8 333.8 L148.3 328.7 L148.9 326.1 L149.4 328.7 L150.0 333.8 L150.5 337.6 L151.1 339.1 M157.1 338.9 L157.6 336.6 L158.2 330.9 L158.7 323.2 L159.3 319.3 L159.8 323.2 L160.4 330.9 L160.9 336.6 L161.5 338.9 M160.5 338.9 L161.1 336.4 L161.6 330.3 L162.2 322.1 L162.7 318.0 L163.3 322.1 L163.8 330.3 L164.4 336.4 L164.9 338.9 M164.0 339.0 L164.5 336.9 L165.1 331.8 L165.6 324.9 L166.2 321.4 L166.7 324.9 L167.3 331.8 L167.8 336.9 L168.4 339.0 M167.4 338.9 L168.0 336.6 L168.5 330.9 L169.1 323.3 L169.6 319.4 L170.2 323.3 L170.7 330.9 L171.3 336.6 L171.8 338.9 M170.9 339.0 L171.4 337.1 L172.0 332.5 L172.5 326.2 L173.1 323.0 L173.6 326.2 L174.2 332.5 L174.8 337.1 L175.3 339.0 M177.8 339.1 L178.4 337.6 L178.9 333.9 L179.5 328.8 L180.0 326.2 L180.6 328.8 L181.1 333.9 L181.7 337.6 L182.2 339.1" fill="none" stroke="#4a7fd6" stroke-width="1.3" stroke-linejoin="round"/><text x="130.4" y="300" font-size="5.0" textLength="75" fill-opacity="0.6"><tspan fill="#3fae49">A</tspan><tspan fill="#1a1a1a">G</tspan><tspan fill="#e0456e">T</tspan><tspan fill="#1a1a1a">G</tspan><tspan fill="#4a7fd6">C</tspan><tspan fill="#4a7fd6">C</tspan><tspan fill="#3fae49">A</tspan><tspan fill="#1a1a1a">G</tspan><tspan fill="#4a7fd6">C</tspan><tspan fill="#4a7fd6">C</tspan><tspan fill="#4a7fd6">C</tspan><tspan fill="#4a7fd6">C</tspan><tspan fill="#e0456e">N</tspan><tspan fill="#e0456e">T</tspan><tspan fill="#e0456e">T</tspan><tspan fill="#e0456e">T</tspan><tspan fill="#3fae49">A</tspan><tspan fill="#e0456e">N</tspan><tspan fill="#4a7fd6">C</tspan><tspan fill="#e0456e">N</tspan><tspan fill="#e0456e">N</tspan><tspan fill="#e0456e">N</tspan></text><rect x="129.4" y="293.8" width="77" height="47" fill="none" stroke="#333" stroke-width="1.0"/><text x="47.6" y="306.3" font-size="5.2" fill="#3fae49" textLength="4.0">60</text><text x="75.8" y="306.3" font-size="5.2" fill="#3fae49" textLength="7.5">160</text><text x="111.6" y="306.3" font-size="5.2" fill="#222" textLength="8.0">170</text><rect x="86.4" y="301" width="4.2" height="2.5" fill="#111"/><text x="132.5" y="306.4" font-size="4.6" fill="#e0456e">170</text><rect x="156.6" y="302.7" width="15" height="2.5" fill="#111"/><text x="169.8" y="309.7" font-size="4.5" font-weight="bold" textLength="34.7">CGTTTGCCTT</text><text x="169.8" y="314.9" font-size="4.5" font-weight="bold" textLength="34.7">GTTTGCCTTC</text><line x1="46.4" y1="394.1" x2="122.1" y2="394.1" stroke="#c23a55" stroke-width="0.9"/><path d="M45.9 393.3 L46.4 391.8 L47.0 387.9 L47.5 382.7 L48.1 380.1 L48.7 382.7 L49.2 387.9 L49.8 391.8 L50.3 393.3 M65.6 393.5 L66.2 392.3 L66.7 389.5 L67.3 385.6 L67.8 383.7 L68.4 385.6 L68.9 389.5 L69.5 392.3 L70.1 393.5 M72.2 393.1 L72.8 390.7 L73.3 385.0 L73.9 377.2 L74.4 373.3 L75.0 377.2 L75.5 385.0 L76.1 390.7 L76.6 393.1 M82.1 393.4 L82.6 392.2 L83.2 389.1 L83.7 384.9 L84.3 382.8 L84.8 384.9 L85.4 389.1 L85.9 392.2 L86.5 393.4 M95.2 393.4 L95.8 392.3 L96.3 389.4 L96.9 385.4 L97.5 383.5 L98.0 385.4 L98.6 389.4 L99.1 392.3 L99.7 393.4" fill="none" stroke="#3fae49" stroke-width="1.3" stroke-linejoin="round"/><path d="M49.2 393.2 L49.7 391.1 L50.3 386.2 L50.8 379.4 L51.4 376.0 L51.9 379.4 L52.5 386.2 L53.0 391.1 L53.6 393.2 M52.5 393.3 L53.0 391.4 L53.6 387.0 L54.1 381.0 L54.7 378.0 L55.2 381.0 L55.8 387.0 L56.3 391.4 L56.9 393.3 M62.3 393.3 L62.9 391.8 L63.4 387.9 L64.0 382.7 L64.6 380.1 L65.1 382.7 L65.7 387.9 L66.2 391.8 L66.8 393.3 M75.5 393.4 L76.1 391.8 L76.6 388.2 L77.2 383.2 L77.7 380.7 L78.3 383.2 L78.8 388.2 L79.4 391.8 L79.9 393.4 M78.8 393.3 L79.3 391.4 L79.9 386.9 L80.4 380.8 L81.0 377.7 L81.6 380.8 L82.1 386.9 L82.7 391.4 L83.2 393.3 M101.8 393.3 L102.4 391.5 L102.9 387.3 L103.5 381.6 L104.0 378.7 L104.6 381.6 L105.1 387.3 L105.7 391.5 L106.2 393.3" fill="none" stroke="#4a7fd6" stroke-width="1.3" stroke-linejoin="round"/><path d="M55.8 393.2 L56.3 391.3 L56.9 386.7 L57.4 380.5 L58.0 377.3 L58.5 380.5 L59.1 386.7 L59.6 391.3 L60.2 393.2 M92.0 393.4 L92.5 392.2 L93.1 389.1 L93.6 385.0 L94.2 382.9 L94.7 385.0 L95.3 389.1 L95.8 392.2 L96.4 393.4 M108.4 393.3 L109.0 391.5 L109.5 387.2 L110.1 381.4 L110.6 378.5 L111.2 381.4 L111.7 387.2 L112.3 391.5 L112.8 393.3 M111.7 393.1 L112.2 390.8 L112.8 385.2 L113.4 377.6 L113.9 373.8 L114.5 377.6 L115.0 385.2 L115.6 390.8 L116.1 393.1" fill="none" stroke="#e0456e" stroke-width="1.3" stroke-linejoin="round"/><path d="M59.1 393.0 L59.6 390.2 L60.2 383.6 L60.7 374.5 L61.3 370.0 L61.8 374.5 L62.4 383.6 L62.9 390.2 L63.5 393.0 M68.9 393.5 L69.5 392.5 L70.0 390.0 L70.6 386.7 L71.1 385.1 L71.7 386.7 L72.2 390.0 L72.8 392.5 L73.3 393.5 M85.4 393.6 L85.9 392.9 L86.5 391.2 L87.0 388.8 L87.6 387.7 L88.1 388.8 L88.7 391.2 L89.2 392.9 L89.8 393.6 M88.7 393.3 L89.2 391.7 L89.8 387.8 L90.3 382.5 L90.9 379.8 L91.4 382.5 L92.0 387.8 L92.5 391.7 L93.1 393.3 M98.5 393.5 L99.1 392.6 L99.6 390.4 L100.2 387.4 L100.7 385.8 L101.3 387.4 L101.8 390.4 L102.4 392.6 L103.0 393.5 M105.1 393.4 L105.7 392.2 L106.2 389.1 L106.8 384.9 L107.3 382.8 L107.9 384.9 L108.4 389.1 L109.0 392.2 L109.5 393.4 M115.0 393.0 L115.5 390.4 L116.1 384.0 L116.6 375.3 L117.2 371.0 L117.7 375.3 L118.3 384.0 L118.9 390.4 L119.4 393.0 M118.3 393.4 L118.8 392.2 L119.4 389.1 L119.9 384.9 L120.5 382.8 L121.0 384.9 L121.6 389.1 L122.1 392.2 L122.7 393.4" fill="none" stroke="#1a1a1a" stroke-width="1.3" stroke-linejoin="round"/><text x="46.9" y="353.8" font-size="5.0" textLength="74.7" fill-opacity="0.6"><tspan fill="#1a1a1a">G</tspan><tspan fill="#4a7fd6">C</tspan><tspan fill="#4a7fd6">C</tspan><tspan fill="#e0456e">T</tspan><tspan fill="#1a1a1a">G</tspan><tspan fill="#4a7fd6">C</tspan><tspan fill="#1a1a1a">G</tspan><tspan fill="#3fae49">A</tspan><tspan fill="#4a7fd6">C</tspan><tspan fill="#4a7fd6">C</tspan><tspan fill="#3fae49">A</tspan><tspan fill="#1a1a1a">G</tspan><tspan fill="#e0456e">N</tspan><tspan fill="#e0456e">T</tspan><tspan fill="#3fae49">A</tspan><tspan fill="#1a1a1a">G</tspan><tspan fill="#1a1a1a">G</tspan><tspan fill="#4a7fd6">C</tspan><tspan fill="#e0456e">T</tspan><tspan fill="#e0456e">T</tspan><tspan fill="#1a1a1a">G</tspan><tspan fill="#4a7fd6">C</tspan></text><rect x="45.9" y="347.6" width="76.7" height="47.4" fill="none" stroke="#333" stroke-width="1.0"/><line x1="129.9" y1="394.1" x2="205.9" y2="394.1" stroke="#c23a55" stroke-width="0.9"/><path d="M129.4 393.1 L129.9 390.9 L130.5 385.5 L131.0 378.2 L131.6 374.5 L132.2 378.2 L132.7 385.5 L133.3 390.9 L133.8 393.1 M150.1 393.5 L150.7 392.5 L151.2 390.0 L151.8 386.6 L152.3 384.9 L152.9 386.6 L153.5 390.0 L154.0 392.5 L154.6 393.5" fill="none" stroke="#3fae49" stroke-width="1.3" stroke-linejoin="round"/><path d="M132.8 393.4 L133.4 391.9 L134.0 388.5 L134.5 383.7 L135.1 381.4 L135.6 383.7 L136.2 388.5 L136.7 391.9 L137.3 393.4 M139.8 393.0 L140.3 390.1 L140.9 383.1 L141.4 373.6 L142.0 368.9 L142.5 373.6 L143.1 383.1 L143.6 390.1 L144.2 393.0 M153.6 393.4 L154.1 391.9 L154.7 388.4 L155.3 383.7 L155.8 381.3 L156.4 383.7 L156.9 388.4 L157.5 391.9 L158.0 393.4 M177.8 393.4 L178.4 392.0 L178.9 388.7 L179.5 384.2 L180.0 381.9 L180.6 384.2 L181.1 388.7 L181.7 392.0 L182.2 393.4 M184.7 393.1 L185.3 390.9 L185.8 385.5 L186.4 378.1 L186.9 374.5 L187.5 378.1 L188.0 385.5 L188.6 390.9 L189.1 393.1 M195.1 393.1 L195.6 390.5 L196.2 384.4 L196.7 376.1 L197.3 371.9 L197.9 376.1 L198.4 384.4 L199.0 390.5 L199.5 393.1" fill="none" stroke="#1a1a1a" stroke-width="1.3" stroke-linejoin="round"/><path d="M136.3 393.4 L136.9 392.0 L137.4 388.5 L138.0 383.8 L138.5 381.5 L139.1 383.8 L139.6 388.5 L140.2 392.0 L140.7 393.4 M174.3 393.3 L174.9 391.5 L175.4 387.1 L176.0 381.2 L176.6 378.3 L177.1 381.2 L177.7 387.1 L178.2 391.5 L178.8 393.3 M181.3 393.2 L181.8 391.1 L182.4 385.9 L182.9 378.9 L183.5 375.5 L184.0 378.9 L184.6 385.9 L185.1 391.1 L185.7 393.2 M191.6 393.1 L192.2 390.7 L192.7 384.9 L193.3 376.9 L193.8 373.0 L194.4 376.9 L194.9 384.9 L195.5 390.7 L196.1 393.1 M198.5 393.4 L199.1 391.8 L199.7 388.2 L200.2 383.2 L200.8 380.7 L201.3 383.2 L201.9 388.2 L202.4 391.8 L203.0 393.4 M202.0 393.3 L202.6 391.6 L203.1 387.4 L203.7 381.7 L204.2 378.9 L204.8 381.7 L205.3 387.4 L205.9 391.6 L206.4 393.3" fill="none" stroke="#e0456e" stroke-width="1.3" stroke-linejoin="round"/><path d="M143.2 393.1 L143.8 390.9 L144.3 385.6 L144.9 378.3 L145.4 374.7 L146.0 378.3 L146.5 385.6 L147.1 390.9 L147.6 393.1 M146.7 393.3 L147.2 391.7 L147.8 387.6 L148.3 382.2 L148.9 379.4 L149.4 382.2 L150.0 387.6 L150.5 391.7 L151.1 393.3 M157.1 393.1 L157.6 390.9 L158.2 385.5 L158.7 378.2 L159.3 374.6 L159.8 378.2 L160.4 385.5 L160.9 390.9 L161.5 393.1 M160.5 393.1 L161.1 390.7 L161.6 384.8 L162.2 376.9 L162.7 372.9 L163.3 376.9 L163.8 384.8 L164.4 390.7 L164.9 393.1 M164.0 393.2 L164.5 391.4 L165.1 386.8 L165.6 380.6 L166.2 377.4 L166.7 380.6 L167.3 386.8 L167.8 391.4 L168.4 393.2 M167.4 393.2 L168.0 391.0 L168.5 385.9 L169.1 378.8 L169.6 375.3 L170.2 378.8 L170.7 385.9 L171.3 391.0 L171.8 393.2 M170.9 393.3 L171.4 391.7 L172.0 387.7 L172.5 382.4 L173.1 379.7 L173.6 382.4 L174.2 387.7 L174.8 391.7 L175.3 393.3 M188.2 393.1 L188.7 390.6 L189.3 384.5 L189.8 376.2 L190.4 372.1 L190.9 376.2 L191.5 384.5 L192.0 390.6 L192.6 393.1" fill="none" stroke="#4a7fd6" stroke-width="1.3" stroke-linejoin="round"/><text x="130.4" y="353.8" font-size="5.0" textLength="75" fill-opacity="0.6"><tspan fill="#3fae49">A</tspan><tspan fill="#1a1a1a">G</tspan><tspan fill="#e0456e">T</tspan><tspan fill="#1a1a1a">G</tspan><tspan fill="#4a7fd6">C</tspan><tspan fill="#4a7fd6">C</tspan><tspan fill="#3fae49">A</tspan><tspan fill="#1a1a1a">G</tspan><tspan fill="#4a7fd6">C</tspan><tspan fill="#4a7fd6">C</tspan><tspan fill="#4a7fd6">C</tspan><tspan fill="#4a7fd6">C</tspan><tspan fill="#e0456e">N</tspan><tspan fill="#e0456e">N</tspan><tspan fill="#e0456e">T</tspan><tspan fill="#e0456e">T</tspan><tspan fill="#e0456e">N</tspan><tspan fill="#1a1a1a">G</tspan><tspan fill="#4a7fd6">C</tspan><tspan fill="#e0456e">N</tspan><tspan fill="#e0456e">T</tspan><tspan fill="#e0456e">N</tspan></text><rect x="129.4" y="347.6" width="77" height="47.4" fill="none" stroke="#333" stroke-width="1.0"/><text x="45.7" y="360.1" font-size="5.2" fill="#e0456e" textLength="2.2">0</text><text x="74.2" y="360.1" font-size="5.2" fill="#4a7fd6" textLength="8.5">160</text><text x="108.2" y="360.1" font-size="5.2" fill="#e0456e" textLength="8.8">170</text><rect x="86.4" y="354.8" width="4.2" height="2.5" fill="#111"/><text x="83.8" y="364" font-size="4.6" font-weight="bold" textLength="9.6">G/A</text><text x="138" y="360.2" font-size="4.6" fill="#333">160</text><rect x="156.6" y="356.5" width="15" height="2.5" fill="#111"/><text x="169.8" y="363.5" font-size="4.5" font-weight="bold" textLength="34.7">CGTTTGCCTT</text><text x="169.8" y="368.7" font-size="4.5" font-weight="bold" textLength="34.7">GTTTGCCTTC</text><line x1="46.4" y1="447.9" x2="122.1" y2="447.9" stroke="#c23a55" stroke-width="0.9"/><path d="M45.9 447.2 L46.4 445.8 L47.0 442.4 L47.5 437.7 L48.1 435.4 L48.7 437.7 L49.2 442.4 L49.8 445.8 L50.3 447.2 M65.6 447.2 L66.2 446.0 L66.7 443.1 L67.3 439.1 L67.8 437.1 L68.4 439.1 L68.9 443.1 L69.5 446.0 L70.1 447.2 M72.2 446.9 L72.8 444.6 L73.3 439.0 L73.9 431.4 L74.4 427.6 L75.0 431.4 L75.5 439.0 L76.1 444.6 L76.6 446.9 M82.1 447.2 L82.6 445.9 L83.2 442.7 L83.7 438.3 L84.3 436.1 L84.8 438.3 L85.4 442.7 L85.9 445.9 L86.5 447.2 M95.2 447.2 L95.8 446.0 L96.3 443.0 L96.9 438.8 L97.5 436.8 L98.0 438.8 L98.6 443.0 L99.1 446.0 L99.7 447.2" fill="none" stroke="#3fae49" stroke-width="1.3" stroke-linejoin="round"/><path d="M49.2 447.0 L49.7 444.9 L50.3 439.9 L50.8 433.2 L51.4 429.8 L51.9 433.2 L52.5 439.9 L53.0 444.9 L53.6 447.0 M52.5 447.0 L53.0 444.9 L53.6 439.8 L54.1 432.9 L54.7 429.5 L55.2 432.9 L55.8 439.8 L56.3 444.9 L56.9 447.0 M62.3 447.1 L62.9 445.6 L63.4 441.8 L64.0 436.7 L64.6 434.2 L65.1 436.7 L65.7 441.8 L66.2 445.6 L66.8 447.1 M75.5 447.1 L76.1 445.4 L76.6 441.2 L77.2 435.5 L77.7 432.7 L78.3 435.5 L78.8 441.2 L79.4 445.4 L79.9 447.1 M78.8 447.0 L79.3 445.2 L79.9 440.6 L80.4 434.4 L81.0 431.3 L81.6 434.4 L82.1 440.6 L82.7 445.2 L83.2 447.0 M101.8 447.0 L102.4 444.9 L102.9 439.9 L103.5 433.0 L104.0 429.6 L104.6 433.0 L105.1 439.9 L105.7 444.9 L106.2 447.0" fill="none" stroke="#4a7fd6" stroke-width="1.3" stroke-linejoin="round"/><path d="M55.8 447.1 L56.3 445.3 L56.9 440.9 L57.4 435.0 L58.0 432.0 L58.5 435.0 L59.1 440.9 L59.6 445.3 L60.2 447.1 M92.0 447.2 L92.5 446.0 L93.1 442.9 L93.6 438.7 L94.2 436.6 L94.7 438.7 L95.3 442.9 L95.8 446.0 L96.4 447.2 M108.4 447.0 L109.0 445.1 L109.5 440.5 L110.1 434.3 L110.6 431.1 L111.2 434.3 L111.7 440.5 L112.3 445.1 L112.8 447.0 M111.7 447.1 L112.2 445.3 L112.8 441.0 L113.4 435.2 L113.9 432.3 L114.5 435.2 L115.0 441.0 L115.6 445.3 L116.1 447.1" fill="none" stroke="#e0456e" stroke-width="1.3" stroke-linejoin="round"/><path d="M59.1 446.8 L59.6 444.0 L60.2 437.4 L60.7 428.4 L61.3 423.8 L61.8 428.4 L62.4 437.4 L62.9 444.0 L63.5 446.8 M68.9 447.3 L69.5 446.5 L70.0 444.4 L70.6 441.6 L71.1 440.2 L71.7 441.6 L72.2 444.4 L72.8 446.5 L73.3 447.3 M85.4 447.4 L85.9 446.8 L86.5 445.3 L87.0 443.2 L87.6 442.1 L88.1 443.2 L88.7 445.3 L89.2 446.8 L89.8 447.4 M88.7 447.1 L89.2 445.3 L89.8 441.1 L90.3 435.3 L90.9 432.4 L91.4 435.3 L92.0 441.1 L92.5 445.3 L93.1 447.1 M98.5 447.3 L99.1 446.5 L99.6 444.3 L100.2 441.4 L100.7 440.0 L101.3 441.4 L101.8 444.3 L102.4 446.5 L103.0 447.3 M105.1 447.2 L105.7 446.0 L106.2 442.9 L106.8 438.8 L107.3 436.7 L107.9 438.8 L108.4 442.9 L109.0 446.0 L109.5 447.2 M115.0 446.8 L115.5 443.9 L116.1 436.9 L116.6 427.4 L117.2 422.7 L117.7 427.4 L118.3 436.9 L118.9 443.9 L119.4 446.8 M118.3 447.2 L118.8 445.9 L119.4 442.8 L119.9 438.6 L120.5 436.5 L121.0 438.6 L121.6 442.8 L122.1 445.9 L122.7 447.2" fill="none" stroke="#1a1a1a" stroke-width="1.3" stroke-linejoin="round"/><text x="46.9" y="407.5" font-size="5.0" textLength="74.7" fill-opacity="0.6"><tspan fill="#1a1a1a">G</tspan><tspan fill="#4a7fd6">C</tspan><tspan fill="#4a7fd6">C</tspan><tspan fill="#e0456e">T</tspan><tspan fill="#1a1a1a">G</tspan><tspan fill="#4a7fd6">C</tspan><tspan fill="#1a1a1a">G</tspan><tspan fill="#3fae49">A</tspan><tspan fill="#4a7fd6">C</tspan><tspan fill="#4a7fd6">C</tspan><tspan fill="#3fae49">A</tspan><tspan fill="#1a1a1a">G</tspan><tspan fill="#1a1a1a">G</tspan><tspan fill="#e0456e">T</tspan><tspan fill="#3fae49">A</tspan><tspan fill="#1a1a1a">G</tspan><tspan fill="#1a1a1a">G</tspan><tspan fill="#4a7fd6">C</tspan><tspan fill="#e0456e">T</tspan><tspan fill="#e0456e">T</tspan><tspan fill="#1a1a1a">G</tspan><tspan fill="#4a7fd6">C</tspan></text><rect x="45.9" y="401.3" width="76.7" height="47.5" fill="none" stroke="#333" stroke-width="1.0"/><line x1="129.9" y1="447.9" x2="205.9" y2="447.9" stroke="#c23a55" stroke-width="0.9"/><path d="M129.4 447.0 L129.9 444.8 L130.5 439.4 L131.0 432.2 L131.6 428.6 L132.2 432.2 L132.7 439.4 L133.3 444.8 L133.8 447.0 M150.1 447.3 L150.7 446.1 L151.2 443.4 L151.8 439.7 L152.3 437.9 L152.9 439.7 L153.5 443.4 L154.0 446.1 L154.6 447.3" fill="none" stroke="#3fae49" stroke-width="1.3" stroke-linejoin="round"/><path d="M132.8 447.2 L133.4 445.9 L134.0 442.8 L134.5 438.6 L135.1 436.4 L135.6 438.6 L136.2 442.8 L136.7 445.9 L137.3 447.2 M139.8 446.7 L140.3 443.8 L140.9 436.6 L141.4 426.8 L142.0 421.9 L142.5 426.8 L143.1 436.6 L143.6 443.8 L144.2 446.7 M153.6 447.3 L154.1 446.1 L154.7 443.2 L155.3 439.3 L155.8 437.4 L156.4 439.3 L156.9 443.2 L157.5 446.1 L158.0 447.3 M177.8 447.1 L178.4 445.5 L178.9 441.7 L179.5 436.4 L180.0 433.8 L180.6 436.4 L181.1 441.7 L181.7 445.5 L182.2 447.1 M184.7 446.9 L185.3 444.6 L185.8 438.9 L186.4 431.2 L186.9 427.3 L187.5 431.2 L188.0 438.9 L188.6 444.6 L189.1 446.9 M188.2 446.7 L188.7 443.6 L189.3 436.0 L189.8 425.7 L190.4 420.6 L190.9 425.7 L191.5 436.0 L192.0 443.6 L192.6 446.7" fill="none" stroke="#1a1a1a" stroke-width="1.3" stroke-linejoin="round"/><path d="M136.3 447.2 L136.9 445.9 L137.4 442.8 L138.0 438.6 L138.5 436.4 L139.1 438.6 L139.6 442.8 L140.2 445.9 L140.7 447.2 M174.3 447.2 L174.9 445.7 L175.4 442.1 L176.0 437.3 L176.6 434.8 L177.1 437.3 L177.7 442.1 L178.2 445.7 L178.8 447.2 M181.3 447.1 L181.8 445.3 L182.4 440.8 L182.9 434.9 L183.5 431.9 L184.0 434.9 L184.6 440.8 L185.1 445.3 L185.7 447.1 M191.6 446.9 L192.2 444.6 L192.7 439.0 L193.3 431.5 L193.8 427.7 L194.4 431.5 L194.9 439.0 L195.5 444.6 L196.1 446.9 M195.1 447.0 L195.6 445.0 L196.2 440.1 L196.7 433.5 L197.3 430.2 L197.9 433.5 L198.4 440.1 L199.0 445.0 L199.5 447.0 M198.5 447.1 L199.1 445.3 L199.7 440.9 L200.2 434.9 L200.8 431.9 L201.3 434.9 L201.9 440.9 L202.4 445.3 L203.0 447.1 M202.0 446.9 L202.6 444.5 L203.1 438.7 L203.7 430.9 L204.2 426.9 L204.8 430.9 L205.3 438.7 L205.9 444.5 L206.4 446.9" fill="none" stroke="#e0456e" stroke-width="1.3" stroke-linejoin="round"/><path d="M143.2 447.0 L143.8 444.8 L144.3 439.6 L144.9 432.6 L145.4 429.0 L146.0 432.6 L146.5 439.6 L147.1 444.8 L147.6 447.0 M146.7 447.2 L147.2 445.7 L147.8 442.1 L148.3 437.2 L148.9 434.7 L149.4 437.2 L150.0 442.1 L150.5 445.7 L151.1 447.2 M157.1 447.0 L157.6 444.9 L158.2 440.0 L158.7 433.2 L159.3 429.8 L159.8 433.2 L160.4 440.0 L160.9 444.9 L161.5 447.0 M160.5 447.0 L161.1 444.9 L161.6 439.8 L162.2 432.9 L162.7 429.4 L163.3 432.9 L163.8 439.8 L164.4 444.9 L164.9 447.0 M164.0 447.0 L164.5 445.1 L165.1 440.4 L165.6 434.0 L166.2 430.7 L166.7 434.0 L167.3 440.4 L167.8 445.1 L168.4 447.0 M167.4 447.0 L168.0 445.1 L168.5 440.5 L169.1 434.2 L169.6 431.1 L170.2 434.2 L170.7 440.5 L171.3 445.1 L171.8 447.0 M170.9 447.0 L171.4 445.0 L172.0 440.0 L172.5 433.3 L173.1 429.9 L173.6 433.3 L174.2 440.0 L174.8 445.0 L175.3 447.0" fill="none" stroke="#4a7fd6" stroke-width="1.3" stroke-linejoin="round"/><text x="130.4" y="407.5" font-size="5.0" textLength="75" fill-opacity="0.6"><tspan fill="#3fae49">A</tspan><tspan fill="#1a1a1a">G</tspan><tspan fill="#e0456e">T</tspan><tspan fill="#1a1a1a">G</tspan><tspan fill="#4a7fd6">C</tspan><tspan fill="#4a7fd6">C</tspan><tspan fill="#3fae49">A</tspan><tspan fill="#1a1a1a">G</tspan><tspan fill="#4a7fd6">C</tspan><tspan fill="#4a7fd6">C</tspan><tspan fill="#4a7fd6">C</tspan><tspan fill="#4a7fd6">C</tspan><tspan fill="#e0456e">N</tspan><tspan fill="#e0456e">N</tspan><tspan fill="#1a1a1a"> </tspan><tspan fill="#e0456e">T</tspan><tspan fill="#e0456e">N</tspan><tspan fill="#1a1a1a">G</tspan><tspan fill="#4a7fd6">C</tspan><tspan fill="#e0456e">N</tspan><tspan fill="#e0456e">T</tspan><tspan fill="#e0456e">N</tspan></text><rect x="129.4" y="401.3" width="77" height="47.5" fill="none" stroke="#333" stroke-width="1.0"/><text x="45.7" y="413.8" font-size="5.2" fill="#e0456e" textLength="2.2">0</text><text x="74.2" y="413.8" font-size="5.2" fill="#4a7fd6" textLength="8.5">160</text><text x="108.2" y="413.8" font-size="5.2" fill="#e0456e" textLength="8.8">170</text><rect x="86.4" y="408.5" width="4.2" height="2.5" fill="#111"/><text x="138" y="413.9" font-size="4.6" fill="#4a7fd6">170</text><rect x="156.6" y="410.2" width="15" height="2.5" fill="#111"/><text x="169.8" y="417.2" font-size="4.5" font-weight="bold" textLength="34.7">CGTTTGCCTT</text><text x="169.8" y="422.4" font-size="4.5" font-weight="bold" textLength="34.7">GTTTGCCTTC</text><text x="-0.2" y="479" font-size="18.5" font-weight="bold">D</text><text x="48.2" y="487.8" font-size="9.6" textLength="44.2">D9S1198</text><text x="113.3" y="488.3" font-size="9.6" textLength="40.9">HUMARA</text><text x="183.9" y="483.7" font-size="9.6" textLength="23.6">HO-1</text><text x="174.4" y="491.5" font-size="9.6" textLength="43.1">promoter</text><text x="1" y="518.1" font-size="9.6" textLength="32.4">Mother</text><text x="1" y="553" font-size="9.6" textLength="32.2">Patient</text><text x="1" y="567" font-size="9.6" textLength="25.8">CD18</text><text x="27.7" y="565" font-size="5">+</text><text x="1" y="595.3" font-size="9.6" textLength="32.2">Patient</text><text x="1" y="608.6" font-size="9.6" textLength="25.8">CD18</text><text x="26.9" y="605" font-size="5.6">-</text><text x="100" y="632.6" font-size="9.6" textLength="65.6">Molecular size</text><path d="M70.24 532.7 L71.07 522.1 L71.65 505.5 L71.90 502.5 L72.15 505.5 L72.73 522.1 L73.56 532.7ZM77.34 532.7 L78.17 524.6 L78.75 511.8 L79.00 509.5 L79.25 511.8 L79.83 524.6 L80.66 532.7ZM65.80 532.7 L66.70 531.9 L67.33 530.7 L67.60 530.5 L67.87 530.7 L68.50 531.9 L69.40 532.7ZM73.80 532.7 L74.55 531.9 L75.08 530.7 L75.30 530.5 L75.52 530.7 L76.05 531.9 L76.80 532.7Z" fill="#111"/><line x1="42.2" y1="532.7" x2="99.3" y2="532.7" stroke="#111" stroke-width="0.8"/><path d="M45.7 527.7 l0.6 1.5 l-0.8 1.6 l0.9 1.8" fill="none" stroke="#e0456e" stroke-width="0.6"/><path d="M95.3 527.7 l0.6 1.5 l-0.8 1.6 l0.9 1.8" fill="none" stroke="#e0456e" stroke-width="0.6"/><rect x="41.7" y="496" width="58.1" height="37.5" fill="none" stroke="#444" stroke-width="1.1"/><path d="M132.30 532.7 L133.50 521.7 L134.34 504.5 L134.70 501.4 L135.06 504.5 L135.90 521.7 L137.10 532.7ZM129.30 532.7 L130.90 529.3 L132.02 524.0 L132.50 523.0 L132.98 524.0 L134.10 529.3 L135.70 532.7ZM124.50 532.7 L127.00 531.4 L128.75 529.4 L129.50 529.0 L130.25 529.4 L132.00 531.4 L134.50 532.7ZM154.20 532.7 L155.25 525.3 L155.99 513.6 L156.30 511.5 L156.62 513.6 L157.35 525.3 L158.40 532.7ZM151.00 532.7 L152.50 530.7 L153.55 527.6 L154.00 527.0 L154.45 527.6 L155.50 530.7 L157.00 532.7ZM147.90 532.7 L149.70 531.8 L150.96 530.3 L151.50 530.0 L152.04 530.3 L153.30 531.8 L155.10 532.7Z" fill="#111"/><line x1="104.9" y1="532.7" x2="162.7" y2="532.7" stroke="#111" stroke-width="0.8"/><path d="M108.4 527.7 l0.6 1.5 l-0.8 1.6 l0.9 1.8" fill="none" stroke="#e0456e" stroke-width="0.6"/><path d="M158.7 527.7 l0.6 1.5 l-0.8 1.6 l0.9 1.8" fill="none" stroke="#e0456e" stroke-width="0.6"/><rect x="104.4" y="496" width="58.8" height="37.5" fill="none" stroke="#444" stroke-width="1.1"/><path d="M169.60 532.7 L170.50 531.8 L171.13 530.3 L171.40 530.0 L171.67 530.3 L172.30 531.8 L173.20 532.7ZM179.50 532.7 L182.50 531.6 L184.60 529.8 L185.50 529.5 L186.40 529.8 L188.50 531.6 L191.50 532.7ZM189.64 532.7 L190.47 526.9 L191.05 517.7 L191.30 516.0 L191.55 517.7 L192.13 526.9 L192.96 532.7ZM192.50 532.7 L193.40 521.7 L194.03 504.5 L194.30 501.4 L194.57 504.5 L195.20 521.7 L196.10 532.7ZM187.10 532.7 L188.30 530.7 L189.14 527.6 L189.50 527.0 L189.86 527.6 L190.70 530.7 L191.90 532.7ZM207.90 532.7 L208.65 530.6 L209.18 527.3 L209.40 526.7 L209.62 527.3 L210.15 530.6 L210.90 532.7ZM211.00 532.7 L211.75 527.4 L212.28 519.1 L212.50 517.6 L212.72 519.1 L213.25 527.4 L214.00 532.7ZM213.40 532.7 L214.30 525.8 L214.93 514.9 L215.20 512.9 L215.47 514.9 L216.10 525.8 L217.00 532.7Z" fill="#111"/><line x1="167.6" y1="532.7" x2="225.3" y2="532.7" stroke="#111" stroke-width="0.8"/><path d="M171.1 527.7 l0.6 1.5 l-0.8 1.6 l0.9 1.8" fill="none" stroke="#e0456e" stroke-width="0.6"/><path d="M221.3 527.7 l0.6 1.5 l-0.8 1.6 l0.9 1.8" fill="none" stroke="#e0456e" stroke-width="0.6"/><rect x="167.1" y="496" width="58.7" height="37.5" fill="none" stroke="#444" stroke-width="1.1"/><path d="M69.74 574.8 L70.57 563.8 L71.15 546.6 L71.40 543.5 L71.65 546.6 L72.23 563.8 L73.06 574.8ZM73.44 574.8 L74.27 566.6 L74.85 553.8 L75.10 551.5 L75.35 553.8 L75.93 566.6 L76.76 574.8ZM65.80 574.8 L66.55 573.8 L67.08 572.3 L67.30 572.0 L67.52 572.3 L68.05 573.8 L68.80 574.8Z" fill="#111"/><line x1="42.2" y1="574.8" x2="99.3" y2="574.8" stroke="#111" stroke-width="0.8"/><path d="M45.7 569.8 l0.6 1.5 l-0.8 1.6 l0.9 1.8" fill="none" stroke="#e0456e" stroke-width="0.6"/><path d="M95.3 569.8 l0.6 1.5 l-0.8 1.6 l0.9 1.8" fill="none" stroke="#e0456e" stroke-width="0.6"/><rect x="41.7" y="537.9" width="58.1" height="37.7" fill="none" stroke="#444" stroke-width="1.1"/><path d="M133.20 574.8 L134.25 565.4 L134.99 550.6 L135.30 547.9 L135.62 550.6 L136.35 565.4 L137.40 574.8ZM129.40 574.8 L131.20 572.1 L132.46 567.8 L133.00 567.0 L133.54 567.8 L134.80 572.1 L136.60 574.8ZM124.00 574.8 L126.50 574.0 L128.25 572.7 L129.00 572.5 L129.75 572.7 L131.50 574.0 L134.00 574.8Z" fill="#111"/><line x1="104.9" y1="574.8" x2="162.7" y2="574.8" stroke="#111" stroke-width="0.8"/><path d="M108.4 569.8 l0.6 1.5 l-0.8 1.6 l0.9 1.8" fill="none" stroke="#e0456e" stroke-width="0.6"/><path d="M158.7 569.8 l0.6 1.5 l-0.8 1.6 l0.9 1.8" fill="none" stroke="#e0456e" stroke-width="0.6"/><rect x="104.4" y="537.9" width="58.8" height="37.7" fill="none" stroke="#444" stroke-width="1.1"/><path d="M169.10 574.8 L170.15 573.1 L170.88 570.5 L171.20 570.0 L171.51 570.5 L172.25 573.1 L173.30 574.8ZM189.74 574.8 L190.57 569.3 L191.15 560.6 L191.40 559.0 L191.65 560.6 L192.23 569.3 L193.06 574.8ZM192.60 574.8 L193.50 563.7 L194.13 546.3 L194.40 543.1 L194.67 546.3 L195.30 563.7 L196.20 574.8ZM186.70 574.8 L187.60 573.1 L188.23 570.5 L188.50 570.0 L188.77 570.5 L189.40 573.1 L190.30 574.8Z" fill="#111"/><line x1="167.6" y1="574.8" x2="225.3" y2="574.8" stroke="#111" stroke-width="0.8"/><path d="M171.1 569.8 l0.6 1.5 l-0.8 1.6 l0.9 1.8" fill="none" stroke="#e0456e" stroke-width="0.6"/><path d="M221.3 569.8 l0.6 1.5 l-0.8 1.6 l0.9 1.8" fill="none" stroke="#e0456e" stroke-width="0.6"/><rect x="167.1" y="537.9" width="58.7" height="37.7" fill="none" stroke="#444" stroke-width="1.1"/><path d="M69.74 616.7 L70.57 605.7 L71.15 588.4 L71.40 585.2 L71.65 588.4 L72.23 605.7 L73.06 616.7ZM73.44 616.7 L74.27 607.6 L74.85 593.3 L75.10 590.7 L75.35 593.3 L75.93 607.6 L76.76 616.7ZM65.80 616.7 L66.55 615.8 L67.08 614.3 L67.30 614.0 L67.52 614.3 L68.05 615.8 L68.80 616.7Z" fill="#111"/><line x1="42.2" y1="616.7" x2="99.3" y2="616.7" stroke="#111" stroke-width="0.8"/><path d="M45.7 611.7 l0.6 1.5 l-0.8 1.6 l0.9 1.8" fill="none" stroke="#e0456e" stroke-width="0.6"/><path d="M95.3 611.7 l0.6 1.5 l-0.8 1.6 l0.9 1.8" fill="none" stroke="#e0456e" stroke-width="0.6"/><rect x="41.7" y="580" width="58.1" height="37.5" fill="none" stroke="#444" stroke-width="1.1"/><path d="M133.20 616.7 L134.25 608.1 L134.99 594.7 L135.30 592.2 L135.62 594.7 L136.35 608.1 L137.40 616.7ZM129.40 616.7 L131.20 614.0 L132.46 609.8 L133.00 609.0 L133.54 609.8 L134.80 614.0 L136.60 616.7ZM124.60 616.7 L126.80 615.8 L128.34 614.3 L129.00 614.0 L129.66 614.3 L131.20 615.8 L133.40 616.7Z" fill="#111"/><line x1="104.9" y1="616.7" x2="162.7" y2="616.7" stroke="#111" stroke-width="0.8"/><path d="M108.4 611.7 l0.6 1.5 l-0.8 1.6 l0.9 1.8" fill="none" stroke="#e0456e" stroke-width="0.6"/><path d="M158.7 611.7 l0.6 1.5 l-0.8 1.6 l0.9 1.8" fill="none" stroke="#e0456e" stroke-width="0.6"/><rect x="104.4" y="580" width="58.8" height="37.5" fill="none" stroke="#444" stroke-width="1.1"/><path d="M167.90 616.7 L168.95 612.0 L169.69 604.6 L170.00 603.3 L170.31 604.6 L171.05 612.0 L172.10 616.7ZM169.60 616.7 L170.60 614.4 L171.30 610.7 L171.60 610.0 L171.90 610.7 L172.60 614.4 L173.60 616.7ZM189.04 616.7 L189.87 607.2 L190.45 592.4 L190.70 589.7 L190.95 592.4 L191.53 607.2 L192.36 616.7ZM192.60 616.7 L193.50 605.6 L194.13 588.1 L194.40 584.9 L194.67 588.1 L195.30 605.6 L196.20 616.7ZM186.70 616.7 L187.60 615.1 L188.23 612.5 L188.50 612.0 L188.77 612.5 L189.40 615.1 L190.30 616.7Z" fill="#111"/><line x1="167.6" y1="616.7" x2="225.3" y2="616.7" stroke="#111" stroke-width="0.8"/><path d="M171.1 611.7 l0.6 1.5 l-0.8 1.6 l0.9 1.8" fill="none" stroke="#e0456e" stroke-width="0.6"/><path d="M221.3 611.7 l0.6 1.5 l-0.8 1.6 l0.9 1.8" fill="none" stroke="#e0456e" stroke-width="0.6"/><rect x="167.1" y="580" width="58.7" height="37.5" fill="none" stroke="#444" stroke-width="1.1"/><text x="243.4" y="273.1" font-size="18.5" font-weight="bold">E</text><rect x="279.3" y="322.1" width="5" height="10.3" fill="#111"/><line x1="281.8" y1="319.8" x2="281.8" y2="322.1" stroke="#111" stroke-width="0.8"/><line x1="280.6" y1="319.8" x2="283" y2="319.8" stroke="#111" stroke-width="0.8"/><rect x="285.9" y="325.5" width="5" height="6.9" fill="#111"/><line x1="288.4" y1="322.6" x2="288.4" y2="325.5" stroke="#111" stroke-width="0.8"/><line x1="287.2" y1="322.6" x2="289.6" y2="322.6" stroke="#111" stroke-width="0.8"/><rect x="292.5" y="328.4" width="5" height="4" fill="#111"/><line x1="295" y1="325.5" x2="295" y2="328.4" stroke="#111" stroke-width="0.8"/><line x1="293.8" y1="325.5" x2="296.2" y2="325.5" stroke="#111" stroke-width="0.8"/><rect x="299.2" y="326.1" width="5" height="6.3" fill="#111"/><rect x="305.8" y="331.5" width="5" height="0.9" fill="#111"/><rect x="312.4" y="330.8" width="5" height="1.6" fill="#111"/><rect x="319" y="326.1" width="5" height="6.3" fill="#111"/><rect x="325.6" y="328.2" width="5" height="4.2" fill="#111"/><line x1="328.1" y1="325" x2="328.1" y2="328.2" stroke="#111" stroke-width="0.8"/><line x1="326.9" y1="325" x2="329.3" y2="325" stroke="#111" stroke-width="0.8"/><rect x="332.3" y="330" width="5" height="2.4" fill="#111"/><line x1="334.8" y1="328" x2="334.8" y2="330" stroke="#111" stroke-width="0.8"/><line x1="333.6" y1="328" x2="336" y2="328" stroke="#111" stroke-width="0.8"/><rect x="338.9" y="331.5" width="5" height="0.9" fill="#111"/><rect x="345.5" y="329.3" width="5" height="3.1" fill="#111"/><rect x="352.1" y="330.5" width="5" height="1.9" fill="#111"/><rect x="358.7" y="327.9" width="5" height="4.5" fill="#111"/><line x1="361.2" y1="326.3" x2="361.2" y2="327.9" stroke="#111" stroke-width="0.8"/><line x1="360" y1="326.3" x2="362.4" y2="326.3" stroke="#111" stroke-width="0.8"/><rect x="365.4" y="328.9" width="5" height="3.5" fill="#111"/><line x1="367.9" y1="326" x2="367.9" y2="328.9" stroke="#111" stroke-width="0.8"/><line x1="366.7" y1="326" x2="369.1" y2="326" stroke="#111" stroke-width="0.8"/><rect x="372" y="330.5" width="5" height="1.9" fill="#111"/><rect x="378.6" y="324.2" width="5" height="8.2" fill="#111"/><line x1="381.1" y1="322.2" x2="381.1" y2="324.2" stroke="#111" stroke-width="0.8"/><line x1="379.9" y1="322.2" x2="382.3" y2="322.2" stroke="#111" stroke-width="0.8"/><rect x="385.2" y="331.2" width="5" height="1.2" fill="#111"/><rect x="391.8" y="328.2" width="5" height="4.2" fill="#111"/><line x1="394.3" y1="326" x2="394.3" y2="328.2" stroke="#111" stroke-width="0.8"/><line x1="393.1" y1="326" x2="395.5" y2="326" stroke="#111" stroke-width="0.8"/><rect x="398.5" y="326.1" width="5" height="6.3" fill="#111"/><line x1="401" y1="324" x2="401" y2="326.1" stroke="#111" stroke-width="0.8"/><line x1="399.8" y1="324" x2="402.2" y2="324" stroke="#111" stroke-width="0.8"/><rect x="405.1" y="331" width="5" height="1.4" fill="#111"/><rect x="280.6" y="381.1" width="5" height="7.5" fill="#111"/><rect x="287.2" y="382.5" width="5" height="6.1" fill="#111"/><rect x="293.8" y="385.1" width="5" height="3.5" fill="#111"/><rect x="300.5" y="388" width="5" height="0.6" fill="#111"/><rect x="319" y="381.5" width="5" height="7.1" fill="#111"/><rect x="325.6" y="382.5" width="5" height="6.1" fill="#111"/><rect x="338.9" y="386.5" width="5" height="2.1" fill="#111"/><rect x="345.5" y="384.3" width="5" height="4.3" fill="#111"/><rect x="352.1" y="386.3" width="5" height="2.3" fill="#111"/><rect x="358.7" y="381.9" width="5" height="6.7" fill="#111"/><rect x="365.4" y="385.7" width="5" height="2.9" fill="#111"/><rect x="372" y="386" width="5" height="2.6" fill="#111"/><rect x="385.2" y="386" width="5" height="2.6" fill="#111"/><rect x="391.8" y="376.3" width="5" height="12.3" fill="#111"/><rect x="398.5" y="387.2" width="5" height="1.4" fill="#111"/><rect x="286" y="442.4" width="4.8" height="1.8" fill="#111"/><rect x="398.7" y="407.7" width="5" height="36.5" fill="#111"/><rect x="276.7" y="282.9" width="135.8" height="49.5" fill="none" stroke="#222" stroke-width="1.0"/><rect x="276.7" y="339.3" width="135.8" height="49.3" fill="none" stroke="#222" stroke-width="1.0"/><rect x="276.7" y="395.2" width="135.8" height="49" fill="none" stroke="#222" stroke-width="1.0"/><text x="272.7" y="335" font-size="7.4" text-anchor="end" textLength="4.6" stroke="#111" stroke-width="0.25">0</text><line x1="274.9" y1="332.4" x2="276.7" y2="332.4" stroke="#111" stroke-width="0.8"/><text x="272.7" y="318.5" font-size="7.4" text-anchor="end" textLength="10.4" stroke="#111" stroke-width="0.25">10</text><line x1="274.9" y1="315.9" x2="276.7" y2="315.9" stroke="#111" stroke-width="0.8"/><text x="272.7" y="302" font-size="7.4" text-anchor="end" textLength="10.4" stroke="#111" stroke-width="0.25">20</text><line x1="274.9" y1="299.4" x2="276.7" y2="299.4" stroke="#111" stroke-width="0.8"/><text x="272.7" y="285.5" font-size="7.4" text-anchor="end" textLength="10.4" stroke="#111" stroke-width="0.25">30</text><text x="253.3" y="285.5" font-size="7.4" textLength="6.7" stroke="#111" stroke-width="0.2">%</text><text x="272.7" y="391.2" font-size="7.4" text-anchor="end" textLength="4.6" stroke="#111" stroke-width="0.25">0</text><line x1="274.9" y1="388.6" x2="276.7" y2="388.6" stroke="#111" stroke-width="0.8"/><text x="272.7" y="374.8" font-size="7.4" text-anchor="end" textLength="10.4" stroke="#111" stroke-width="0.25">10</text><line x1="274.9" y1="372.2" x2="276.7" y2="372.2" stroke="#111" stroke-width="0.8"/><text x="272.7" y="358.3" font-size="7.4" text-anchor="end" textLength="10.4" stroke="#111" stroke-width="0.25">20</text><line x1="274.9" y1="355.7" x2="276.7" y2="355.7" stroke="#111" stroke-width="0.8"/><text x="272.7" y="341.9" font-size="7.4" text-anchor="end" textLength="10.4" stroke="#111" stroke-width="0.25">30</text><text x="253.3" y="341.9" font-size="7.4" textLength="6.7" stroke="#111" stroke-width="0.2">%</text><text x="272.7" y="446.8" font-size="7.4" text-anchor="end" textLength="4.6" stroke="#111" stroke-width="0.25">0</text><line x1="274.9" y1="444.2" x2="276.7" y2="444.2" stroke="#111" stroke-width="0.8"/><text x="272.7" y="429.8" font-size="7.4" text-anchor="end" textLength="10.4" stroke="#111" stroke-width="0.25">10</text><line x1="274.9" y1="427.2" x2="276.7" y2="427.2" stroke="#111" stroke-width="0.8"/><text x="272.7" y="414.2" font-size="7.4" text-anchor="end" textLength="10.4" stroke="#111" stroke-width="0.25">70</text><line x1="274.9" y1="411.6" x2="276.7" y2="411.6" stroke="#111" stroke-width="0.8"/><text x="272.7" y="397.8" font-size="7.4" text-anchor="end" textLength="10.4" stroke="#111" stroke-width="0.25">80</text><text x="253.3" y="397.8" font-size="7.4" textLength="6.7" stroke="#111" stroke-width="0.2">%</text><rect x="273" y="418.2" width="5" height="3.4" fill="#fff" transform="rotate(-35 275.5 419.9)"/><line x1="273.4" y1="422.4" x2="281.2" y2="417.5" stroke="#444" stroke-width="0.7"/><rect x="397.5" y="419.2" width="7.5" height="2.2" fill="#fff" transform="rotate(-32 401.2 420.3)"/><line x1="396.3" y1="423.6" x2="406.2" y2="417.7" stroke="#666" stroke-width="0.8"/><text x="283.3" y="295.8" font-size="10.4" textLength="57.6" stroke="#111" stroke-width="0.1">Control CD8</text><text x="342.1" y="292.4" font-size="5.2">+</text><text x="349.6" y="295.8" font-size="10.4" stroke="#111" stroke-width="0.1">T</text><text x="283.6" y="351.9" font-size="10.4" textLength="57.4" stroke="#111" stroke-width="0.1">Patient CD8</text><text x="341.6" y="348.4" font-size="5.2">+</text><text x="348.4" y="351.9" font-size="10.4" stroke="#111" stroke-width="0.1">T</text><text x="283.6" y="407.2" font-size="10.4" textLength="33.3" stroke="#111" stroke-width="0.1">Patient</text><text x="283.6" y="416.9" font-size="10.4" textLength="25.2" stroke="#111" stroke-width="0.1">CD18</text><text x="310.3" y="413.5" font-size="5.2">+</text><text x="317.1" y="416.9" font-size="10.4" textLength="20.4" stroke="#111" stroke-width="0.1">CD8</text><text x="338.9" y="413.5" font-size="5.2">+</text><text x="346.3" y="416.9" font-size="10.4" stroke="#111" stroke-width="0.1">T</text><text transform="translate(283.2,448.4) rotate(-90)" font-size="5" text-anchor="end" fill="#1a1a1a" stroke="#1a1a1a" stroke-width="0.3">1</text><text transform="translate(289.5,448.4) rotate(-90)" font-size="5" text-anchor="end" fill="#1a1a1a" stroke="#1a1a1a" stroke-width="0.3">2</text><text transform="translate(295.8,448.4) rotate(-90)" font-size="5" text-anchor="end" fill="#1a1a1a" stroke="#1a1a1a" stroke-width="0.3">3</text><text transform="translate(302,448.4) rotate(-90)" font-size="5" text-anchor="end" fill="#1a1a1a" stroke="#1a1a1a" stroke-width="0.3">5.1</text><text transform="translate(308.3,448.4) rotate(-90)" font-size="5" text-anchor="end" fill="#1a1a1a" stroke="#1a1a1a" stroke-width="0.3">5.2</text><text transform="translate(314.6,448.4) rotate(-90)" font-size="5" text-anchor="end" fill="#1a1a1a" stroke="#1a1a1a" stroke-width="0.3">5.3</text><text transform="translate(320.8,448.4) rotate(-90)" font-size="5" text-anchor="end" fill="#1a1a1a" stroke="#1a1a1a" stroke-width="0.3">7</text><text transform="translate(327.1,448.4) rotate(-90)" font-size="5" text-anchor="end" fill="#1a1a1a" stroke="#1a1a1a" stroke-width="0.3">8</text><text transform="translate(333.4,448.4) rotate(-90)" font-size="5" text-anchor="end" fill="#1a1a1a" stroke="#1a1a1a" stroke-width="0.3">9</text><text transform="translate(339.7,448.4) rotate(-90)" font-size="5" text-anchor="end" fill="#1a1a1a" stroke="#1a1a1a" stroke-width="0.3">11</text><text transform="translate(345.9,448.4) rotate(-90)" font-size="5" text-anchor="end" fill="#1a1a1a" stroke="#1a1a1a" stroke-width="0.3">12</text><text transform="translate(352.2,448.4) rotate(-90)" font-size="5" text-anchor="end" fill="#1a1a1a" stroke="#1a1a1a" stroke-width="0.3">13.1</text><text transform="translate(358.5,448.4) rotate(-90)" font-size="5" text-anchor="end" fill="#1a1a1a" stroke="#1a1a1a" stroke-width="0.3">13.2</text><text transform="translate(364.8,448.4) rotate(-90)" font-size="5" text-anchor="end" fill="#1a1a1a" stroke="#1a1a1a" stroke-width="0.3">13.6</text><text transform="translate(371.1,448.4) rotate(-90)" font-size="5" text-anchor="end" fill="#1a1a1a" stroke="#1a1a1a" stroke-width="0.3">14</text><text transform="translate(377.3,448.4) rotate(-90)" font-size="5" text-anchor="end" fill="#1a1a1a" stroke="#1a1a1a" stroke-width="0.3">16</text><text transform="translate(383.6,448.4) rotate(-90)" font-size="5" text-anchor="end" fill="#1a1a1a" stroke="#1a1a1a" stroke-width="0.3">17</text><text transform="translate(389.9,448.4) rotate(-90)" font-size="5" text-anchor="end" fill="#1a1a1a" stroke="#1a1a1a" stroke-width="0.3">18</text><text transform="translate(396.1,448.4) rotate(-90)" font-size="5" text-anchor="end" fill="#1a1a1a" stroke="#1a1a1a" stroke-width="0.3">20</text><text transform="translate(402.4,448.4) rotate(-90)" font-size="5" text-anchor="end" fill="#1a1a1a" stroke="#1a1a1a" stroke-width="0.3">22</text><text transform="translate(408.7,448.4) rotate(-90)" font-size="5" text-anchor="end" fill="#1a1a1a" stroke="#1a1a1a" stroke-width="0.3">23</text><text x="432.4" y="273.1" font-size="18.5" font-weight="bold">F</text><text x="439.2" y="291.9" font-size="9.6" textLength="68.5" stroke="#111" stroke-width="0.1">Control PBMCs</text><text x="439.9" y="350.4" font-size="9.6" textLength="67.8" stroke="#111" stroke-width="0.1">Patient PBMCs</text><text x="439.6" y="409.5" font-size="9.6" textLength="32.5" stroke="#111" stroke-width="0.1">Patient</text><text x="476.1" y="409.5" font-size="9.6" textLength="26.0" stroke="#111" stroke-width="0.1">CD18</text><text x="502.9" y="406.6" font-size="5.2">+</text><text x="511" y="409.5" font-size="9.6" stroke="#111" stroke-width="0.1">T</text><path d="M462.30 333.0 L463.00 332.3 L463.49 331.2 L463.70 331.0 L463.91 331.2 L464.40 332.3 L465.10 333.0ZM464.50 333.0 L465.25 329.1 L465.77 323.0 L466.00 321.9 L466.23 323.0 L466.75 329.1 L467.50 333.0ZM467.50 333.0 L468.25 328.6 L468.77 321.6 L469.00 320.3 L469.23 321.6 L469.75 328.6 L470.50 333.0ZM470.40 333.0 L471.15 326.7 L471.67 316.8 L471.90 315.0 L472.12 316.8 L472.65 326.7 L473.40 333.0ZM473.30 333.0 L474.05 322.7 L474.57 306.6 L474.80 303.7 L475.03 306.6 L475.55 322.7 L476.30 333.0ZM476.10 333.0 L476.85 327.3 L477.38 318.2 L477.60 316.6 L477.83 318.2 L478.35 327.3 L479.10 333.0ZM478.80 333.0 L479.55 331.2 L480.07 328.5 L480.30 328.0 L480.53 328.5 L481.05 331.2 L481.80 333.0ZM482.90 333.0 L483.60 332.5 L484.09 331.6 L484.30 331.5 L484.51 331.6 L485.00 332.5 L485.70 333.0ZM466.30 333.0 L466.90 330.9 L467.32 327.6 L467.50 327.0 L467.68 327.6 L468.10 330.9 L468.70 333.0ZM469.30 333.0 L469.90 330.2 L470.32 325.8 L470.50 325.0 L470.68 325.8 L471.10 330.2 L471.70 333.0ZM472.10 333.0 L472.70 329.1 L473.12 323.1 L473.30 322.0 L473.48 323.1 L473.90 329.1 L474.50 333.0ZM475.00 333.0 L475.60 329.9 L476.02 324.9 L476.20 324.0 L476.38 324.9 L476.80 329.9 L477.40 333.0ZM477.80 333.0 L478.40 330.9 L478.82 327.6 L479.00 327.0 L479.18 327.6 L479.60 330.9 L480.20 333.0ZM457.2 333 L457.2 333 L457.7 333 L458.2 333 L458.7 333 L459.2 333 L459.7 333 L460.2 333 L460.7 333 L461.2 332.9 L461.7 332.9 L462.2 332.9 L462.7 332.8 L463.2 332.8 L463.7 332.7 L464.2 332.6 L464.7 332.4 L465.2 332.3 L465.7 332.1 L466.2 331.9 L466.7 331.7 L467.2 331.4 L467.7 331.1 L468.2 330.7 L468.7 330.4 L469.2 330 L469.7 329.7 L470.2 329.3 L470.7 329 L471.2 328.7 L471.7 328.4 L472.2 328.2 L472.7 328.1 L473.2 328 L473.7 328 L474.2 328.1 L474.7 328.2 L475.2 328.4 L475.7 328.6 L476.2 328.9 L476.7 329.3 L477.2 329.6 L477.7 330 L478.2 330.3 L478.7 330.7 L479.2 331 L479.7 331.3 L480.2 331.6 L480.7 331.8 L481.2 332.1 L481.7 332.3 L482.2 332.4 L482.7 332.5 L483.2 332.7 L483.7 332.7 L484.2 332.8 L484.7 332.9 L485.2 332.9 L485.7 332.9 L486.2 332.9 L486.7 333 L487.2 333 L487.7 333 L488.2 333 L488.7 333 L489.2 333 L489.7 333 L490.2 333 L490.7 333 L491.2 333 L491.7 333 L492.2 333 L492.2 333Z" fill="#111"/><rect x="456.2" y="296.5" width="37.3" height="37.3" fill="none" stroke="#333" stroke-width="1.1"/><path d="M465.20 391.3 L466.00 380.9 L466.56 364.7 L466.80 361.7 L467.04 364.7 L467.60 380.9 L468.40 391.3ZM471.40 391.3 L472.05 389.3 L472.50 386.1 L472.70 385.5 L472.89 386.1 L473.35 389.3 L474.00 391.3ZM474.70 391.3 L475.35 388.6 L475.81 384.5 L476.00 383.7 L476.19 384.5 L476.65 388.6 L477.30 391.3ZM477.60 391.3 L478.25 389.0 L478.70 385.4 L478.90 384.7 L479.09 385.4 L479.55 389.0 L480.20 391.3ZM468.10 391.3 L468.80 389.8 L469.29 387.4 L469.50 387.0 L469.71 387.4 L470.20 389.8 L470.90 391.3ZM473.30 391.3 L473.90 390.1 L474.32 388.3 L474.50 388.0 L474.68 388.3 L475.10 390.1 L475.70 391.3ZM479.40 391.3 L480.20 390.3 L480.76 388.8 L481.00 388.5 L481.24 388.8 L481.80 390.3 L482.60 391.3ZM481.90 391.3 L482.70 390.8 L483.26 390.1 L483.50 390.0 L483.74 390.1 L484.30 390.8 L485.10 391.3ZM457.2 391.3 L457.2 391.3 L457.7 391.3 L458.2 391.3 L458.7 391.3 L459.2 391.3 L459.7 391.3 L460.2 391.3 L460.7 391.3 L461.2 391.3 L461.7 391.3 L462.2 391.3 L462.7 391.3 L463.2 391.2 L463.7 391.2 L464.2 391 L464.7 390.7 L465.2 390.3 L465.7 389.7 L466.2 389 L466.7 388.2 L467.2 387.4 L467.7 387 L468.2 386.8 L468.7 387 L469.2 387.5 L469.7 388.1 L470.2 388.7 L470.7 389.1 L471.2 389.4 L471.7 389.5 L472.2 389.5 L472.7 389.4 L473.2 389.3 L473.7 389.2 L474.2 389.1 L474.7 389.1 L475.2 389.1 L475.7 389.1 L476.2 389.2 L476.7 389.3 L477.2 389.4 L477.7 389.5 L478.2 389.7 L478.7 389.9 L479.2 390 L479.7 390.2 L480.2 390.4 L480.7 390.5 L481.2 390.6 L481.7 390.8 L482.2 390.9 L482.7 391 L483.2 391 L483.7 391.1 L484.2 391.1 L484.7 391.2 L485.2 391.2 L485.7 391.2 L486.2 391.3 L486.7 391.3 L487.2 391.3 L487.7 391.3 L488.2 391.3 L488.7 391.3 L489.2 391.3 L489.7 391.3 L490.2 391.3 L490.7 391.3 L491.2 391.3 L491.7 391.3 L492.2 391.3 L492.2 391.3Z" fill="#111"/><rect x="456.2" y="354.8" width="37.3" height="37.3" fill="none" stroke="#333" stroke-width="1.1"/><path d="M465.20 449.5 L466.05 439.5 L466.64 423.8 L466.90 420.9 L467.15 423.8 L467.75 439.5 L468.60 449.5ZM457.2 449.5 L457.2 449.5 L457.7 449.5 L458.2 449.5 L458.7 449.5 L459.2 449.5 L459.7 449.5 L460.2 449.5 L460.7 449.5 L461.2 449.5 L461.7 449.5 L462.2 449.5 L462.7 449.5 L463.2 449.5 L463.7 449.5 L464.2 449.4 L464.7 449.3 L465.2 448.9 L465.7 448.3 L466.2 447.5 L466.7 446.8 L467.2 446.5 L467.7 446.8 L468.2 447.5 L468.7 448.3 L469.2 448.9 L469.7 449.3 L470.2 449.4 L470.7 449.5 L471.2 449.5 L471.7 449.5 L472.2 449.5 L472.7 449.5 L473.2 449.5 L473.7 449.5 L474.2 449.5 L474.7 449.5 L475.2 449.5 L475.7 449.5 L476.2 449.5 L476.7 449.5 L477.2 449.5 L477.7 449.5 L478.2 449.5 L478.7 449.5 L479.2 449.5 L479.7 449.5 L480.2 449.5 L480.7 449.5 L481.2 449.5 L481.7 449.5 L482.2 449.5 L482.7 449.5 L483.2 449.5 L483.7 449.5 L484.2 449.5 L484.7 449.5 L485.2 449.5 L485.7 449.5 L486.2 449.5 L486.7 449.5 L487.2 449.5 L487.7 449.5 L488.2 449.5 L488.7 449.5 L489.2 449.5 L489.7 449.5 L490.2 449.5 L490.7 449.5 L491.2 449.5 L491.7 449.5 L492.2 449.5 L492.2 449.5Z" fill="#111"/><rect x="456.2" y="413" width="37.3" height="37.3" fill="none" stroke="#333" stroke-width="1.1"/><text x="258.6" y="493.3" font-size="18.5" font-weight="bold">G</text><text transform="translate(269.2,593.4) rotate(-90)" font-size="9.6" textLength="75.7" stroke="#111" stroke-width="0.1">% of expression</text><rect x="288.3" y="511" width="102.9" height="87.8" fill="none" stroke="#222" stroke-width="1.0"/><line x1="286.5" y1="598.8" x2="288.3" y2="598.8" stroke="#111" stroke-width="0.8"/><text x="285.1" y="602.1" font-size="7.6" text-anchor="end" textLength="4.7" stroke="#111" stroke-width="0.1">0</text><line x1="286.5" y1="569.5" x2="288.3" y2="569.5" stroke="#111" stroke-width="0.8"/><text x="285.1" y="572.8" font-size="7.6" text-anchor="end" textLength="9.5" stroke="#111" stroke-width="0.1">20</text><line x1="286.5" y1="540.3" x2="288.3" y2="540.3" stroke="#111" stroke-width="0.8"/><text x="285.1" y="543.6" font-size="7.6" text-anchor="end" textLength="9.5" stroke="#111" stroke-width="0.1">40</text><line x1="286.5" y1="511" x2="288.3" y2="511" stroke="#111" stroke-width="0.8"/><text x="285.1" y="514.3" font-size="7.6" text-anchor="end" textLength="9.5" stroke="#111" stroke-width="0.1">60</text><line x1="288.3" y1="598.8" x2="289.3" y2="598.8" stroke="#555" stroke-width="0.6"/><line x1="288.3" y1="584.2" x2="289.3" y2="584.2" stroke="#555" stroke-width="0.6"/><line x1="288.3" y1="569.5" x2="289.3" y2="569.5" stroke="#555" stroke-width="0.6"/><line x1="288.3" y1="554.9" x2="289.3" y2="554.9" stroke="#555" stroke-width="0.6"/><line x1="288.3" y1="540.3" x2="289.3" y2="540.3" stroke="#555" stroke-width="0.6"/><line x1="288.3" y1="525.6" x2="289.3" y2="525.6" stroke="#555" stroke-width="0.6"/><line x1="288.3" y1="511" x2="289.3" y2="511" stroke="#555" stroke-width="0.6"/><text x="278.4" y="505.4" font-size="6.8" stroke="#111" stroke-width="0.1">%</text><text x="294.6" y="525.4" font-size="9.6" textLength="26.5" stroke="#111" stroke-width="0.1">CD69</text><rect x="292.6" y="597.6" width="5.6" height="1.2" fill="#fff" stroke="#333" stroke-width="0.7"/><rect x="304.2" y="596.6" width="5.6" height="2.2" fill="#111"/><rect x="319.6" y="596.6" width="5.6" height="2.2" fill="#fff" stroke="#333" stroke-width="0.7"/><rect x="325.2" y="540" width="6" height="58.8" fill="#aaaaaa" stroke="#222" stroke-width="0.8"/><rect x="331.2" y="588.8" width="5.6" height="10" fill="#111"/><line x1="334" y1="586.4" x2="334" y2="588.8" stroke="#111" stroke-width="0.8"/><line x1="332.7" y1="586.4" x2="335.3" y2="586.4" stroke="#111" stroke-width="0.8"/><rect x="345.6" y="595.4" width="5.6" height="3.4" fill="#fff" stroke="#333" stroke-width="0.7"/><rect x="351.2" y="521" width="6" height="77.8" fill="#aaaaaa" stroke="#222" stroke-width="0.8"/><rect x="357.2" y="576.1" width="5.6" height="22.7" fill="#111"/><line x1="360" y1="571.7" x2="360" y2="576.1" stroke="#111" stroke-width="0.8"/><line x1="358.7" y1="571.7" x2="361.3" y2="571.7" stroke="#111" stroke-width="0.8"/><rect x="371.6" y="596.6" width="5.6" height="2.2" fill="#fff" stroke="#333" stroke-width="0.7"/><rect x="377.2" y="531.2" width="6" height="67.6" fill="#aaaaaa" stroke="#222" stroke-width="0.8"/><rect x="383.2" y="578.6" width="5.6" height="20.2" fill="#111"/><line x1="386" y1="570.3" x2="386" y2="578.6" stroke="#111" stroke-width="0.8"/><line x1="384.7" y1="570.3" x2="387.3" y2="570.3" stroke="#111" stroke-width="0.8"/><text x="290.4" y="611.8" font-size="9.6" textLength="22.5" stroke="#111" stroke-width="0.1">none</text><text x="318.7" y="611.8" font-size="9.6" textLength="19.0" stroke="#111" stroke-width="0.1">CD2</text><text x="344.8" y="611.8" font-size="9.6" textLength="19.0" stroke="#111" stroke-width="0.1">CD2</text><text x="371" y="611.8" font-size="9.6" textLength="19.0" stroke="#111" stroke-width="0.1">CD2</text><text x="354.3" y="621.1" font-size="8.5" text-anchor="middle" stroke="#111" stroke-width="0.1">+</text><text x="380.5" y="621.1" font-size="8.5" text-anchor="middle" stroke="#111" stroke-width="0.1">+</text><text x="345.6" y="629.4" font-size="9.6" textLength="17.5" stroke="#111" stroke-width="0.1">IL-2</text><text x="367.7" y="629.4" font-size="9.6" textLength="24.8" stroke="#111" stroke-width="0.1">CD28</text><rect x="414.7" y="511.2" width="104.1" height="88" fill="none" stroke="#222" stroke-width="1.0"/><line x1="412.9" y1="599.2" x2="414.7" y2="599.2" stroke="#111" stroke-width="0.8"/><text x="411.5" y="602.5" font-size="7.6" text-anchor="end" textLength="4.7" stroke="#111" stroke-width="0.1">0</text><line x1="412.9" y1="569.9" x2="414.7" y2="569.9" stroke="#111" stroke-width="0.8"/><text x="411.5" y="573.2" font-size="7.6" text-anchor="end" textLength="9.5" stroke="#111" stroke-width="0.1">10</text><line x1="412.9" y1="540.5" x2="414.7" y2="540.5" stroke="#111" stroke-width="0.8"/><text x="411.5" y="543.8" font-size="7.6" text-anchor="end" textLength="9.5" stroke="#111" stroke-width="0.1">20</text><line x1="412.9" y1="511.2" x2="414.7" y2="511.2" stroke="#111" stroke-width="0.8"/><text x="411.5" y="514.5" font-size="7.6" text-anchor="end" textLength="9.5" stroke="#111" stroke-width="0.1">30</text><line x1="414.7" y1="599.2" x2="415.7" y2="599.2" stroke="#555" stroke-width="0.6"/><line x1="414.7" y1="584.5" x2="415.7" y2="584.5" stroke="#555" stroke-width="0.6"/><line x1="414.7" y1="569.9" x2="415.7" y2="569.9" stroke="#555" stroke-width="0.6"/><line x1="414.7" y1="555.2" x2="415.7" y2="555.2" stroke="#555" stroke-width="0.6"/><line x1="414.7" y1="540.5" x2="415.7" y2="540.5" stroke="#555" stroke-width="0.6"/><line x1="414.7" y1="525.9" x2="415.7" y2="525.9" stroke="#555" stroke-width="0.6"/><line x1="414.7" y1="511.2" x2="415.7" y2="511.2" stroke="#555" stroke-width="0.6"/><text x="405" y="505.6" font-size="6.8" stroke="#111" stroke-width="0.1">%</text><text x="421" y="525.6" font-size="9.6" textLength="25.7" stroke="#111" stroke-width="0.1">CD25</text><rect x="419" y="598" width="5.6" height="1.2" fill="#fff" stroke="#333" stroke-width="0.7"/><rect x="430.6" y="598" width="5.6" height="1.2" fill="#111"/><rect x="444.6" y="598" width="5.6" height="1.2" fill="#fff" stroke="#333" stroke-width="0.7"/><rect x="450.2" y="545.8" width="6" height="53.4" fill="#aaaaaa" stroke="#222" stroke-width="0.8"/><rect x="456.2" y="593.9" width="5.6" height="5.3" fill="#111"/><line x1="459" y1="592.5" x2="459" y2="593.9" stroke="#111" stroke-width="0.8"/><line x1="457.7" y1="592.5" x2="460.3" y2="592.5" stroke="#111" stroke-width="0.8"/><rect x="471" y="597.4" width="5.6" height="1.8" fill="#fff" stroke="#333" stroke-width="0.7"/><rect x="476.6" y="529.1" width="6" height="70.1" fill="#aaaaaa" stroke="#222" stroke-width="0.8"/><rect x="482.6" y="580.4" width="5.6" height="18.8" fill="#111"/><line x1="485.4" y1="572.2" x2="485.4" y2="580.4" stroke="#111" stroke-width="0.8"/><line x1="484.1" y1="572.2" x2="486.7" y2="572.2" stroke="#111" stroke-width="0.8"/><rect x="497.2" y="598" width="5.6" height="1.2" fill="#fff" stroke="#333" stroke-width="0.7"/><rect x="502.8" y="517.7" width="6" height="81.5" fill="#aaaaaa" stroke="#222" stroke-width="0.8"/><rect x="508.8" y="578.7" width="5.6" height="20.5" fill="#111"/><line x1="511.6" y1="566.6" x2="511.6" y2="578.7" stroke="#111" stroke-width="0.8"/><line x1="510.3" y1="566.6" x2="512.9" y2="566.6" stroke="#111" stroke-width="0.8"/><text x="417.1" y="612.2" font-size="9.6" textLength="22.5" stroke="#111" stroke-width="0.1">none</text><text x="444.8" y="612.2" font-size="9.6" textLength="19.0" stroke="#111" stroke-width="0.1">CD2</text><text x="470.7" y="612.2" font-size="9.6" textLength="19.0" stroke="#111" stroke-width="0.1">CD2</text><text x="496.9" y="612.2" font-size="9.6" textLength="19.0" stroke="#111" stroke-width="0.1">CD2</text><text x="480.2" y="621.5" font-size="8.5" text-anchor="middle" stroke="#111" stroke-width="0.1">+</text><text x="506.4" y="621.5" font-size="8.5" text-anchor="middle" stroke="#111" stroke-width="0.1">+</text><text x="471.5" y="629.8" font-size="9.6" textLength="17.5" stroke="#111" stroke-width="0.1">IL-2</text><text x="493.6" y="629.8" font-size="9.6" textLength="24.8" stroke="#111" stroke-width="0.1">CD28</text>
</svg>
</body></html>
